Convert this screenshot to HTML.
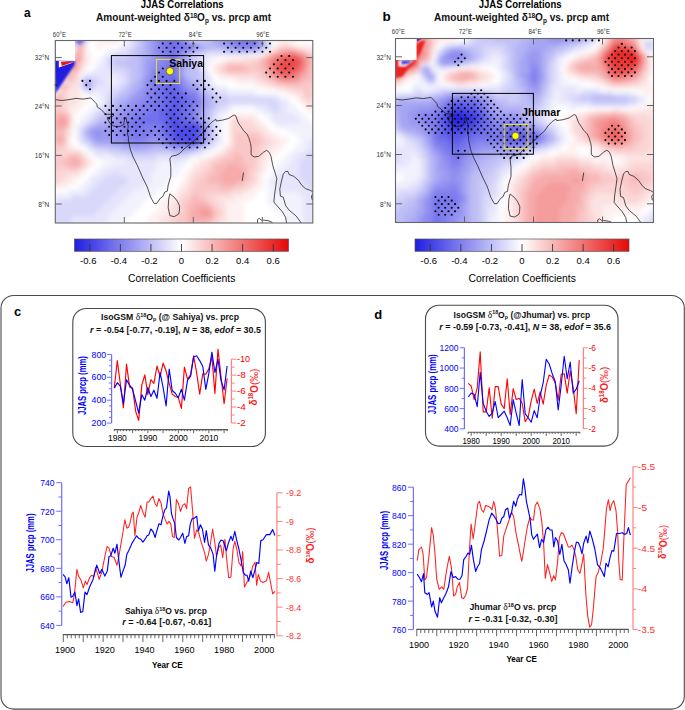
<!DOCTYPE html>
<html><head><meta charset="utf-8"><style>
html,body{margin:0;padding:0;background:#fff;}
svg{display:block;font-family:"Liberation Sans",sans-serif;}
</style></head><body>
<svg width="685" height="710" viewBox="0 0 685 710">
<defs><filter id="fb" x="-5%" y="-5%" width="110%" height="110%"><feGaussianBlur stdDeviation="2.2"/></filter><filter id="fb2" x="-20%" y="-20%" width="140%" height="140%"><feGaussianBlur stdDeviation="1.0"/></filter></defs>
<clipPath id="ca"><rect x="55.3" y="40.5" width="257.5" height="182.5"/></clipPath>
<g clip-path="url(#ca)">
<g filter="url(#fb)">
<rect x="51.3" y="36.5" width="4.6" height="4.6" fill="#211ee1"/>
<rect x="55.3" y="36.5" width="4.6" height="4.6" fill="#2724e2"/>
<rect x="59.3" y="36.5" width="4.6" height="4.6" fill="#5a58e9"/>
<rect x="63.3" y="36.5" width="4.6" height="4.6" fill="#7372ec"/>
<rect x="67.3" y="36.5" width="4.6" height="4.6" fill="#9a98f1"/>
<rect x="71.3" y="36.5" width="4.6" height="4.6" fill="#b3b2f5"/>
<rect x="75.3" y="36.5" width="8.6" height="4.6" fill="#a6a5f3"/>
<rect x="83.3" y="36.5" width="4.6" height="4.6" fill="#d9d8fa"/>
<rect x="87.3" y="36.5" width="4.6" height="4.6" fill="#f2f2fd"/>
<rect x="95.3" y="36.5" width="8.6" height="4.6" fill="#fef1f1"/>
<rect x="103.3" y="36.5" width="16.6" height="4.6" fill="#fce3e3"/>
<rect x="127.3" y="36.5" width="4.6" height="4.6" fill="#e6e5fc"/>
<rect x="131.3" y="36.5" width="4.6" height="4.6" fill="#d9d8fa"/>
<rect x="135.3" y="36.5" width="4.6" height="4.6" fill="#ccccf8"/>
<rect x="139.3" y="36.5" width="4.6" height="4.6" fill="#c0bff6"/>
<rect x="143.3" y="36.5" width="4.6" height="4.6" fill="#b3b2f5"/>
<rect x="147.3" y="36.5" width="4.6" height="4.6" fill="#a6a5f3"/>
<rect x="151.3" y="36.5" width="4.6" height="4.6" fill="#9a98f1"/>
<rect x="155.3" y="36.5" width="4.6" height="4.6" fill="#8d8bf0"/>
<rect x="159.3" y="36.5" width="8.6" height="4.6" fill="#807eee"/>
<rect x="167.3" y="36.5" width="4.6" height="4.6" fill="#7372ec"/>
<rect x="171.3" y="36.5" width="4.6" height="4.6" fill="#6765ea"/>
<rect x="175.3" y="36.5" width="4.6" height="4.6" fill="#7372ec"/>
<rect x="179.3" y="36.5" width="4.6" height="4.6" fill="#8d8bf0"/>
<rect x="183.3" y="36.5" width="4.6" height="4.6" fill="#a6a5f3"/>
<rect x="187.3" y="36.5" width="4.6" height="4.6" fill="#c0bff6"/>
<rect x="191.3" y="36.5" width="8.6" height="4.6" fill="#d9d8fa"/>
<rect x="199.3" y="36.5" width="8.6" height="4.6" fill="#ccccf8"/>
<rect x="207.3" y="36.5" width="4.6" height="4.6" fill="#c0bff6"/>
<rect x="211.3" y="36.5" width="4.6" height="4.6" fill="#b3b2f5"/>
<rect x="215.3" y="36.5" width="4.6" height="4.6" fill="#a6a5f3"/>
<rect x="219.3" y="36.5" width="4.6" height="4.6" fill="#9a98f1"/>
<rect x="223.3" y="36.5" width="8.6" height="4.6" fill="#8d8bf0"/>
<rect x="231.3" y="36.5" width="4.6" height="4.6" fill="#807eee"/>
<rect x="235.3" y="36.5" width="8.6" height="4.6" fill="#7372ec"/>
<rect x="243.3" y="36.5" width="8.6" height="4.6" fill="#6765ea"/>
<rect x="251.3" y="36.5" width="4.6" height="4.6" fill="#5a58e9"/>
<rect x="255.3" y="36.5" width="4.6" height="4.6" fill="#7372ec"/>
<rect x="259.3" y="36.5" width="4.6" height="4.6" fill="#a6a5f3"/>
<rect x="263.3" y="36.5" width="4.6" height="4.6" fill="#ccccf8"/>
<rect x="267.3" y="36.5" width="4.6" height="4.6" fill="#e6e5fc"/>
<rect x="275.3" y="36.5" width="32.6" height="4.6" fill="#fef1f1"/>
<rect x="51.3" y="40.5" width="4.6" height="4.6" fill="#211ee1"/>
<rect x="55.3" y="40.5" width="4.6" height="4.6" fill="#2724e2"/>
<rect x="59.3" y="40.5" width="4.6" height="4.6" fill="#4d4be7"/>
<rect x="63.3" y="40.5" width="4.6" height="4.6" fill="#807eee"/>
<rect x="67.3" y="40.5" width="4.6" height="4.6" fill="#a6a5f3"/>
<rect x="71.3" y="40.5" width="4.6" height="4.6" fill="#c0bff6"/>
<rect x="75.3" y="40.5" width="4.6" height="4.6" fill="#a6a5f3"/>
<rect x="79.3" y="40.5" width="4.6" height="4.6" fill="#9a98f1"/>
<rect x="83.3" y="40.5" width="4.6" height="4.6" fill="#d9d8fa"/>
<rect x="95.3" y="40.5" width="24.6" height="4.6" fill="#fef1f1"/>
<rect x="123.3" y="40.5" width="4.6" height="4.6" fill="#f2f2fd"/>
<rect x="127.3" y="40.5" width="4.6" height="4.6" fill="#e6e5fc"/>
<rect x="131.3" y="40.5" width="4.6" height="4.6" fill="#d9d8fa"/>
<rect x="135.3" y="40.5" width="4.6" height="4.6" fill="#ccccf8"/>
<rect x="139.3" y="40.5" width="4.6" height="4.6" fill="#c0bff6"/>
<rect x="143.3" y="40.5" width="4.6" height="4.6" fill="#b3b2f5"/>
<rect x="147.3" y="40.5" width="4.6" height="4.6" fill="#a6a5f3"/>
<rect x="151.3" y="40.5" width="4.6" height="4.6" fill="#9a98f1"/>
<rect x="155.3" y="40.5" width="4.6" height="4.6" fill="#8d8bf0"/>
<rect x="159.3" y="40.5" width="8.6" height="4.6" fill="#807eee"/>
<rect x="167.3" y="40.5" width="12.6" height="4.6" fill="#7372ec"/>
<rect x="179.3" y="40.5" width="4.6" height="4.6" fill="#807eee"/>
<rect x="183.3" y="40.5" width="4.6" height="4.6" fill="#8d8bf0"/>
<rect x="187.3" y="40.5" width="4.6" height="4.6" fill="#a6a5f3"/>
<rect x="191.3" y="40.5" width="4.6" height="4.6" fill="#b3b2f5"/>
<rect x="195.3" y="40.5" width="16.6" height="4.6" fill="#c0bff6"/>
<rect x="211.3" y="40.5" width="4.6" height="4.6" fill="#b3b2f5"/>
<rect x="215.3" y="40.5" width="8.6" height="4.6" fill="#a6a5f3"/>
<rect x="223.3" y="40.5" width="4.6" height="4.6" fill="#9a98f1"/>
<rect x="227.3" y="40.5" width="8.6" height="4.6" fill="#8d8bf0"/>
<rect x="235.3" y="40.5" width="20.6" height="4.6" fill="#807eee"/>
<rect x="255.3" y="40.5" width="4.6" height="4.6" fill="#8d8bf0"/>
<rect x="259.3" y="40.5" width="4.6" height="4.6" fill="#a6a5f3"/>
<rect x="263.3" y="40.5" width="4.6" height="4.6" fill="#ccccf8"/>
<rect x="267.3" y="40.5" width="4.6" height="4.6" fill="#e6e5fc"/>
<rect x="275.3" y="40.5" width="8.6" height="4.6" fill="#fef1f1"/>
<rect x="283.3" y="40.5" width="4.6" height="4.6" fill="#fce3e3"/>
<rect x="287.3" y="40.5" width="8.6" height="4.6" fill="#fef1f1"/>
<rect x="51.3" y="44.5" width="8.6" height="4.6" fill="#211ee1"/>
<rect x="59.3" y="44.5" width="4.6" height="4.6" fill="#4d4be7"/>
<rect x="63.3" y="44.5" width="4.6" height="4.6" fill="#807eee"/>
<rect x="67.3" y="44.5" width="4.6" height="4.6" fill="#b3b2f5"/>
<rect x="71.3" y="44.5" width="4.6" height="4.6" fill="#f2f2fd"/>
<rect x="75.3" y="44.5" width="4.6" height="4.6" fill="#f9c7c7"/>
<rect x="79.3" y="44.5" width="4.6" height="4.6" fill="#f6aaaa"/>
<rect x="83.3" y="44.5" width="4.6" height="4.6" fill="#fce3e3"/>
<rect x="95.3" y="44.5" width="8.6" height="4.6" fill="#fef1f1"/>
<rect x="119.3" y="44.5" width="4.6" height="4.6" fill="#f2f2fd"/>
<rect x="123.3" y="44.5" width="8.6" height="4.6" fill="#e6e5fc"/>
<rect x="131.3" y="44.5" width="4.6" height="4.6" fill="#d9d8fa"/>
<rect x="135.3" y="44.5" width="4.6" height="4.6" fill="#ccccf8"/>
<rect x="139.3" y="44.5" width="4.6" height="4.6" fill="#c0bff6"/>
<rect x="143.3" y="44.5" width="4.6" height="4.6" fill="#b3b2f5"/>
<rect x="147.3" y="44.5" width="4.6" height="4.6" fill="#a6a5f3"/>
<rect x="151.3" y="44.5" width="4.6" height="4.6" fill="#9a98f1"/>
<rect x="155.3" y="44.5" width="4.6" height="4.6" fill="#8d8bf0"/>
<rect x="159.3" y="44.5" width="4.6" height="4.6" fill="#807eee"/>
<rect x="163.3" y="44.5" width="28.6" height="4.6" fill="#7372ec"/>
<rect x="191.3" y="44.5" width="4.6" height="4.6" fill="#807eee"/>
<rect x="195.3" y="44.5" width="4.6" height="4.6" fill="#8d8bf0"/>
<rect x="199.3" y="44.5" width="4.6" height="4.6" fill="#a6a5f3"/>
<rect x="203.3" y="44.5" width="16.6" height="4.6" fill="#b3b2f5"/>
<rect x="219.3" y="44.5" width="8.6" height="4.6" fill="#a6a5f3"/>
<rect x="227.3" y="44.5" width="4.6" height="4.6" fill="#9a98f1"/>
<rect x="231.3" y="44.5" width="4.6" height="4.6" fill="#8d8bf0"/>
<rect x="235.3" y="44.5" width="20.6" height="4.6" fill="#807eee"/>
<rect x="255.3" y="44.5" width="4.6" height="4.6" fill="#8d8bf0"/>
<rect x="259.3" y="44.5" width="4.6" height="4.6" fill="#a6a5f3"/>
<rect x="263.3" y="44.5" width="4.6" height="4.6" fill="#c0bff6"/>
<rect x="267.3" y="44.5" width="4.6" height="4.6" fill="#d9d8fa"/>
<rect x="275.3" y="44.5" width="4.6" height="4.6" fill="#fce3e3"/>
<rect x="279.3" y="44.5" width="12.6" height="4.6" fill="#fbd5d5"/>
<rect x="291.3" y="44.5" width="4.6" height="4.6" fill="#fce3e3"/>
<rect x="295.3" y="44.5" width="24.6" height="4.6" fill="#fef1f1"/>
<rect x="51.3" y="48.5" width="8.6" height="4.6" fill="#211ee1"/>
<rect x="59.3" y="48.5" width="4.6" height="4.6" fill="#4d4be7"/>
<rect x="63.3" y="48.5" width="4.6" height="4.6" fill="#8d8bf0"/>
<rect x="67.3" y="48.5" width="4.6" height="4.6" fill="#c0bff6"/>
<rect x="75.3" y="48.5" width="8.6" height="4.6" fill="#f8b8b8"/>
<rect x="83.3" y="48.5" width="4.6" height="4.6" fill="#fce3e3"/>
<rect x="107.3" y="48.5" width="12.6" height="4.6" fill="#f2f2fd"/>
<rect x="119.3" y="48.5" width="8.6" height="4.6" fill="#e6e5fc"/>
<rect x="127.3" y="48.5" width="4.6" height="4.6" fill="#d9d8fa"/>
<rect x="131.3" y="48.5" width="4.6" height="4.6" fill="#ccccf8"/>
<rect x="135.3" y="48.5" width="8.6" height="4.6" fill="#c0bff6"/>
<rect x="143.3" y="48.5" width="4.6" height="4.6" fill="#b3b2f5"/>
<rect x="147.3" y="48.5" width="4.6" height="4.6" fill="#a6a5f3"/>
<rect x="151.3" y="48.5" width="4.6" height="4.6" fill="#9a98f1"/>
<rect x="155.3" y="48.5" width="4.6" height="4.6" fill="#8d8bf0"/>
<rect x="159.3" y="48.5" width="8.6" height="4.6" fill="#807eee"/>
<rect x="167.3" y="48.5" width="12.6" height="4.6" fill="#7372ec"/>
<rect x="179.3" y="48.5" width="4.6" height="4.6" fill="#807eee"/>
<rect x="183.3" y="48.5" width="8.6" height="4.6" fill="#8d8bf0"/>
<rect x="191.3" y="48.5" width="4.6" height="4.6" fill="#a6a5f3"/>
<rect x="195.3" y="48.5" width="8.6" height="4.6" fill="#b3b2f5"/>
<rect x="203.3" y="48.5" width="4.6" height="4.6" fill="#c0bff6"/>
<rect x="207.3" y="48.5" width="16.6" height="4.6" fill="#ccccf8"/>
<rect x="223.3" y="48.5" width="4.6" height="4.6" fill="#c0bff6"/>
<rect x="227.3" y="48.5" width="8.6" height="4.6" fill="#b3b2f5"/>
<rect x="235.3" y="48.5" width="8.6" height="4.6" fill="#a6a5f3"/>
<rect x="243.3" y="48.5" width="4.6" height="4.6" fill="#9a98f1"/>
<rect x="247.3" y="48.5" width="8.6" height="4.6" fill="#a6a5f3"/>
<rect x="255.3" y="48.5" width="4.6" height="4.6" fill="#b3b2f5"/>
<rect x="259.3" y="48.5" width="4.6" height="4.6" fill="#ccccf8"/>
<rect x="263.3" y="48.5" width="4.6" height="4.6" fill="#e6e5fc"/>
<rect x="271.3" y="48.5" width="4.6" height="4.6" fill="#fce3e3"/>
<rect x="275.3" y="48.5" width="4.6" height="4.6" fill="#f9c7c7"/>
<rect x="279.3" y="48.5" width="4.6" height="4.6" fill="#f8b8b8"/>
<rect x="283.3" y="48.5" width="12.6" height="4.6" fill="#f6aaaa"/>
<rect x="295.3" y="48.5" width="4.6" height="4.6" fill="#f8b8b8"/>
<rect x="299.3" y="48.5" width="4.6" height="4.6" fill="#f9c7c7"/>
<rect x="303.3" y="48.5" width="4.6" height="4.6" fill="#fbd5d5"/>
<rect x="307.3" y="48.5" width="8.6" height="4.6" fill="#fce3e3"/>
<rect x="315.3" y="48.5" width="4.6" height="4.6" fill="#fef1f1"/>
<rect x="51.3" y="52.5" width="8.6" height="4.6" fill="#211ee1"/>
<rect x="59.3" y="52.5" width="4.6" height="4.6" fill="#413ee5"/>
<rect x="63.3" y="52.5" width="4.6" height="4.6" fill="#9a98f1"/>
<rect x="67.3" y="52.5" width="4.6" height="4.6" fill="#d9d8fa"/>
<rect x="71.3" y="52.5" width="4.6" height="4.6" fill="#fce3e3"/>
<rect x="75.3" y="52.5" width="4.6" height="4.6" fill="#f6aaaa"/>
<rect x="79.3" y="52.5" width="4.6" height="4.6" fill="#f8b8b8"/>
<rect x="83.3" y="52.5" width="4.6" height="4.6" fill="#fce3e3"/>
<rect x="87.3" y="52.5" width="4.6" height="4.6" fill="#fef1f1"/>
<rect x="103.3" y="52.5" width="8.6" height="4.6" fill="#f2f2fd"/>
<rect x="111.3" y="52.5" width="4.6" height="4.6" fill="#e6e5fc"/>
<rect x="115.3" y="52.5" width="12.6" height="4.6" fill="#d9d8fa"/>
<rect x="127.3" y="52.5" width="8.6" height="4.6" fill="#ccccf8"/>
<rect x="135.3" y="52.5" width="4.6" height="4.6" fill="#c0bff6"/>
<rect x="139.3" y="52.5" width="8.6" height="4.6" fill="#b3b2f5"/>
<rect x="147.3" y="52.5" width="4.6" height="4.6" fill="#a6a5f3"/>
<rect x="151.3" y="52.5" width="4.6" height="4.6" fill="#9a98f1"/>
<rect x="155.3" y="52.5" width="8.6" height="4.6" fill="#8d8bf0"/>
<rect x="163.3" y="52.5" width="8.6" height="4.6" fill="#807eee"/>
<rect x="171.3" y="52.5" width="4.6" height="4.6" fill="#7372ec"/>
<rect x="175.3" y="52.5" width="4.6" height="4.6" fill="#807eee"/>
<rect x="179.3" y="52.5" width="4.6" height="4.6" fill="#8d8bf0"/>
<rect x="183.3" y="52.5" width="4.6" height="4.6" fill="#a6a5f3"/>
<rect x="187.3" y="52.5" width="4.6" height="4.6" fill="#b3b2f5"/>
<rect x="191.3" y="52.5" width="8.6" height="4.6" fill="#ccccf8"/>
<rect x="199.3" y="52.5" width="8.6" height="4.6" fill="#d9d8fa"/>
<rect x="207.3" y="52.5" width="40.6" height="4.6" fill="#e6e5fc"/>
<rect x="247.3" y="52.5" width="12.6" height="4.6" fill="#f2f2fd"/>
<rect x="263.3" y="52.5" width="4.6" height="4.6" fill="#fce3e3"/>
<rect x="267.3" y="52.5" width="4.6" height="4.6" fill="#f9c7c7"/>
<rect x="271.3" y="52.5" width="4.6" height="4.6" fill="#f6aaaa"/>
<rect x="275.3" y="52.5" width="4.6" height="4.6" fill="#f59c9c"/>
<rect x="279.3" y="52.5" width="4.6" height="4.6" fill="#f48e8e"/>
<rect x="283.3" y="52.5" width="4.6" height="4.6" fill="#f28080"/>
<rect x="287.3" y="52.5" width="8.6" height="4.6" fill="#f17272"/>
<rect x="295.3" y="52.5" width="4.6" height="4.6" fill="#f28080"/>
<rect x="299.3" y="52.5" width="4.6" height="4.6" fill="#f59c9c"/>
<rect x="303.3" y="52.5" width="4.6" height="4.6" fill="#f6aaaa"/>
<rect x="307.3" y="52.5" width="4.6" height="4.6" fill="#f9c7c7"/>
<rect x="311.3" y="52.5" width="4.6" height="4.6" fill="#fbd5d5"/>
<rect x="315.3" y="52.5" width="4.6" height="4.6" fill="#fce3e3"/>
<rect x="51.3" y="56.5" width="8.6" height="4.6" fill="#211ee1"/>
<rect x="59.3" y="56.5" width="4.6" height="4.6" fill="#413ee5"/>
<rect x="63.3" y="56.5" width="4.6" height="4.6" fill="#9a98f1"/>
<rect x="67.3" y="56.5" width="4.6" height="4.6" fill="#e6e5fc"/>
<rect x="71.3" y="56.5" width="4.6" height="4.6" fill="#f9c7c7"/>
<rect x="75.3" y="56.5" width="4.6" height="4.6" fill="#f59c9c"/>
<rect x="79.3" y="56.5" width="4.6" height="4.6" fill="#f8b8b8"/>
<rect x="83.3" y="56.5" width="4.6" height="4.6" fill="#fce3e3"/>
<rect x="87.3" y="56.5" width="4.6" height="4.6" fill="#fef1f1"/>
<rect x="99.3" y="56.5" width="4.6" height="4.6" fill="#f2f2fd"/>
<rect x="103.3" y="56.5" width="4.6" height="4.6" fill="#e6e5fc"/>
<rect x="107.3" y="56.5" width="4.6" height="4.6" fill="#d9d8fa"/>
<rect x="111.3" y="56.5" width="16.6" height="4.6" fill="#ccccf8"/>
<rect x="127.3" y="56.5" width="12.6" height="4.6" fill="#c0bff6"/>
<rect x="139.3" y="56.5" width="4.6" height="4.6" fill="#b3b2f5"/>
<rect x="143.3" y="56.5" width="8.6" height="4.6" fill="#a6a5f3"/>
<rect x="151.3" y="56.5" width="4.6" height="4.6" fill="#9a98f1"/>
<rect x="155.3" y="56.5" width="8.6" height="4.6" fill="#8d8bf0"/>
<rect x="163.3" y="56.5" width="8.6" height="4.6" fill="#807eee"/>
<rect x="171.3" y="56.5" width="4.6" height="4.6" fill="#7372ec"/>
<rect x="175.3" y="56.5" width="4.6" height="4.6" fill="#807eee"/>
<rect x="179.3" y="56.5" width="4.6" height="4.6" fill="#9a98f1"/>
<rect x="183.3" y="56.5" width="4.6" height="4.6" fill="#a6a5f3"/>
<rect x="187.3" y="56.5" width="4.6" height="4.6" fill="#c0bff6"/>
<rect x="191.3" y="56.5" width="4.6" height="4.6" fill="#ccccf8"/>
<rect x="195.3" y="56.5" width="4.6" height="4.6" fill="#d9d8fa"/>
<rect x="199.3" y="56.5" width="8.6" height="4.6" fill="#e6e5fc"/>
<rect x="207.3" y="56.5" width="8.6" height="4.6" fill="#f2f2fd"/>
<rect x="227.3" y="56.5" width="16.6" height="4.6" fill="#fef1f1"/>
<rect x="243.3" y="56.5" width="16.6" height="4.6" fill="#fce3e3"/>
<rect x="259.3" y="56.5" width="4.6" height="4.6" fill="#f9c7c7"/>
<rect x="263.3" y="56.5" width="4.6" height="4.6" fill="#f8b8b8"/>
<rect x="267.3" y="56.5" width="4.6" height="4.6" fill="#f59c9c"/>
<rect x="271.3" y="56.5" width="4.6" height="4.6" fill="#f48e8e"/>
<rect x="275.3" y="56.5" width="4.6" height="4.6" fill="#f17272"/>
<rect x="279.3" y="56.5" width="4.6" height="4.6" fill="#ef6464"/>
<rect x="283.3" y="56.5" width="8.6" height="4.6" fill="#ee5656"/>
<rect x="291.3" y="56.5" width="4.6" height="4.6" fill="#ec4848"/>
<rect x="295.3" y="56.5" width="4.6" height="4.6" fill="#ee5656"/>
<rect x="299.3" y="56.5" width="4.6" height="4.6" fill="#f17272"/>
<rect x="303.3" y="56.5" width="4.6" height="4.6" fill="#f48e8e"/>
<rect x="307.3" y="56.5" width="4.6" height="4.6" fill="#f6aaaa"/>
<rect x="311.3" y="56.5" width="4.6" height="4.6" fill="#f9c7c7"/>
<rect x="315.3" y="56.5" width="4.6" height="4.6" fill="#fbd5d5"/>
<rect x="51.3" y="60.5" width="8.6" height="4.6" fill="#211ee1"/>
<rect x="59.3" y="60.5" width="4.6" height="4.6" fill="#4d4be7"/>
<rect x="63.3" y="60.5" width="4.6" height="4.6" fill="#a6a5f3"/>
<rect x="71.3" y="60.5" width="4.6" height="4.6" fill="#f8b8b8"/>
<rect x="75.3" y="60.5" width="4.6" height="4.6" fill="#f6aaaa"/>
<rect x="79.3" y="60.5" width="4.6" height="4.6" fill="#f9c7c7"/>
<rect x="83.3" y="60.5" width="4.6" height="4.6" fill="#fce3e3"/>
<rect x="87.3" y="60.5" width="4.6" height="4.6" fill="#fef1f1"/>
<rect x="95.3" y="60.5" width="8.6" height="4.6" fill="#f2f2fd"/>
<rect x="103.3" y="60.5" width="4.6" height="4.6" fill="#e6e5fc"/>
<rect x="107.3" y="60.5" width="4.6" height="4.6" fill="#d9d8fa"/>
<rect x="111.3" y="60.5" width="4.6" height="4.6" fill="#ccccf8"/>
<rect x="115.3" y="60.5" width="24.6" height="4.6" fill="#c0bff6"/>
<rect x="139.3" y="60.5" width="4.6" height="4.6" fill="#b3b2f5"/>
<rect x="143.3" y="60.5" width="4.6" height="4.6" fill="#a6a5f3"/>
<rect x="147.3" y="60.5" width="8.6" height="4.6" fill="#9a98f1"/>
<rect x="155.3" y="60.5" width="8.6" height="4.6" fill="#8d8bf0"/>
<rect x="163.3" y="60.5" width="8.6" height="4.6" fill="#807eee"/>
<rect x="171.3" y="60.5" width="4.6" height="4.6" fill="#7372ec"/>
<rect x="175.3" y="60.5" width="4.6" height="4.6" fill="#807eee"/>
<rect x="179.3" y="60.5" width="4.6" height="4.6" fill="#9a98f1"/>
<rect x="183.3" y="60.5" width="4.6" height="4.6" fill="#a6a5f3"/>
<rect x="187.3" y="60.5" width="4.6" height="4.6" fill="#c0bff6"/>
<rect x="191.3" y="60.5" width="8.6" height="4.6" fill="#ccccf8"/>
<rect x="199.3" y="60.5" width="4.6" height="4.6" fill="#d9d8fa"/>
<rect x="203.3" y="60.5" width="4.6" height="4.6" fill="#e6e5fc"/>
<rect x="207.3" y="60.5" width="4.6" height="4.6" fill="#f2f2fd"/>
<rect x="215.3" y="60.5" width="8.6" height="4.6" fill="#fef1f1"/>
<rect x="223.3" y="60.5" width="4.6" height="4.6" fill="#fce3e3"/>
<rect x="227.3" y="60.5" width="24.6" height="4.6" fill="#fbd5d5"/>
<rect x="251.3" y="60.5" width="8.6" height="4.6" fill="#f9c7c7"/>
<rect x="259.3" y="60.5" width="4.6" height="4.6" fill="#f8b8b8"/>
<rect x="263.3" y="60.5" width="4.6" height="4.6" fill="#f6aaaa"/>
<rect x="267.3" y="60.5" width="4.6" height="4.6" fill="#f48e8e"/>
<rect x="271.3" y="60.5" width="4.6" height="4.6" fill="#f17272"/>
<rect x="275.3" y="60.5" width="4.6" height="4.6" fill="#ef6464"/>
<rect x="279.3" y="60.5" width="4.6" height="4.6" fill="#ee5656"/>
<rect x="283.3" y="60.5" width="16.6" height="4.6" fill="#ec4848"/>
<rect x="299.3" y="60.5" width="4.6" height="4.6" fill="#ef6464"/>
<rect x="303.3" y="60.5" width="4.6" height="4.6" fill="#f48e8e"/>
<rect x="307.3" y="60.5" width="4.6" height="4.6" fill="#f6aaaa"/>
<rect x="311.3" y="60.5" width="4.6" height="4.6" fill="#f9c7c7"/>
<rect x="315.3" y="60.5" width="4.6" height="4.6" fill="#fbd5d5"/>
<rect x="51.3" y="64.5" width="8.6" height="4.6" fill="#211ee1"/>
<rect x="59.3" y="64.5" width="4.6" height="4.6" fill="#5a58e9"/>
<rect x="63.3" y="64.5" width="4.6" height="4.6" fill="#b3b2f5"/>
<rect x="67.3" y="64.5" width="4.6" height="4.6" fill="#fce3e3"/>
<rect x="71.3" y="64.5" width="4.6" height="4.6" fill="#f59c9c"/>
<rect x="75.3" y="64.5" width="4.6" height="4.6" fill="#f6aaaa"/>
<rect x="79.3" y="64.5" width="4.6" height="4.6" fill="#fbd5d5"/>
<rect x="83.3" y="64.5" width="4.6" height="4.6" fill="#fef1f1"/>
<rect x="95.3" y="64.5" width="4.6" height="4.6" fill="#f2f2fd"/>
<rect x="99.3" y="64.5" width="8.6" height="4.6" fill="#e6e5fc"/>
<rect x="107.3" y="64.5" width="8.6" height="4.6" fill="#d9d8fa"/>
<rect x="115.3" y="64.5" width="12.6" height="4.6" fill="#ccccf8"/>
<rect x="127.3" y="64.5" width="12.6" height="4.6" fill="#c0bff6"/>
<rect x="139.3" y="64.5" width="4.6" height="4.6" fill="#b3b2f5"/>
<rect x="143.3" y="64.5" width="4.6" height="4.6" fill="#a6a5f3"/>
<rect x="147.3" y="64.5" width="4.6" height="4.6" fill="#9a98f1"/>
<rect x="151.3" y="64.5" width="8.6" height="4.6" fill="#8d8bf0"/>
<rect x="159.3" y="64.5" width="8.6" height="4.6" fill="#807eee"/>
<rect x="167.3" y="64.5" width="8.6" height="4.6" fill="#7372ec"/>
<rect x="175.3" y="64.5" width="4.6" height="4.6" fill="#807eee"/>
<rect x="179.3" y="64.5" width="4.6" height="4.6" fill="#9a98f1"/>
<rect x="183.3" y="64.5" width="4.6" height="4.6" fill="#a6a5f3"/>
<rect x="187.3" y="64.5" width="4.6" height="4.6" fill="#b3b2f5"/>
<rect x="191.3" y="64.5" width="4.6" height="4.6" fill="#c0bff6"/>
<rect x="195.3" y="64.5" width="4.6" height="4.6" fill="#ccccf8"/>
<rect x="199.3" y="64.5" width="4.6" height="4.6" fill="#d9d8fa"/>
<rect x="203.3" y="64.5" width="4.6" height="4.6" fill="#e6e5fc"/>
<rect x="211.3" y="64.5" width="4.6" height="4.6" fill="#fef1f1"/>
<rect x="215.3" y="64.5" width="4.6" height="4.6" fill="#fce3e3"/>
<rect x="219.3" y="64.5" width="4.6" height="4.6" fill="#fbd5d5"/>
<rect x="223.3" y="64.5" width="4.6" height="4.6" fill="#f9c7c7"/>
<rect x="227.3" y="64.5" width="16.6" height="4.6" fill="#f8b8b8"/>
<rect x="243.3" y="64.5" width="16.6" height="4.6" fill="#f9c7c7"/>
<rect x="259.3" y="64.5" width="4.6" height="4.6" fill="#f8b8b8"/>
<rect x="263.3" y="64.5" width="4.6" height="4.6" fill="#f6aaaa"/>
<rect x="267.3" y="64.5" width="4.6" height="4.6" fill="#f48e8e"/>
<rect x="271.3" y="64.5" width="4.6" height="4.6" fill="#f17272"/>
<rect x="275.3" y="64.5" width="4.6" height="4.6" fill="#ee5656"/>
<rect x="279.3" y="64.5" width="16.6" height="4.6" fill="#ec4848"/>
<rect x="295.3" y="64.5" width="4.6" height="4.6" fill="#ee5656"/>
<rect x="299.3" y="64.5" width="4.6" height="4.6" fill="#f17272"/>
<rect x="303.3" y="64.5" width="4.6" height="4.6" fill="#f48e8e"/>
<rect x="307.3" y="64.5" width="4.6" height="4.6" fill="#f6aaaa"/>
<rect x="311.3" y="64.5" width="4.6" height="4.6" fill="#f9c7c7"/>
<rect x="315.3" y="64.5" width="4.6" height="4.6" fill="#fbd5d5"/>
<rect x="51.3" y="68.5" width="8.6" height="4.6" fill="#211ee1"/>
<rect x="59.3" y="68.5" width="4.6" height="4.6" fill="#7372ec"/>
<rect x="63.3" y="68.5" width="4.6" height="4.6" fill="#d9d8fa"/>
<rect x="67.3" y="68.5" width="4.6" height="4.6" fill="#fbd5d5"/>
<rect x="71.3" y="68.5" width="4.6" height="4.6" fill="#f6aaaa"/>
<rect x="75.3" y="68.5" width="4.6" height="4.6" fill="#f8b8b8"/>
<rect x="79.3" y="68.5" width="4.6" height="4.6" fill="#fce3e3"/>
<rect x="83.3" y="68.5" width="4.6" height="4.6" fill="#fef1f1"/>
<rect x="91.3" y="68.5" width="4.6" height="4.6" fill="#f2f2fd"/>
<rect x="95.3" y="68.5" width="16.6" height="4.6" fill="#e6e5fc"/>
<rect x="111.3" y="68.5" width="12.6" height="4.6" fill="#d9d8fa"/>
<rect x="123.3" y="68.5" width="8.6" height="4.6" fill="#ccccf8"/>
<rect x="131.3" y="68.5" width="8.6" height="4.6" fill="#c0bff6"/>
<rect x="139.3" y="68.5" width="4.6" height="4.6" fill="#b3b2f5"/>
<rect x="143.3" y="68.5" width="4.6" height="4.6" fill="#a6a5f3"/>
<rect x="147.3" y="68.5" width="4.6" height="4.6" fill="#9a98f1"/>
<rect x="151.3" y="68.5" width="4.6" height="4.6" fill="#8d8bf0"/>
<rect x="155.3" y="68.5" width="12.6" height="4.6" fill="#807eee"/>
<rect x="167.3" y="68.5" width="8.6" height="4.6" fill="#7372ec"/>
<rect x="175.3" y="68.5" width="4.6" height="4.6" fill="#807eee"/>
<rect x="179.3" y="68.5" width="4.6" height="4.6" fill="#9a98f1"/>
<rect x="183.3" y="68.5" width="4.6" height="4.6" fill="#b3b2f5"/>
<rect x="187.3" y="68.5" width="12.6" height="4.6" fill="#c0bff6"/>
<rect x="199.3" y="68.5" width="4.6" height="4.6" fill="#d9d8fa"/>
<rect x="203.3" y="68.5" width="4.6" height="4.6" fill="#e6e5fc"/>
<rect x="211.3" y="68.5" width="4.6" height="4.6" fill="#fef1f1"/>
<rect x="215.3" y="68.5" width="4.6" height="4.6" fill="#fce3e3"/>
<rect x="219.3" y="68.5" width="4.6" height="4.6" fill="#fbd5d5"/>
<rect x="223.3" y="68.5" width="4.6" height="4.6" fill="#f9c7c7"/>
<rect x="227.3" y="68.5" width="20.6" height="4.6" fill="#f8b8b8"/>
<rect x="247.3" y="68.5" width="16.6" height="4.6" fill="#f9c7c7"/>
<rect x="263.3" y="68.5" width="4.6" height="4.6" fill="#f8b8b8"/>
<rect x="267.3" y="68.5" width="4.6" height="4.6" fill="#f59c9c"/>
<rect x="271.3" y="68.5" width="4.6" height="4.6" fill="#f28080"/>
<rect x="275.3" y="68.5" width="4.6" height="4.6" fill="#ef6464"/>
<rect x="279.3" y="68.5" width="4.6" height="4.6" fill="#ee5656"/>
<rect x="283.3" y="68.5" width="4.6" height="4.6" fill="#ec4848"/>
<rect x="287.3" y="68.5" width="8.6" height="4.6" fill="#ee5656"/>
<rect x="295.3" y="68.5" width="4.6" height="4.6" fill="#ef6464"/>
<rect x="299.3" y="68.5" width="4.6" height="4.6" fill="#f28080"/>
<rect x="303.3" y="68.5" width="4.6" height="4.6" fill="#f59c9c"/>
<rect x="307.3" y="68.5" width="4.6" height="4.6" fill="#f8b8b8"/>
<rect x="311.3" y="68.5" width="4.6" height="4.6" fill="#f9c7c7"/>
<rect x="315.3" y="68.5" width="4.6" height="4.6" fill="#fbd5d5"/>
<rect x="51.3" y="72.5" width="4.6" height="4.6" fill="#211ee1"/>
<rect x="55.3" y="72.5" width="4.6" height="4.6" fill="#2724e2"/>
<rect x="59.3" y="72.5" width="4.6" height="4.6" fill="#8d8bf0"/>
<rect x="63.3" y="72.5" width="4.6" height="4.6" fill="#fef1f1"/>
<rect x="67.3" y="72.5" width="4.6" height="4.6" fill="#f6aaaa"/>
<rect x="71.3" y="72.5" width="4.6" height="4.6" fill="#f9c7c7"/>
<rect x="75.3" y="72.5" width="4.6" height="4.6" fill="#fbd5d5"/>
<rect x="79.3" y="72.5" width="4.6" height="4.6" fill="#fef1f1"/>
<rect x="83.3" y="72.5" width="4.6" height="4.6" fill="#f2f2fd"/>
<rect x="87.3" y="72.5" width="32.6" height="4.6" fill="#e6e5fc"/>
<rect x="119.3" y="72.5" width="8.6" height="4.6" fill="#d9d8fa"/>
<rect x="127.3" y="72.5" width="4.6" height="4.6" fill="#ccccf8"/>
<rect x="131.3" y="72.5" width="8.6" height="4.6" fill="#c0bff6"/>
<rect x="139.3" y="72.5" width="4.6" height="4.6" fill="#b3b2f5"/>
<rect x="143.3" y="72.5" width="4.6" height="4.6" fill="#a6a5f3"/>
<rect x="147.3" y="72.5" width="4.6" height="4.6" fill="#9a98f1"/>
<rect x="151.3" y="72.5" width="8.6" height="4.6" fill="#807eee"/>
<rect x="159.3" y="72.5" width="16.6" height="4.6" fill="#7372ec"/>
<rect x="175.3" y="72.5" width="4.6" height="4.6" fill="#807eee"/>
<rect x="179.3" y="72.5" width="4.6" height="4.6" fill="#9a98f1"/>
<rect x="183.3" y="72.5" width="4.6" height="4.6" fill="#b3b2f5"/>
<rect x="187.3" y="72.5" width="12.6" height="4.6" fill="#c0bff6"/>
<rect x="199.3" y="72.5" width="4.6" height="4.6" fill="#ccccf8"/>
<rect x="203.3" y="72.5" width="4.6" height="4.6" fill="#d9d8fa"/>
<rect x="207.3" y="72.5" width="4.6" height="4.6" fill="#f2f2fd"/>
<rect x="215.3" y="72.5" width="4.6" height="4.6" fill="#fef1f1"/>
<rect x="219.3" y="72.5" width="8.6" height="4.6" fill="#fce3e3"/>
<rect x="227.3" y="72.5" width="32.6" height="4.6" fill="#fbd5d5"/>
<rect x="259.3" y="72.5" width="4.6" height="4.6" fill="#f9c7c7"/>
<rect x="263.3" y="72.5" width="4.6" height="4.6" fill="#f8b8b8"/>
<rect x="267.3" y="72.5" width="4.6" height="4.6" fill="#f6aaaa"/>
<rect x="271.3" y="72.5" width="4.6" height="4.6" fill="#f48e8e"/>
<rect x="275.3" y="72.5" width="4.6" height="4.6" fill="#f28080"/>
<rect x="279.3" y="72.5" width="12.6" height="4.6" fill="#ef6464"/>
<rect x="291.3" y="72.5" width="4.6" height="4.6" fill="#f17272"/>
<rect x="295.3" y="72.5" width="4.6" height="4.6" fill="#f28080"/>
<rect x="299.3" y="72.5" width="4.6" height="4.6" fill="#f59c9c"/>
<rect x="303.3" y="72.5" width="4.6" height="4.6" fill="#f6aaaa"/>
<rect x="307.3" y="72.5" width="4.6" height="4.6" fill="#f8b8b8"/>
<rect x="311.3" y="72.5" width="4.6" height="4.6" fill="#f9c7c7"/>
<rect x="315.3" y="72.5" width="4.6" height="4.6" fill="#fbd5d5"/>
<rect x="51.3" y="76.5" width="4.6" height="4.6" fill="#211ee1"/>
<rect x="55.3" y="76.5" width="4.6" height="4.6" fill="#413ee5"/>
<rect x="59.3" y="76.5" width="4.6" height="4.6" fill="#a6a5f3"/>
<rect x="63.3" y="76.5" width="4.6" height="4.6" fill="#fce3e3"/>
<rect x="67.3" y="76.5" width="4.6" height="4.6" fill="#f6aaaa"/>
<rect x="71.3" y="76.5" width="4.6" height="4.6" fill="#f9c7c7"/>
<rect x="75.3" y="76.5" width="4.6" height="4.6" fill="#fbd5d5"/>
<rect x="79.3" y="76.5" width="4.6" height="4.6" fill="#f2f2fd"/>
<rect x="83.3" y="76.5" width="8.6" height="4.6" fill="#ccccf8"/>
<rect x="91.3" y="76.5" width="8.6" height="4.6" fill="#d9d8fa"/>
<rect x="99.3" y="76.5" width="12.6" height="4.6" fill="#e6e5fc"/>
<rect x="111.3" y="76.5" width="4.6" height="4.6" fill="#f2f2fd"/>
<rect x="115.3" y="76.5" width="8.6" height="4.6" fill="#e6e5fc"/>
<rect x="123.3" y="76.5" width="4.6" height="4.6" fill="#d9d8fa"/>
<rect x="127.3" y="76.5" width="4.6" height="4.6" fill="#ccccf8"/>
<rect x="131.3" y="76.5" width="8.6" height="4.6" fill="#c0bff6"/>
<rect x="139.3" y="76.5" width="4.6" height="4.6" fill="#b3b2f5"/>
<rect x="143.3" y="76.5" width="4.6" height="4.6" fill="#9a98f1"/>
<rect x="147.3" y="76.5" width="4.6" height="4.6" fill="#8d8bf0"/>
<rect x="151.3" y="76.5" width="4.6" height="4.6" fill="#807eee"/>
<rect x="155.3" y="76.5" width="16.6" height="4.6" fill="#7372ec"/>
<rect x="171.3" y="76.5" width="4.6" height="4.6" fill="#6765ea"/>
<rect x="175.3" y="76.5" width="4.6" height="4.6" fill="#7372ec"/>
<rect x="179.3" y="76.5" width="4.6" height="4.6" fill="#8d8bf0"/>
<rect x="183.3" y="76.5" width="4.6" height="4.6" fill="#a6a5f3"/>
<rect x="187.3" y="76.5" width="4.6" height="4.6" fill="#b3b2f5"/>
<rect x="191.3" y="76.5" width="8.6" height="4.6" fill="#c0bff6"/>
<rect x="199.3" y="76.5" width="4.6" height="4.6" fill="#ccccf8"/>
<rect x="203.3" y="76.5" width="4.6" height="4.6" fill="#d9d8fa"/>
<rect x="207.3" y="76.5" width="4.6" height="4.6" fill="#e6e5fc"/>
<rect x="219.3" y="76.5" width="16.6" height="4.6" fill="#fef1f1"/>
<rect x="235.3" y="76.5" width="20.6" height="4.6" fill="#fce3e3"/>
<rect x="255.3" y="76.5" width="8.6" height="4.6" fill="#fbd5d5"/>
<rect x="263.3" y="76.5" width="4.6" height="4.6" fill="#f9c7c7"/>
<rect x="267.3" y="76.5" width="4.6" height="4.6" fill="#f8b8b8"/>
<rect x="271.3" y="76.5" width="4.6" height="4.6" fill="#f6aaaa"/>
<rect x="275.3" y="76.5" width="4.6" height="4.6" fill="#f59c9c"/>
<rect x="279.3" y="76.5" width="4.6" height="4.6" fill="#f48e8e"/>
<rect x="283.3" y="76.5" width="8.6" height="4.6" fill="#f28080"/>
<rect x="291.3" y="76.5" width="8.6" height="4.6" fill="#f48e8e"/>
<rect x="299.3" y="76.5" width="4.6" height="4.6" fill="#f6aaaa"/>
<rect x="303.3" y="76.5" width="8.6" height="4.6" fill="#f8b8b8"/>
<rect x="311.3" y="76.5" width="8.6" height="4.6" fill="#f9c7c7"/>
<rect x="51.3" y="80.5" width="4.6" height="4.6" fill="#413ee5"/>
<rect x="55.3" y="80.5" width="4.6" height="4.6" fill="#807eee"/>
<rect x="59.3" y="80.5" width="4.6" height="4.6" fill="#f2f2fd"/>
<rect x="63.3" y="80.5" width="12.6" height="4.6" fill="#fbd5d5"/>
<rect x="75.3" y="80.5" width="4.6" height="4.6" fill="#fce3e3"/>
<rect x="79.3" y="80.5" width="4.6" height="4.6" fill="#e6e5fc"/>
<rect x="83.3" y="80.5" width="8.6" height="4.6" fill="#a6a5f3"/>
<rect x="91.3" y="80.5" width="4.6" height="4.6" fill="#ccccf8"/>
<rect x="95.3" y="80.5" width="8.6" height="4.6" fill="#d9d8fa"/>
<rect x="103.3" y="80.5" width="8.6" height="4.6" fill="#e6e5fc"/>
<rect x="111.3" y="80.5" width="4.6" height="4.6" fill="#f2f2fd"/>
<rect x="115.3" y="80.5" width="8.6" height="4.6" fill="#e6e5fc"/>
<rect x="123.3" y="80.5" width="4.6" height="4.6" fill="#d9d8fa"/>
<rect x="127.3" y="80.5" width="4.6" height="4.6" fill="#ccccf8"/>
<rect x="131.3" y="80.5" width="4.6" height="4.6" fill="#c0bff6"/>
<rect x="135.3" y="80.5" width="4.6" height="4.6" fill="#b3b2f5"/>
<rect x="139.3" y="80.5" width="4.6" height="4.6" fill="#a6a5f3"/>
<rect x="143.3" y="80.5" width="4.6" height="4.6" fill="#9a98f1"/>
<rect x="147.3" y="80.5" width="4.6" height="4.6" fill="#8d8bf0"/>
<rect x="151.3" y="80.5" width="4.6" height="4.6" fill="#807eee"/>
<rect x="155.3" y="80.5" width="12.6" height="4.6" fill="#7372ec"/>
<rect x="167.3" y="80.5" width="8.6" height="4.6" fill="#6765ea"/>
<rect x="175.3" y="80.5" width="4.6" height="4.6" fill="#7372ec"/>
<rect x="179.3" y="80.5" width="4.6" height="4.6" fill="#807eee"/>
<rect x="183.3" y="80.5" width="4.6" height="4.6" fill="#9a98f1"/>
<rect x="187.3" y="80.5" width="4.6" height="4.6" fill="#a6a5f3"/>
<rect x="191.3" y="80.5" width="8.6" height="4.6" fill="#b3b2f5"/>
<rect x="199.3" y="80.5" width="4.6" height="4.6" fill="#c0bff6"/>
<rect x="203.3" y="80.5" width="4.6" height="4.6" fill="#d9d8fa"/>
<rect x="207.3" y="80.5" width="4.6" height="4.6" fill="#e6e5fc"/>
<rect x="211.3" y="80.5" width="4.6" height="4.6" fill="#f2f2fd"/>
<rect x="235.3" y="80.5" width="20.6" height="4.6" fill="#fef1f1"/>
<rect x="255.3" y="80.5" width="8.6" height="4.6" fill="#fce3e3"/>
<rect x="263.3" y="80.5" width="8.6" height="4.6" fill="#fbd5d5"/>
<rect x="271.3" y="80.5" width="4.6" height="4.6" fill="#f9c7c7"/>
<rect x="275.3" y="80.5" width="4.6" height="4.6" fill="#f8b8b8"/>
<rect x="279.3" y="80.5" width="20.6" height="4.6" fill="#f6aaaa"/>
<rect x="299.3" y="80.5" width="4.6" height="4.6" fill="#f8b8b8"/>
<rect x="303.3" y="80.5" width="12.6" height="4.6" fill="#f9c7c7"/>
<rect x="315.3" y="80.5" width="4.6" height="4.6" fill="#fbd5d5"/>
<rect x="51.3" y="84.5" width="4.6" height="4.6" fill="#9a98f1"/>
<rect x="55.3" y="84.5" width="4.6" height="4.6" fill="#ccccf8"/>
<rect x="59.3" y="84.5" width="4.6" height="4.6" fill="#f9c7c7"/>
<rect x="63.3" y="84.5" width="4.6" height="4.6" fill="#f6aaaa"/>
<rect x="67.3" y="84.5" width="4.6" height="4.6" fill="#fbd5d5"/>
<rect x="71.3" y="84.5" width="8.6" height="4.6" fill="#fce3e3"/>
<rect x="79.3" y="84.5" width="4.6" height="4.6" fill="#e6e5fc"/>
<rect x="83.3" y="84.5" width="8.6" height="4.6" fill="#b3b2f5"/>
<rect x="91.3" y="84.5" width="4.6" height="4.6" fill="#ccccf8"/>
<rect x="95.3" y="84.5" width="24.6" height="4.6" fill="#e6e5fc"/>
<rect x="119.3" y="84.5" width="4.6" height="4.6" fill="#d9d8fa"/>
<rect x="123.3" y="84.5" width="4.6" height="4.6" fill="#ccccf8"/>
<rect x="127.3" y="84.5" width="4.6" height="4.6" fill="#c0bff6"/>
<rect x="131.3" y="84.5" width="8.6" height="4.6" fill="#b3b2f5"/>
<rect x="139.3" y="84.5" width="4.6" height="4.6" fill="#a6a5f3"/>
<rect x="143.3" y="84.5" width="4.6" height="4.6" fill="#9a98f1"/>
<rect x="147.3" y="84.5" width="4.6" height="4.6" fill="#8d8bf0"/>
<rect x="151.3" y="84.5" width="4.6" height="4.6" fill="#807eee"/>
<rect x="155.3" y="84.5" width="8.6" height="4.6" fill="#7372ec"/>
<rect x="163.3" y="84.5" width="16.6" height="4.6" fill="#6765ea"/>
<rect x="179.3" y="84.5" width="4.6" height="4.6" fill="#807eee"/>
<rect x="183.3" y="84.5" width="4.6" height="4.6" fill="#8d8bf0"/>
<rect x="187.3" y="84.5" width="4.6" height="4.6" fill="#9a98f1"/>
<rect x="191.3" y="84.5" width="8.6" height="4.6" fill="#a6a5f3"/>
<rect x="199.3" y="84.5" width="4.6" height="4.6" fill="#c0bff6"/>
<rect x="203.3" y="84.5" width="4.6" height="4.6" fill="#ccccf8"/>
<rect x="207.3" y="84.5" width="4.6" height="4.6" fill="#d9d8fa"/>
<rect x="211.3" y="84.5" width="4.6" height="4.6" fill="#e6e5fc"/>
<rect x="215.3" y="84.5" width="12.6" height="4.6" fill="#f2f2fd"/>
<rect x="255.3" y="84.5" width="12.6" height="4.6" fill="#fef1f1"/>
<rect x="267.3" y="84.5" width="8.6" height="4.6" fill="#fce3e3"/>
<rect x="275.3" y="84.5" width="12.6" height="4.6" fill="#fbd5d5"/>
<rect x="287.3" y="84.5" width="24.6" height="4.6" fill="#f9c7c7"/>
<rect x="311.3" y="84.5" width="8.6" height="4.6" fill="#fbd5d5"/>
<rect x="51.3" y="88.5" width="4.6" height="4.6" fill="#d9d8fa"/>
<rect x="59.3" y="88.5" width="4.6" height="4.6" fill="#fbd5d5"/>
<rect x="63.3" y="88.5" width="4.6" height="4.6" fill="#f9c7c7"/>
<rect x="67.3" y="88.5" width="12.6" height="4.6" fill="#fce3e3"/>
<rect x="83.3" y="88.5" width="8.6" height="4.6" fill="#d9d8fa"/>
<rect x="91.3" y="88.5" width="20.6" height="4.6" fill="#e6e5fc"/>
<rect x="111.3" y="88.5" width="8.6" height="4.6" fill="#d9d8fa"/>
<rect x="119.3" y="88.5" width="4.6" height="4.6" fill="#ccccf8"/>
<rect x="123.3" y="88.5" width="8.6" height="4.6" fill="#c0bff6"/>
<rect x="131.3" y="88.5" width="4.6" height="4.6" fill="#b3b2f5"/>
<rect x="135.3" y="88.5" width="4.6" height="4.6" fill="#a6a5f3"/>
<rect x="139.3" y="88.5" width="4.6" height="4.6" fill="#9a98f1"/>
<rect x="143.3" y="88.5" width="8.6" height="4.6" fill="#8d8bf0"/>
<rect x="151.3" y="88.5" width="4.6" height="4.6" fill="#807eee"/>
<rect x="155.3" y="88.5" width="8.6" height="4.6" fill="#7372ec"/>
<rect x="163.3" y="88.5" width="16.6" height="4.6" fill="#6765ea"/>
<rect x="179.3" y="88.5" width="4.6" height="4.6" fill="#7372ec"/>
<rect x="183.3" y="88.5" width="4.6" height="4.6" fill="#807eee"/>
<rect x="187.3" y="88.5" width="8.6" height="4.6" fill="#8d8bf0"/>
<rect x="195.3" y="88.5" width="4.6" height="4.6" fill="#9a98f1"/>
<rect x="199.3" y="88.5" width="4.6" height="4.6" fill="#b3b2f5"/>
<rect x="203.3" y="88.5" width="4.6" height="4.6" fill="#c0bff6"/>
<rect x="207.3" y="88.5" width="4.6" height="4.6" fill="#ccccf8"/>
<rect x="211.3" y="88.5" width="4.6" height="4.6" fill="#d9d8fa"/>
<rect x="215.3" y="88.5" width="12.6" height="4.6" fill="#e6e5fc"/>
<rect x="227.3" y="88.5" width="28.6" height="4.6" fill="#f2f2fd"/>
<rect x="275.3" y="88.5" width="8.6" height="4.6" fill="#fef1f1"/>
<rect x="283.3" y="88.5" width="8.6" height="4.6" fill="#fce3e3"/>
<rect x="291.3" y="88.5" width="12.6" height="4.6" fill="#fbd5d5"/>
<rect x="303.3" y="88.5" width="8.6" height="4.6" fill="#f9c7c7"/>
<rect x="311.3" y="88.5" width="4.6" height="4.6" fill="#fbd5d5"/>
<rect x="315.3" y="88.5" width="4.6" height="4.6" fill="#fce3e3"/>
<rect x="51.3" y="92.5" width="4.6" height="4.6" fill="#fef1f1"/>
<rect x="55.3" y="92.5" width="8.6" height="4.6" fill="#f9c7c7"/>
<rect x="63.3" y="92.5" width="4.6" height="4.6" fill="#fbd5d5"/>
<rect x="67.3" y="92.5" width="12.6" height="4.6" fill="#fce3e3"/>
<rect x="79.3" y="92.5" width="4.6" height="4.6" fill="#fef1f1"/>
<rect x="87.3" y="92.5" width="12.6" height="4.6" fill="#f2f2fd"/>
<rect x="99.3" y="92.5" width="8.6" height="4.6" fill="#e6e5fc"/>
<rect x="107.3" y="92.5" width="8.6" height="4.6" fill="#d9d8fa"/>
<rect x="115.3" y="92.5" width="4.6" height="4.6" fill="#ccccf8"/>
<rect x="119.3" y="92.5" width="8.6" height="4.6" fill="#c0bff6"/>
<rect x="127.3" y="92.5" width="4.6" height="4.6" fill="#b3b2f5"/>
<rect x="131.3" y="92.5" width="4.6" height="4.6" fill="#a6a5f3"/>
<rect x="135.3" y="92.5" width="8.6" height="4.6" fill="#9a98f1"/>
<rect x="143.3" y="92.5" width="4.6" height="4.6" fill="#8d8bf0"/>
<rect x="147.3" y="92.5" width="8.6" height="4.6" fill="#807eee"/>
<rect x="155.3" y="92.5" width="8.6" height="4.6" fill="#7372ec"/>
<rect x="163.3" y="92.5" width="8.6" height="4.6" fill="#6765ea"/>
<rect x="171.3" y="92.5" width="4.6" height="4.6" fill="#5a58e9"/>
<rect x="175.3" y="92.5" width="8.6" height="4.6" fill="#6765ea"/>
<rect x="183.3" y="92.5" width="4.6" height="4.6" fill="#7372ec"/>
<rect x="187.3" y="92.5" width="8.6" height="4.6" fill="#807eee"/>
<rect x="195.3" y="92.5" width="4.6" height="4.6" fill="#8d8bf0"/>
<rect x="199.3" y="92.5" width="4.6" height="4.6" fill="#a6a5f3"/>
<rect x="203.3" y="92.5" width="4.6" height="4.6" fill="#b3b2f5"/>
<rect x="207.3" y="92.5" width="4.6" height="4.6" fill="#c0bff6"/>
<rect x="211.3" y="92.5" width="4.6" height="4.6" fill="#ccccf8"/>
<rect x="215.3" y="92.5" width="12.6" height="4.6" fill="#d9d8fa"/>
<rect x="227.3" y="92.5" width="28.6" height="4.6" fill="#e6e5fc"/>
<rect x="255.3" y="92.5" width="24.6" height="4.6" fill="#f2f2fd"/>
<rect x="287.3" y="92.5" width="8.6" height="4.6" fill="#fef1f1"/>
<rect x="295.3" y="92.5" width="8.6" height="4.6" fill="#fce3e3"/>
<rect x="303.3" y="92.5" width="8.6" height="4.6" fill="#f9c7c7"/>
<rect x="311.3" y="92.5" width="4.6" height="4.6" fill="#fbd5d5"/>
<rect x="315.3" y="92.5" width="4.6" height="4.6" fill="#fce3e3"/>
<rect x="51.3" y="96.5" width="4.6" height="4.6" fill="#fbd5d5"/>
<rect x="55.3" y="96.5" width="8.6" height="4.6" fill="#f8b8b8"/>
<rect x="63.3" y="96.5" width="4.6" height="4.6" fill="#fbd5d5"/>
<rect x="67.3" y="96.5" width="12.6" height="4.6" fill="#fce3e3"/>
<rect x="79.3" y="96.5" width="8.6" height="4.6" fill="#fef1f1"/>
<rect x="95.3" y="96.5" width="8.6" height="4.6" fill="#f2f2fd"/>
<rect x="103.3" y="96.5" width="4.6" height="4.6" fill="#e6e5fc"/>
<rect x="107.3" y="96.5" width="4.6" height="4.6" fill="#d9d8fa"/>
<rect x="111.3" y="96.5" width="4.6" height="4.6" fill="#ccccf8"/>
<rect x="115.3" y="96.5" width="4.6" height="4.6" fill="#c0bff6"/>
<rect x="119.3" y="96.5" width="8.6" height="4.6" fill="#b3b2f5"/>
<rect x="127.3" y="96.5" width="4.6" height="4.6" fill="#a6a5f3"/>
<rect x="131.3" y="96.5" width="8.6" height="4.6" fill="#9a98f1"/>
<rect x="139.3" y="96.5" width="8.6" height="4.6" fill="#8d8bf0"/>
<rect x="147.3" y="96.5" width="8.6" height="4.6" fill="#807eee"/>
<rect x="155.3" y="96.5" width="8.6" height="4.6" fill="#7372ec"/>
<rect x="163.3" y="96.5" width="8.6" height="4.6" fill="#6765ea"/>
<rect x="171.3" y="96.5" width="8.6" height="4.6" fill="#5a58e9"/>
<rect x="179.3" y="96.5" width="8.6" height="4.6" fill="#6765ea"/>
<rect x="187.3" y="96.5" width="8.6" height="4.6" fill="#7372ec"/>
<rect x="195.3" y="96.5" width="4.6" height="4.6" fill="#807eee"/>
<rect x="199.3" y="96.5" width="4.6" height="4.6" fill="#9a98f1"/>
<rect x="203.3" y="96.5" width="4.6" height="4.6" fill="#a6a5f3"/>
<rect x="207.3" y="96.5" width="4.6" height="4.6" fill="#b3b2f5"/>
<rect x="211.3" y="96.5" width="4.6" height="4.6" fill="#c0bff6"/>
<rect x="215.3" y="96.5" width="12.6" height="4.6" fill="#ccccf8"/>
<rect x="227.3" y="96.5" width="48.6" height="4.6" fill="#d9d8fa"/>
<rect x="275.3" y="96.5" width="4.6" height="4.6" fill="#e6e5fc"/>
<rect x="279.3" y="96.5" width="8.6" height="4.6" fill="#f2f2fd"/>
<rect x="295.3" y="96.5" width="4.6" height="4.6" fill="#fef1f1"/>
<rect x="299.3" y="96.5" width="4.6" height="4.6" fill="#fce3e3"/>
<rect x="303.3" y="96.5" width="4.6" height="4.6" fill="#fbd5d5"/>
<rect x="307.3" y="96.5" width="4.6" height="4.6" fill="#f9c7c7"/>
<rect x="311.3" y="96.5" width="4.6" height="4.6" fill="#fce3e3"/>
<rect x="315.3" y="96.5" width="4.6" height="4.6" fill="#fef1f1"/>
<rect x="51.3" y="100.5" width="12.6" height="4.6" fill="#f9c7c7"/>
<rect x="63.3" y="100.5" width="4.6" height="4.6" fill="#fbd5d5"/>
<rect x="67.3" y="100.5" width="12.6" height="4.6" fill="#fce3e3"/>
<rect x="79.3" y="100.5" width="8.6" height="4.6" fill="#fef1f1"/>
<rect x="95.3" y="100.5" width="8.6" height="4.6" fill="#f2f2fd"/>
<rect x="103.3" y="100.5" width="4.6" height="4.6" fill="#e6e5fc"/>
<rect x="107.3" y="100.5" width="4.6" height="4.6" fill="#ccccf8"/>
<rect x="111.3" y="100.5" width="4.6" height="4.6" fill="#c0bff6"/>
<rect x="115.3" y="100.5" width="8.6" height="4.6" fill="#b3b2f5"/>
<rect x="123.3" y="100.5" width="4.6" height="4.6" fill="#a6a5f3"/>
<rect x="127.3" y="100.5" width="8.6" height="4.6" fill="#9a98f1"/>
<rect x="135.3" y="100.5" width="8.6" height="4.6" fill="#8d8bf0"/>
<rect x="143.3" y="100.5" width="8.6" height="4.6" fill="#807eee"/>
<rect x="151.3" y="100.5" width="12.6" height="4.6" fill="#7372ec"/>
<rect x="163.3" y="100.5" width="8.6" height="4.6" fill="#6765ea"/>
<rect x="171.3" y="100.5" width="8.6" height="4.6" fill="#5a58e9"/>
<rect x="179.3" y="100.5" width="8.6" height="4.6" fill="#6765ea"/>
<rect x="187.3" y="100.5" width="8.6" height="4.6" fill="#7372ec"/>
<rect x="195.3" y="100.5" width="4.6" height="4.6" fill="#807eee"/>
<rect x="199.3" y="100.5" width="4.6" height="4.6" fill="#8d8bf0"/>
<rect x="203.3" y="100.5" width="4.6" height="4.6" fill="#a6a5f3"/>
<rect x="207.3" y="100.5" width="4.6" height="4.6" fill="#b3b2f5"/>
<rect x="211.3" y="100.5" width="4.6" height="4.6" fill="#c0bff6"/>
<rect x="215.3" y="100.5" width="12.6" height="4.6" fill="#ccccf8"/>
<rect x="227.3" y="100.5" width="52.6" height="4.6" fill="#d9d8fa"/>
<rect x="279.3" y="100.5" width="8.6" height="4.6" fill="#e6e5fc"/>
<rect x="287.3" y="100.5" width="4.6" height="4.6" fill="#f2f2fd"/>
<rect x="299.3" y="100.5" width="4.6" height="4.6" fill="#fef1f1"/>
<rect x="303.3" y="100.5" width="4.6" height="4.6" fill="#fce3e3"/>
<rect x="307.3" y="100.5" width="4.6" height="4.6" fill="#fbd5d5"/>
<rect x="311.3" y="100.5" width="4.6" height="4.6" fill="#fce3e3"/>
<rect x="315.3" y="100.5" width="4.6" height="4.6" fill="#fef1f1"/>
<rect x="51.3" y="104.5" width="8.6" height="4.6" fill="#f9c7c7"/>
<rect x="59.3" y="104.5" width="8.6" height="4.6" fill="#fbd5d5"/>
<rect x="67.3" y="104.5" width="8.6" height="4.6" fill="#fce3e3"/>
<rect x="75.3" y="104.5" width="8.6" height="4.6" fill="#fef1f1"/>
<rect x="91.3" y="104.5" width="8.6" height="4.6" fill="#f2f2fd"/>
<rect x="99.3" y="104.5" width="4.6" height="4.6" fill="#e6e5fc"/>
<rect x="103.3" y="104.5" width="4.6" height="4.6" fill="#d9d8fa"/>
<rect x="107.3" y="104.5" width="4.6" height="4.6" fill="#ccccf8"/>
<rect x="111.3" y="104.5" width="4.6" height="4.6" fill="#c0bff6"/>
<rect x="115.3" y="104.5" width="4.6" height="4.6" fill="#b3b2f5"/>
<rect x="119.3" y="104.5" width="4.6" height="4.6" fill="#a6a5f3"/>
<rect x="123.3" y="104.5" width="8.6" height="4.6" fill="#9a98f1"/>
<rect x="131.3" y="104.5" width="8.6" height="4.6" fill="#8d8bf0"/>
<rect x="139.3" y="104.5" width="12.6" height="4.6" fill="#807eee"/>
<rect x="151.3" y="104.5" width="12.6" height="4.6" fill="#7372ec"/>
<rect x="163.3" y="104.5" width="8.6" height="4.6" fill="#6765ea"/>
<rect x="171.3" y="104.5" width="8.6" height="4.6" fill="#5a58e9"/>
<rect x="179.3" y="104.5" width="8.6" height="4.6" fill="#6765ea"/>
<rect x="187.3" y="104.5" width="4.6" height="4.6" fill="#7372ec"/>
<rect x="191.3" y="104.5" width="4.6" height="4.6" fill="#807eee"/>
<rect x="195.3" y="104.5" width="4.6" height="4.6" fill="#8d8bf0"/>
<rect x="199.3" y="104.5" width="4.6" height="4.6" fill="#9a98f1"/>
<rect x="203.3" y="104.5" width="4.6" height="4.6" fill="#a6a5f3"/>
<rect x="207.3" y="104.5" width="4.6" height="4.6" fill="#b3b2f5"/>
<rect x="211.3" y="104.5" width="4.6" height="4.6" fill="#c0bff6"/>
<rect x="215.3" y="104.5" width="4.6" height="4.6" fill="#ccccf8"/>
<rect x="219.3" y="104.5" width="8.6" height="4.6" fill="#d9d8fa"/>
<rect x="227.3" y="104.5" width="4.6" height="4.6" fill="#e6e5fc"/>
<rect x="231.3" y="104.5" width="24.6" height="4.6" fill="#f2f2fd"/>
<rect x="255.3" y="104.5" width="12.6" height="4.6" fill="#e6e5fc"/>
<rect x="267.3" y="104.5" width="12.6" height="4.6" fill="#d9d8fa"/>
<rect x="279.3" y="104.5" width="8.6" height="4.6" fill="#e6e5fc"/>
<rect x="287.3" y="104.5" width="8.6" height="4.6" fill="#f2f2fd"/>
<rect x="303.3" y="104.5" width="4.6" height="4.6" fill="#fef1f1"/>
<rect x="307.3" y="104.5" width="4.6" height="4.6" fill="#fce3e3"/>
<rect x="311.3" y="104.5" width="8.6" height="4.6" fill="#fef1f1"/>
<rect x="51.3" y="108.5" width="12.6" height="4.6" fill="#f9c7c7"/>
<rect x="63.3" y="108.5" width="4.6" height="4.6" fill="#fbd5d5"/>
<rect x="67.3" y="108.5" width="4.6" height="4.6" fill="#fce3e3"/>
<rect x="71.3" y="108.5" width="8.6" height="4.6" fill="#fef1f1"/>
<rect x="87.3" y="108.5" width="8.6" height="4.6" fill="#f2f2fd"/>
<rect x="95.3" y="108.5" width="4.6" height="4.6" fill="#e6e5fc"/>
<rect x="99.3" y="108.5" width="4.6" height="4.6" fill="#d9d8fa"/>
<rect x="103.3" y="108.5" width="4.6" height="4.6" fill="#ccccf8"/>
<rect x="107.3" y="108.5" width="4.6" height="4.6" fill="#c0bff6"/>
<rect x="111.3" y="108.5" width="4.6" height="4.6" fill="#b3b2f5"/>
<rect x="115.3" y="108.5" width="4.6" height="4.6" fill="#a6a5f3"/>
<rect x="119.3" y="108.5" width="8.6" height="4.6" fill="#9a98f1"/>
<rect x="127.3" y="108.5" width="8.6" height="4.6" fill="#8d8bf0"/>
<rect x="135.3" y="108.5" width="16.6" height="4.6" fill="#807eee"/>
<rect x="151.3" y="108.5" width="8.6" height="4.6" fill="#7372ec"/>
<rect x="159.3" y="108.5" width="8.6" height="4.6" fill="#6765ea"/>
<rect x="167.3" y="108.5" width="12.6" height="4.6" fill="#5a58e9"/>
<rect x="179.3" y="108.5" width="4.6" height="4.6" fill="#6765ea"/>
<rect x="183.3" y="108.5" width="8.6" height="4.6" fill="#7372ec"/>
<rect x="191.3" y="108.5" width="4.6" height="4.6" fill="#807eee"/>
<rect x="195.3" y="108.5" width="4.6" height="4.6" fill="#8d8bf0"/>
<rect x="199.3" y="108.5" width="4.6" height="4.6" fill="#9a98f1"/>
<rect x="203.3" y="108.5" width="4.6" height="4.6" fill="#b3b2f5"/>
<rect x="207.3" y="108.5" width="4.6" height="4.6" fill="#c0bff6"/>
<rect x="211.3" y="108.5" width="4.6" height="4.6" fill="#ccccf8"/>
<rect x="215.3" y="108.5" width="4.6" height="4.6" fill="#d9d8fa"/>
<rect x="219.3" y="108.5" width="8.6" height="4.6" fill="#e6e5fc"/>
<rect x="227.3" y="108.5" width="4.6" height="4.6" fill="#f2f2fd"/>
<rect x="255.3" y="108.5" width="8.6" height="4.6" fill="#f2f2fd"/>
<rect x="263.3" y="108.5" width="8.6" height="4.6" fill="#e6e5fc"/>
<rect x="271.3" y="108.5" width="8.6" height="4.6" fill="#d9d8fa"/>
<rect x="279.3" y="108.5" width="8.6" height="4.6" fill="#e6e5fc"/>
<rect x="287.3" y="108.5" width="12.6" height="4.6" fill="#f2f2fd"/>
<rect x="307.3" y="108.5" width="12.6" height="4.6" fill="#fef1f1"/>
<rect x="51.3" y="112.5" width="4.6" height="4.6" fill="#f9c7c7"/>
<rect x="55.3" y="112.5" width="12.6" height="4.6" fill="#f8b8b8"/>
<rect x="67.3" y="112.5" width="4.6" height="4.6" fill="#fbd5d5"/>
<rect x="71.3" y="112.5" width="4.6" height="4.6" fill="#fef1f1"/>
<rect x="83.3" y="112.5" width="8.6" height="4.6" fill="#f2f2fd"/>
<rect x="91.3" y="112.5" width="4.6" height="4.6" fill="#e6e5fc"/>
<rect x="95.3" y="112.5" width="4.6" height="4.6" fill="#d9d8fa"/>
<rect x="99.3" y="112.5" width="4.6" height="4.6" fill="#ccccf8"/>
<rect x="103.3" y="112.5" width="4.6" height="4.6" fill="#c0bff6"/>
<rect x="107.3" y="112.5" width="4.6" height="4.6" fill="#b3b2f5"/>
<rect x="111.3" y="112.5" width="4.6" height="4.6" fill="#a6a5f3"/>
<rect x="115.3" y="112.5" width="8.6" height="4.6" fill="#9a98f1"/>
<rect x="123.3" y="112.5" width="8.6" height="4.6" fill="#8d8bf0"/>
<rect x="131.3" y="112.5" width="16.6" height="4.6" fill="#807eee"/>
<rect x="147.3" y="112.5" width="12.6" height="4.6" fill="#7372ec"/>
<rect x="159.3" y="112.5" width="8.6" height="4.6" fill="#6765ea"/>
<rect x="167.3" y="112.5" width="12.6" height="4.6" fill="#5a58e9"/>
<rect x="179.3" y="112.5" width="4.6" height="4.6" fill="#6765ea"/>
<rect x="183.3" y="112.5" width="8.6" height="4.6" fill="#7372ec"/>
<rect x="191.3" y="112.5" width="4.6" height="4.6" fill="#807eee"/>
<rect x="195.3" y="112.5" width="4.6" height="4.6" fill="#8d8bf0"/>
<rect x="199.3" y="112.5" width="4.6" height="4.6" fill="#a6a5f3"/>
<rect x="203.3" y="112.5" width="4.6" height="4.6" fill="#b3b2f5"/>
<rect x="207.3" y="112.5" width="4.6" height="4.6" fill="#c0bff6"/>
<rect x="211.3" y="112.5" width="4.6" height="4.6" fill="#d9d8fa"/>
<rect x="215.3" y="112.5" width="4.6" height="4.6" fill="#e6e5fc"/>
<rect x="219.3" y="112.5" width="8.6" height="4.6" fill="#f2f2fd"/>
<rect x="231.3" y="112.5" width="24.6" height="4.6" fill="#fef1f1"/>
<rect x="263.3" y="112.5" width="8.6" height="4.6" fill="#f2f2fd"/>
<rect x="271.3" y="112.5" width="24.6" height="4.6" fill="#e6e5fc"/>
<rect x="295.3" y="112.5" width="8.6" height="4.6" fill="#f2f2fd"/>
<rect x="51.3" y="116.5" width="4.6" height="4.6" fill="#f8b8b8"/>
<rect x="55.3" y="116.5" width="4.6" height="4.6" fill="#f6aaaa"/>
<rect x="59.3" y="116.5" width="4.6" height="4.6" fill="#f59c9c"/>
<rect x="63.3" y="116.5" width="4.6" height="4.6" fill="#f6aaaa"/>
<rect x="67.3" y="116.5" width="4.6" height="4.6" fill="#f9c7c7"/>
<rect x="71.3" y="116.5" width="4.6" height="4.6" fill="#fef1f1"/>
<rect x="79.3" y="116.5" width="8.6" height="4.6" fill="#f2f2fd"/>
<rect x="87.3" y="116.5" width="4.6" height="4.6" fill="#e6e5fc"/>
<rect x="91.3" y="116.5" width="4.6" height="4.6" fill="#d9d8fa"/>
<rect x="95.3" y="116.5" width="4.6" height="4.6" fill="#ccccf8"/>
<rect x="99.3" y="116.5" width="8.6" height="4.6" fill="#c0bff6"/>
<rect x="107.3" y="116.5" width="4.6" height="4.6" fill="#a6a5f3"/>
<rect x="111.3" y="116.5" width="8.6" height="4.6" fill="#9a98f1"/>
<rect x="119.3" y="116.5" width="8.6" height="4.6" fill="#8d8bf0"/>
<rect x="127.3" y="116.5" width="8.6" height="4.6" fill="#807eee"/>
<rect x="135.3" y="116.5" width="24.6" height="4.6" fill="#7372ec"/>
<rect x="159.3" y="116.5" width="8.6" height="4.6" fill="#6765ea"/>
<rect x="167.3" y="116.5" width="4.6" height="4.6" fill="#5a58e9"/>
<rect x="171.3" y="116.5" width="4.6" height="4.6" fill="#4d4be7"/>
<rect x="175.3" y="116.5" width="4.6" height="4.6" fill="#5a58e9"/>
<rect x="179.3" y="116.5" width="8.6" height="4.6" fill="#6765ea"/>
<rect x="187.3" y="116.5" width="4.6" height="4.6" fill="#7372ec"/>
<rect x="191.3" y="116.5" width="4.6" height="4.6" fill="#807eee"/>
<rect x="195.3" y="116.5" width="4.6" height="4.6" fill="#8d8bf0"/>
<rect x="199.3" y="116.5" width="4.6" height="4.6" fill="#a6a5f3"/>
<rect x="203.3" y="116.5" width="4.6" height="4.6" fill="#b3b2f5"/>
<rect x="207.3" y="116.5" width="4.6" height="4.6" fill="#ccccf8"/>
<rect x="211.3" y="116.5" width="4.6" height="4.6" fill="#d9d8fa"/>
<rect x="215.3" y="116.5" width="4.6" height="4.6" fill="#e6e5fc"/>
<rect x="219.3" y="116.5" width="4.6" height="4.6" fill="#f2f2fd"/>
<rect x="227.3" y="116.5" width="4.6" height="4.6" fill="#fef1f1"/>
<rect x="231.3" y="116.5" width="4.6" height="4.6" fill="#fce3e3"/>
<rect x="235.3" y="116.5" width="4.6" height="4.6" fill="#fbd5d5"/>
<rect x="239.3" y="116.5" width="16.6" height="4.6" fill="#fce3e3"/>
<rect x="255.3" y="116.5" width="4.6" height="4.6" fill="#fef1f1"/>
<rect x="267.3" y="116.5" width="4.6" height="4.6" fill="#f2f2fd"/>
<rect x="271.3" y="116.5" width="28.6" height="4.6" fill="#e6e5fc"/>
<rect x="299.3" y="116.5" width="8.6" height="4.6" fill="#f2f2fd"/>
<rect x="51.3" y="120.5" width="4.6" height="4.6" fill="#f8b8b8"/>
<rect x="55.3" y="120.5" width="4.6" height="4.6" fill="#f6aaaa"/>
<rect x="59.3" y="120.5" width="8.6" height="4.6" fill="#f59c9c"/>
<rect x="67.3" y="120.5" width="4.6" height="4.6" fill="#f9c7c7"/>
<rect x="71.3" y="120.5" width="4.6" height="4.6" fill="#fef1f1"/>
<rect x="79.3" y="120.5" width="4.6" height="4.6" fill="#f2f2fd"/>
<rect x="83.3" y="120.5" width="4.6" height="4.6" fill="#e6e5fc"/>
<rect x="87.3" y="120.5" width="4.6" height="4.6" fill="#d9d8fa"/>
<rect x="91.3" y="120.5" width="4.6" height="4.6" fill="#ccccf8"/>
<rect x="95.3" y="120.5" width="4.6" height="4.6" fill="#c0bff6"/>
<rect x="99.3" y="120.5" width="8.6" height="4.6" fill="#b3b2f5"/>
<rect x="107.3" y="120.5" width="4.6" height="4.6" fill="#a6a5f3"/>
<rect x="111.3" y="120.5" width="4.6" height="4.6" fill="#9a98f1"/>
<rect x="115.3" y="120.5" width="8.6" height="4.6" fill="#8d8bf0"/>
<rect x="123.3" y="120.5" width="8.6" height="4.6" fill="#807eee"/>
<rect x="131.3" y="120.5" width="32.6" height="4.6" fill="#7372ec"/>
<rect x="163.3" y="120.5" width="4.6" height="4.6" fill="#6765ea"/>
<rect x="167.3" y="120.5" width="4.6" height="4.6" fill="#5a58e9"/>
<rect x="171.3" y="120.5" width="8.6" height="4.6" fill="#4d4be7"/>
<rect x="179.3" y="120.5" width="4.6" height="4.6" fill="#5a58e9"/>
<rect x="183.3" y="120.5" width="12.6" height="4.6" fill="#6765ea"/>
<rect x="195.3" y="120.5" width="4.6" height="4.6" fill="#7372ec"/>
<rect x="199.3" y="120.5" width="4.6" height="4.6" fill="#8d8bf0"/>
<rect x="203.3" y="120.5" width="4.6" height="4.6" fill="#a6a5f3"/>
<rect x="207.3" y="120.5" width="4.6" height="4.6" fill="#c0bff6"/>
<rect x="211.3" y="120.5" width="4.6" height="4.6" fill="#d9d8fa"/>
<rect x="215.3" y="120.5" width="4.6" height="4.6" fill="#e6e5fc"/>
<rect x="219.3" y="120.5" width="4.6" height="4.6" fill="#f2f2fd"/>
<rect x="227.3" y="120.5" width="4.6" height="4.6" fill="#fef1f1"/>
<rect x="231.3" y="120.5" width="20.6" height="4.6" fill="#fbd5d5"/>
<rect x="251.3" y="120.5" width="8.6" height="4.6" fill="#fce3e3"/>
<rect x="259.3" y="120.5" width="4.6" height="4.6" fill="#fef1f1"/>
<rect x="271.3" y="120.5" width="4.6" height="4.6" fill="#f2f2fd"/>
<rect x="275.3" y="120.5" width="24.6" height="4.6" fill="#e6e5fc"/>
<rect x="299.3" y="120.5" width="12.6" height="4.6" fill="#f2f2fd"/>
<rect x="51.3" y="124.5" width="4.6" height="4.6" fill="#f8b8b8"/>
<rect x="55.3" y="124.5" width="12.6" height="4.6" fill="#f6aaaa"/>
<rect x="67.3" y="124.5" width="4.6" height="4.6" fill="#fbd5d5"/>
<rect x="71.3" y="124.5" width="4.6" height="4.6" fill="#fef1f1"/>
<rect x="75.3" y="124.5" width="4.6" height="4.6" fill="#f2f2fd"/>
<rect x="79.3" y="124.5" width="4.6" height="4.6" fill="#e6e5fc"/>
<rect x="83.3" y="124.5" width="4.6" height="4.6" fill="#d9d8fa"/>
<rect x="87.3" y="124.5" width="4.6" height="4.6" fill="#c0bff6"/>
<rect x="91.3" y="124.5" width="4.6" height="4.6" fill="#b3b2f5"/>
<rect x="95.3" y="124.5" width="12.6" height="4.6" fill="#a6a5f3"/>
<rect x="107.3" y="124.5" width="8.6" height="4.6" fill="#9a98f1"/>
<rect x="115.3" y="124.5" width="8.6" height="4.6" fill="#8d8bf0"/>
<rect x="123.3" y="124.5" width="8.6" height="4.6" fill="#807eee"/>
<rect x="131.3" y="124.5" width="12.6" height="4.6" fill="#7372ec"/>
<rect x="143.3" y="124.5" width="16.6" height="4.6" fill="#807eee"/>
<rect x="159.3" y="124.5" width="4.6" height="4.6" fill="#7372ec"/>
<rect x="163.3" y="124.5" width="4.6" height="4.6" fill="#6765ea"/>
<rect x="167.3" y="124.5" width="4.6" height="4.6" fill="#5a58e9"/>
<rect x="171.3" y="124.5" width="8.6" height="4.6" fill="#4d4be7"/>
<rect x="179.3" y="124.5" width="4.6" height="4.6" fill="#5a58e9"/>
<rect x="183.3" y="124.5" width="16.6" height="4.6" fill="#4d4be7"/>
<rect x="199.3" y="124.5" width="4.6" height="4.6" fill="#7372ec"/>
<rect x="203.3" y="124.5" width="4.6" height="4.6" fill="#9a98f1"/>
<rect x="207.3" y="124.5" width="4.6" height="4.6" fill="#b3b2f5"/>
<rect x="211.3" y="124.5" width="4.6" height="4.6" fill="#d9d8fa"/>
<rect x="215.3" y="124.5" width="4.6" height="4.6" fill="#e6e5fc"/>
<rect x="219.3" y="124.5" width="4.6" height="4.6" fill="#f2f2fd"/>
<rect x="227.3" y="124.5" width="4.6" height="4.6" fill="#fef1f1"/>
<rect x="231.3" y="124.5" width="24.6" height="4.6" fill="#fbd5d5"/>
<rect x="255.3" y="124.5" width="8.6" height="4.6" fill="#fce3e3"/>
<rect x="263.3" y="124.5" width="4.6" height="4.6" fill="#fef1f1"/>
<rect x="275.3" y="124.5" width="44.6" height="4.6" fill="#f2f2fd"/>
<rect x="51.3" y="128.5" width="4.6" height="4.6" fill="#f9c7c7"/>
<rect x="55.3" y="128.5" width="8.6" height="4.6" fill="#f8b8b8"/>
<rect x="63.3" y="128.5" width="4.6" height="4.6" fill="#f9c7c7"/>
<rect x="67.3" y="128.5" width="4.6" height="4.6" fill="#fce3e3"/>
<rect x="75.3" y="128.5" width="4.6" height="4.6" fill="#f2f2fd"/>
<rect x="79.3" y="128.5" width="4.6" height="4.6" fill="#d9d8fa"/>
<rect x="83.3" y="128.5" width="4.6" height="4.6" fill="#c0bff6"/>
<rect x="87.3" y="128.5" width="4.6" height="4.6" fill="#a6a5f3"/>
<rect x="91.3" y="128.5" width="24.6" height="4.6" fill="#9a98f1"/>
<rect x="115.3" y="128.5" width="8.6" height="4.6" fill="#8d8bf0"/>
<rect x="123.3" y="128.5" width="12.6" height="4.6" fill="#807eee"/>
<rect x="135.3" y="128.5" width="4.6" height="4.6" fill="#7372ec"/>
<rect x="139.3" y="128.5" width="20.6" height="4.6" fill="#807eee"/>
<rect x="159.3" y="128.5" width="4.6" height="4.6" fill="#7372ec"/>
<rect x="163.3" y="128.5" width="8.6" height="4.6" fill="#6765ea"/>
<rect x="171.3" y="128.5" width="4.6" height="4.6" fill="#5a58e9"/>
<rect x="175.3" y="128.5" width="24.6" height="4.6" fill="#4d4be7"/>
<rect x="199.3" y="128.5" width="4.6" height="4.6" fill="#6765ea"/>
<rect x="203.3" y="128.5" width="4.6" height="4.6" fill="#8d8bf0"/>
<rect x="207.3" y="128.5" width="4.6" height="4.6" fill="#b3b2f5"/>
<rect x="211.3" y="128.5" width="4.6" height="4.6" fill="#ccccf8"/>
<rect x="215.3" y="128.5" width="4.6" height="4.6" fill="#e6e5fc"/>
<rect x="219.3" y="128.5" width="4.6" height="4.6" fill="#f2f2fd"/>
<rect x="227.3" y="128.5" width="4.6" height="4.6" fill="#fef1f1"/>
<rect x="231.3" y="128.5" width="28.6" height="4.6" fill="#fbd5d5"/>
<rect x="259.3" y="128.5" width="8.6" height="4.6" fill="#fce3e3"/>
<rect x="267.3" y="128.5" width="4.6" height="4.6" fill="#fef1f1"/>
<rect x="287.3" y="128.5" width="32.6" height="4.6" fill="#f2f2fd"/>
<rect x="51.3" y="132.5" width="4.6" height="4.6" fill="#f9c7c7"/>
<rect x="55.3" y="132.5" width="8.6" height="4.6" fill="#f8b8b8"/>
<rect x="63.3" y="132.5" width="4.6" height="4.6" fill="#f9c7c7"/>
<rect x="67.3" y="132.5" width="4.6" height="4.6" fill="#fce3e3"/>
<rect x="75.3" y="132.5" width="4.6" height="4.6" fill="#f2f2fd"/>
<rect x="79.3" y="132.5" width="4.6" height="4.6" fill="#d9d8fa"/>
<rect x="83.3" y="132.5" width="4.6" height="4.6" fill="#c0bff6"/>
<rect x="87.3" y="132.5" width="4.6" height="4.6" fill="#a6a5f3"/>
<rect x="91.3" y="132.5" width="4.6" height="4.6" fill="#9a98f1"/>
<rect x="95.3" y="132.5" width="4.6" height="4.6" fill="#8d8bf0"/>
<rect x="99.3" y="132.5" width="16.6" height="4.6" fill="#9a98f1"/>
<rect x="115.3" y="132.5" width="8.6" height="4.6" fill="#8d8bf0"/>
<rect x="123.3" y="132.5" width="12.6" height="4.6" fill="#807eee"/>
<rect x="135.3" y="132.5" width="4.6" height="4.6" fill="#7372ec"/>
<rect x="139.3" y="132.5" width="12.6" height="4.6" fill="#807eee"/>
<rect x="151.3" y="132.5" width="8.6" height="4.6" fill="#8d8bf0"/>
<rect x="159.3" y="132.5" width="4.6" height="4.6" fill="#807eee"/>
<rect x="163.3" y="132.5" width="4.6" height="4.6" fill="#7372ec"/>
<rect x="167.3" y="132.5" width="4.6" height="4.6" fill="#6765ea"/>
<rect x="171.3" y="132.5" width="4.6" height="4.6" fill="#5a58e9"/>
<rect x="175.3" y="132.5" width="20.6" height="4.6" fill="#4d4be7"/>
<rect x="195.3" y="132.5" width="4.6" height="4.6" fill="#5a58e9"/>
<rect x="199.3" y="132.5" width="4.6" height="4.6" fill="#7372ec"/>
<rect x="203.3" y="132.5" width="4.6" height="4.6" fill="#9a98f1"/>
<rect x="207.3" y="132.5" width="4.6" height="4.6" fill="#b3b2f5"/>
<rect x="211.3" y="132.5" width="4.6" height="4.6" fill="#ccccf8"/>
<rect x="215.3" y="132.5" width="4.6" height="4.6" fill="#e6e5fc"/>
<rect x="219.3" y="132.5" width="4.6" height="4.6" fill="#f2f2fd"/>
<rect x="227.3" y="132.5" width="4.6" height="4.6" fill="#fef1f1"/>
<rect x="231.3" y="132.5" width="4.6" height="4.6" fill="#fbd5d5"/>
<rect x="235.3" y="132.5" width="24.6" height="4.6" fill="#f9c7c7"/>
<rect x="259.3" y="132.5" width="4.6" height="4.6" fill="#fbd5d5"/>
<rect x="263.3" y="132.5" width="8.6" height="4.6" fill="#fce3e3"/>
<rect x="271.3" y="132.5" width="8.6" height="4.6" fill="#fef1f1"/>
<rect x="295.3" y="132.5" width="24.6" height="4.6" fill="#f2f2fd"/>
<rect x="51.3" y="136.5" width="4.6" height="4.6" fill="#f9c7c7"/>
<rect x="55.3" y="136.5" width="8.6" height="4.6" fill="#f6aaaa"/>
<rect x="63.3" y="136.5" width="4.6" height="4.6" fill="#f9c7c7"/>
<rect x="67.3" y="136.5" width="4.6" height="4.6" fill="#fef1f1"/>
<rect x="75.3" y="136.5" width="4.6" height="4.6" fill="#f2f2fd"/>
<rect x="79.3" y="136.5" width="4.6" height="4.6" fill="#d9d8fa"/>
<rect x="83.3" y="136.5" width="4.6" height="4.6" fill="#ccccf8"/>
<rect x="87.3" y="136.5" width="4.6" height="4.6" fill="#b3b2f5"/>
<rect x="91.3" y="136.5" width="4.6" height="4.6" fill="#a6a5f3"/>
<rect x="95.3" y="136.5" width="20.6" height="4.6" fill="#9a98f1"/>
<rect x="115.3" y="136.5" width="8.6" height="4.6" fill="#8d8bf0"/>
<rect x="123.3" y="136.5" width="12.6" height="4.6" fill="#807eee"/>
<rect x="135.3" y="136.5" width="4.6" height="4.6" fill="#7372ec"/>
<rect x="139.3" y="136.5" width="8.6" height="4.6" fill="#807eee"/>
<rect x="147.3" y="136.5" width="12.6" height="4.6" fill="#8d8bf0"/>
<rect x="159.3" y="136.5" width="4.6" height="4.6" fill="#807eee"/>
<rect x="163.3" y="136.5" width="4.6" height="4.6" fill="#7372ec"/>
<rect x="167.3" y="136.5" width="4.6" height="4.6" fill="#6765ea"/>
<rect x="171.3" y="136.5" width="4.6" height="4.6" fill="#5a58e9"/>
<rect x="175.3" y="136.5" width="16.6" height="4.6" fill="#4d4be7"/>
<rect x="191.3" y="136.5" width="4.6" height="4.6" fill="#413ee5"/>
<rect x="195.3" y="136.5" width="4.6" height="4.6" fill="#5a58e9"/>
<rect x="199.3" y="136.5" width="4.6" height="4.6" fill="#7372ec"/>
<rect x="203.3" y="136.5" width="4.6" height="4.6" fill="#9a98f1"/>
<rect x="207.3" y="136.5" width="4.6" height="4.6" fill="#b3b2f5"/>
<rect x="211.3" y="136.5" width="4.6" height="4.6" fill="#ccccf8"/>
<rect x="215.3" y="136.5" width="4.6" height="4.6" fill="#d9d8fa"/>
<rect x="219.3" y="136.5" width="4.6" height="4.6" fill="#f2f2fd"/>
<rect x="227.3" y="136.5" width="4.6" height="4.6" fill="#fef1f1"/>
<rect x="231.3" y="136.5" width="4.6" height="4.6" fill="#fbd5d5"/>
<rect x="235.3" y="136.5" width="16.6" height="4.6" fill="#f9c7c7"/>
<rect x="251.3" y="136.5" width="4.6" height="4.6" fill="#f8b8b8"/>
<rect x="255.3" y="136.5" width="8.6" height="4.6" fill="#f9c7c7"/>
<rect x="263.3" y="136.5" width="4.6" height="4.6" fill="#fbd5d5"/>
<rect x="267.3" y="136.5" width="8.6" height="4.6" fill="#fce3e3"/>
<rect x="275.3" y="136.5" width="12.6" height="4.6" fill="#fef1f1"/>
<rect x="299.3" y="136.5" width="12.6" height="4.6" fill="#f2f2fd"/>
<rect x="311.3" y="136.5" width="8.6" height="4.6" fill="#e6e5fc"/>
<rect x="51.3" y="140.5" width="4.6" height="4.6" fill="#f9c7c7"/>
<rect x="55.3" y="140.5" width="4.6" height="4.6" fill="#f8b8b8"/>
<rect x="59.3" y="140.5" width="4.6" height="4.6" fill="#f6aaaa"/>
<rect x="63.3" y="140.5" width="4.6" height="4.6" fill="#f9c7c7"/>
<rect x="67.3" y="140.5" width="4.6" height="4.6" fill="#fef1f1"/>
<rect x="79.3" y="140.5" width="4.6" height="4.6" fill="#e6e5fc"/>
<rect x="83.3" y="140.5" width="4.6" height="4.6" fill="#d9d8fa"/>
<rect x="87.3" y="140.5" width="4.6" height="4.6" fill="#ccccf8"/>
<rect x="91.3" y="140.5" width="4.6" height="4.6" fill="#b3b2f5"/>
<rect x="95.3" y="140.5" width="16.6" height="4.6" fill="#a6a5f3"/>
<rect x="111.3" y="140.5" width="12.6" height="4.6" fill="#9a98f1"/>
<rect x="123.3" y="140.5" width="24.6" height="4.6" fill="#8d8bf0"/>
<rect x="147.3" y="140.5" width="16.6" height="4.6" fill="#9a98f1"/>
<rect x="163.3" y="140.5" width="4.6" height="4.6" fill="#8d8bf0"/>
<rect x="167.3" y="140.5" width="4.6" height="4.6" fill="#807eee"/>
<rect x="171.3" y="140.5" width="4.6" height="4.6" fill="#7372ec"/>
<rect x="175.3" y="140.5" width="8.6" height="4.6" fill="#6765ea"/>
<rect x="183.3" y="140.5" width="12.6" height="4.6" fill="#5a58e9"/>
<rect x="195.3" y="140.5" width="4.6" height="4.6" fill="#6765ea"/>
<rect x="199.3" y="140.5" width="4.6" height="4.6" fill="#8d8bf0"/>
<rect x="203.3" y="140.5" width="4.6" height="4.6" fill="#a6a5f3"/>
<rect x="207.3" y="140.5" width="4.6" height="4.6" fill="#c0bff6"/>
<rect x="211.3" y="140.5" width="4.6" height="4.6" fill="#d9d8fa"/>
<rect x="215.3" y="140.5" width="4.6" height="4.6" fill="#e6e5fc"/>
<rect x="219.3" y="140.5" width="4.6" height="4.6" fill="#f2f2fd"/>
<rect x="227.3" y="140.5" width="4.6" height="4.6" fill="#fef1f1"/>
<rect x="231.3" y="140.5" width="4.6" height="4.6" fill="#fbd5d5"/>
<rect x="235.3" y="140.5" width="16.6" height="4.6" fill="#f9c7c7"/>
<rect x="251.3" y="140.5" width="8.6" height="4.6" fill="#f8b8b8"/>
<rect x="259.3" y="140.5" width="4.6" height="4.6" fill="#f9c7c7"/>
<rect x="263.3" y="140.5" width="8.6" height="4.6" fill="#fbd5d5"/>
<rect x="271.3" y="140.5" width="8.6" height="4.6" fill="#fce3e3"/>
<rect x="279.3" y="140.5" width="8.6" height="4.6" fill="#fef1f1"/>
<rect x="299.3" y="140.5" width="8.6" height="4.6" fill="#f2f2fd"/>
<rect x="307.3" y="140.5" width="12.6" height="4.6" fill="#e6e5fc"/>
<rect x="51.3" y="144.5" width="12.6" height="4.6" fill="#f9c7c7"/>
<rect x="63.3" y="144.5" width="4.6" height="4.6" fill="#fbd5d5"/>
<rect x="67.3" y="144.5" width="4.6" height="4.6" fill="#fce3e3"/>
<rect x="71.3" y="144.5" width="4.6" height="4.6" fill="#fef1f1"/>
<rect x="83.3" y="144.5" width="4.6" height="4.6" fill="#f2f2fd"/>
<rect x="87.3" y="144.5" width="4.6" height="4.6" fill="#d9d8fa"/>
<rect x="91.3" y="144.5" width="4.6" height="4.6" fill="#ccccf8"/>
<rect x="95.3" y="144.5" width="16.6" height="4.6" fill="#c0bff6"/>
<rect x="111.3" y="144.5" width="12.6" height="4.6" fill="#b3b2f5"/>
<rect x="123.3" y="144.5" width="12.6" height="4.6" fill="#a6a5f3"/>
<rect x="135.3" y="144.5" width="4.6" height="4.6" fill="#9a98f1"/>
<rect x="139.3" y="144.5" width="12.6" height="4.6" fill="#a6a5f3"/>
<rect x="151.3" y="144.5" width="12.6" height="4.6" fill="#b3b2f5"/>
<rect x="163.3" y="144.5" width="4.6" height="4.6" fill="#a6a5f3"/>
<rect x="167.3" y="144.5" width="4.6" height="4.6" fill="#9a98f1"/>
<rect x="171.3" y="144.5" width="24.6" height="4.6" fill="#8d8bf0"/>
<rect x="195.3" y="144.5" width="4.6" height="4.6" fill="#9a98f1"/>
<rect x="199.3" y="144.5" width="4.6" height="4.6" fill="#b3b2f5"/>
<rect x="203.3" y="144.5" width="4.6" height="4.6" fill="#ccccf8"/>
<rect x="207.3" y="144.5" width="4.6" height="4.6" fill="#d9d8fa"/>
<rect x="211.3" y="144.5" width="4.6" height="4.6" fill="#e6e5fc"/>
<rect x="215.3" y="144.5" width="4.6" height="4.6" fill="#f2f2fd"/>
<rect x="223.3" y="144.5" width="4.6" height="4.6" fill="#fef1f1"/>
<rect x="227.3" y="144.5" width="4.6" height="4.6" fill="#fce3e3"/>
<rect x="231.3" y="144.5" width="4.6" height="4.6" fill="#fbd5d5"/>
<rect x="235.3" y="144.5" width="24.6" height="4.6" fill="#f9c7c7"/>
<rect x="259.3" y="144.5" width="8.6" height="4.6" fill="#fbd5d5"/>
<rect x="267.3" y="144.5" width="8.6" height="4.6" fill="#fce3e3"/>
<rect x="275.3" y="144.5" width="8.6" height="4.6" fill="#fef1f1"/>
<rect x="295.3" y="144.5" width="12.6" height="4.6" fill="#f2f2fd"/>
<rect x="307.3" y="144.5" width="8.6" height="4.6" fill="#e6e5fc"/>
<rect x="315.3" y="144.5" width="4.6" height="4.6" fill="#d9d8fa"/>
<rect x="51.3" y="148.5" width="8.6" height="4.6" fill="#f9c7c7"/>
<rect x="59.3" y="148.5" width="8.6" height="4.6" fill="#fbd5d5"/>
<rect x="67.3" y="148.5" width="12.6" height="4.6" fill="#fce3e3"/>
<rect x="79.3" y="148.5" width="4.6" height="4.6" fill="#fef1f1"/>
<rect x="87.3" y="148.5" width="4.6" height="4.6" fill="#f2f2fd"/>
<rect x="91.3" y="148.5" width="4.6" height="4.6" fill="#e6e5fc"/>
<rect x="95.3" y="148.5" width="12.6" height="4.6" fill="#d9d8fa"/>
<rect x="107.3" y="148.5" width="12.6" height="4.6" fill="#ccccf8"/>
<rect x="119.3" y="148.5" width="12.6" height="4.6" fill="#c0bff6"/>
<rect x="131.3" y="148.5" width="16.6" height="4.6" fill="#b3b2f5"/>
<rect x="147.3" y="148.5" width="24.6" height="4.6" fill="#c0bff6"/>
<rect x="171.3" y="148.5" width="4.6" height="4.6" fill="#b3b2f5"/>
<rect x="175.3" y="148.5" width="4.6" height="4.6" fill="#a6a5f3"/>
<rect x="179.3" y="148.5" width="12.6" height="4.6" fill="#b3b2f5"/>
<rect x="191.3" y="148.5" width="4.6" height="4.6" fill="#c0bff6"/>
<rect x="195.3" y="148.5" width="4.6" height="4.6" fill="#ccccf8"/>
<rect x="199.3" y="148.5" width="4.6" height="4.6" fill="#d9d8fa"/>
<rect x="203.3" y="148.5" width="4.6" height="4.6" fill="#e6e5fc"/>
<rect x="207.3" y="148.5" width="4.6" height="4.6" fill="#f2f2fd"/>
<rect x="219.3" y="148.5" width="4.6" height="4.6" fill="#fef1f1"/>
<rect x="223.3" y="148.5" width="4.6" height="4.6" fill="#fce3e3"/>
<rect x="227.3" y="148.5" width="4.6" height="4.6" fill="#fbd5d5"/>
<rect x="231.3" y="148.5" width="28.6" height="4.6" fill="#f9c7c7"/>
<rect x="259.3" y="148.5" width="4.6" height="4.6" fill="#fbd5d5"/>
<rect x="263.3" y="148.5" width="8.6" height="4.6" fill="#fce3e3"/>
<rect x="271.3" y="148.5" width="8.6" height="4.6" fill="#fef1f1"/>
<rect x="291.3" y="148.5" width="12.6" height="4.6" fill="#f2f2fd"/>
<rect x="303.3" y="148.5" width="8.6" height="4.6" fill="#e6e5fc"/>
<rect x="311.3" y="148.5" width="8.6" height="4.6" fill="#d9d8fa"/>
<rect x="51.3" y="152.5" width="4.6" height="4.6" fill="#f9c7c7"/>
<rect x="55.3" y="152.5" width="12.6" height="4.6" fill="#fbd5d5"/>
<rect x="67.3" y="152.5" width="12.6" height="4.6" fill="#f9c7c7"/>
<rect x="79.3" y="152.5" width="4.6" height="4.6" fill="#fbd5d5"/>
<rect x="83.3" y="152.5" width="4.6" height="4.6" fill="#fef1f1"/>
<rect x="91.3" y="152.5" width="4.6" height="4.6" fill="#f2f2fd"/>
<rect x="95.3" y="152.5" width="16.6" height="4.6" fill="#e6e5fc"/>
<rect x="111.3" y="152.5" width="16.6" height="4.6" fill="#d9d8fa"/>
<rect x="127.3" y="152.5" width="28.6" height="4.6" fill="#ccccf8"/>
<rect x="155.3" y="152.5" width="16.6" height="4.6" fill="#d9d8fa"/>
<rect x="171.3" y="152.5" width="16.6" height="4.6" fill="#ccccf8"/>
<rect x="187.3" y="152.5" width="4.6" height="4.6" fill="#d9d8fa"/>
<rect x="191.3" y="152.5" width="8.6" height="4.6" fill="#e6e5fc"/>
<rect x="199.3" y="152.5" width="4.6" height="4.6" fill="#f2f2fd"/>
<rect x="211.3" y="152.5" width="4.6" height="4.6" fill="#fef1f1"/>
<rect x="215.3" y="152.5" width="8.6" height="4.6" fill="#fce3e3"/>
<rect x="223.3" y="152.5" width="4.6" height="4.6" fill="#fbd5d5"/>
<rect x="227.3" y="152.5" width="8.6" height="4.6" fill="#f9c7c7"/>
<rect x="235.3" y="152.5" width="4.6" height="4.6" fill="#f8b8b8"/>
<rect x="239.3" y="152.5" width="20.6" height="4.6" fill="#f9c7c7"/>
<rect x="259.3" y="152.5" width="4.6" height="4.6" fill="#fbd5d5"/>
<rect x="263.3" y="152.5" width="4.6" height="4.6" fill="#fce3e3"/>
<rect x="267.3" y="152.5" width="8.6" height="4.6" fill="#fef1f1"/>
<rect x="287.3" y="152.5" width="8.6" height="4.6" fill="#f2f2fd"/>
<rect x="295.3" y="152.5" width="12.6" height="4.6" fill="#e6e5fc"/>
<rect x="307.3" y="152.5" width="12.6" height="4.6" fill="#d9d8fa"/>
<rect x="51.3" y="156.5" width="16.6" height="4.6" fill="#f9c7c7"/>
<rect x="67.3" y="156.5" width="4.6" height="4.6" fill="#f8b8b8"/>
<rect x="71.3" y="156.5" width="4.6" height="4.6" fill="#f6aaaa"/>
<rect x="75.3" y="156.5" width="4.6" height="4.6" fill="#f8b8b8"/>
<rect x="79.3" y="156.5" width="4.6" height="4.6" fill="#f9c7c7"/>
<rect x="83.3" y="156.5" width="4.6" height="4.6" fill="#fbd5d5"/>
<rect x="87.3" y="156.5" width="4.6" height="4.6" fill="#fef1f1"/>
<rect x="99.3" y="156.5" width="16.6" height="4.6" fill="#f2f2fd"/>
<rect x="115.3" y="156.5" width="16.6" height="4.6" fill="#e6e5fc"/>
<rect x="131.3" y="156.5" width="24.6" height="4.6" fill="#d9d8fa"/>
<rect x="155.3" y="156.5" width="20.6" height="4.6" fill="#e6e5fc"/>
<rect x="175.3" y="156.5" width="4.6" height="4.6" fill="#d9d8fa"/>
<rect x="179.3" y="156.5" width="8.6" height="4.6" fill="#e6e5fc"/>
<rect x="187.3" y="156.5" width="4.6" height="4.6" fill="#f2f2fd"/>
<rect x="199.3" y="156.5" width="8.6" height="4.6" fill="#fef1f1"/>
<rect x="207.3" y="156.5" width="8.6" height="4.6" fill="#fce3e3"/>
<rect x="215.3" y="156.5" width="4.6" height="4.6" fill="#fbd5d5"/>
<rect x="219.3" y="156.5" width="12.6" height="4.6" fill="#f9c7c7"/>
<rect x="231.3" y="156.5" width="12.6" height="4.6" fill="#f8b8b8"/>
<rect x="243.3" y="156.5" width="12.6" height="4.6" fill="#f9c7c7"/>
<rect x="255.3" y="156.5" width="4.6" height="4.6" fill="#fbd5d5"/>
<rect x="259.3" y="156.5" width="8.6" height="4.6" fill="#fce3e3"/>
<rect x="267.3" y="156.5" width="4.6" height="4.6" fill="#fef1f1"/>
<rect x="283.3" y="156.5" width="8.6" height="4.6" fill="#f2f2fd"/>
<rect x="291.3" y="156.5" width="12.6" height="4.6" fill="#e6e5fc"/>
<rect x="303.3" y="156.5" width="16.6" height="4.6" fill="#d9d8fa"/>
<rect x="51.3" y="160.5" width="12.6" height="4.6" fill="#f9c7c7"/>
<rect x="63.3" y="160.5" width="8.6" height="4.6" fill="#f8b8b8"/>
<rect x="71.3" y="160.5" width="8.6" height="4.6" fill="#f6aaaa"/>
<rect x="79.3" y="160.5" width="4.6" height="4.6" fill="#f8b8b8"/>
<rect x="83.3" y="160.5" width="4.6" height="4.6" fill="#fbd5d5"/>
<rect x="87.3" y="160.5" width="4.6" height="4.6" fill="#fce3e3"/>
<rect x="91.3" y="160.5" width="4.6" height="4.6" fill="#fef1f1"/>
<rect x="103.3" y="160.5" width="20.6" height="4.6" fill="#f2f2fd"/>
<rect x="123.3" y="160.5" width="36.6" height="4.6" fill="#e6e5fc"/>
<rect x="159.3" y="160.5" width="12.6" height="4.6" fill="#f2f2fd"/>
<rect x="171.3" y="160.5" width="8.6" height="4.6" fill="#e6e5fc"/>
<rect x="179.3" y="160.5" width="8.6" height="4.6" fill="#f2f2fd"/>
<rect x="191.3" y="160.5" width="8.6" height="4.6" fill="#fef1f1"/>
<rect x="199.3" y="160.5" width="8.6" height="4.6" fill="#fce3e3"/>
<rect x="207.3" y="160.5" width="4.6" height="4.6" fill="#fbd5d5"/>
<rect x="211.3" y="160.5" width="12.6" height="4.6" fill="#f9c7c7"/>
<rect x="223.3" y="160.5" width="20.6" height="4.6" fill="#f8b8b8"/>
<rect x="243.3" y="160.5" width="12.6" height="4.6" fill="#f9c7c7"/>
<rect x="255.3" y="160.5" width="4.6" height="4.6" fill="#fbd5d5"/>
<rect x="259.3" y="160.5" width="4.6" height="4.6" fill="#fce3e3"/>
<rect x="263.3" y="160.5" width="8.6" height="4.6" fill="#fef1f1"/>
<rect x="279.3" y="160.5" width="12.6" height="4.6" fill="#f2f2fd"/>
<rect x="291.3" y="160.5" width="8.6" height="4.6" fill="#e6e5fc"/>
<rect x="299.3" y="160.5" width="20.6" height="4.6" fill="#d9d8fa"/>
<rect x="51.3" y="164.5" width="16.6" height="4.6" fill="#f9c7c7"/>
<rect x="67.3" y="164.5" width="12.6" height="4.6" fill="#f8b8b8"/>
<rect x="79.3" y="164.5" width="4.6" height="4.6" fill="#f9c7c7"/>
<rect x="83.3" y="164.5" width="4.6" height="4.6" fill="#fbd5d5"/>
<rect x="87.3" y="164.5" width="4.6" height="4.6" fill="#fef1f1"/>
<rect x="99.3" y="164.5" width="12.6" height="4.6" fill="#f2f2fd"/>
<rect x="111.3" y="164.5" width="44.6" height="4.6" fill="#e6e5fc"/>
<rect x="155.3" y="164.5" width="28.6" height="4.6" fill="#f2f2fd"/>
<rect x="191.3" y="164.5" width="4.6" height="4.6" fill="#fef1f1"/>
<rect x="195.3" y="164.5" width="8.6" height="4.6" fill="#fce3e3"/>
<rect x="203.3" y="164.5" width="8.6" height="4.6" fill="#fbd5d5"/>
<rect x="211.3" y="164.5" width="4.6" height="4.6" fill="#f9c7c7"/>
<rect x="215.3" y="164.5" width="12.6" height="4.6" fill="#f8b8b8"/>
<rect x="227.3" y="164.5" width="12.6" height="4.6" fill="#f6aaaa"/>
<rect x="239.3" y="164.5" width="8.6" height="4.6" fill="#f8b8b8"/>
<rect x="247.3" y="164.5" width="8.6" height="4.6" fill="#f9c7c7"/>
<rect x="255.3" y="164.5" width="4.6" height="4.6" fill="#fbd5d5"/>
<rect x="259.3" y="164.5" width="4.6" height="4.6" fill="#fce3e3"/>
<rect x="263.3" y="164.5" width="4.6" height="4.6" fill="#fef1f1"/>
<rect x="275.3" y="164.5" width="12.6" height="4.6" fill="#f2f2fd"/>
<rect x="287.3" y="164.5" width="12.6" height="4.6" fill="#e6e5fc"/>
<rect x="299.3" y="164.5" width="20.6" height="4.6" fill="#d9d8fa"/>
<rect x="51.3" y="168.5" width="4.6" height="4.6" fill="#f9c7c7"/>
<rect x="55.3" y="168.5" width="16.6" height="4.6" fill="#fbd5d5"/>
<rect x="71.3" y="168.5" width="4.6" height="4.6" fill="#f9c7c7"/>
<rect x="75.3" y="168.5" width="4.6" height="4.6" fill="#fbd5d5"/>
<rect x="79.3" y="168.5" width="4.6" height="4.6" fill="#fce3e3"/>
<rect x="83.3" y="168.5" width="4.6" height="4.6" fill="#fef1f1"/>
<rect x="95.3" y="168.5" width="8.6" height="4.6" fill="#f2f2fd"/>
<rect x="103.3" y="168.5" width="52.6" height="4.6" fill="#e6e5fc"/>
<rect x="155.3" y="168.5" width="24.6" height="4.6" fill="#f2f2fd"/>
<rect x="187.3" y="168.5" width="4.6" height="4.6" fill="#fef1f1"/>
<rect x="191.3" y="168.5" width="8.6" height="4.6" fill="#fce3e3"/>
<rect x="199.3" y="168.5" width="8.6" height="4.6" fill="#fbd5d5"/>
<rect x="207.3" y="168.5" width="8.6" height="4.6" fill="#f9c7c7"/>
<rect x="215.3" y="168.5" width="8.6" height="4.6" fill="#f8b8b8"/>
<rect x="223.3" y="168.5" width="20.6" height="4.6" fill="#f6aaaa"/>
<rect x="243.3" y="168.5" width="4.6" height="4.6" fill="#f8b8b8"/>
<rect x="247.3" y="168.5" width="4.6" height="4.6" fill="#f9c7c7"/>
<rect x="251.3" y="168.5" width="8.6" height="4.6" fill="#fbd5d5"/>
<rect x="259.3" y="168.5" width="4.6" height="4.6" fill="#fce3e3"/>
<rect x="263.3" y="168.5" width="4.6" height="4.6" fill="#fef1f1"/>
<rect x="271.3" y="168.5" width="12.6" height="4.6" fill="#f2f2fd"/>
<rect x="283.3" y="168.5" width="16.6" height="4.6" fill="#e6e5fc"/>
<rect x="299.3" y="168.5" width="20.6" height="4.6" fill="#d9d8fa"/>
<rect x="51.3" y="172.5" width="16.6" height="4.6" fill="#fbd5d5"/>
<rect x="67.3" y="172.5" width="12.6" height="4.6" fill="#fce3e3"/>
<rect x="79.3" y="172.5" width="4.6" height="4.6" fill="#fef1f1"/>
<rect x="91.3" y="172.5" width="8.6" height="4.6" fill="#f2f2fd"/>
<rect x="99.3" y="172.5" width="12.6" height="4.6" fill="#e6e5fc"/>
<rect x="111.3" y="172.5" width="8.6" height="4.6" fill="#d9d8fa"/>
<rect x="119.3" y="172.5" width="32.6" height="4.6" fill="#e6e5fc"/>
<rect x="151.3" y="172.5" width="28.6" height="4.6" fill="#f2f2fd"/>
<rect x="183.3" y="172.5" width="8.6" height="4.6" fill="#fef1f1"/>
<rect x="191.3" y="172.5" width="4.6" height="4.6" fill="#fce3e3"/>
<rect x="195.3" y="172.5" width="8.6" height="4.6" fill="#fbd5d5"/>
<rect x="203.3" y="172.5" width="8.6" height="4.6" fill="#f9c7c7"/>
<rect x="211.3" y="172.5" width="8.6" height="4.6" fill="#f8b8b8"/>
<rect x="219.3" y="172.5" width="24.6" height="4.6" fill="#f6aaaa"/>
<rect x="243.3" y="172.5" width="4.6" height="4.6" fill="#f8b8b8"/>
<rect x="247.3" y="172.5" width="4.6" height="4.6" fill="#f9c7c7"/>
<rect x="251.3" y="172.5" width="4.6" height="4.6" fill="#fbd5d5"/>
<rect x="255.3" y="172.5" width="4.6" height="4.6" fill="#fce3e3"/>
<rect x="259.3" y="172.5" width="4.6" height="4.6" fill="#fef1f1"/>
<rect x="271.3" y="172.5" width="8.6" height="4.6" fill="#f2f2fd"/>
<rect x="279.3" y="172.5" width="20.6" height="4.6" fill="#e6e5fc"/>
<rect x="299.3" y="172.5" width="20.6" height="4.6" fill="#d9d8fa"/>
<rect x="51.3" y="176.5" width="12.6" height="4.6" fill="#fbd5d5"/>
<rect x="63.3" y="176.5" width="8.6" height="4.6" fill="#fce3e3"/>
<rect x="71.3" y="176.5" width="8.6" height="4.6" fill="#fef1f1"/>
<rect x="87.3" y="176.5" width="4.6" height="4.6" fill="#f2f2fd"/>
<rect x="91.3" y="176.5" width="12.6" height="4.6" fill="#e6e5fc"/>
<rect x="103.3" y="176.5" width="24.6" height="4.6" fill="#d9d8fa"/>
<rect x="127.3" y="176.5" width="24.6" height="4.6" fill="#e6e5fc"/>
<rect x="151.3" y="176.5" width="20.6" height="4.6" fill="#f2f2fd"/>
<rect x="183.3" y="176.5" width="4.6" height="4.6" fill="#fef1f1"/>
<rect x="187.3" y="176.5" width="4.6" height="4.6" fill="#fce3e3"/>
<rect x="191.3" y="176.5" width="8.6" height="4.6" fill="#fbd5d5"/>
<rect x="199.3" y="176.5" width="8.6" height="4.6" fill="#f9c7c7"/>
<rect x="207.3" y="176.5" width="12.6" height="4.6" fill="#f8b8b8"/>
<rect x="219.3" y="176.5" width="24.6" height="4.6" fill="#f6aaaa"/>
<rect x="243.3" y="176.5" width="4.6" height="4.6" fill="#f8b8b8"/>
<rect x="247.3" y="176.5" width="4.6" height="4.6" fill="#f9c7c7"/>
<rect x="251.3" y="176.5" width="4.6" height="4.6" fill="#fbd5d5"/>
<rect x="255.3" y="176.5" width="4.6" height="4.6" fill="#fce3e3"/>
<rect x="259.3" y="176.5" width="4.6" height="4.6" fill="#fef1f1"/>
<rect x="267.3" y="176.5" width="8.6" height="4.6" fill="#f2f2fd"/>
<rect x="275.3" y="176.5" width="24.6" height="4.6" fill="#e6e5fc"/>
<rect x="299.3" y="176.5" width="20.6" height="4.6" fill="#d9d8fa"/>
<rect x="51.3" y="180.5" width="8.6" height="4.6" fill="#fbd5d5"/>
<rect x="59.3" y="180.5" width="8.6" height="4.6" fill="#fce3e3"/>
<rect x="67.3" y="180.5" width="8.6" height="4.6" fill="#fef1f1"/>
<rect x="83.3" y="180.5" width="8.6" height="4.6" fill="#f2f2fd"/>
<rect x="91.3" y="180.5" width="8.6" height="4.6" fill="#e6e5fc"/>
<rect x="99.3" y="180.5" width="28.6" height="4.6" fill="#d9d8fa"/>
<rect x="127.3" y="180.5" width="24.6" height="4.6" fill="#e6e5fc"/>
<rect x="151.3" y="180.5" width="16.6" height="4.6" fill="#f2f2fd"/>
<rect x="179.3" y="180.5" width="8.6" height="4.6" fill="#fef1f1"/>
<rect x="187.3" y="180.5" width="4.6" height="4.6" fill="#fce3e3"/>
<rect x="191.3" y="180.5" width="4.6" height="4.6" fill="#fbd5d5"/>
<rect x="195.3" y="180.5" width="12.6" height="4.6" fill="#f9c7c7"/>
<rect x="207.3" y="180.5" width="16.6" height="4.6" fill="#f8b8b8"/>
<rect x="223.3" y="180.5" width="12.6" height="4.6" fill="#f6aaaa"/>
<rect x="235.3" y="180.5" width="8.6" height="4.6" fill="#f8b8b8"/>
<rect x="243.3" y="180.5" width="4.6" height="4.6" fill="#f9c7c7"/>
<rect x="247.3" y="180.5" width="8.6" height="4.6" fill="#fbd5d5"/>
<rect x="255.3" y="180.5" width="4.6" height="4.6" fill="#fce3e3"/>
<rect x="259.3" y="180.5" width="4.6" height="4.6" fill="#fef1f1"/>
<rect x="267.3" y="180.5" width="4.6" height="4.6" fill="#f2f2fd"/>
<rect x="271.3" y="180.5" width="32.6" height="4.6" fill="#e6e5fc"/>
<rect x="303.3" y="180.5" width="16.6" height="4.6" fill="#d9d8fa"/>
<rect x="51.3" y="184.5" width="4.6" height="4.6" fill="#fce3e3"/>
<rect x="55.3" y="184.5" width="12.6" height="4.6" fill="#fef1f1"/>
<rect x="79.3" y="184.5" width="8.6" height="4.6" fill="#f2f2fd"/>
<rect x="87.3" y="184.5" width="8.6" height="4.6" fill="#e6e5fc"/>
<rect x="95.3" y="184.5" width="28.6" height="4.6" fill="#d9d8fa"/>
<rect x="123.3" y="184.5" width="20.6" height="4.6" fill="#e6e5fc"/>
<rect x="143.3" y="184.5" width="20.6" height="4.6" fill="#f2f2fd"/>
<rect x="179.3" y="184.5" width="4.6" height="4.6" fill="#fef1f1"/>
<rect x="183.3" y="184.5" width="4.6" height="4.6" fill="#fce3e3"/>
<rect x="187.3" y="184.5" width="8.6" height="4.6" fill="#fbd5d5"/>
<rect x="195.3" y="184.5" width="24.6" height="4.6" fill="#f9c7c7"/>
<rect x="219.3" y="184.5" width="16.6" height="4.6" fill="#f8b8b8"/>
<rect x="235.3" y="184.5" width="8.6" height="4.6" fill="#f9c7c7"/>
<rect x="243.3" y="184.5" width="8.6" height="4.6" fill="#fbd5d5"/>
<rect x="251.3" y="184.5" width="4.6" height="4.6" fill="#fce3e3"/>
<rect x="255.3" y="184.5" width="8.6" height="4.6" fill="#fef1f1"/>
<rect x="267.3" y="184.5" width="8.6" height="4.6" fill="#f2f2fd"/>
<rect x="275.3" y="184.5" width="32.6" height="4.6" fill="#e6e5fc"/>
<rect x="307.3" y="184.5" width="12.6" height="4.6" fill="#d9d8fa"/>
<rect x="67.3" y="188.5" width="16.6" height="4.6" fill="#f2f2fd"/>
<rect x="83.3" y="188.5" width="8.6" height="4.6" fill="#e6e5fc"/>
<rect x="91.3" y="188.5" width="28.6" height="4.6" fill="#d9d8fa"/>
<rect x="119.3" y="188.5" width="16.6" height="4.6" fill="#e6e5fc"/>
<rect x="135.3" y="188.5" width="24.6" height="4.6" fill="#f2f2fd"/>
<rect x="175.3" y="188.5" width="4.6" height="4.6" fill="#fef1f1"/>
<rect x="179.3" y="188.5" width="8.6" height="4.6" fill="#fce3e3"/>
<rect x="187.3" y="188.5" width="4.6" height="4.6" fill="#fbd5d5"/>
<rect x="191.3" y="188.5" width="40.6" height="4.6" fill="#f9c7c7"/>
<rect x="231.3" y="188.5" width="12.6" height="4.6" fill="#fbd5d5"/>
<rect x="243.3" y="188.5" width="8.6" height="4.6" fill="#fce3e3"/>
<rect x="251.3" y="188.5" width="8.6" height="4.6" fill="#fef1f1"/>
<rect x="267.3" y="188.5" width="8.6" height="4.6" fill="#f2f2fd"/>
<rect x="275.3" y="188.5" width="36.6" height="4.6" fill="#e6e5fc"/>
<rect x="311.3" y="188.5" width="8.6" height="4.6" fill="#d9d8fa"/>
<rect x="55.3" y="192.5" width="16.6" height="4.6" fill="#f2f2fd"/>
<rect x="71.3" y="192.5" width="16.6" height="4.6" fill="#e6e5fc"/>
<rect x="87.3" y="192.5" width="28.6" height="4.6" fill="#d9d8fa"/>
<rect x="115.3" y="192.5" width="16.6" height="4.6" fill="#e6e5fc"/>
<rect x="131.3" y="192.5" width="24.6" height="4.6" fill="#f2f2fd"/>
<rect x="171.3" y="192.5" width="8.6" height="4.6" fill="#fef1f1"/>
<rect x="179.3" y="192.5" width="4.6" height="4.6" fill="#fce3e3"/>
<rect x="183.3" y="192.5" width="8.6" height="4.6" fill="#fbd5d5"/>
<rect x="191.3" y="192.5" width="16.6" height="4.6" fill="#f9c7c7"/>
<rect x="207.3" y="192.5" width="24.6" height="4.6" fill="#fbd5d5"/>
<rect x="231.3" y="192.5" width="12.6" height="4.6" fill="#fce3e3"/>
<rect x="243.3" y="192.5" width="12.6" height="4.6" fill="#fef1f1"/>
<rect x="267.3" y="192.5" width="32.6" height="4.6" fill="#f2f2fd"/>
<rect x="299.3" y="192.5" width="16.6" height="4.6" fill="#e6e5fc"/>
<rect x="315.3" y="192.5" width="4.6" height="4.6" fill="#d9d8fa"/>
<rect x="51.3" y="196.5" width="20.6" height="4.6" fill="#e6e5fc"/>
<rect x="71.3" y="196.5" width="40.6" height="4.6" fill="#d9d8fa"/>
<rect x="111.3" y="196.5" width="16.6" height="4.6" fill="#e6e5fc"/>
<rect x="127.3" y="196.5" width="20.6" height="4.6" fill="#f2f2fd"/>
<rect x="163.3" y="196.5" width="12.6" height="4.6" fill="#fef1f1"/>
<rect x="175.3" y="196.5" width="4.6" height="4.6" fill="#fce3e3"/>
<rect x="179.3" y="196.5" width="8.6" height="4.6" fill="#fbd5d5"/>
<rect x="187.3" y="196.5" width="4.6" height="4.6" fill="#f9c7c7"/>
<rect x="191.3" y="196.5" width="8.6" height="4.6" fill="#f8b8b8"/>
<rect x="199.3" y="196.5" width="8.6" height="4.6" fill="#f9c7c7"/>
<rect x="207.3" y="196.5" width="8.6" height="4.6" fill="#fbd5d5"/>
<rect x="215.3" y="196.5" width="20.6" height="4.6" fill="#fce3e3"/>
<rect x="235.3" y="196.5" width="16.6" height="4.6" fill="#fef1f1"/>
<rect x="267.3" y="196.5" width="36.6" height="4.6" fill="#f2f2fd"/>
<rect x="303.3" y="196.5" width="16.6" height="4.6" fill="#e6e5fc"/>
<rect x="51.3" y="200.5" width="8.6" height="4.6" fill="#e6e5fc"/>
<rect x="59.3" y="200.5" width="48.6" height="4.6" fill="#d9d8fa"/>
<rect x="107.3" y="200.5" width="16.6" height="4.6" fill="#e6e5fc"/>
<rect x="123.3" y="200.5" width="20.6" height="4.6" fill="#f2f2fd"/>
<rect x="159.3" y="200.5" width="12.6" height="4.6" fill="#fef1f1"/>
<rect x="171.3" y="200.5" width="8.6" height="4.6" fill="#fce3e3"/>
<rect x="179.3" y="200.5" width="4.6" height="4.6" fill="#fbd5d5"/>
<rect x="183.3" y="200.5" width="8.6" height="4.6" fill="#f9c7c7"/>
<rect x="191.3" y="200.5" width="16.6" height="4.6" fill="#f8b8b8"/>
<rect x="207.3" y="200.5" width="4.6" height="4.6" fill="#f9c7c7"/>
<rect x="211.3" y="200.5" width="8.6" height="4.6" fill="#fbd5d5"/>
<rect x="219.3" y="200.5" width="8.6" height="4.6" fill="#fce3e3"/>
<rect x="227.3" y="200.5" width="16.6" height="4.6" fill="#fef1f1"/>
<rect x="267.3" y="200.5" width="36.6" height="4.6" fill="#f2f2fd"/>
<rect x="303.3" y="200.5" width="16.6" height="4.6" fill="#e6e5fc"/>
<rect x="51.3" y="204.5" width="52.6" height="4.6" fill="#d9d8fa"/>
<rect x="103.3" y="204.5" width="16.6" height="4.6" fill="#e6e5fc"/>
<rect x="119.3" y="204.5" width="20.6" height="4.6" fill="#f2f2fd"/>
<rect x="159.3" y="204.5" width="8.6" height="4.6" fill="#fef1f1"/>
<rect x="167.3" y="204.5" width="8.6" height="4.6" fill="#fce3e3"/>
<rect x="175.3" y="204.5" width="8.6" height="4.6" fill="#fbd5d5"/>
<rect x="183.3" y="204.5" width="4.6" height="4.6" fill="#f9c7c7"/>
<rect x="187.3" y="204.5" width="8.6" height="4.6" fill="#f8b8b8"/>
<rect x="195.3" y="204.5" width="12.6" height="4.6" fill="#f6aaaa"/>
<rect x="207.3" y="204.5" width="4.6" height="4.6" fill="#f8b8b8"/>
<rect x="211.3" y="204.5" width="4.6" height="4.6" fill="#f9c7c7"/>
<rect x="215.3" y="204.5" width="4.6" height="4.6" fill="#fbd5d5"/>
<rect x="219.3" y="204.5" width="8.6" height="4.6" fill="#fce3e3"/>
<rect x="227.3" y="204.5" width="16.6" height="4.6" fill="#fef1f1"/>
<rect x="271.3" y="204.5" width="32.6" height="4.6" fill="#f2f2fd"/>
<rect x="303.3" y="204.5" width="16.6" height="4.6" fill="#e6e5fc"/>
<rect x="51.3" y="208.5" width="48.6" height="4.6" fill="#d9d8fa"/>
<rect x="99.3" y="208.5" width="16.6" height="4.6" fill="#e6e5fc"/>
<rect x="115.3" y="208.5" width="20.6" height="4.6" fill="#f2f2fd"/>
<rect x="155.3" y="208.5" width="12.6" height="4.6" fill="#fef1f1"/>
<rect x="167.3" y="208.5" width="8.6" height="4.6" fill="#fce3e3"/>
<rect x="175.3" y="208.5" width="8.6" height="4.6" fill="#fbd5d5"/>
<rect x="183.3" y="208.5" width="4.6" height="4.6" fill="#f9c7c7"/>
<rect x="187.3" y="208.5" width="4.6" height="4.6" fill="#f8b8b8"/>
<rect x="191.3" y="208.5" width="8.6" height="4.6" fill="#f6aaaa"/>
<rect x="199.3" y="208.5" width="12.6" height="4.6" fill="#f59c9c"/>
<rect x="211.3" y="208.5" width="4.6" height="4.6" fill="#f8b8b8"/>
<rect x="215.3" y="208.5" width="4.6" height="4.6" fill="#f9c7c7"/>
<rect x="219.3" y="208.5" width="4.6" height="4.6" fill="#fbd5d5"/>
<rect x="223.3" y="208.5" width="4.6" height="4.6" fill="#fce3e3"/>
<rect x="227.3" y="208.5" width="16.6" height="4.6" fill="#fef1f1"/>
<rect x="275.3" y="208.5" width="28.6" height="4.6" fill="#f2f2fd"/>
<rect x="303.3" y="208.5" width="16.6" height="4.6" fill="#e6e5fc"/>
<rect x="51.3" y="212.5" width="44.6" height="4.6" fill="#d9d8fa"/>
<rect x="95.3" y="212.5" width="16.6" height="4.6" fill="#e6e5fc"/>
<rect x="111.3" y="212.5" width="20.6" height="4.6" fill="#f2f2fd"/>
<rect x="151.3" y="212.5" width="12.6" height="4.6" fill="#fef1f1"/>
<rect x="163.3" y="212.5" width="8.6" height="4.6" fill="#fce3e3"/>
<rect x="171.3" y="212.5" width="8.6" height="4.6" fill="#fbd5d5"/>
<rect x="179.3" y="212.5" width="8.6" height="4.6" fill="#f9c7c7"/>
<rect x="187.3" y="212.5" width="4.6" height="4.6" fill="#f8b8b8"/>
<rect x="191.3" y="212.5" width="8.6" height="4.6" fill="#f6aaaa"/>
<rect x="199.3" y="212.5" width="12.6" height="4.6" fill="#f59c9c"/>
<rect x="211.3" y="212.5" width="4.6" height="4.6" fill="#f8b8b8"/>
<rect x="215.3" y="212.5" width="4.6" height="4.6" fill="#f9c7c7"/>
<rect x="219.3" y="212.5" width="4.6" height="4.6" fill="#fbd5d5"/>
<rect x="223.3" y="212.5" width="4.6" height="4.6" fill="#fce3e3"/>
<rect x="227.3" y="212.5" width="16.6" height="4.6" fill="#fef1f1"/>
<rect x="283.3" y="212.5" width="20.6" height="4.6" fill="#f2f2fd"/>
<rect x="303.3" y="212.5" width="16.6" height="4.6" fill="#e6e5fc"/>
<rect x="51.3" y="216.5" width="20.6" height="4.6" fill="#d9d8fa"/>
<rect x="71.3" y="216.5" width="36.6" height="4.6" fill="#e6e5fc"/>
<rect x="107.3" y="216.5" width="20.6" height="4.6" fill="#f2f2fd"/>
<rect x="147.3" y="216.5" width="12.6" height="4.6" fill="#fef1f1"/>
<rect x="159.3" y="216.5" width="12.6" height="4.6" fill="#fce3e3"/>
<rect x="171.3" y="216.5" width="8.6" height="4.6" fill="#fbd5d5"/>
<rect x="179.3" y="216.5" width="8.6" height="4.6" fill="#f9c7c7"/>
<rect x="187.3" y="216.5" width="4.6" height="4.6" fill="#f8b8b8"/>
<rect x="191.3" y="216.5" width="20.6" height="4.6" fill="#f6aaaa"/>
<rect x="211.3" y="216.5" width="4.6" height="4.6" fill="#f8b8b8"/>
<rect x="215.3" y="216.5" width="4.6" height="4.6" fill="#fbd5d5"/>
<rect x="219.3" y="216.5" width="8.6" height="4.6" fill="#fce3e3"/>
<rect x="227.3" y="216.5" width="16.6" height="4.6" fill="#fef1f1"/>
<rect x="283.3" y="216.5" width="20.6" height="4.6" fill="#f2f2fd"/>
<rect x="303.3" y="216.5" width="16.6" height="4.6" fill="#e6e5fc"/>
<rect x="51.3" y="220.5" width="20.6" height="4.6" fill="#d9d8fa"/>
<rect x="71.3" y="220.5" width="36.6" height="4.6" fill="#e6e5fc"/>
<rect x="107.3" y="220.5" width="16.6" height="4.6" fill="#f2f2fd"/>
<rect x="147.3" y="220.5" width="12.6" height="4.6" fill="#fef1f1"/>
<rect x="159.3" y="220.5" width="8.6" height="4.6" fill="#fce3e3"/>
<rect x="167.3" y="220.5" width="8.6" height="4.6" fill="#fbd5d5"/>
<rect x="175.3" y="220.5" width="12.6" height="4.6" fill="#f9c7c7"/>
<rect x="187.3" y="220.5" width="20.6" height="4.6" fill="#f8b8b8"/>
<rect x="207.3" y="220.5" width="4.6" height="4.6" fill="#f9c7c7"/>
<rect x="211.3" y="220.5" width="8.6" height="4.6" fill="#fbd5d5"/>
<rect x="219.3" y="220.5" width="8.6" height="4.6" fill="#fce3e3"/>
<rect x="227.3" y="220.5" width="16.6" height="4.6" fill="#fef1f1"/>
<rect x="287.3" y="220.5" width="16.6" height="4.6" fill="#f2f2fd"/>
<rect x="303.3" y="220.5" width="16.6" height="4.6" fill="#e6e5fc"/>
<rect x="51.3" y="224.5" width="20.6" height="4.6" fill="#d9d8fa"/>
<rect x="71.3" y="224.5" width="36.6" height="4.6" fill="#e6e5fc"/>
<rect x="107.3" y="224.5" width="16.6" height="4.6" fill="#f2f2fd"/>
<rect x="147.3" y="224.5" width="12.6" height="4.6" fill="#fef1f1"/>
<rect x="159.3" y="224.5" width="8.6" height="4.6" fill="#fce3e3"/>
<rect x="167.3" y="224.5" width="8.6" height="4.6" fill="#fbd5d5"/>
<rect x="175.3" y="224.5" width="12.6" height="4.6" fill="#f9c7c7"/>
<rect x="187.3" y="224.5" width="12.6" height="4.6" fill="#f8b8b8"/>
<rect x="199.3" y="224.5" width="8.6" height="4.6" fill="#f9c7c7"/>
<rect x="207.3" y="224.5" width="8.6" height="4.6" fill="#fbd5d5"/>
<rect x="215.3" y="224.5" width="12.6" height="4.6" fill="#fce3e3"/>
<rect x="227.3" y="224.5" width="16.6" height="4.6" fill="#fef1f1"/>
<rect x="287.3" y="224.5" width="16.6" height="4.6" fill="#f2f2fd"/>
<rect x="303.3" y="224.5" width="16.6" height="4.6" fill="#e6e5fc"/>
</g>
<polygon points="55.3,61 75.3,61 74.3,65.5 55.3,93.5" fill="#211ee1" filter="url(#fb2)"/>
<polygon points="58.8,60.8 58.8,67.5 73.3,62.5" fill="#ffffff"/>
<polygon points="60.8,61.8 73.8,61.8 61.8,66" fill="#e81a1a"/>
<polygon points="75.3,40.5 85.3,40.5 79.3,44.5" fill="#706eec" filter="url(#fb2)"/>
<rect x="55.3" y="40.5" width="19.7" height="20.2" fill="#fff"/>
</g>
<clipPath id="cb"><rect x="395.5" y="38.5" width="258" height="184"/></clipPath>
<g clip-path="url(#cb)">
<g filter="url(#fb)">
<rect x="391.5" y="34.5" width="24.6" height="4.6" fill="#f28080"/>
<rect x="415.5" y="34.5" width="4.6" height="4.6" fill="#f48e8e"/>
<rect x="419.5" y="34.5" width="4.6" height="4.6" fill="#f59c9c"/>
<rect x="423.5" y="34.5" width="4.6" height="4.6" fill="#f6aaaa"/>
<rect x="427.5" y="34.5" width="4.6" height="4.6" fill="#f9c7c7"/>
<rect x="431.5" y="34.5" width="4.6" height="4.6" fill="#fbd5d5"/>
<rect x="435.5" y="34.5" width="20.6" height="4.6" fill="#fce3e3"/>
<rect x="455.5" y="34.5" width="4.6" height="4.6" fill="#fef1f1"/>
<rect x="467.5" y="34.5" width="4.6" height="4.6" fill="#e6e5fc"/>
<rect x="471.5" y="34.5" width="4.6" height="4.6" fill="#d9d8fa"/>
<rect x="475.5" y="34.5" width="12.6" height="4.6" fill="#ccccf8"/>
<rect x="487.5" y="34.5" width="36.6" height="4.6" fill="#c0bff6"/>
<rect x="523.5" y="34.5" width="8.6" height="4.6" fill="#b3b2f5"/>
<rect x="531.5" y="34.5" width="12.6" height="4.6" fill="#a6a5f3"/>
<rect x="543.5" y="34.5" width="12.6" height="4.6" fill="#9a98f1"/>
<rect x="555.5" y="34.5" width="20.6" height="4.6" fill="#8d8bf0"/>
<rect x="575.5" y="34.5" width="4.6" height="4.6" fill="#9a98f1"/>
<rect x="579.5" y="34.5" width="4.6" height="4.6" fill="#a6a5f3"/>
<rect x="583.5" y="34.5" width="4.6" height="4.6" fill="#b3b2f5"/>
<rect x="587.5" y="34.5" width="4.6" height="4.6" fill="#c0bff6"/>
<rect x="591.5" y="34.5" width="4.6" height="4.6" fill="#ccccf8"/>
<rect x="595.5" y="34.5" width="4.6" height="4.6" fill="#e6e5fc"/>
<rect x="603.5" y="34.5" width="4.6" height="4.6" fill="#fce3e3"/>
<rect x="607.5" y="34.5" width="4.6" height="4.6" fill="#f9c7c7"/>
<rect x="611.5" y="34.5" width="4.6" height="4.6" fill="#f59c9c"/>
<rect x="615.5" y="34.5" width="8.6" height="4.6" fill="#f48e8e"/>
<rect x="623.5" y="34.5" width="4.6" height="4.6" fill="#f59c9c"/>
<rect x="627.5" y="34.5" width="4.6" height="4.6" fill="#f6aaaa"/>
<rect x="631.5" y="34.5" width="4.6" height="4.6" fill="#f8b8b8"/>
<rect x="635.5" y="34.5" width="4.6" height="4.6" fill="#f9c7c7"/>
<rect x="639.5" y="34.5" width="4.6" height="4.6" fill="#fce3e3"/>
<rect x="391.5" y="38.5" width="8.6" height="4.6" fill="#f28080"/>
<rect x="399.5" y="38.5" width="16.6" height="4.6" fill="#f17272"/>
<rect x="415.5" y="38.5" width="4.6" height="4.6" fill="#f28080"/>
<rect x="419.5" y="38.5" width="8.6" height="4.6" fill="#f59c9c"/>
<rect x="427.5" y="38.5" width="4.6" height="4.6" fill="#f8b8b8"/>
<rect x="431.5" y="38.5" width="4.6" height="4.6" fill="#fbd5d5"/>
<rect x="435.5" y="38.5" width="4.6" height="4.6" fill="#fce3e3"/>
<rect x="439.5" y="38.5" width="16.6" height="4.6" fill="#fef1f1"/>
<rect x="463.5" y="38.5" width="4.6" height="4.6" fill="#f2f2fd"/>
<rect x="467.5" y="38.5" width="4.6" height="4.6" fill="#e6e5fc"/>
<rect x="471.5" y="38.5" width="4.6" height="4.6" fill="#d9d8fa"/>
<rect x="475.5" y="38.5" width="20.6" height="4.6" fill="#ccccf8"/>
<rect x="495.5" y="38.5" width="24.6" height="4.6" fill="#c0bff6"/>
<rect x="519.5" y="38.5" width="12.6" height="4.6" fill="#b3b2f5"/>
<rect x="531.5" y="38.5" width="16.6" height="4.6" fill="#a6a5f3"/>
<rect x="547.5" y="38.5" width="20.6" height="4.6" fill="#9a98f1"/>
<rect x="567.5" y="38.5" width="12.6" height="4.6" fill="#a6a5f3"/>
<rect x="579.5" y="38.5" width="4.6" height="4.6" fill="#b3b2f5"/>
<rect x="583.5" y="38.5" width="4.6" height="4.6" fill="#c0bff6"/>
<rect x="587.5" y="38.5" width="4.6" height="4.6" fill="#ccccf8"/>
<rect x="591.5" y="38.5" width="4.6" height="4.6" fill="#d9d8fa"/>
<rect x="595.5" y="38.5" width="4.6" height="4.6" fill="#f2f2fd"/>
<rect x="603.5" y="38.5" width="4.6" height="4.6" fill="#fce3e3"/>
<rect x="607.5" y="38.5" width="4.6" height="4.6" fill="#f8b8b8"/>
<rect x="611.5" y="38.5" width="4.6" height="4.6" fill="#f48e8e"/>
<rect x="615.5" y="38.5" width="8.6" height="4.6" fill="#f28080"/>
<rect x="623.5" y="38.5" width="4.6" height="4.6" fill="#f48e8e"/>
<rect x="627.5" y="38.5" width="4.6" height="4.6" fill="#f59c9c"/>
<rect x="631.5" y="38.5" width="4.6" height="4.6" fill="#f6aaaa"/>
<rect x="635.5" y="38.5" width="4.6" height="4.6" fill="#f9c7c7"/>
<rect x="639.5" y="38.5" width="4.6" height="4.6" fill="#fef1f1"/>
<rect x="643.5" y="38.5" width="12.6" height="4.6" fill="#e6e5fc"/>
<rect x="655.5" y="38.5" width="4.6" height="4.6" fill="#f2f2fd"/>
<rect x="391.5" y="42.5" width="8.6" height="4.6" fill="#ef6464"/>
<rect x="399.5" y="42.5" width="16.6" height="4.6" fill="#ee5656"/>
<rect x="415.5" y="42.5" width="4.6" height="4.6" fill="#f17272"/>
<rect x="419.5" y="42.5" width="4.6" height="4.6" fill="#f48e8e"/>
<rect x="423.5" y="42.5" width="4.6" height="4.6" fill="#f59c9c"/>
<rect x="427.5" y="42.5" width="4.6" height="4.6" fill="#f6aaaa"/>
<rect x="431.5" y="42.5" width="4.6" height="4.6" fill="#fbd5d5"/>
<rect x="435.5" y="42.5" width="4.6" height="4.6" fill="#fef1f1"/>
<rect x="443.5" y="42.5" width="4.6" height="4.6" fill="#f2f2fd"/>
<rect x="447.5" y="42.5" width="12.6" height="4.6" fill="#e6e5fc"/>
<rect x="459.5" y="42.5" width="12.6" height="4.6" fill="#d9d8fa"/>
<rect x="471.5" y="42.5" width="36.6" height="4.6" fill="#ccccf8"/>
<rect x="507.5" y="42.5" width="12.6" height="4.6" fill="#c0bff6"/>
<rect x="519.5" y="42.5" width="8.6" height="4.6" fill="#b3b2f5"/>
<rect x="527.5" y="42.5" width="32.6" height="4.6" fill="#a6a5f3"/>
<rect x="559.5" y="42.5" width="8.6" height="4.6" fill="#b3b2f5"/>
<rect x="567.5" y="42.5" width="8.6" height="4.6" fill="#c0bff6"/>
<rect x="575.5" y="42.5" width="4.6" height="4.6" fill="#ccccf8"/>
<rect x="579.5" y="42.5" width="8.6" height="4.6" fill="#d9d8fa"/>
<rect x="587.5" y="42.5" width="4.6" height="4.6" fill="#e6e5fc"/>
<rect x="591.5" y="42.5" width="4.6" height="4.6" fill="#f2f2fd"/>
<rect x="599.5" y="42.5" width="4.6" height="4.6" fill="#fce3e3"/>
<rect x="603.5" y="42.5" width="4.6" height="4.6" fill="#f9c7c7"/>
<rect x="607.5" y="42.5" width="4.6" height="4.6" fill="#f59c9c"/>
<rect x="611.5" y="42.5" width="4.6" height="4.6" fill="#f17272"/>
<rect x="615.5" y="42.5" width="4.6" height="4.6" fill="#ee5656"/>
<rect x="619.5" y="42.5" width="4.6" height="4.6" fill="#ef6464"/>
<rect x="623.5" y="42.5" width="4.6" height="4.6" fill="#f17272"/>
<rect x="627.5" y="42.5" width="4.6" height="4.6" fill="#f28080"/>
<rect x="631.5" y="42.5" width="4.6" height="4.6" fill="#f48e8e"/>
<rect x="635.5" y="42.5" width="4.6" height="4.6" fill="#f8b8b8"/>
<rect x="639.5" y="42.5" width="4.6" height="4.6" fill="#fef1f1"/>
<rect x="643.5" y="42.5" width="4.6" height="4.6" fill="#d9d8fa"/>
<rect x="647.5" y="42.5" width="4.6" height="4.6" fill="#ccccf8"/>
<rect x="651.5" y="42.5" width="4.6" height="4.6" fill="#e6e5fc"/>
<rect x="655.5" y="42.5" width="4.6" height="4.6" fill="#f2f2fd"/>
<rect x="391.5" y="46.5" width="8.6" height="4.6" fill="#ec4848"/>
<rect x="399.5" y="46.5" width="8.6" height="4.6" fill="#eb3939"/>
<rect x="407.5" y="46.5" width="8.6" height="4.6" fill="#ea2b2b"/>
<rect x="415.5" y="46.5" width="4.6" height="4.6" fill="#ee5656"/>
<rect x="419.5" y="46.5" width="4.6" height="4.6" fill="#f48e8e"/>
<rect x="423.5" y="46.5" width="4.6" height="4.6" fill="#f59c9c"/>
<rect x="427.5" y="46.5" width="4.6" height="4.6" fill="#f8b8b8"/>
<rect x="431.5" y="46.5" width="4.6" height="4.6" fill="#fce3e3"/>
<rect x="439.5" y="46.5" width="4.6" height="4.6" fill="#e6e5fc"/>
<rect x="443.5" y="46.5" width="4.6" height="4.6" fill="#ccccf8"/>
<rect x="447.5" y="46.5" width="4.6" height="4.6" fill="#c0bff6"/>
<rect x="451.5" y="46.5" width="12.6" height="4.6" fill="#b3b2f5"/>
<rect x="463.5" y="46.5" width="12.6" height="4.6" fill="#c0bff6"/>
<rect x="475.5" y="46.5" width="8.6" height="4.6" fill="#ccccf8"/>
<rect x="483.5" y="46.5" width="20.6" height="4.6" fill="#d9d8fa"/>
<rect x="503.5" y="46.5" width="4.6" height="4.6" fill="#ccccf8"/>
<rect x="507.5" y="46.5" width="8.6" height="4.6" fill="#c0bff6"/>
<rect x="515.5" y="46.5" width="12.6" height="4.6" fill="#b3b2f5"/>
<rect x="527.5" y="46.5" width="20.6" height="4.6" fill="#a6a5f3"/>
<rect x="547.5" y="46.5" width="8.6" height="4.6" fill="#b3b2f5"/>
<rect x="555.5" y="46.5" width="8.6" height="4.6" fill="#c0bff6"/>
<rect x="563.5" y="46.5" width="8.6" height="4.6" fill="#ccccf8"/>
<rect x="571.5" y="46.5" width="4.6" height="4.6" fill="#d9d8fa"/>
<rect x="575.5" y="46.5" width="8.6" height="4.6" fill="#e6e5fc"/>
<rect x="583.5" y="46.5" width="4.6" height="4.6" fill="#f2f2fd"/>
<rect x="595.5" y="46.5" width="4.6" height="4.6" fill="#fef1f1"/>
<rect x="599.5" y="46.5" width="4.6" height="4.6" fill="#f9c7c7"/>
<rect x="603.5" y="46.5" width="4.6" height="4.6" fill="#f6aaaa"/>
<rect x="607.5" y="46.5" width="4.6" height="4.6" fill="#f28080"/>
<rect x="611.5" y="46.5" width="4.6" height="4.6" fill="#ec4848"/>
<rect x="615.5" y="46.5" width="4.6" height="4.6" fill="#eb3939"/>
<rect x="619.5" y="46.5" width="8.6" height="4.6" fill="#ec4848"/>
<rect x="627.5" y="46.5" width="4.6" height="4.6" fill="#ee5656"/>
<rect x="631.5" y="46.5" width="4.6" height="4.6" fill="#ef6464"/>
<rect x="635.5" y="46.5" width="4.6" height="4.6" fill="#f59c9c"/>
<rect x="639.5" y="46.5" width="4.6" height="4.6" fill="#fce3e3"/>
<rect x="643.5" y="46.5" width="4.6" height="4.6" fill="#e6e5fc"/>
<rect x="647.5" y="46.5" width="4.6" height="4.6" fill="#d9d8fa"/>
<rect x="651.5" y="46.5" width="4.6" height="4.6" fill="#e6e5fc"/>
<rect x="655.5" y="46.5" width="4.6" height="4.6" fill="#f2f2fd"/>
<rect x="391.5" y="50.5" width="8.6" height="4.6" fill="#ea2b2b"/>
<rect x="399.5" y="50.5" width="4.6" height="4.6" fill="#e81d1d"/>
<rect x="403.5" y="50.5" width="12.6" height="4.6" fill="#e70f0f"/>
<rect x="415.5" y="50.5" width="4.6" height="4.6" fill="#ee5656"/>
<rect x="419.5" y="50.5" width="4.6" height="4.6" fill="#f28080"/>
<rect x="423.5" y="50.5" width="4.6" height="4.6" fill="#f59c9c"/>
<rect x="427.5" y="50.5" width="4.6" height="4.6" fill="#f8b8b8"/>
<rect x="431.5" y="50.5" width="4.6" height="4.6" fill="#fef1f1"/>
<rect x="435.5" y="50.5" width="4.6" height="4.6" fill="#e6e5fc"/>
<rect x="439.5" y="50.5" width="4.6" height="4.6" fill="#ccccf8"/>
<rect x="443.5" y="50.5" width="4.6" height="4.6" fill="#b3b2f5"/>
<rect x="447.5" y="50.5" width="4.6" height="4.6" fill="#9a98f1"/>
<rect x="451.5" y="50.5" width="8.6" height="4.6" fill="#8d8bf0"/>
<rect x="459.5" y="50.5" width="4.6" height="4.6" fill="#9a98f1"/>
<rect x="463.5" y="50.5" width="4.6" height="4.6" fill="#a6a5f3"/>
<rect x="467.5" y="50.5" width="4.6" height="4.6" fill="#b3b2f5"/>
<rect x="471.5" y="50.5" width="8.6" height="4.6" fill="#c0bff6"/>
<rect x="479.5" y="50.5" width="4.6" height="4.6" fill="#ccccf8"/>
<rect x="483.5" y="50.5" width="8.6" height="4.6" fill="#d9d8fa"/>
<rect x="491.5" y="50.5" width="8.6" height="4.6" fill="#e6e5fc"/>
<rect x="499.5" y="50.5" width="4.6" height="4.6" fill="#d9d8fa"/>
<rect x="503.5" y="50.5" width="8.6" height="4.6" fill="#ccccf8"/>
<rect x="511.5" y="50.5" width="4.6" height="4.6" fill="#c0bff6"/>
<rect x="515.5" y="50.5" width="8.6" height="4.6" fill="#b3b2f5"/>
<rect x="523.5" y="50.5" width="8.6" height="4.6" fill="#a6a5f3"/>
<rect x="531.5" y="50.5" width="8.6" height="4.6" fill="#9a98f1"/>
<rect x="539.5" y="50.5" width="4.6" height="4.6" fill="#a6a5f3"/>
<rect x="543.5" y="50.5" width="8.6" height="4.6" fill="#b3b2f5"/>
<rect x="551.5" y="50.5" width="4.6" height="4.6" fill="#c0bff6"/>
<rect x="555.5" y="50.5" width="8.6" height="4.6" fill="#ccccf8"/>
<rect x="563.5" y="50.5" width="4.6" height="4.6" fill="#d9d8fa"/>
<rect x="567.5" y="50.5" width="4.6" height="4.6" fill="#e6e5fc"/>
<rect x="571.5" y="50.5" width="8.6" height="4.6" fill="#f2f2fd"/>
<rect x="583.5" y="50.5" width="8.6" height="4.6" fill="#fef1f1"/>
<rect x="591.5" y="50.5" width="4.6" height="4.6" fill="#fce3e3"/>
<rect x="595.5" y="50.5" width="4.6" height="4.6" fill="#fbd5d5"/>
<rect x="599.5" y="50.5" width="4.6" height="4.6" fill="#f6aaaa"/>
<rect x="603.5" y="50.5" width="4.6" height="4.6" fill="#f28080"/>
<rect x="607.5" y="50.5" width="4.6" height="4.6" fill="#ee5656"/>
<rect x="611.5" y="50.5" width="4.6" height="4.6" fill="#eb3939"/>
<rect x="615.5" y="50.5" width="12.6" height="4.6" fill="#ea2b2b"/>
<rect x="627.5" y="50.5" width="8.6" height="4.6" fill="#eb3939"/>
<rect x="635.5" y="50.5" width="4.6" height="4.6" fill="#f17272"/>
<rect x="639.5" y="50.5" width="4.6" height="4.6" fill="#f8b8b8"/>
<rect x="643.5" y="50.5" width="4.6" height="4.6" fill="#fce3e3"/>
<rect x="651.5" y="50.5" width="8.6" height="4.6" fill="#f2f2fd"/>
<rect x="391.5" y="54.5" width="4.6" height="4.6" fill="#e70f0f"/>
<rect x="395.5" y="54.5" width="16.6" height="4.6" fill="#e60808"/>
<rect x="411.5" y="54.5" width="4.6" height="4.6" fill="#e70f0f"/>
<rect x="415.5" y="54.5" width="4.6" height="4.6" fill="#f28080"/>
<rect x="419.5" y="54.5" width="8.6" height="4.6" fill="#f59c9c"/>
<rect x="427.5" y="54.5" width="4.6" height="4.6" fill="#f9c7c7"/>
<rect x="435.5" y="54.5" width="4.6" height="4.6" fill="#d9d8fa"/>
<rect x="439.5" y="54.5" width="4.6" height="4.6" fill="#b3b2f5"/>
<rect x="443.5" y="54.5" width="4.6" height="4.6" fill="#9a98f1"/>
<rect x="447.5" y="54.5" width="16.6" height="4.6" fill="#8d8bf0"/>
<rect x="463.5" y="54.5" width="4.6" height="4.6" fill="#9a98f1"/>
<rect x="467.5" y="54.5" width="4.6" height="4.6" fill="#a6a5f3"/>
<rect x="471.5" y="54.5" width="4.6" height="4.6" fill="#b3b2f5"/>
<rect x="475.5" y="54.5" width="4.6" height="4.6" fill="#c0bff6"/>
<rect x="479.5" y="54.5" width="4.6" height="4.6" fill="#ccccf8"/>
<rect x="483.5" y="54.5" width="4.6" height="4.6" fill="#d9d8fa"/>
<rect x="487.5" y="54.5" width="16.6" height="4.6" fill="#e6e5fc"/>
<rect x="503.5" y="54.5" width="4.6" height="4.6" fill="#d9d8fa"/>
<rect x="507.5" y="54.5" width="4.6" height="4.6" fill="#ccccf8"/>
<rect x="511.5" y="54.5" width="4.6" height="4.6" fill="#c0bff6"/>
<rect x="515.5" y="54.5" width="8.6" height="4.6" fill="#b3b2f5"/>
<rect x="523.5" y="54.5" width="4.6" height="4.6" fill="#a6a5f3"/>
<rect x="527.5" y="54.5" width="12.6" height="4.6" fill="#9a98f1"/>
<rect x="539.5" y="54.5" width="4.6" height="4.6" fill="#a6a5f3"/>
<rect x="543.5" y="54.5" width="4.6" height="4.6" fill="#b3b2f5"/>
<rect x="547.5" y="54.5" width="4.6" height="4.6" fill="#c0bff6"/>
<rect x="551.5" y="54.5" width="4.6" height="4.6" fill="#ccccf8"/>
<rect x="555.5" y="54.5" width="4.6" height="4.6" fill="#d9d8fa"/>
<rect x="559.5" y="54.5" width="4.6" height="4.6" fill="#e6e5fc"/>
<rect x="563.5" y="54.5" width="4.6" height="4.6" fill="#f2f2fd"/>
<rect x="575.5" y="54.5" width="4.6" height="4.6" fill="#fef1f1"/>
<rect x="579.5" y="54.5" width="8.6" height="4.6" fill="#fce3e3"/>
<rect x="587.5" y="54.5" width="4.6" height="4.6" fill="#fbd5d5"/>
<rect x="591.5" y="54.5" width="4.6" height="4.6" fill="#f9c7c7"/>
<rect x="595.5" y="54.5" width="4.6" height="4.6" fill="#f8b8b8"/>
<rect x="599.5" y="54.5" width="4.6" height="4.6" fill="#f48e8e"/>
<rect x="603.5" y="54.5" width="4.6" height="4.6" fill="#ef6464"/>
<rect x="607.5" y="54.5" width="4.6" height="4.6" fill="#eb3939"/>
<rect x="611.5" y="54.5" width="16.6" height="4.6" fill="#ea2b2b"/>
<rect x="627.5" y="54.5" width="8.6" height="4.6" fill="#e81d1d"/>
<rect x="635.5" y="54.5" width="4.6" height="4.6" fill="#ec4848"/>
<rect x="639.5" y="54.5" width="4.6" height="4.6" fill="#f28080"/>
<rect x="643.5" y="54.5" width="4.6" height="4.6" fill="#f8b8b8"/>
<rect x="647.5" y="54.5" width="4.6" height="4.6" fill="#fce3e3"/>
<rect x="655.5" y="54.5" width="4.6" height="4.6" fill="#f2f2fd"/>
<rect x="391.5" y="58.5" width="8.6" height="4.6" fill="#e70f0f"/>
<rect x="399.5" y="58.5" width="12.6" height="4.6" fill="#e60808"/>
<rect x="411.5" y="58.5" width="4.6" height="4.6" fill="#e81d1d"/>
<rect x="415.5" y="58.5" width="4.6" height="4.6" fill="#f28080"/>
<rect x="419.5" y="58.5" width="4.6" height="4.6" fill="#f6aaaa"/>
<rect x="423.5" y="58.5" width="4.6" height="4.6" fill="#f8b8b8"/>
<rect x="427.5" y="58.5" width="4.6" height="4.6" fill="#fbd5d5"/>
<rect x="431.5" y="58.5" width="4.6" height="4.6" fill="#f2f2fd"/>
<rect x="435.5" y="58.5" width="4.6" height="4.6" fill="#ccccf8"/>
<rect x="439.5" y="58.5" width="12.6" height="4.6" fill="#9a98f1"/>
<rect x="451.5" y="58.5" width="8.6" height="4.6" fill="#8d8bf0"/>
<rect x="459.5" y="58.5" width="4.6" height="4.6" fill="#9a98f1"/>
<rect x="463.5" y="58.5" width="4.6" height="4.6" fill="#a6a5f3"/>
<rect x="467.5" y="58.5" width="4.6" height="4.6" fill="#b3b2f5"/>
<rect x="471.5" y="58.5" width="4.6" height="4.6" fill="#c0bff6"/>
<rect x="475.5" y="58.5" width="4.6" height="4.6" fill="#ccccf8"/>
<rect x="479.5" y="58.5" width="4.6" height="4.6" fill="#d9d8fa"/>
<rect x="483.5" y="58.5" width="8.6" height="4.6" fill="#e6e5fc"/>
<rect x="491.5" y="58.5" width="8.6" height="4.6" fill="#f2f2fd"/>
<rect x="499.5" y="58.5" width="4.6" height="4.6" fill="#e6e5fc"/>
<rect x="503.5" y="58.5" width="4.6" height="4.6" fill="#d9d8fa"/>
<rect x="507.5" y="58.5" width="4.6" height="4.6" fill="#ccccf8"/>
<rect x="511.5" y="58.5" width="4.6" height="4.6" fill="#c0bff6"/>
<rect x="515.5" y="58.5" width="4.6" height="4.6" fill="#b3b2f5"/>
<rect x="519.5" y="58.5" width="8.6" height="4.6" fill="#a6a5f3"/>
<rect x="527.5" y="58.5" width="12.6" height="4.6" fill="#9a98f1"/>
<rect x="539.5" y="58.5" width="4.6" height="4.6" fill="#a6a5f3"/>
<rect x="543.5" y="58.5" width="4.6" height="4.6" fill="#b3b2f5"/>
<rect x="547.5" y="58.5" width="4.6" height="4.6" fill="#c0bff6"/>
<rect x="551.5" y="58.5" width="4.6" height="4.6" fill="#ccccf8"/>
<rect x="555.5" y="58.5" width="4.6" height="4.6" fill="#e6e5fc"/>
<rect x="559.5" y="58.5" width="4.6" height="4.6" fill="#f2f2fd"/>
<rect x="567.5" y="58.5" width="4.6" height="4.6" fill="#fef1f1"/>
<rect x="571.5" y="58.5" width="4.6" height="4.6" fill="#fce3e3"/>
<rect x="575.5" y="58.5" width="4.6" height="4.6" fill="#fbd5d5"/>
<rect x="579.5" y="58.5" width="8.6" height="4.6" fill="#f9c7c7"/>
<rect x="587.5" y="58.5" width="8.6" height="4.6" fill="#f8b8b8"/>
<rect x="595.5" y="58.5" width="4.6" height="4.6" fill="#f6aaaa"/>
<rect x="599.5" y="58.5" width="4.6" height="4.6" fill="#f48e8e"/>
<rect x="603.5" y="58.5" width="4.6" height="4.6" fill="#ef6464"/>
<rect x="607.5" y="58.5" width="4.6" height="4.6" fill="#ec4848"/>
<rect x="611.5" y="58.5" width="4.6" height="4.6" fill="#ea2b2b"/>
<rect x="615.5" y="58.5" width="12.6" height="4.6" fill="#eb3939"/>
<rect x="627.5" y="58.5" width="4.6" height="4.6" fill="#ea2b2b"/>
<rect x="631.5" y="58.5" width="4.6" height="4.6" fill="#e81d1d"/>
<rect x="635.5" y="58.5" width="4.6" height="4.6" fill="#eb3939"/>
<rect x="639.5" y="58.5" width="4.6" height="4.6" fill="#f28080"/>
<rect x="643.5" y="58.5" width="4.6" height="4.6" fill="#f8b8b8"/>
<rect x="647.5" y="58.5" width="4.6" height="4.6" fill="#fce3e3"/>
<rect x="655.5" y="58.5" width="4.6" height="4.6" fill="#f2f2fd"/>
<rect x="391.5" y="62.5" width="8.6" height="4.6" fill="#ea2b2b"/>
<rect x="399.5" y="62.5" width="12.6" height="4.6" fill="#eb3939"/>
<rect x="411.5" y="62.5" width="4.6" height="4.6" fill="#ec4848"/>
<rect x="415.5" y="62.5" width="4.6" height="4.6" fill="#f28080"/>
<rect x="419.5" y="62.5" width="4.6" height="4.6" fill="#fce3e3"/>
<rect x="423.5" y="62.5" width="4.6" height="4.6" fill="#d9d8fa"/>
<rect x="427.5" y="62.5" width="8.6" height="4.6" fill="#f2f2fd"/>
<rect x="435.5" y="62.5" width="4.6" height="4.6" fill="#ccccf8"/>
<rect x="439.5" y="62.5" width="4.6" height="4.6" fill="#b3b2f5"/>
<rect x="443.5" y="62.5" width="8.6" height="4.6" fill="#a6a5f3"/>
<rect x="451.5" y="62.5" width="4.6" height="4.6" fill="#b3b2f5"/>
<rect x="455.5" y="62.5" width="4.6" height="4.6" fill="#c0bff6"/>
<rect x="459.5" y="62.5" width="4.6" height="4.6" fill="#ccccf8"/>
<rect x="463.5" y="62.5" width="8.6" height="4.6" fill="#d9d8fa"/>
<rect x="471.5" y="62.5" width="8.6" height="4.6" fill="#e6e5fc"/>
<rect x="479.5" y="62.5" width="20.6" height="4.6" fill="#f2f2fd"/>
<rect x="499.5" y="62.5" width="4.6" height="4.6" fill="#e6e5fc"/>
<rect x="503.5" y="62.5" width="4.6" height="4.6" fill="#d9d8fa"/>
<rect x="507.5" y="62.5" width="4.6" height="4.6" fill="#ccccf8"/>
<rect x="511.5" y="62.5" width="4.6" height="4.6" fill="#c0bff6"/>
<rect x="515.5" y="62.5" width="4.6" height="4.6" fill="#b3b2f5"/>
<rect x="519.5" y="62.5" width="8.6" height="4.6" fill="#a6a5f3"/>
<rect x="527.5" y="62.5" width="4.6" height="4.6" fill="#9a98f1"/>
<rect x="531.5" y="62.5" width="4.6" height="4.6" fill="#8d8bf0"/>
<rect x="535.5" y="62.5" width="4.6" height="4.6" fill="#9a98f1"/>
<rect x="539.5" y="62.5" width="4.6" height="4.6" fill="#a6a5f3"/>
<rect x="543.5" y="62.5" width="4.6" height="4.6" fill="#b3b2f5"/>
<rect x="547.5" y="62.5" width="4.6" height="4.6" fill="#ccccf8"/>
<rect x="551.5" y="62.5" width="4.6" height="4.6" fill="#d9d8fa"/>
<rect x="555.5" y="62.5" width="4.6" height="4.6" fill="#e6e5fc"/>
<rect x="559.5" y="62.5" width="4.6" height="4.6" fill="#f2f2fd"/>
<rect x="563.5" y="62.5" width="4.6" height="4.6" fill="#fef1f1"/>
<rect x="567.5" y="62.5" width="4.6" height="4.6" fill="#fce3e3"/>
<rect x="571.5" y="62.5" width="4.6" height="4.6" fill="#f9c7c7"/>
<rect x="575.5" y="62.5" width="8.6" height="4.6" fill="#f8b8b8"/>
<rect x="583.5" y="62.5" width="8.6" height="4.6" fill="#f6aaaa"/>
<rect x="591.5" y="62.5" width="4.6" height="4.6" fill="#f8b8b8"/>
<rect x="595.5" y="62.5" width="4.6" height="4.6" fill="#f6aaaa"/>
<rect x="599.5" y="62.5" width="4.6" height="4.6" fill="#f59c9c"/>
<rect x="603.5" y="62.5" width="4.6" height="4.6" fill="#f17272"/>
<rect x="607.5" y="62.5" width="4.6" height="4.6" fill="#ee5656"/>
<rect x="611.5" y="62.5" width="24.6" height="4.6" fill="#eb3939"/>
<rect x="635.5" y="62.5" width="4.6" height="4.6" fill="#ee5656"/>
<rect x="639.5" y="62.5" width="4.6" height="4.6" fill="#f48e8e"/>
<rect x="643.5" y="62.5" width="4.6" height="4.6" fill="#f8b8b8"/>
<rect x="647.5" y="62.5" width="4.6" height="4.6" fill="#fce3e3"/>
<rect x="655.5" y="62.5" width="4.6" height="4.6" fill="#f2f2fd"/>
<rect x="391.5" y="66.5" width="4.6" height="4.6" fill="#ec4848"/>
<rect x="395.5" y="66.5" width="4.6" height="4.6" fill="#ee5656"/>
<rect x="399.5" y="66.5" width="4.6" height="4.6" fill="#ef6464"/>
<rect x="403.5" y="66.5" width="4.6" height="4.6" fill="#f17272"/>
<rect x="407.5" y="66.5" width="4.6" height="4.6" fill="#f28080"/>
<rect x="411.5" y="66.5" width="4.6" height="4.6" fill="#f48e8e"/>
<rect x="415.5" y="66.5" width="4.6" height="4.6" fill="#f8b8b8"/>
<rect x="419.5" y="66.5" width="4.6" height="4.6" fill="#ccccf8"/>
<rect x="423.5" y="66.5" width="4.6" height="4.6" fill="#a6a5f3"/>
<rect x="427.5" y="66.5" width="4.6" height="4.6" fill="#c0bff6"/>
<rect x="431.5" y="66.5" width="8.6" height="4.6" fill="#f2f2fd"/>
<rect x="439.5" y="66.5" width="8.6" height="4.6" fill="#e6e5fc"/>
<rect x="447.5" y="66.5" width="4.6" height="4.6" fill="#f2f2fd"/>
<rect x="459.5" y="66.5" width="20.6" height="4.6" fill="#fef1f1"/>
<rect x="495.5" y="66.5" width="4.6" height="4.6" fill="#f2f2fd"/>
<rect x="499.5" y="66.5" width="4.6" height="4.6" fill="#e6e5fc"/>
<rect x="503.5" y="66.5" width="4.6" height="4.6" fill="#d9d8fa"/>
<rect x="507.5" y="66.5" width="4.6" height="4.6" fill="#ccccf8"/>
<rect x="511.5" y="66.5" width="4.6" height="4.6" fill="#c0bff6"/>
<rect x="515.5" y="66.5" width="4.6" height="4.6" fill="#b3b2f5"/>
<rect x="519.5" y="66.5" width="8.6" height="4.6" fill="#a6a5f3"/>
<rect x="527.5" y="66.5" width="4.6" height="4.6" fill="#9a98f1"/>
<rect x="531.5" y="66.5" width="8.6" height="4.6" fill="#8d8bf0"/>
<rect x="539.5" y="66.5" width="4.6" height="4.6" fill="#a6a5f3"/>
<rect x="543.5" y="66.5" width="4.6" height="4.6" fill="#b3b2f5"/>
<rect x="547.5" y="66.5" width="4.6" height="4.6" fill="#ccccf8"/>
<rect x="551.5" y="66.5" width="4.6" height="4.6" fill="#d9d8fa"/>
<rect x="555.5" y="66.5" width="4.6" height="4.6" fill="#e6e5fc"/>
<rect x="563.5" y="66.5" width="4.6" height="4.6" fill="#fef1f1"/>
<rect x="567.5" y="66.5" width="4.6" height="4.6" fill="#fbd5d5"/>
<rect x="571.5" y="66.5" width="4.6" height="4.6" fill="#f9c7c7"/>
<rect x="575.5" y="66.5" width="4.6" height="4.6" fill="#f8b8b8"/>
<rect x="579.5" y="66.5" width="20.6" height="4.6" fill="#f6aaaa"/>
<rect x="599.5" y="66.5" width="4.6" height="4.6" fill="#f59c9c"/>
<rect x="603.5" y="66.5" width="4.6" height="4.6" fill="#f48e8e"/>
<rect x="607.5" y="66.5" width="4.6" height="4.6" fill="#ef6464"/>
<rect x="611.5" y="66.5" width="8.6" height="4.6" fill="#ec4848"/>
<rect x="619.5" y="66.5" width="4.6" height="4.6" fill="#eb3939"/>
<rect x="623.5" y="66.5" width="8.6" height="4.6" fill="#ec4848"/>
<rect x="631.5" y="66.5" width="4.6" height="4.6" fill="#ee5656"/>
<rect x="635.5" y="66.5" width="4.6" height="4.6" fill="#f17272"/>
<rect x="639.5" y="66.5" width="4.6" height="4.6" fill="#f59c9c"/>
<rect x="643.5" y="66.5" width="4.6" height="4.6" fill="#f9c7c7"/>
<rect x="647.5" y="66.5" width="4.6" height="4.6" fill="#fce3e3"/>
<rect x="391.5" y="70.5" width="4.6" height="4.6" fill="#ef6464"/>
<rect x="395.5" y="70.5" width="4.6" height="4.6" fill="#f17272"/>
<rect x="399.5" y="70.5" width="4.6" height="4.6" fill="#f48e8e"/>
<rect x="403.5" y="70.5" width="4.6" height="4.6" fill="#f59c9c"/>
<rect x="407.5" y="70.5" width="4.6" height="4.6" fill="#f8b8b8"/>
<rect x="411.5" y="70.5" width="4.6" height="4.6" fill="#f9c7c7"/>
<rect x="415.5" y="70.5" width="4.6" height="4.6" fill="#fce3e3"/>
<rect x="419.5" y="70.5" width="4.6" height="4.6" fill="#ccccf8"/>
<rect x="423.5" y="70.5" width="4.6" height="4.6" fill="#a6a5f3"/>
<rect x="427.5" y="70.5" width="4.6" height="4.6" fill="#b3b2f5"/>
<rect x="431.5" y="70.5" width="4.6" height="4.6" fill="#d9d8fa"/>
<rect x="435.5" y="70.5" width="4.6" height="4.6" fill="#f2f2fd"/>
<rect x="443.5" y="70.5" width="4.6" height="4.6" fill="#fef1f1"/>
<rect x="447.5" y="70.5" width="4.6" height="4.6" fill="#fce3e3"/>
<rect x="451.5" y="70.5" width="4.6" height="4.6" fill="#fbd5d5"/>
<rect x="455.5" y="70.5" width="4.6" height="4.6" fill="#f9c7c7"/>
<rect x="459.5" y="70.5" width="12.6" height="4.6" fill="#f8b8b8"/>
<rect x="471.5" y="70.5" width="4.6" height="4.6" fill="#f9c7c7"/>
<rect x="475.5" y="70.5" width="4.6" height="4.6" fill="#fbd5d5"/>
<rect x="479.5" y="70.5" width="8.6" height="4.6" fill="#fce3e3"/>
<rect x="487.5" y="70.5" width="4.6" height="4.6" fill="#fef1f1"/>
<rect x="499.5" y="70.5" width="4.6" height="4.6" fill="#f2f2fd"/>
<rect x="503.5" y="70.5" width="4.6" height="4.6" fill="#e6e5fc"/>
<rect x="507.5" y="70.5" width="4.6" height="4.6" fill="#d9d8fa"/>
<rect x="511.5" y="70.5" width="4.6" height="4.6" fill="#c0bff6"/>
<rect x="515.5" y="70.5" width="4.6" height="4.6" fill="#b3b2f5"/>
<rect x="519.5" y="70.5" width="8.6" height="4.6" fill="#a6a5f3"/>
<rect x="527.5" y="70.5" width="4.6" height="4.6" fill="#9a98f1"/>
<rect x="531.5" y="70.5" width="4.6" height="4.6" fill="#807eee"/>
<rect x="535.5" y="70.5" width="4.6" height="4.6" fill="#8d8bf0"/>
<rect x="539.5" y="70.5" width="4.6" height="4.6" fill="#a6a5f3"/>
<rect x="543.5" y="70.5" width="4.6" height="4.6" fill="#b3b2f5"/>
<rect x="547.5" y="70.5" width="4.6" height="4.6" fill="#ccccf8"/>
<rect x="551.5" y="70.5" width="4.6" height="4.6" fill="#d9d8fa"/>
<rect x="555.5" y="70.5" width="4.6" height="4.6" fill="#e6e5fc"/>
<rect x="559.5" y="70.5" width="4.6" height="4.6" fill="#f2f2fd"/>
<rect x="563.5" y="70.5" width="4.6" height="4.6" fill="#fef1f1"/>
<rect x="567.5" y="70.5" width="4.6" height="4.6" fill="#fce3e3"/>
<rect x="571.5" y="70.5" width="4.6" height="4.6" fill="#fbd5d5"/>
<rect x="575.5" y="70.5" width="4.6" height="4.6" fill="#f9c7c7"/>
<rect x="579.5" y="70.5" width="20.6" height="4.6" fill="#f8b8b8"/>
<rect x="599.5" y="70.5" width="4.6" height="4.6" fill="#f6aaaa"/>
<rect x="603.5" y="70.5" width="4.6" height="4.6" fill="#f59c9c"/>
<rect x="607.5" y="70.5" width="4.6" height="4.6" fill="#f17272"/>
<rect x="611.5" y="70.5" width="16.6" height="4.6" fill="#ee5656"/>
<rect x="627.5" y="70.5" width="4.6" height="4.6" fill="#ef6464"/>
<rect x="631.5" y="70.5" width="4.6" height="4.6" fill="#f17272"/>
<rect x="635.5" y="70.5" width="4.6" height="4.6" fill="#f48e8e"/>
<rect x="639.5" y="70.5" width="4.6" height="4.6" fill="#f8b8b8"/>
<rect x="643.5" y="70.5" width="4.6" height="4.6" fill="#fbd5d5"/>
<rect x="647.5" y="70.5" width="4.6" height="4.6" fill="#fce3e3"/>
<rect x="391.5" y="74.5" width="4.6" height="4.6" fill="#f28080"/>
<rect x="395.5" y="74.5" width="4.6" height="4.6" fill="#f48e8e"/>
<rect x="399.5" y="74.5" width="4.6" height="4.6" fill="#f6aaaa"/>
<rect x="403.5" y="74.5" width="4.6" height="4.6" fill="#f9c7c7"/>
<rect x="407.5" y="74.5" width="4.6" height="4.6" fill="#fce3e3"/>
<rect x="411.5" y="74.5" width="4.6" height="4.6" fill="#fef1f1"/>
<rect x="419.5" y="74.5" width="4.6" height="4.6" fill="#e6e5fc"/>
<rect x="423.5" y="74.5" width="4.6" height="4.6" fill="#c0bff6"/>
<rect x="427.5" y="74.5" width="4.6" height="4.6" fill="#a6a5f3"/>
<rect x="431.5" y="74.5" width="4.6" height="4.6" fill="#b3b2f5"/>
<rect x="435.5" y="74.5" width="4.6" height="4.6" fill="#f2f2fd"/>
<rect x="439.5" y="74.5" width="4.6" height="4.6" fill="#fef1f1"/>
<rect x="443.5" y="74.5" width="4.6" height="4.6" fill="#fce3e3"/>
<rect x="447.5" y="74.5" width="4.6" height="4.6" fill="#f9c7c7"/>
<rect x="451.5" y="74.5" width="8.6" height="4.6" fill="#f8b8b8"/>
<rect x="459.5" y="74.5" width="12.6" height="4.6" fill="#f6aaaa"/>
<rect x="471.5" y="74.5" width="4.6" height="4.6" fill="#f8b8b8"/>
<rect x="475.5" y="74.5" width="4.6" height="4.6" fill="#f9c7c7"/>
<rect x="479.5" y="74.5" width="4.6" height="4.6" fill="#fbd5d5"/>
<rect x="483.5" y="74.5" width="8.6" height="4.6" fill="#fce3e3"/>
<rect x="491.5" y="74.5" width="4.6" height="4.6" fill="#fef1f1"/>
<rect x="499.5" y="74.5" width="4.6" height="4.6" fill="#f2f2fd"/>
<rect x="503.5" y="74.5" width="4.6" height="4.6" fill="#e6e5fc"/>
<rect x="507.5" y="74.5" width="4.6" height="4.6" fill="#d9d8fa"/>
<rect x="511.5" y="74.5" width="4.6" height="4.6" fill="#ccccf8"/>
<rect x="515.5" y="74.5" width="4.6" height="4.6" fill="#b3b2f5"/>
<rect x="519.5" y="74.5" width="4.6" height="4.6" fill="#a6a5f3"/>
<rect x="523.5" y="74.5" width="4.6" height="4.6" fill="#9a98f1"/>
<rect x="527.5" y="74.5" width="4.6" height="4.6" fill="#8d8bf0"/>
<rect x="531.5" y="74.5" width="4.6" height="4.6" fill="#807eee"/>
<rect x="535.5" y="74.5" width="4.6" height="4.6" fill="#8d8bf0"/>
<rect x="539.5" y="74.5" width="4.6" height="4.6" fill="#9a98f1"/>
<rect x="543.5" y="74.5" width="4.6" height="4.6" fill="#b3b2f5"/>
<rect x="547.5" y="74.5" width="4.6" height="4.6" fill="#ccccf8"/>
<rect x="551.5" y="74.5" width="4.6" height="4.6" fill="#d9d8fa"/>
<rect x="555.5" y="74.5" width="4.6" height="4.6" fill="#e6e5fc"/>
<rect x="559.5" y="74.5" width="4.6" height="4.6" fill="#f2f2fd"/>
<rect x="567.5" y="74.5" width="8.6" height="4.6" fill="#fef1f1"/>
<rect x="575.5" y="74.5" width="8.6" height="4.6" fill="#fce3e3"/>
<rect x="583.5" y="74.5" width="12.6" height="4.6" fill="#fbd5d5"/>
<rect x="595.5" y="74.5" width="4.6" height="4.6" fill="#f9c7c7"/>
<rect x="599.5" y="74.5" width="4.6" height="4.6" fill="#f8b8b8"/>
<rect x="603.5" y="74.5" width="4.6" height="4.6" fill="#f6aaaa"/>
<rect x="607.5" y="74.5" width="4.6" height="4.6" fill="#f48e8e"/>
<rect x="611.5" y="74.5" width="12.6" height="4.6" fill="#f17272"/>
<rect x="623.5" y="74.5" width="4.6" height="4.6" fill="#f28080"/>
<rect x="627.5" y="74.5" width="4.6" height="4.6" fill="#f48e8e"/>
<rect x="631.5" y="74.5" width="4.6" height="4.6" fill="#f59c9c"/>
<rect x="635.5" y="74.5" width="4.6" height="4.6" fill="#f6aaaa"/>
<rect x="639.5" y="74.5" width="4.6" height="4.6" fill="#f9c7c7"/>
<rect x="643.5" y="74.5" width="4.6" height="4.6" fill="#fbd5d5"/>
<rect x="647.5" y="74.5" width="4.6" height="4.6" fill="#fef1f1"/>
<rect x="391.5" y="78.5" width="4.6" height="4.6" fill="#f6aaaa"/>
<rect x="395.5" y="78.5" width="4.6" height="4.6" fill="#f8b8b8"/>
<rect x="399.5" y="78.5" width="4.6" height="4.6" fill="#fbd5d5"/>
<rect x="403.5" y="78.5" width="4.6" height="4.6" fill="#fef1f1"/>
<rect x="415.5" y="78.5" width="8.6" height="4.6" fill="#f2f2fd"/>
<rect x="423.5" y="78.5" width="4.6" height="4.6" fill="#d9d8fa"/>
<rect x="427.5" y="78.5" width="4.6" height="4.6" fill="#b3b2f5"/>
<rect x="431.5" y="78.5" width="4.6" height="4.6" fill="#c0bff6"/>
<rect x="435.5" y="78.5" width="4.6" height="4.6" fill="#f2f2fd"/>
<rect x="443.5" y="78.5" width="4.6" height="4.6" fill="#fce3e3"/>
<rect x="447.5" y="78.5" width="4.6" height="4.6" fill="#fbd5d5"/>
<rect x="451.5" y="78.5" width="4.6" height="4.6" fill="#f9c7c7"/>
<rect x="455.5" y="78.5" width="12.6" height="4.6" fill="#f8b8b8"/>
<rect x="467.5" y="78.5" width="8.6" height="4.6" fill="#f9c7c7"/>
<rect x="475.5" y="78.5" width="4.6" height="4.6" fill="#fbd5d5"/>
<rect x="479.5" y="78.5" width="8.6" height="4.6" fill="#fce3e3"/>
<rect x="487.5" y="78.5" width="4.6" height="4.6" fill="#fef1f1"/>
<rect x="499.5" y="78.5" width="4.6" height="4.6" fill="#f2f2fd"/>
<rect x="503.5" y="78.5" width="4.6" height="4.6" fill="#e6e5fc"/>
<rect x="507.5" y="78.5" width="4.6" height="4.6" fill="#d9d8fa"/>
<rect x="511.5" y="78.5" width="4.6" height="4.6" fill="#ccccf8"/>
<rect x="515.5" y="78.5" width="4.6" height="4.6" fill="#c0bff6"/>
<rect x="519.5" y="78.5" width="4.6" height="4.6" fill="#b3b2f5"/>
<rect x="523.5" y="78.5" width="4.6" height="4.6" fill="#a6a5f3"/>
<rect x="527.5" y="78.5" width="4.6" height="4.6" fill="#9a98f1"/>
<rect x="531.5" y="78.5" width="4.6" height="4.6" fill="#807eee"/>
<rect x="535.5" y="78.5" width="4.6" height="4.6" fill="#8d8bf0"/>
<rect x="539.5" y="78.5" width="4.6" height="4.6" fill="#a6a5f3"/>
<rect x="543.5" y="78.5" width="4.6" height="4.6" fill="#b3b2f5"/>
<rect x="547.5" y="78.5" width="4.6" height="4.6" fill="#ccccf8"/>
<rect x="551.5" y="78.5" width="4.6" height="4.6" fill="#d9d8fa"/>
<rect x="555.5" y="78.5" width="4.6" height="4.6" fill="#e6e5fc"/>
<rect x="559.5" y="78.5" width="8.6" height="4.6" fill="#f2f2fd"/>
<rect x="579.5" y="78.5" width="12.6" height="4.6" fill="#fef1f1"/>
<rect x="591.5" y="78.5" width="8.6" height="4.6" fill="#fce3e3"/>
<rect x="599.5" y="78.5" width="4.6" height="4.6" fill="#fbd5d5"/>
<rect x="603.5" y="78.5" width="4.6" height="4.6" fill="#f9c7c7"/>
<rect x="607.5" y="78.5" width="4.6" height="4.6" fill="#f8b8b8"/>
<rect x="611.5" y="78.5" width="12.6" height="4.6" fill="#f59c9c"/>
<rect x="623.5" y="78.5" width="8.6" height="4.6" fill="#f6aaaa"/>
<rect x="631.5" y="78.5" width="4.6" height="4.6" fill="#f8b8b8"/>
<rect x="635.5" y="78.5" width="4.6" height="4.6" fill="#f9c7c7"/>
<rect x="639.5" y="78.5" width="4.6" height="4.6" fill="#fbd5d5"/>
<rect x="643.5" y="78.5" width="4.6" height="4.6" fill="#fce3e3"/>
<rect x="647.5" y="78.5" width="4.6" height="4.6" fill="#fef1f1"/>
<rect x="391.5" y="82.5" width="4.6" height="4.6" fill="#fbd5d5"/>
<rect x="395.5" y="82.5" width="4.6" height="4.6" fill="#fce3e3"/>
<rect x="399.5" y="82.5" width="4.6" height="4.6" fill="#fef1f1"/>
<rect x="411.5" y="82.5" width="16.6" height="4.6" fill="#f2f2fd"/>
<rect x="427.5" y="82.5" width="8.6" height="4.6" fill="#e6e5fc"/>
<rect x="435.5" y="82.5" width="8.6" height="4.6" fill="#f2f2fd"/>
<rect x="451.5" y="82.5" width="4.6" height="4.6" fill="#fef1f1"/>
<rect x="455.5" y="82.5" width="12.6" height="4.6" fill="#fce3e3"/>
<rect x="467.5" y="82.5" width="12.6" height="4.6" fill="#fef1f1"/>
<rect x="487.5" y="82.5" width="12.6" height="4.6" fill="#f2f2fd"/>
<rect x="499.5" y="82.5" width="4.6" height="4.6" fill="#e6e5fc"/>
<rect x="503.5" y="82.5" width="8.6" height="4.6" fill="#d9d8fa"/>
<rect x="511.5" y="82.5" width="4.6" height="4.6" fill="#ccccf8"/>
<rect x="515.5" y="82.5" width="4.6" height="4.6" fill="#c0bff6"/>
<rect x="519.5" y="82.5" width="4.6" height="4.6" fill="#b3b2f5"/>
<rect x="523.5" y="82.5" width="4.6" height="4.6" fill="#a6a5f3"/>
<rect x="527.5" y="82.5" width="4.6" height="4.6" fill="#9a98f1"/>
<rect x="531.5" y="82.5" width="4.6" height="4.6" fill="#8d8bf0"/>
<rect x="535.5" y="82.5" width="4.6" height="4.6" fill="#9a98f1"/>
<rect x="539.5" y="82.5" width="4.6" height="4.6" fill="#a6a5f3"/>
<rect x="543.5" y="82.5" width="4.6" height="4.6" fill="#c0bff6"/>
<rect x="547.5" y="82.5" width="4.6" height="4.6" fill="#ccccf8"/>
<rect x="551.5" y="82.5" width="8.6" height="4.6" fill="#e6e5fc"/>
<rect x="559.5" y="82.5" width="20.6" height="4.6" fill="#f2f2fd"/>
<rect x="595.5" y="82.5" width="8.6" height="4.6" fill="#fef1f1"/>
<rect x="603.5" y="82.5" width="4.6" height="4.6" fill="#fce3e3"/>
<rect x="607.5" y="82.5" width="4.6" height="4.6" fill="#fbd5d5"/>
<rect x="611.5" y="82.5" width="16.6" height="4.6" fill="#f9c7c7"/>
<rect x="627.5" y="82.5" width="12.6" height="4.6" fill="#fbd5d5"/>
<rect x="639.5" y="82.5" width="8.6" height="4.6" fill="#fce3e3"/>
<rect x="647.5" y="82.5" width="12.6" height="4.6" fill="#fef1f1"/>
<rect x="391.5" y="86.5" width="4.6" height="4.6" fill="#fef1f1"/>
<rect x="411.5" y="86.5" width="4.6" height="4.6" fill="#f2f2fd"/>
<rect x="415.5" y="86.5" width="4.6" height="4.6" fill="#e6e5fc"/>
<rect x="419.5" y="86.5" width="16.6" height="4.6" fill="#f2f2fd"/>
<rect x="435.5" y="86.5" width="64.6" height="4.6" fill="#e6e5fc"/>
<rect x="499.5" y="86.5" width="8.6" height="4.6" fill="#d9d8fa"/>
<rect x="507.5" y="86.5" width="8.6" height="4.6" fill="#ccccf8"/>
<rect x="515.5" y="86.5" width="8.6" height="4.6" fill="#c0bff6"/>
<rect x="523.5" y="86.5" width="4.6" height="4.6" fill="#b3b2f5"/>
<rect x="527.5" y="86.5" width="4.6" height="4.6" fill="#a6a5f3"/>
<rect x="531.5" y="86.5" width="8.6" height="4.6" fill="#9a98f1"/>
<rect x="539.5" y="86.5" width="4.6" height="4.6" fill="#b3b2f5"/>
<rect x="543.5" y="86.5" width="4.6" height="4.6" fill="#c0bff6"/>
<rect x="547.5" y="86.5" width="4.6" height="4.6" fill="#d9d8fa"/>
<rect x="551.5" y="86.5" width="24.6" height="4.6" fill="#e6e5fc"/>
<rect x="575.5" y="86.5" width="24.6" height="4.6" fill="#f2f2fd"/>
<rect x="607.5" y="86.5" width="52.6" height="4.6" fill="#fef1f1"/>
<rect x="391.5" y="90.5" width="20.6" height="4.6" fill="#f2f2fd"/>
<rect x="411.5" y="90.5" width="4.6" height="4.6" fill="#e6e5fc"/>
<rect x="415.5" y="90.5" width="8.6" height="4.6" fill="#d9d8fa"/>
<rect x="423.5" y="90.5" width="8.6" height="4.6" fill="#e6e5fc"/>
<rect x="431.5" y="90.5" width="8.6" height="4.6" fill="#d9d8fa"/>
<rect x="439.5" y="90.5" width="4.6" height="4.6" fill="#ccccf8"/>
<rect x="443.5" y="90.5" width="40.6" height="4.6" fill="#c0bff6"/>
<rect x="483.5" y="90.5" width="8.6" height="4.6" fill="#ccccf8"/>
<rect x="491.5" y="90.5" width="12.6" height="4.6" fill="#d9d8fa"/>
<rect x="503.5" y="90.5" width="16.6" height="4.6" fill="#ccccf8"/>
<rect x="519.5" y="90.5" width="4.6" height="4.6" fill="#c0bff6"/>
<rect x="523.5" y="90.5" width="4.6" height="4.6" fill="#b3b2f5"/>
<rect x="527.5" y="90.5" width="12.6" height="4.6" fill="#a6a5f3"/>
<rect x="539.5" y="90.5" width="4.6" height="4.6" fill="#b3b2f5"/>
<rect x="543.5" y="90.5" width="4.6" height="4.6" fill="#ccccf8"/>
<rect x="547.5" y="90.5" width="4.6" height="4.6" fill="#d9d8fa"/>
<rect x="551.5" y="90.5" width="4.6" height="4.6" fill="#e6e5fc"/>
<rect x="555.5" y="90.5" width="4.6" height="4.6" fill="#f2f2fd"/>
<rect x="559.5" y="90.5" width="24.6" height="4.6" fill="#e6e5fc"/>
<rect x="583.5" y="90.5" width="16.6" height="4.6" fill="#d9d8fa"/>
<rect x="599.5" y="90.5" width="12.6" height="4.6" fill="#e6e5fc"/>
<rect x="611.5" y="90.5" width="20.6" height="4.6" fill="#f2f2fd"/>
<rect x="643.5" y="90.5" width="16.6" height="4.6" fill="#fef1f1"/>
<rect x="391.5" y="94.5" width="8.6" height="4.6" fill="#d9d8fa"/>
<rect x="399.5" y="94.5" width="28.6" height="4.6" fill="#ccccf8"/>
<rect x="427.5" y="94.5" width="8.6" height="4.6" fill="#c0bff6"/>
<rect x="435.5" y="94.5" width="8.6" height="4.6" fill="#b3b2f5"/>
<rect x="443.5" y="94.5" width="4.6" height="4.6" fill="#a6a5f3"/>
<rect x="447.5" y="94.5" width="8.6" height="4.6" fill="#9a98f1"/>
<rect x="455.5" y="94.5" width="20.6" height="4.6" fill="#8d8bf0"/>
<rect x="475.5" y="94.5" width="4.6" height="4.6" fill="#9a98f1"/>
<rect x="479.5" y="94.5" width="4.6" height="4.6" fill="#a6a5f3"/>
<rect x="483.5" y="94.5" width="8.6" height="4.6" fill="#b3b2f5"/>
<rect x="491.5" y="94.5" width="4.6" height="4.6" fill="#c0bff6"/>
<rect x="495.5" y="94.5" width="24.6" height="4.6" fill="#ccccf8"/>
<rect x="519.5" y="94.5" width="8.6" height="4.6" fill="#c0bff6"/>
<rect x="527.5" y="94.5" width="4.6" height="4.6" fill="#b3b2f5"/>
<rect x="531.5" y="94.5" width="4.6" height="4.6" fill="#a6a5f3"/>
<rect x="535.5" y="94.5" width="4.6" height="4.6" fill="#b3b2f5"/>
<rect x="539.5" y="94.5" width="4.6" height="4.6" fill="#c0bff6"/>
<rect x="543.5" y="94.5" width="4.6" height="4.6" fill="#ccccf8"/>
<rect x="547.5" y="94.5" width="4.6" height="4.6" fill="#d9d8fa"/>
<rect x="551.5" y="94.5" width="4.6" height="4.6" fill="#e6e5fc"/>
<rect x="555.5" y="94.5" width="4.6" height="4.6" fill="#f2f2fd"/>
<rect x="559.5" y="94.5" width="8.6" height="4.6" fill="#e6e5fc"/>
<rect x="567.5" y="94.5" width="12.6" height="4.6" fill="#d9d8fa"/>
<rect x="579.5" y="94.5" width="12.6" height="4.6" fill="#ccccf8"/>
<rect x="591.5" y="94.5" width="24.6" height="4.6" fill="#c0bff6"/>
<rect x="615.5" y="94.5" width="12.6" height="4.6" fill="#ccccf8"/>
<rect x="627.5" y="94.5" width="8.6" height="4.6" fill="#d9d8fa"/>
<rect x="635.5" y="94.5" width="4.6" height="4.6" fill="#e6e5fc"/>
<rect x="639.5" y="94.5" width="8.6" height="4.6" fill="#f2f2fd"/>
<rect x="651.5" y="94.5" width="8.6" height="4.6" fill="#fef1f1"/>
<rect x="391.5" y="98.5" width="4.6" height="4.6" fill="#c0bff6"/>
<rect x="395.5" y="98.5" width="36.6" height="4.6" fill="#b3b2f5"/>
<rect x="431.5" y="98.5" width="8.6" height="4.6" fill="#a6a5f3"/>
<rect x="439.5" y="98.5" width="4.6" height="4.6" fill="#9a98f1"/>
<rect x="443.5" y="98.5" width="4.6" height="4.6" fill="#8d8bf0"/>
<rect x="447.5" y="98.5" width="4.6" height="4.6" fill="#807eee"/>
<rect x="451.5" y="98.5" width="28.6" height="4.6" fill="#7372ec"/>
<rect x="479.5" y="98.5" width="4.6" height="4.6" fill="#8d8bf0"/>
<rect x="483.5" y="98.5" width="4.6" height="4.6" fill="#9a98f1"/>
<rect x="487.5" y="98.5" width="4.6" height="4.6" fill="#a6a5f3"/>
<rect x="491.5" y="98.5" width="4.6" height="4.6" fill="#b3b2f5"/>
<rect x="495.5" y="98.5" width="12.6" height="4.6" fill="#c0bff6"/>
<rect x="507.5" y="98.5" width="12.6" height="4.6" fill="#ccccf8"/>
<rect x="519.5" y="98.5" width="8.6" height="4.6" fill="#c0bff6"/>
<rect x="527.5" y="98.5" width="12.6" height="4.6" fill="#b3b2f5"/>
<rect x="539.5" y="98.5" width="4.6" height="4.6" fill="#ccccf8"/>
<rect x="543.5" y="98.5" width="4.6" height="4.6" fill="#d9d8fa"/>
<rect x="547.5" y="98.5" width="4.6" height="4.6" fill="#e6e5fc"/>
<rect x="551.5" y="98.5" width="8.6" height="4.6" fill="#f2f2fd"/>
<rect x="559.5" y="98.5" width="12.6" height="4.6" fill="#e6e5fc"/>
<rect x="571.5" y="98.5" width="8.6" height="4.6" fill="#d9d8fa"/>
<rect x="579.5" y="98.5" width="12.6" height="4.6" fill="#ccccf8"/>
<rect x="591.5" y="98.5" width="36.6" height="4.6" fill="#c0bff6"/>
<rect x="627.5" y="98.5" width="8.6" height="4.6" fill="#ccccf8"/>
<rect x="635.5" y="98.5" width="4.6" height="4.6" fill="#d9d8fa"/>
<rect x="639.5" y="98.5" width="4.6" height="4.6" fill="#e6e5fc"/>
<rect x="643.5" y="98.5" width="4.6" height="4.6" fill="#f2f2fd"/>
<rect x="651.5" y="98.5" width="8.6" height="4.6" fill="#fef1f1"/>
<rect x="391.5" y="102.5" width="8.6" height="4.6" fill="#b3b2f5"/>
<rect x="399.5" y="102.5" width="32.6" height="4.6" fill="#a6a5f3"/>
<rect x="431.5" y="102.5" width="8.6" height="4.6" fill="#9a98f1"/>
<rect x="439.5" y="102.5" width="4.6" height="4.6" fill="#8d8bf0"/>
<rect x="443.5" y="102.5" width="4.6" height="4.6" fill="#807eee"/>
<rect x="447.5" y="102.5" width="4.6" height="4.6" fill="#7372ec"/>
<rect x="451.5" y="102.5" width="4.6" height="4.6" fill="#6765ea"/>
<rect x="455.5" y="102.5" width="8.6" height="4.6" fill="#5a58e9"/>
<rect x="463.5" y="102.5" width="12.6" height="4.6" fill="#6765ea"/>
<rect x="475.5" y="102.5" width="4.6" height="4.6" fill="#7372ec"/>
<rect x="479.5" y="102.5" width="4.6" height="4.6" fill="#807eee"/>
<rect x="483.5" y="102.5" width="4.6" height="4.6" fill="#8d8bf0"/>
<rect x="487.5" y="102.5" width="4.6" height="4.6" fill="#9a98f1"/>
<rect x="491.5" y="102.5" width="4.6" height="4.6" fill="#a6a5f3"/>
<rect x="495.5" y="102.5" width="8.6" height="4.6" fill="#b3b2f5"/>
<rect x="503.5" y="102.5" width="28.6" height="4.6" fill="#c0bff6"/>
<rect x="531.5" y="102.5" width="4.6" height="4.6" fill="#b3b2f5"/>
<rect x="535.5" y="102.5" width="4.6" height="4.6" fill="#c0bff6"/>
<rect x="539.5" y="102.5" width="4.6" height="4.6" fill="#ccccf8"/>
<rect x="543.5" y="102.5" width="4.6" height="4.6" fill="#d9d8fa"/>
<rect x="547.5" y="102.5" width="4.6" height="4.6" fill="#e6e5fc"/>
<rect x="551.5" y="102.5" width="20.6" height="4.6" fill="#f2f2fd"/>
<rect x="571.5" y="102.5" width="20.6" height="4.6" fill="#e6e5fc"/>
<rect x="591.5" y="102.5" width="36.6" height="4.6" fill="#d9d8fa"/>
<rect x="627.5" y="102.5" width="8.6" height="4.6" fill="#e6e5fc"/>
<rect x="635.5" y="102.5" width="8.6" height="4.6" fill="#f2f2fd"/>
<rect x="647.5" y="102.5" width="8.6" height="4.6" fill="#fef1f1"/>
<rect x="655.5" y="102.5" width="4.6" height="4.6" fill="#fce3e3"/>
<rect x="391.5" y="106.5" width="4.6" height="4.6" fill="#b3b2f5"/>
<rect x="395.5" y="106.5" width="20.6" height="4.6" fill="#a6a5f3"/>
<rect x="415.5" y="106.5" width="16.6" height="4.6" fill="#9a98f1"/>
<rect x="431.5" y="106.5" width="8.6" height="4.6" fill="#8d8bf0"/>
<rect x="439.5" y="106.5" width="4.6" height="4.6" fill="#807eee"/>
<rect x="443.5" y="106.5" width="4.6" height="4.6" fill="#7372ec"/>
<rect x="447.5" y="106.5" width="4.6" height="4.6" fill="#6765ea"/>
<rect x="451.5" y="106.5" width="16.6" height="4.6" fill="#4d4be7"/>
<rect x="467.5" y="106.5" width="8.6" height="4.6" fill="#5a58e9"/>
<rect x="475.5" y="106.5" width="4.6" height="4.6" fill="#6765ea"/>
<rect x="479.5" y="106.5" width="4.6" height="4.6" fill="#7372ec"/>
<rect x="483.5" y="106.5" width="4.6" height="4.6" fill="#807eee"/>
<rect x="487.5" y="106.5" width="4.6" height="4.6" fill="#9a98f1"/>
<rect x="491.5" y="106.5" width="8.6" height="4.6" fill="#a6a5f3"/>
<rect x="499.5" y="106.5" width="24.6" height="4.6" fill="#b3b2f5"/>
<rect x="523.5" y="106.5" width="12.6" height="4.6" fill="#c0bff6"/>
<rect x="535.5" y="106.5" width="4.6" height="4.6" fill="#ccccf8"/>
<rect x="539.5" y="106.5" width="4.6" height="4.6" fill="#d9d8fa"/>
<rect x="543.5" y="106.5" width="8.6" height="4.6" fill="#e6e5fc"/>
<rect x="551.5" y="106.5" width="4.6" height="4.6" fill="#f2f2fd"/>
<rect x="567.5" y="106.5" width="8.6" height="4.6" fill="#f2f2fd"/>
<rect x="615.5" y="106.5" width="4.6" height="4.6" fill="#fef1f1"/>
<rect x="635.5" y="106.5" width="12.6" height="4.6" fill="#fef1f1"/>
<rect x="647.5" y="106.5" width="12.6" height="4.6" fill="#fce3e3"/>
<rect x="391.5" y="110.5" width="8.6" height="4.6" fill="#b3b2f5"/>
<rect x="399.5" y="110.5" width="8.6" height="4.6" fill="#a6a5f3"/>
<rect x="407.5" y="110.5" width="12.6" height="4.6" fill="#9a98f1"/>
<rect x="419.5" y="110.5" width="16.6" height="4.6" fill="#8d8bf0"/>
<rect x="435.5" y="110.5" width="4.6" height="4.6" fill="#807eee"/>
<rect x="439.5" y="110.5" width="4.6" height="4.6" fill="#7372ec"/>
<rect x="443.5" y="110.5" width="4.6" height="4.6" fill="#6765ea"/>
<rect x="447.5" y="110.5" width="4.6" height="4.6" fill="#4d4be7"/>
<rect x="451.5" y="110.5" width="4.6" height="4.6" fill="#413ee5"/>
<rect x="455.5" y="110.5" width="4.6" height="4.6" fill="#3431e4"/>
<rect x="459.5" y="110.5" width="8.6" height="4.6" fill="#413ee5"/>
<rect x="467.5" y="110.5" width="8.6" height="4.6" fill="#4d4be7"/>
<rect x="475.5" y="110.5" width="4.6" height="4.6" fill="#5a58e9"/>
<rect x="479.5" y="110.5" width="4.6" height="4.6" fill="#6765ea"/>
<rect x="483.5" y="110.5" width="4.6" height="4.6" fill="#7372ec"/>
<rect x="487.5" y="110.5" width="4.6" height="4.6" fill="#8d8bf0"/>
<rect x="491.5" y="110.5" width="4.6" height="4.6" fill="#9a98f1"/>
<rect x="495.5" y="110.5" width="24.6" height="4.6" fill="#a6a5f3"/>
<rect x="519.5" y="110.5" width="8.6" height="4.6" fill="#b3b2f5"/>
<rect x="527.5" y="110.5" width="8.6" height="4.6" fill="#c0bff6"/>
<rect x="535.5" y="110.5" width="4.6" height="4.6" fill="#ccccf8"/>
<rect x="539.5" y="110.5" width="4.6" height="4.6" fill="#d9d8fa"/>
<rect x="543.5" y="110.5" width="4.6" height="4.6" fill="#e6e5fc"/>
<rect x="547.5" y="110.5" width="8.6" height="4.6" fill="#f2f2fd"/>
<rect x="575.5" y="110.5" width="12.6" height="4.6" fill="#fef1f1"/>
<rect x="587.5" y="110.5" width="8.6" height="4.6" fill="#fce3e3"/>
<rect x="595.5" y="110.5" width="16.6" height="4.6" fill="#fbd5d5"/>
<rect x="611.5" y="110.5" width="8.6" height="4.6" fill="#f9c7c7"/>
<rect x="619.5" y="110.5" width="8.6" height="4.6" fill="#fbd5d5"/>
<rect x="627.5" y="110.5" width="32.6" height="4.6" fill="#fce3e3"/>
<rect x="391.5" y="114.5" width="4.6" height="4.6" fill="#c0bff6"/>
<rect x="395.5" y="114.5" width="4.6" height="4.6" fill="#b3b2f5"/>
<rect x="399.5" y="114.5" width="8.6" height="4.6" fill="#a6a5f3"/>
<rect x="407.5" y="114.5" width="8.6" height="4.6" fill="#9a98f1"/>
<rect x="415.5" y="114.5" width="8.6" height="4.6" fill="#8d8bf0"/>
<rect x="423.5" y="114.5" width="12.6" height="4.6" fill="#807eee"/>
<rect x="435.5" y="114.5" width="4.6" height="4.6" fill="#7372ec"/>
<rect x="439.5" y="114.5" width="4.6" height="4.6" fill="#6765ea"/>
<rect x="443.5" y="114.5" width="4.6" height="4.6" fill="#4d4be7"/>
<rect x="447.5" y="114.5" width="4.6" height="4.6" fill="#413ee5"/>
<rect x="451.5" y="114.5" width="12.6" height="4.6" fill="#2724e2"/>
<rect x="463.5" y="114.5" width="8.6" height="4.6" fill="#3431e4"/>
<rect x="471.5" y="114.5" width="4.6" height="4.6" fill="#413ee5"/>
<rect x="475.5" y="114.5" width="4.6" height="4.6" fill="#4d4be7"/>
<rect x="479.5" y="114.5" width="4.6" height="4.6" fill="#5a58e9"/>
<rect x="483.5" y="114.5" width="4.6" height="4.6" fill="#7372ec"/>
<rect x="487.5" y="114.5" width="4.6" height="4.6" fill="#807eee"/>
<rect x="491.5" y="114.5" width="4.6" height="4.6" fill="#8d8bf0"/>
<rect x="495.5" y="114.5" width="24.6" height="4.6" fill="#9a98f1"/>
<rect x="519.5" y="114.5" width="4.6" height="4.6" fill="#a6a5f3"/>
<rect x="523.5" y="114.5" width="4.6" height="4.6" fill="#b3b2f5"/>
<rect x="527.5" y="114.5" width="4.6" height="4.6" fill="#c0bff6"/>
<rect x="531.5" y="114.5" width="4.6" height="4.6" fill="#ccccf8"/>
<rect x="535.5" y="114.5" width="4.6" height="4.6" fill="#d9d8fa"/>
<rect x="539.5" y="114.5" width="8.6" height="4.6" fill="#e6e5fc"/>
<rect x="547.5" y="114.5" width="4.6" height="4.6" fill="#f2f2fd"/>
<rect x="563.5" y="114.5" width="12.6" height="4.6" fill="#fef1f1"/>
<rect x="575.5" y="114.5" width="8.6" height="4.6" fill="#fce3e3"/>
<rect x="583.5" y="114.5" width="4.6" height="4.6" fill="#fbd5d5"/>
<rect x="587.5" y="114.5" width="4.6" height="4.6" fill="#f9c7c7"/>
<rect x="591.5" y="114.5" width="8.6" height="4.6" fill="#f8b8b8"/>
<rect x="599.5" y="114.5" width="12.6" height="4.6" fill="#f6aaaa"/>
<rect x="611.5" y="114.5" width="4.6" height="4.6" fill="#f59c9c"/>
<rect x="615.5" y="114.5" width="8.6" height="4.6" fill="#f6aaaa"/>
<rect x="623.5" y="114.5" width="4.6" height="4.6" fill="#f8b8b8"/>
<rect x="627.5" y="114.5" width="4.6" height="4.6" fill="#f9c7c7"/>
<rect x="631.5" y="114.5" width="16.6" height="4.6" fill="#fbd5d5"/>
<rect x="647.5" y="114.5" width="12.6" height="4.6" fill="#fce3e3"/>
<rect x="391.5" y="118.5" width="4.6" height="4.6" fill="#c0bff6"/>
<rect x="395.5" y="118.5" width="4.6" height="4.6" fill="#b3b2f5"/>
<rect x="399.5" y="118.5" width="8.6" height="4.6" fill="#a6a5f3"/>
<rect x="407.5" y="118.5" width="12.6" height="4.6" fill="#9a98f1"/>
<rect x="419.5" y="118.5" width="4.6" height="4.6" fill="#8d8bf0"/>
<rect x="423.5" y="118.5" width="12.6" height="4.6" fill="#807eee"/>
<rect x="435.5" y="118.5" width="4.6" height="4.6" fill="#7372ec"/>
<rect x="439.5" y="118.5" width="4.6" height="4.6" fill="#5a58e9"/>
<rect x="443.5" y="118.5" width="4.6" height="4.6" fill="#4d4be7"/>
<rect x="447.5" y="118.5" width="4.6" height="4.6" fill="#413ee5"/>
<rect x="451.5" y="118.5" width="12.6" height="4.6" fill="#2724e2"/>
<rect x="463.5" y="118.5" width="8.6" height="4.6" fill="#3431e4"/>
<rect x="471.5" y="118.5" width="4.6" height="4.6" fill="#413ee5"/>
<rect x="475.5" y="118.5" width="4.6" height="4.6" fill="#4d4be7"/>
<rect x="479.5" y="118.5" width="4.6" height="4.6" fill="#5a58e9"/>
<rect x="483.5" y="118.5" width="4.6" height="4.6" fill="#6765ea"/>
<rect x="487.5" y="118.5" width="4.6" height="4.6" fill="#7372ec"/>
<rect x="491.5" y="118.5" width="28.6" height="4.6" fill="#8d8bf0"/>
<rect x="519.5" y="118.5" width="4.6" height="4.6" fill="#a6a5f3"/>
<rect x="523.5" y="118.5" width="8.6" height="4.6" fill="#b3b2f5"/>
<rect x="531.5" y="118.5" width="4.6" height="4.6" fill="#c0bff6"/>
<rect x="535.5" y="118.5" width="4.6" height="4.6" fill="#ccccf8"/>
<rect x="539.5" y="118.5" width="4.6" height="4.6" fill="#d9d8fa"/>
<rect x="543.5" y="118.5" width="4.6" height="4.6" fill="#e6e5fc"/>
<rect x="547.5" y="118.5" width="8.6" height="4.6" fill="#f2f2fd"/>
<rect x="563.5" y="118.5" width="8.6" height="4.6" fill="#fef1f1"/>
<rect x="571.5" y="118.5" width="4.6" height="4.6" fill="#fce3e3"/>
<rect x="575.5" y="118.5" width="8.6" height="4.6" fill="#fbd5d5"/>
<rect x="583.5" y="118.5" width="4.6" height="4.6" fill="#f9c7c7"/>
<rect x="587.5" y="118.5" width="4.6" height="4.6" fill="#f8b8b8"/>
<rect x="591.5" y="118.5" width="4.6" height="4.6" fill="#f6aaaa"/>
<rect x="595.5" y="118.5" width="8.6" height="4.6" fill="#f59c9c"/>
<rect x="603.5" y="118.5" width="8.6" height="4.6" fill="#f48e8e"/>
<rect x="611.5" y="118.5" width="4.6" height="4.6" fill="#f28080"/>
<rect x="615.5" y="118.5" width="4.6" height="4.6" fill="#f48e8e"/>
<rect x="619.5" y="118.5" width="4.6" height="4.6" fill="#f59c9c"/>
<rect x="623.5" y="118.5" width="4.6" height="4.6" fill="#f6aaaa"/>
<rect x="627.5" y="118.5" width="4.6" height="4.6" fill="#f8b8b8"/>
<rect x="631.5" y="118.5" width="4.6" height="4.6" fill="#f9c7c7"/>
<rect x="635.5" y="118.5" width="16.6" height="4.6" fill="#fbd5d5"/>
<rect x="651.5" y="118.5" width="8.6" height="4.6" fill="#fce3e3"/>
<rect x="391.5" y="122.5" width="4.6" height="4.6" fill="#ccccf8"/>
<rect x="395.5" y="122.5" width="4.6" height="4.6" fill="#c0bff6"/>
<rect x="399.5" y="122.5" width="12.6" height="4.6" fill="#a6a5f3"/>
<rect x="411.5" y="122.5" width="12.6" height="4.6" fill="#9a98f1"/>
<rect x="423.5" y="122.5" width="4.6" height="4.6" fill="#8d8bf0"/>
<rect x="427.5" y="122.5" width="8.6" height="4.6" fill="#807eee"/>
<rect x="435.5" y="122.5" width="4.6" height="4.6" fill="#7372ec"/>
<rect x="439.5" y="122.5" width="4.6" height="4.6" fill="#6765ea"/>
<rect x="443.5" y="122.5" width="4.6" height="4.6" fill="#5a58e9"/>
<rect x="447.5" y="122.5" width="4.6" height="4.6" fill="#413ee5"/>
<rect x="451.5" y="122.5" width="12.6" height="4.6" fill="#3431e4"/>
<rect x="463.5" y="122.5" width="8.6" height="4.6" fill="#413ee5"/>
<rect x="471.5" y="122.5" width="4.6" height="4.6" fill="#4d4be7"/>
<rect x="475.5" y="122.5" width="4.6" height="4.6" fill="#5a58e9"/>
<rect x="479.5" y="122.5" width="4.6" height="4.6" fill="#6765ea"/>
<rect x="483.5" y="122.5" width="8.6" height="4.6" fill="#7372ec"/>
<rect x="491.5" y="122.5" width="4.6" height="4.6" fill="#807eee"/>
<rect x="495.5" y="122.5" width="8.6" height="4.6" fill="#8d8bf0"/>
<rect x="503.5" y="122.5" width="16.6" height="4.6" fill="#807eee"/>
<rect x="519.5" y="122.5" width="4.6" height="4.6" fill="#8d8bf0"/>
<rect x="523.5" y="122.5" width="4.6" height="4.6" fill="#9a98f1"/>
<rect x="527.5" y="122.5" width="4.6" height="4.6" fill="#a6a5f3"/>
<rect x="531.5" y="122.5" width="4.6" height="4.6" fill="#b3b2f5"/>
<rect x="535.5" y="122.5" width="4.6" height="4.6" fill="#c0bff6"/>
<rect x="539.5" y="122.5" width="4.6" height="4.6" fill="#ccccf8"/>
<rect x="543.5" y="122.5" width="4.6" height="4.6" fill="#d9d8fa"/>
<rect x="547.5" y="122.5" width="8.6" height="4.6" fill="#e6e5fc"/>
<rect x="555.5" y="122.5" width="4.6" height="4.6" fill="#f2f2fd"/>
<rect x="567.5" y="122.5" width="4.6" height="4.6" fill="#fef1f1"/>
<rect x="571.5" y="122.5" width="4.6" height="4.6" fill="#fce3e3"/>
<rect x="575.5" y="122.5" width="8.6" height="4.6" fill="#fbd5d5"/>
<rect x="583.5" y="122.5" width="4.6" height="4.6" fill="#f9c7c7"/>
<rect x="587.5" y="122.5" width="4.6" height="4.6" fill="#f8b8b8"/>
<rect x="591.5" y="122.5" width="4.6" height="4.6" fill="#f6aaaa"/>
<rect x="595.5" y="122.5" width="4.6" height="4.6" fill="#f59c9c"/>
<rect x="599.5" y="122.5" width="8.6" height="4.6" fill="#f48e8e"/>
<rect x="607.5" y="122.5" width="4.6" height="4.6" fill="#f28080"/>
<rect x="611.5" y="122.5" width="4.6" height="4.6" fill="#f17272"/>
<rect x="615.5" y="122.5" width="4.6" height="4.6" fill="#f28080"/>
<rect x="619.5" y="122.5" width="4.6" height="4.6" fill="#f48e8e"/>
<rect x="623.5" y="122.5" width="4.6" height="4.6" fill="#f59c9c"/>
<rect x="627.5" y="122.5" width="4.6" height="4.6" fill="#f8b8b8"/>
<rect x="631.5" y="122.5" width="8.6" height="4.6" fill="#f9c7c7"/>
<rect x="639.5" y="122.5" width="12.6" height="4.6" fill="#fbd5d5"/>
<rect x="651.5" y="122.5" width="8.6" height="4.6" fill="#fce3e3"/>
<rect x="391.5" y="126.5" width="4.6" height="4.6" fill="#d9d8fa"/>
<rect x="395.5" y="126.5" width="4.6" height="4.6" fill="#c0bff6"/>
<rect x="399.5" y="126.5" width="4.6" height="4.6" fill="#b3b2f5"/>
<rect x="403.5" y="126.5" width="16.6" height="4.6" fill="#a6a5f3"/>
<rect x="419.5" y="126.5" width="8.6" height="4.6" fill="#9a98f1"/>
<rect x="427.5" y="126.5" width="4.6" height="4.6" fill="#8d8bf0"/>
<rect x="431.5" y="126.5" width="4.6" height="4.6" fill="#807eee"/>
<rect x="435.5" y="126.5" width="4.6" height="4.6" fill="#7372ec"/>
<rect x="439.5" y="126.5" width="4.6" height="4.6" fill="#6765ea"/>
<rect x="443.5" y="126.5" width="4.6" height="4.6" fill="#5a58e9"/>
<rect x="447.5" y="126.5" width="4.6" height="4.6" fill="#4d4be7"/>
<rect x="451.5" y="126.5" width="12.6" height="4.6" fill="#413ee5"/>
<rect x="463.5" y="126.5" width="8.6" height="4.6" fill="#4d4be7"/>
<rect x="471.5" y="126.5" width="8.6" height="4.6" fill="#5a58e9"/>
<rect x="479.5" y="126.5" width="4.6" height="4.6" fill="#6765ea"/>
<rect x="483.5" y="126.5" width="8.6" height="4.6" fill="#7372ec"/>
<rect x="491.5" y="126.5" width="16.6" height="4.6" fill="#807eee"/>
<rect x="507.5" y="126.5" width="12.6" height="4.6" fill="#7372ec"/>
<rect x="519.5" y="126.5" width="4.6" height="4.6" fill="#807eee"/>
<rect x="523.5" y="126.5" width="8.6" height="4.6" fill="#8d8bf0"/>
<rect x="531.5" y="126.5" width="4.6" height="4.6" fill="#9a98f1"/>
<rect x="535.5" y="126.5" width="4.6" height="4.6" fill="#a6a5f3"/>
<rect x="539.5" y="126.5" width="4.6" height="4.6" fill="#b3b2f5"/>
<rect x="543.5" y="126.5" width="4.6" height="4.6" fill="#c0bff6"/>
<rect x="547.5" y="126.5" width="4.6" height="4.6" fill="#ccccf8"/>
<rect x="551.5" y="126.5" width="4.6" height="4.6" fill="#d9d8fa"/>
<rect x="555.5" y="126.5" width="4.6" height="4.6" fill="#e6e5fc"/>
<rect x="559.5" y="126.5" width="4.6" height="4.6" fill="#f2f2fd"/>
<rect x="567.5" y="126.5" width="4.6" height="4.6" fill="#fef1f1"/>
<rect x="571.5" y="126.5" width="4.6" height="4.6" fill="#fce3e3"/>
<rect x="575.5" y="126.5" width="8.6" height="4.6" fill="#fbd5d5"/>
<rect x="583.5" y="126.5" width="4.6" height="4.6" fill="#f9c7c7"/>
<rect x="587.5" y="126.5" width="4.6" height="4.6" fill="#f8b8b8"/>
<rect x="591.5" y="126.5" width="4.6" height="4.6" fill="#f6aaaa"/>
<rect x="595.5" y="126.5" width="4.6" height="4.6" fill="#f59c9c"/>
<rect x="599.5" y="126.5" width="4.6" height="4.6" fill="#f48e8e"/>
<rect x="603.5" y="126.5" width="8.6" height="4.6" fill="#f28080"/>
<rect x="611.5" y="126.5" width="8.6" height="4.6" fill="#f17272"/>
<rect x="619.5" y="126.5" width="4.6" height="4.6" fill="#f28080"/>
<rect x="623.5" y="126.5" width="4.6" height="4.6" fill="#f59c9c"/>
<rect x="627.5" y="126.5" width="4.6" height="4.6" fill="#f6aaaa"/>
<rect x="631.5" y="126.5" width="4.6" height="4.6" fill="#f8b8b8"/>
<rect x="635.5" y="126.5" width="8.6" height="4.6" fill="#f9c7c7"/>
<rect x="643.5" y="126.5" width="8.6" height="4.6" fill="#fbd5d5"/>
<rect x="651.5" y="126.5" width="8.6" height="4.6" fill="#fce3e3"/>
<rect x="391.5" y="130.5" width="4.6" height="4.6" fill="#e6e5fc"/>
<rect x="395.5" y="130.5" width="4.6" height="4.6" fill="#d9d8fa"/>
<rect x="399.5" y="130.5" width="4.6" height="4.6" fill="#ccccf8"/>
<rect x="403.5" y="130.5" width="4.6" height="4.6" fill="#c0bff6"/>
<rect x="407.5" y="130.5" width="8.6" height="4.6" fill="#b3b2f5"/>
<rect x="415.5" y="130.5" width="8.6" height="4.6" fill="#a6a5f3"/>
<rect x="423.5" y="130.5" width="4.6" height="4.6" fill="#9a98f1"/>
<rect x="427.5" y="130.5" width="4.6" height="4.6" fill="#8d8bf0"/>
<rect x="431.5" y="130.5" width="4.6" height="4.6" fill="#807eee"/>
<rect x="435.5" y="130.5" width="4.6" height="4.6" fill="#7372ec"/>
<rect x="439.5" y="130.5" width="4.6" height="4.6" fill="#6765ea"/>
<rect x="443.5" y="130.5" width="8.6" height="4.6" fill="#5a58e9"/>
<rect x="451.5" y="130.5" width="12.6" height="4.6" fill="#4d4be7"/>
<rect x="463.5" y="130.5" width="8.6" height="4.6" fill="#5a58e9"/>
<rect x="471.5" y="130.5" width="8.6" height="4.6" fill="#6765ea"/>
<rect x="479.5" y="130.5" width="12.6" height="4.6" fill="#7372ec"/>
<rect x="491.5" y="130.5" width="8.6" height="4.6" fill="#807eee"/>
<rect x="499.5" y="130.5" width="8.6" height="4.6" fill="#7372ec"/>
<rect x="507.5" y="130.5" width="12.6" height="4.6" fill="#6765ea"/>
<rect x="519.5" y="130.5" width="8.6" height="4.6" fill="#7372ec"/>
<rect x="527.5" y="130.5" width="8.6" height="4.6" fill="#807eee"/>
<rect x="535.5" y="130.5" width="4.6" height="4.6" fill="#8d8bf0"/>
<rect x="539.5" y="130.5" width="4.6" height="4.6" fill="#a6a5f3"/>
<rect x="543.5" y="130.5" width="4.6" height="4.6" fill="#b3b2f5"/>
<rect x="547.5" y="130.5" width="4.6" height="4.6" fill="#c0bff6"/>
<rect x="551.5" y="130.5" width="4.6" height="4.6" fill="#ccccf8"/>
<rect x="555.5" y="130.5" width="4.6" height="4.6" fill="#e6e5fc"/>
<rect x="559.5" y="130.5" width="4.6" height="4.6" fill="#f2f2fd"/>
<rect x="567.5" y="130.5" width="4.6" height="4.6" fill="#fef1f1"/>
<rect x="571.5" y="130.5" width="4.6" height="4.6" fill="#fce3e3"/>
<rect x="575.5" y="130.5" width="8.6" height="4.6" fill="#fbd5d5"/>
<rect x="583.5" y="130.5" width="4.6" height="4.6" fill="#f9c7c7"/>
<rect x="587.5" y="130.5" width="4.6" height="4.6" fill="#f8b8b8"/>
<rect x="591.5" y="130.5" width="4.6" height="4.6" fill="#f6aaaa"/>
<rect x="595.5" y="130.5" width="4.6" height="4.6" fill="#f59c9c"/>
<rect x="599.5" y="130.5" width="4.6" height="4.6" fill="#f48e8e"/>
<rect x="603.5" y="130.5" width="4.6" height="4.6" fill="#f28080"/>
<rect x="607.5" y="130.5" width="4.6" height="4.6" fill="#f17272"/>
<rect x="611.5" y="130.5" width="8.6" height="4.6" fill="#ef6464"/>
<rect x="619.5" y="130.5" width="4.6" height="4.6" fill="#f28080"/>
<rect x="623.5" y="130.5" width="4.6" height="4.6" fill="#f48e8e"/>
<rect x="627.5" y="130.5" width="4.6" height="4.6" fill="#f6aaaa"/>
<rect x="631.5" y="130.5" width="4.6" height="4.6" fill="#f8b8b8"/>
<rect x="635.5" y="130.5" width="8.6" height="4.6" fill="#f9c7c7"/>
<rect x="643.5" y="130.5" width="8.6" height="4.6" fill="#fbd5d5"/>
<rect x="651.5" y="130.5" width="8.6" height="4.6" fill="#fce3e3"/>
<rect x="391.5" y="134.5" width="8.6" height="4.6" fill="#f2f2fd"/>
<rect x="399.5" y="134.5" width="4.6" height="4.6" fill="#e6e5fc"/>
<rect x="403.5" y="134.5" width="4.6" height="4.6" fill="#d9d8fa"/>
<rect x="407.5" y="134.5" width="4.6" height="4.6" fill="#ccccf8"/>
<rect x="411.5" y="134.5" width="8.6" height="4.6" fill="#c0bff6"/>
<rect x="419.5" y="134.5" width="4.6" height="4.6" fill="#b3b2f5"/>
<rect x="423.5" y="134.5" width="4.6" height="4.6" fill="#a6a5f3"/>
<rect x="427.5" y="134.5" width="4.6" height="4.6" fill="#9a98f1"/>
<rect x="431.5" y="134.5" width="4.6" height="4.6" fill="#807eee"/>
<rect x="435.5" y="134.5" width="4.6" height="4.6" fill="#7372ec"/>
<rect x="439.5" y="134.5" width="8.6" height="4.6" fill="#6765ea"/>
<rect x="447.5" y="134.5" width="16.6" height="4.6" fill="#5a58e9"/>
<rect x="463.5" y="134.5" width="8.6" height="4.6" fill="#6765ea"/>
<rect x="471.5" y="134.5" width="32.6" height="4.6" fill="#7372ec"/>
<rect x="503.5" y="134.5" width="8.6" height="4.6" fill="#6765ea"/>
<rect x="511.5" y="134.5" width="16.6" height="4.6" fill="#5a58e9"/>
<rect x="527.5" y="134.5" width="8.6" height="4.6" fill="#6765ea"/>
<rect x="535.5" y="134.5" width="4.6" height="4.6" fill="#7372ec"/>
<rect x="539.5" y="134.5" width="4.6" height="4.6" fill="#8d8bf0"/>
<rect x="543.5" y="134.5" width="4.6" height="4.6" fill="#9a98f1"/>
<rect x="547.5" y="134.5" width="4.6" height="4.6" fill="#b3b2f5"/>
<rect x="551.5" y="134.5" width="4.6" height="4.6" fill="#c0bff6"/>
<rect x="555.5" y="134.5" width="4.6" height="4.6" fill="#d9d8fa"/>
<rect x="559.5" y="134.5" width="4.6" height="4.6" fill="#e6e5fc"/>
<rect x="563.5" y="134.5" width="4.6" height="4.6" fill="#f2f2fd"/>
<rect x="571.5" y="134.5" width="4.6" height="4.6" fill="#fef1f1"/>
<rect x="575.5" y="134.5" width="4.6" height="4.6" fill="#fce3e3"/>
<rect x="579.5" y="134.5" width="4.6" height="4.6" fill="#fbd5d5"/>
<rect x="583.5" y="134.5" width="4.6" height="4.6" fill="#f9c7c7"/>
<rect x="587.5" y="134.5" width="4.6" height="4.6" fill="#f8b8b8"/>
<rect x="591.5" y="134.5" width="4.6" height="4.6" fill="#f6aaaa"/>
<rect x="595.5" y="134.5" width="4.6" height="4.6" fill="#f59c9c"/>
<rect x="599.5" y="134.5" width="4.6" height="4.6" fill="#f48e8e"/>
<rect x="603.5" y="134.5" width="4.6" height="4.6" fill="#f28080"/>
<rect x="607.5" y="134.5" width="4.6" height="4.6" fill="#ef6464"/>
<rect x="611.5" y="134.5" width="8.6" height="4.6" fill="#ee5656"/>
<rect x="619.5" y="134.5" width="4.6" height="4.6" fill="#f17272"/>
<rect x="623.5" y="134.5" width="4.6" height="4.6" fill="#f48e8e"/>
<rect x="627.5" y="134.5" width="4.6" height="4.6" fill="#f59c9c"/>
<rect x="631.5" y="134.5" width="8.6" height="4.6" fill="#f8b8b8"/>
<rect x="639.5" y="134.5" width="4.6" height="4.6" fill="#f9c7c7"/>
<rect x="643.5" y="134.5" width="8.6" height="4.6" fill="#fbd5d5"/>
<rect x="651.5" y="134.5" width="8.6" height="4.6" fill="#fce3e3"/>
<rect x="395.5" y="138.5" width="8.6" height="4.6" fill="#f2f2fd"/>
<rect x="403.5" y="138.5" width="4.6" height="4.6" fill="#e6e5fc"/>
<rect x="407.5" y="138.5" width="8.6" height="4.6" fill="#d9d8fa"/>
<rect x="415.5" y="138.5" width="4.6" height="4.6" fill="#ccccf8"/>
<rect x="419.5" y="138.5" width="4.6" height="4.6" fill="#c0bff6"/>
<rect x="423.5" y="138.5" width="4.6" height="4.6" fill="#b3b2f5"/>
<rect x="427.5" y="138.5" width="4.6" height="4.6" fill="#9a98f1"/>
<rect x="431.5" y="138.5" width="4.6" height="4.6" fill="#8d8bf0"/>
<rect x="435.5" y="138.5" width="12.6" height="4.6" fill="#7372ec"/>
<rect x="447.5" y="138.5" width="4.6" height="4.6" fill="#6765ea"/>
<rect x="451.5" y="138.5" width="8.6" height="4.6" fill="#5a58e9"/>
<rect x="459.5" y="138.5" width="4.6" height="4.6" fill="#6765ea"/>
<rect x="463.5" y="138.5" width="12.6" height="4.6" fill="#7372ec"/>
<rect x="475.5" y="138.5" width="24.6" height="4.6" fill="#807eee"/>
<rect x="499.5" y="138.5" width="8.6" height="4.6" fill="#7372ec"/>
<rect x="507.5" y="138.5" width="8.6" height="4.6" fill="#6765ea"/>
<rect x="515.5" y="138.5" width="4.6" height="4.6" fill="#5a58e9"/>
<rect x="519.5" y="138.5" width="8.6" height="4.6" fill="#6765ea"/>
<rect x="527.5" y="138.5" width="8.6" height="4.6" fill="#7372ec"/>
<rect x="535.5" y="138.5" width="4.6" height="4.6" fill="#807eee"/>
<rect x="539.5" y="138.5" width="4.6" height="4.6" fill="#8d8bf0"/>
<rect x="543.5" y="138.5" width="4.6" height="4.6" fill="#a6a5f3"/>
<rect x="547.5" y="138.5" width="4.6" height="4.6" fill="#b3b2f5"/>
<rect x="551.5" y="138.5" width="4.6" height="4.6" fill="#c0bff6"/>
<rect x="555.5" y="138.5" width="4.6" height="4.6" fill="#d9d8fa"/>
<rect x="559.5" y="138.5" width="4.6" height="4.6" fill="#e6e5fc"/>
<rect x="563.5" y="138.5" width="4.6" height="4.6" fill="#f2f2fd"/>
<rect x="571.5" y="138.5" width="4.6" height="4.6" fill="#fef1f1"/>
<rect x="575.5" y="138.5" width="8.6" height="4.6" fill="#fce3e3"/>
<rect x="583.5" y="138.5" width="4.6" height="4.6" fill="#fbd5d5"/>
<rect x="587.5" y="138.5" width="8.6" height="4.6" fill="#f9c7c7"/>
<rect x="595.5" y="138.5" width="4.6" height="4.6" fill="#f8b8b8"/>
<rect x="599.5" y="138.5" width="4.6" height="4.6" fill="#f59c9c"/>
<rect x="603.5" y="138.5" width="4.6" height="4.6" fill="#f48e8e"/>
<rect x="607.5" y="138.5" width="4.6" height="4.6" fill="#f28080"/>
<rect x="611.5" y="138.5" width="8.6" height="4.6" fill="#f17272"/>
<rect x="619.5" y="138.5" width="4.6" height="4.6" fill="#f28080"/>
<rect x="623.5" y="138.5" width="4.6" height="4.6" fill="#f48e8e"/>
<rect x="627.5" y="138.5" width="4.6" height="4.6" fill="#f6aaaa"/>
<rect x="631.5" y="138.5" width="4.6" height="4.6" fill="#f8b8b8"/>
<rect x="635.5" y="138.5" width="8.6" height="4.6" fill="#f9c7c7"/>
<rect x="643.5" y="138.5" width="8.6" height="4.6" fill="#fbd5d5"/>
<rect x="651.5" y="138.5" width="8.6" height="4.6" fill="#fce3e3"/>
<rect x="391.5" y="142.5" width="12.6" height="4.6" fill="#f2f2fd"/>
<rect x="403.5" y="142.5" width="8.6" height="4.6" fill="#e6e5fc"/>
<rect x="411.5" y="142.5" width="8.6" height="4.6" fill="#d9d8fa"/>
<rect x="419.5" y="142.5" width="4.6" height="4.6" fill="#ccccf8"/>
<rect x="423.5" y="142.5" width="4.6" height="4.6" fill="#b3b2f5"/>
<rect x="427.5" y="142.5" width="4.6" height="4.6" fill="#a6a5f3"/>
<rect x="431.5" y="142.5" width="4.6" height="4.6" fill="#8d8bf0"/>
<rect x="435.5" y="142.5" width="8.6" height="4.6" fill="#807eee"/>
<rect x="443.5" y="142.5" width="8.6" height="4.6" fill="#7372ec"/>
<rect x="451.5" y="142.5" width="8.6" height="4.6" fill="#6765ea"/>
<rect x="459.5" y="142.5" width="8.6" height="4.6" fill="#7372ec"/>
<rect x="467.5" y="142.5" width="8.6" height="4.6" fill="#807eee"/>
<rect x="475.5" y="142.5" width="28.6" height="4.6" fill="#8d8bf0"/>
<rect x="503.5" y="142.5" width="20.6" height="4.6" fill="#807eee"/>
<rect x="523.5" y="142.5" width="4.6" height="4.6" fill="#8d8bf0"/>
<rect x="527.5" y="142.5" width="8.6" height="4.6" fill="#9a98f1"/>
<rect x="535.5" y="142.5" width="4.6" height="4.6" fill="#a6a5f3"/>
<rect x="539.5" y="142.5" width="4.6" height="4.6" fill="#b3b2f5"/>
<rect x="543.5" y="142.5" width="4.6" height="4.6" fill="#c0bff6"/>
<rect x="547.5" y="142.5" width="4.6" height="4.6" fill="#ccccf8"/>
<rect x="551.5" y="142.5" width="4.6" height="4.6" fill="#d9d8fa"/>
<rect x="555.5" y="142.5" width="4.6" height="4.6" fill="#e6e5fc"/>
<rect x="559.5" y="142.5" width="4.6" height="4.6" fill="#f2f2fd"/>
<rect x="567.5" y="142.5" width="20.6" height="4.6" fill="#fef1f1"/>
<rect x="587.5" y="142.5" width="8.6" height="4.6" fill="#fce3e3"/>
<rect x="595.5" y="142.5" width="4.6" height="4.6" fill="#fbd5d5"/>
<rect x="599.5" y="142.5" width="4.6" height="4.6" fill="#f9c7c7"/>
<rect x="603.5" y="142.5" width="4.6" height="4.6" fill="#f8b8b8"/>
<rect x="607.5" y="142.5" width="4.6" height="4.6" fill="#f6aaaa"/>
<rect x="611.5" y="142.5" width="12.6" height="4.6" fill="#f59c9c"/>
<rect x="623.5" y="142.5" width="4.6" height="4.6" fill="#f6aaaa"/>
<rect x="627.5" y="142.5" width="4.6" height="4.6" fill="#f8b8b8"/>
<rect x="631.5" y="142.5" width="8.6" height="4.6" fill="#f9c7c7"/>
<rect x="639.5" y="142.5" width="12.6" height="4.6" fill="#fbd5d5"/>
<rect x="651.5" y="142.5" width="8.6" height="4.6" fill="#fce3e3"/>
<rect x="391.5" y="146.5" width="24.6" height="4.6" fill="#e6e5fc"/>
<rect x="415.5" y="146.5" width="4.6" height="4.6" fill="#d9d8fa"/>
<rect x="419.5" y="146.5" width="4.6" height="4.6" fill="#ccccf8"/>
<rect x="423.5" y="146.5" width="4.6" height="4.6" fill="#c0bff6"/>
<rect x="427.5" y="146.5" width="4.6" height="4.6" fill="#b3b2f5"/>
<rect x="431.5" y="146.5" width="4.6" height="4.6" fill="#9a98f1"/>
<rect x="435.5" y="146.5" width="4.6" height="4.6" fill="#8d8bf0"/>
<rect x="439.5" y="146.5" width="8.6" height="4.6" fill="#807eee"/>
<rect x="447.5" y="146.5" width="16.6" height="4.6" fill="#7372ec"/>
<rect x="463.5" y="146.5" width="8.6" height="4.6" fill="#807eee"/>
<rect x="471.5" y="146.5" width="8.6" height="4.6" fill="#8d8bf0"/>
<rect x="479.5" y="146.5" width="40.6" height="4.6" fill="#9a98f1"/>
<rect x="519.5" y="146.5" width="4.6" height="4.6" fill="#a6a5f3"/>
<rect x="523.5" y="146.5" width="8.6" height="4.6" fill="#b3b2f5"/>
<rect x="531.5" y="146.5" width="4.6" height="4.6" fill="#c0bff6"/>
<rect x="535.5" y="146.5" width="4.6" height="4.6" fill="#ccccf8"/>
<rect x="539.5" y="146.5" width="8.6" height="4.6" fill="#d9d8fa"/>
<rect x="547.5" y="146.5" width="4.6" height="4.6" fill="#e6e5fc"/>
<rect x="551.5" y="146.5" width="8.6" height="4.6" fill="#f2f2fd"/>
<rect x="567.5" y="146.5" width="8.6" height="4.6" fill="#fef1f1"/>
<rect x="591.5" y="146.5" width="8.6" height="4.6" fill="#fef1f1"/>
<rect x="599.5" y="146.5" width="4.6" height="4.6" fill="#fce3e3"/>
<rect x="603.5" y="146.5" width="4.6" height="4.6" fill="#fbd5d5"/>
<rect x="607.5" y="146.5" width="8.6" height="4.6" fill="#f9c7c7"/>
<rect x="615.5" y="146.5" width="4.6" height="4.6" fill="#f8b8b8"/>
<rect x="619.5" y="146.5" width="16.6" height="4.6" fill="#f9c7c7"/>
<rect x="635.5" y="146.5" width="16.6" height="4.6" fill="#fbd5d5"/>
<rect x="651.5" y="146.5" width="8.6" height="4.6" fill="#fce3e3"/>
<rect x="391.5" y="150.5" width="28.6" height="4.6" fill="#e6e5fc"/>
<rect x="419.5" y="150.5" width="4.6" height="4.6" fill="#d9d8fa"/>
<rect x="423.5" y="150.5" width="4.6" height="4.6" fill="#ccccf8"/>
<rect x="427.5" y="150.5" width="4.6" height="4.6" fill="#b3b2f5"/>
<rect x="431.5" y="150.5" width="4.6" height="4.6" fill="#a6a5f3"/>
<rect x="435.5" y="150.5" width="4.6" height="4.6" fill="#9a98f1"/>
<rect x="439.5" y="150.5" width="4.6" height="4.6" fill="#8d8bf0"/>
<rect x="443.5" y="150.5" width="8.6" height="4.6" fill="#807eee"/>
<rect x="451.5" y="150.5" width="8.6" height="4.6" fill="#7372ec"/>
<rect x="459.5" y="150.5" width="8.6" height="4.6" fill="#807eee"/>
<rect x="467.5" y="150.5" width="4.6" height="4.6" fill="#8d8bf0"/>
<rect x="471.5" y="150.5" width="8.6" height="4.6" fill="#9a98f1"/>
<rect x="479.5" y="150.5" width="36.6" height="4.6" fill="#a6a5f3"/>
<rect x="515.5" y="150.5" width="4.6" height="4.6" fill="#b3b2f5"/>
<rect x="519.5" y="150.5" width="4.6" height="4.6" fill="#c0bff6"/>
<rect x="523.5" y="150.5" width="4.6" height="4.6" fill="#ccccf8"/>
<rect x="527.5" y="150.5" width="4.6" height="4.6" fill="#d9d8fa"/>
<rect x="531.5" y="150.5" width="8.6" height="4.6" fill="#e6e5fc"/>
<rect x="539.5" y="150.5" width="8.6" height="4.6" fill="#f2f2fd"/>
<rect x="559.5" y="150.5" width="20.6" height="4.6" fill="#fef1f1"/>
<rect x="591.5" y="150.5" width="8.6" height="4.6" fill="#fef1f1"/>
<rect x="599.5" y="150.5" width="16.6" height="4.6" fill="#fce3e3"/>
<rect x="615.5" y="150.5" width="32.6" height="4.6" fill="#fbd5d5"/>
<rect x="647.5" y="150.5" width="12.6" height="4.6" fill="#fce3e3"/>
<rect x="391.5" y="154.5" width="8.6" height="4.6" fill="#d9d8fa"/>
<rect x="399.5" y="154.5" width="12.6" height="4.6" fill="#e6e5fc"/>
<rect x="411.5" y="154.5" width="4.6" height="4.6" fill="#f2f2fd"/>
<rect x="415.5" y="154.5" width="4.6" height="4.6" fill="#e6e5fc"/>
<rect x="419.5" y="154.5" width="4.6" height="4.6" fill="#d9d8fa"/>
<rect x="423.5" y="154.5" width="4.6" height="4.6" fill="#ccccf8"/>
<rect x="427.5" y="154.5" width="4.6" height="4.6" fill="#c0bff6"/>
<rect x="431.5" y="154.5" width="4.6" height="4.6" fill="#b3b2f5"/>
<rect x="435.5" y="154.5" width="4.6" height="4.6" fill="#a6a5f3"/>
<rect x="439.5" y="154.5" width="4.6" height="4.6" fill="#9a98f1"/>
<rect x="443.5" y="154.5" width="4.6" height="4.6" fill="#8d8bf0"/>
<rect x="447.5" y="154.5" width="4.6" height="4.6" fill="#807eee"/>
<rect x="451.5" y="154.5" width="8.6" height="4.6" fill="#7372ec"/>
<rect x="459.5" y="154.5" width="4.6" height="4.6" fill="#807eee"/>
<rect x="463.5" y="154.5" width="4.6" height="4.6" fill="#8d8bf0"/>
<rect x="467.5" y="154.5" width="4.6" height="4.6" fill="#9a98f1"/>
<rect x="471.5" y="154.5" width="12.6" height="4.6" fill="#a6a5f3"/>
<rect x="483.5" y="154.5" width="12.6" height="4.6" fill="#b3b2f5"/>
<rect x="495.5" y="154.5" width="20.6" height="4.6" fill="#c0bff6"/>
<rect x="515.5" y="154.5" width="4.6" height="4.6" fill="#ccccf8"/>
<rect x="519.5" y="154.5" width="4.6" height="4.6" fill="#d9d8fa"/>
<rect x="523.5" y="154.5" width="4.6" height="4.6" fill="#e6e5fc"/>
<rect x="527.5" y="154.5" width="4.6" height="4.6" fill="#f2f2fd"/>
<rect x="539.5" y="154.5" width="16.6" height="4.6" fill="#fef1f1"/>
<rect x="555.5" y="154.5" width="20.6" height="4.6" fill="#fce3e3"/>
<rect x="575.5" y="154.5" width="48.6" height="4.6" fill="#fef1f1"/>
<rect x="623.5" y="154.5" width="36.6" height="4.6" fill="#fce3e3"/>
<rect x="391.5" y="158.5" width="8.6" height="4.6" fill="#d9d8fa"/>
<rect x="399.5" y="158.5" width="12.6" height="4.6" fill="#e6e5fc"/>
<rect x="411.5" y="158.5" width="8.6" height="4.6" fill="#f2f2fd"/>
<rect x="419.5" y="158.5" width="4.6" height="4.6" fill="#e6e5fc"/>
<rect x="423.5" y="158.5" width="4.6" height="4.6" fill="#d9d8fa"/>
<rect x="427.5" y="158.5" width="4.6" height="4.6" fill="#c0bff6"/>
<rect x="431.5" y="158.5" width="4.6" height="4.6" fill="#b3b2f5"/>
<rect x="435.5" y="158.5" width="4.6" height="4.6" fill="#a6a5f3"/>
<rect x="439.5" y="158.5" width="4.6" height="4.6" fill="#9a98f1"/>
<rect x="443.5" y="158.5" width="8.6" height="4.6" fill="#8d8bf0"/>
<rect x="451.5" y="158.5" width="8.6" height="4.6" fill="#807eee"/>
<rect x="459.5" y="158.5" width="4.6" height="4.6" fill="#8d8bf0"/>
<rect x="463.5" y="158.5" width="8.6" height="4.6" fill="#9a98f1"/>
<rect x="471.5" y="158.5" width="4.6" height="4.6" fill="#a6a5f3"/>
<rect x="475.5" y="158.5" width="12.6" height="4.6" fill="#b3b2f5"/>
<rect x="487.5" y="158.5" width="12.6" height="4.6" fill="#c0bff6"/>
<rect x="499.5" y="158.5" width="12.6" height="4.6" fill="#ccccf8"/>
<rect x="511.5" y="158.5" width="8.6" height="4.6" fill="#d9d8fa"/>
<rect x="519.5" y="158.5" width="4.6" height="4.6" fill="#e6e5fc"/>
<rect x="523.5" y="158.5" width="4.6" height="4.6" fill="#f2f2fd"/>
<rect x="531.5" y="158.5" width="8.6" height="4.6" fill="#fef1f1"/>
<rect x="539.5" y="158.5" width="16.6" height="4.6" fill="#fce3e3"/>
<rect x="555.5" y="158.5" width="24.6" height="4.6" fill="#fbd5d5"/>
<rect x="579.5" y="158.5" width="12.6" height="4.6" fill="#fce3e3"/>
<rect x="591.5" y="158.5" width="20.6" height="4.6" fill="#fef1f1"/>
<rect x="619.5" y="158.5" width="8.6" height="4.6" fill="#fef1f1"/>
<rect x="627.5" y="158.5" width="32.6" height="4.6" fill="#fce3e3"/>
<rect x="391.5" y="162.5" width="16.6" height="4.6" fill="#e6e5fc"/>
<rect x="407.5" y="162.5" width="12.6" height="4.6" fill="#f2f2fd"/>
<rect x="419.5" y="162.5" width="4.6" height="4.6" fill="#e6e5fc"/>
<rect x="423.5" y="162.5" width="4.6" height="4.6" fill="#d9d8fa"/>
<rect x="427.5" y="162.5" width="4.6" height="4.6" fill="#c0bff6"/>
<rect x="431.5" y="162.5" width="4.6" height="4.6" fill="#b3b2f5"/>
<rect x="435.5" y="162.5" width="4.6" height="4.6" fill="#a6a5f3"/>
<rect x="439.5" y="162.5" width="8.6" height="4.6" fill="#9a98f1"/>
<rect x="447.5" y="162.5" width="4.6" height="4.6" fill="#8d8bf0"/>
<rect x="451.5" y="162.5" width="8.6" height="4.6" fill="#807eee"/>
<rect x="459.5" y="162.5" width="4.6" height="4.6" fill="#8d8bf0"/>
<rect x="463.5" y="162.5" width="4.6" height="4.6" fill="#9a98f1"/>
<rect x="467.5" y="162.5" width="8.6" height="4.6" fill="#a6a5f3"/>
<rect x="475.5" y="162.5" width="8.6" height="4.6" fill="#b3b2f5"/>
<rect x="483.5" y="162.5" width="12.6" height="4.6" fill="#c0bff6"/>
<rect x="495.5" y="162.5" width="8.6" height="4.6" fill="#ccccf8"/>
<rect x="503.5" y="162.5" width="8.6" height="4.6" fill="#d9d8fa"/>
<rect x="511.5" y="162.5" width="4.6" height="4.6" fill="#e6e5fc"/>
<rect x="515.5" y="162.5" width="4.6" height="4.6" fill="#f2f2fd"/>
<rect x="527.5" y="162.5" width="4.6" height="4.6" fill="#fef1f1"/>
<rect x="531.5" y="162.5" width="8.6" height="4.6" fill="#fce3e3"/>
<rect x="539.5" y="162.5" width="16.6" height="4.6" fill="#fbd5d5"/>
<rect x="555.5" y="162.5" width="24.6" height="4.6" fill="#f9c7c7"/>
<rect x="579.5" y="162.5" width="12.6" height="4.6" fill="#fbd5d5"/>
<rect x="591.5" y="162.5" width="16.6" height="4.6" fill="#fce3e3"/>
<rect x="607.5" y="162.5" width="16.6" height="4.6" fill="#fef1f1"/>
<rect x="623.5" y="162.5" width="8.6" height="4.6" fill="#fce3e3"/>
<rect x="631.5" y="162.5" width="28.6" height="4.6" fill="#fbd5d5"/>
<rect x="391.5" y="166.5" width="4.6" height="4.6" fill="#e6e5fc"/>
<rect x="395.5" y="166.5" width="24.6" height="4.6" fill="#f2f2fd"/>
<rect x="419.5" y="166.5" width="4.6" height="4.6" fill="#e6e5fc"/>
<rect x="423.5" y="166.5" width="4.6" height="4.6" fill="#d9d8fa"/>
<rect x="427.5" y="166.5" width="4.6" height="4.6" fill="#c0bff6"/>
<rect x="431.5" y="166.5" width="4.6" height="4.6" fill="#b3b2f5"/>
<rect x="435.5" y="166.5" width="4.6" height="4.6" fill="#a6a5f3"/>
<rect x="439.5" y="166.5" width="8.6" height="4.6" fill="#9a98f1"/>
<rect x="447.5" y="166.5" width="12.6" height="4.6" fill="#8d8bf0"/>
<rect x="459.5" y="166.5" width="8.6" height="4.6" fill="#9a98f1"/>
<rect x="467.5" y="166.5" width="4.6" height="4.6" fill="#a6a5f3"/>
<rect x="471.5" y="166.5" width="8.6" height="4.6" fill="#b3b2f5"/>
<rect x="479.5" y="166.5" width="12.6" height="4.6" fill="#c0bff6"/>
<rect x="491.5" y="166.5" width="8.6" height="4.6" fill="#ccccf8"/>
<rect x="499.5" y="166.5" width="4.6" height="4.6" fill="#d9d8fa"/>
<rect x="503.5" y="166.5" width="8.6" height="4.6" fill="#e6e5fc"/>
<rect x="511.5" y="166.5" width="4.6" height="4.6" fill="#f2f2fd"/>
<rect x="519.5" y="166.5" width="8.6" height="4.6" fill="#fef1f1"/>
<rect x="527.5" y="166.5" width="4.6" height="4.6" fill="#fce3e3"/>
<rect x="531.5" y="166.5" width="8.6" height="4.6" fill="#fbd5d5"/>
<rect x="539.5" y="166.5" width="20.6" height="4.6" fill="#f9c7c7"/>
<rect x="559.5" y="166.5" width="20.6" height="4.6" fill="#f8b8b8"/>
<rect x="579.5" y="166.5" width="12.6" height="4.6" fill="#f9c7c7"/>
<rect x="591.5" y="166.5" width="12.6" height="4.6" fill="#fbd5d5"/>
<rect x="603.5" y="166.5" width="24.6" height="4.6" fill="#fce3e3"/>
<rect x="627.5" y="166.5" width="32.6" height="4.6" fill="#fbd5d5"/>
<rect x="391.5" y="170.5" width="28.6" height="4.6" fill="#f2f2fd"/>
<rect x="419.5" y="170.5" width="4.6" height="4.6" fill="#e6e5fc"/>
<rect x="423.5" y="170.5" width="4.6" height="4.6" fill="#d9d8fa"/>
<rect x="427.5" y="170.5" width="4.6" height="4.6" fill="#c0bff6"/>
<rect x="431.5" y="170.5" width="4.6" height="4.6" fill="#b3b2f5"/>
<rect x="435.5" y="170.5" width="8.6" height="4.6" fill="#a6a5f3"/>
<rect x="443.5" y="170.5" width="8.6" height="4.6" fill="#9a98f1"/>
<rect x="451.5" y="170.5" width="8.6" height="4.6" fill="#8d8bf0"/>
<rect x="459.5" y="170.5" width="4.6" height="4.6" fill="#9a98f1"/>
<rect x="463.5" y="170.5" width="8.6" height="4.6" fill="#a6a5f3"/>
<rect x="471.5" y="170.5" width="4.6" height="4.6" fill="#b3b2f5"/>
<rect x="475.5" y="170.5" width="12.6" height="4.6" fill="#c0bff6"/>
<rect x="487.5" y="170.5" width="8.6" height="4.6" fill="#ccccf8"/>
<rect x="495.5" y="170.5" width="4.6" height="4.6" fill="#d9d8fa"/>
<rect x="499.5" y="170.5" width="8.6" height="4.6" fill="#e6e5fc"/>
<rect x="507.5" y="170.5" width="4.6" height="4.6" fill="#f2f2fd"/>
<rect x="515.5" y="170.5" width="8.6" height="4.6" fill="#fef1f1"/>
<rect x="523.5" y="170.5" width="4.6" height="4.6" fill="#fce3e3"/>
<rect x="527.5" y="170.5" width="4.6" height="4.6" fill="#fbd5d5"/>
<rect x="531.5" y="170.5" width="8.6" height="4.6" fill="#f9c7c7"/>
<rect x="539.5" y="170.5" width="28.6" height="4.6" fill="#f8b8b8"/>
<rect x="567.5" y="170.5" width="12.6" height="4.6" fill="#f6aaaa"/>
<rect x="579.5" y="170.5" width="8.6" height="4.6" fill="#f8b8b8"/>
<rect x="587.5" y="170.5" width="12.6" height="4.6" fill="#f9c7c7"/>
<rect x="599.5" y="170.5" width="12.6" height="4.6" fill="#fbd5d5"/>
<rect x="611.5" y="170.5" width="8.6" height="4.6" fill="#fce3e3"/>
<rect x="619.5" y="170.5" width="12.6" height="4.6" fill="#fbd5d5"/>
<rect x="631.5" y="170.5" width="16.6" height="4.6" fill="#f9c7c7"/>
<rect x="647.5" y="170.5" width="12.6" height="4.6" fill="#fbd5d5"/>
<rect x="403.5" y="174.5" width="16.6" height="4.6" fill="#f2f2fd"/>
<rect x="419.5" y="174.5" width="4.6" height="4.6" fill="#e6e5fc"/>
<rect x="423.5" y="174.5" width="4.6" height="4.6" fill="#d9d8fa"/>
<rect x="427.5" y="174.5" width="4.6" height="4.6" fill="#c0bff6"/>
<rect x="431.5" y="174.5" width="4.6" height="4.6" fill="#b3b2f5"/>
<rect x="435.5" y="174.5" width="8.6" height="4.6" fill="#a6a5f3"/>
<rect x="443.5" y="174.5" width="8.6" height="4.6" fill="#9a98f1"/>
<rect x="451.5" y="174.5" width="4.6" height="4.6" fill="#8d8bf0"/>
<rect x="455.5" y="174.5" width="8.6" height="4.6" fill="#9a98f1"/>
<rect x="463.5" y="174.5" width="4.6" height="4.6" fill="#a6a5f3"/>
<rect x="467.5" y="174.5" width="4.6" height="4.6" fill="#b3b2f5"/>
<rect x="471.5" y="174.5" width="12.6" height="4.6" fill="#c0bff6"/>
<rect x="483.5" y="174.5" width="12.6" height="4.6" fill="#ccccf8"/>
<rect x="495.5" y="174.5" width="4.6" height="4.6" fill="#d9d8fa"/>
<rect x="499.5" y="174.5" width="4.6" height="4.6" fill="#e6e5fc"/>
<rect x="503.5" y="174.5" width="4.6" height="4.6" fill="#f2f2fd"/>
<rect x="511.5" y="174.5" width="4.6" height="4.6" fill="#fef1f1"/>
<rect x="515.5" y="174.5" width="8.6" height="4.6" fill="#fce3e3"/>
<rect x="523.5" y="174.5" width="4.6" height="4.6" fill="#fbd5d5"/>
<rect x="527.5" y="174.5" width="4.6" height="4.6" fill="#f9c7c7"/>
<rect x="531.5" y="174.5" width="12.6" height="4.6" fill="#f8b8b8"/>
<rect x="543.5" y="174.5" width="44.6" height="4.6" fill="#f6aaaa"/>
<rect x="587.5" y="174.5" width="12.6" height="4.6" fill="#f8b8b8"/>
<rect x="599.5" y="174.5" width="12.6" height="4.6" fill="#f9c7c7"/>
<rect x="611.5" y="174.5" width="8.6" height="4.6" fill="#fbd5d5"/>
<rect x="619.5" y="174.5" width="12.6" height="4.6" fill="#f9c7c7"/>
<rect x="631.5" y="174.5" width="8.6" height="4.6" fill="#f8b8b8"/>
<rect x="639.5" y="174.5" width="12.6" height="4.6" fill="#f9c7c7"/>
<rect x="651.5" y="174.5" width="8.6" height="4.6" fill="#fbd5d5"/>
<rect x="399.5" y="178.5" width="16.6" height="4.6" fill="#f2f2fd"/>
<rect x="415.5" y="178.5" width="4.6" height="4.6" fill="#e6e5fc"/>
<rect x="419.5" y="178.5" width="4.6" height="4.6" fill="#d9d8fa"/>
<rect x="423.5" y="178.5" width="4.6" height="4.6" fill="#ccccf8"/>
<rect x="427.5" y="178.5" width="4.6" height="4.6" fill="#c0bff6"/>
<rect x="431.5" y="178.5" width="4.6" height="4.6" fill="#b3b2f5"/>
<rect x="435.5" y="178.5" width="4.6" height="4.6" fill="#a6a5f3"/>
<rect x="439.5" y="178.5" width="12.6" height="4.6" fill="#9a98f1"/>
<rect x="451.5" y="178.5" width="4.6" height="4.6" fill="#8d8bf0"/>
<rect x="455.5" y="178.5" width="8.6" height="4.6" fill="#9a98f1"/>
<rect x="463.5" y="178.5" width="4.6" height="4.6" fill="#a6a5f3"/>
<rect x="467.5" y="178.5" width="4.6" height="4.6" fill="#b3b2f5"/>
<rect x="471.5" y="178.5" width="8.6" height="4.6" fill="#c0bff6"/>
<rect x="479.5" y="178.5" width="12.6" height="4.6" fill="#ccccf8"/>
<rect x="491.5" y="178.5" width="8.6" height="4.6" fill="#d9d8fa"/>
<rect x="499.5" y="178.5" width="4.6" height="4.6" fill="#f2f2fd"/>
<rect x="507.5" y="178.5" width="8.6" height="4.6" fill="#fef1f1"/>
<rect x="515.5" y="178.5" width="4.6" height="4.6" fill="#fce3e3"/>
<rect x="519.5" y="178.5" width="4.6" height="4.6" fill="#fbd5d5"/>
<rect x="523.5" y="178.5" width="8.6" height="4.6" fill="#f9c7c7"/>
<rect x="531.5" y="178.5" width="4.6" height="4.6" fill="#f8b8b8"/>
<rect x="535.5" y="178.5" width="36.6" height="4.6" fill="#f6aaaa"/>
<rect x="571.5" y="178.5" width="8.6" height="4.6" fill="#f59c9c"/>
<rect x="579.5" y="178.5" width="8.6" height="4.6" fill="#f6aaaa"/>
<rect x="587.5" y="178.5" width="12.6" height="4.6" fill="#f8b8b8"/>
<rect x="599.5" y="178.5" width="32.6" height="4.6" fill="#f9c7c7"/>
<rect x="631.5" y="178.5" width="8.6" height="4.6" fill="#f8b8b8"/>
<rect x="639.5" y="178.5" width="12.6" height="4.6" fill="#f9c7c7"/>
<rect x="651.5" y="178.5" width="8.6" height="4.6" fill="#fbd5d5"/>
<rect x="391.5" y="182.5" width="16.6" height="4.6" fill="#f2f2fd"/>
<rect x="407.5" y="182.5" width="12.6" height="4.6" fill="#e6e5fc"/>
<rect x="419.5" y="182.5" width="4.6" height="4.6" fill="#d9d8fa"/>
<rect x="423.5" y="182.5" width="4.6" height="4.6" fill="#c0bff6"/>
<rect x="427.5" y="182.5" width="4.6" height="4.6" fill="#b3b2f5"/>
<rect x="431.5" y="182.5" width="4.6" height="4.6" fill="#a6a5f3"/>
<rect x="435.5" y="182.5" width="8.6" height="4.6" fill="#9a98f1"/>
<rect x="443.5" y="182.5" width="16.6" height="4.6" fill="#8d8bf0"/>
<rect x="459.5" y="182.5" width="4.6" height="4.6" fill="#9a98f1"/>
<rect x="463.5" y="182.5" width="4.6" height="4.6" fill="#a6a5f3"/>
<rect x="467.5" y="182.5" width="4.6" height="4.6" fill="#b3b2f5"/>
<rect x="471.5" y="182.5" width="8.6" height="4.6" fill="#c0bff6"/>
<rect x="479.5" y="182.5" width="12.6" height="4.6" fill="#ccccf8"/>
<rect x="491.5" y="182.5" width="4.6" height="4.6" fill="#d9d8fa"/>
<rect x="495.5" y="182.5" width="4.6" height="4.6" fill="#e6e5fc"/>
<rect x="499.5" y="182.5" width="4.6" height="4.6" fill="#f2f2fd"/>
<rect x="507.5" y="182.5" width="4.6" height="4.6" fill="#fef1f1"/>
<rect x="511.5" y="182.5" width="4.6" height="4.6" fill="#fce3e3"/>
<rect x="515.5" y="182.5" width="8.6" height="4.6" fill="#fbd5d5"/>
<rect x="523.5" y="182.5" width="4.6" height="4.6" fill="#f9c7c7"/>
<rect x="527.5" y="182.5" width="4.6" height="4.6" fill="#f8b8b8"/>
<rect x="531.5" y="182.5" width="16.6" height="4.6" fill="#f6aaaa"/>
<rect x="547.5" y="182.5" width="20.6" height="4.6" fill="#f59c9c"/>
<rect x="567.5" y="182.5" width="16.6" height="4.6" fill="#f6aaaa"/>
<rect x="583.5" y="182.5" width="8.6" height="4.6" fill="#f8b8b8"/>
<rect x="591.5" y="182.5" width="16.6" height="4.6" fill="#f9c7c7"/>
<rect x="607.5" y="182.5" width="16.6" height="4.6" fill="#fbd5d5"/>
<rect x="623.5" y="182.5" width="24.6" height="4.6" fill="#f9c7c7"/>
<rect x="647.5" y="182.5" width="12.6" height="4.6" fill="#fbd5d5"/>
<rect x="391.5" y="186.5" width="20.6" height="4.6" fill="#e6e5fc"/>
<rect x="411.5" y="186.5" width="8.6" height="4.6" fill="#d9d8fa"/>
<rect x="419.5" y="186.5" width="4.6" height="4.6" fill="#ccccf8"/>
<rect x="423.5" y="186.5" width="4.6" height="4.6" fill="#c0bff6"/>
<rect x="427.5" y="186.5" width="4.6" height="4.6" fill="#a6a5f3"/>
<rect x="431.5" y="186.5" width="4.6" height="4.6" fill="#9a98f1"/>
<rect x="435.5" y="186.5" width="16.6" height="4.6" fill="#8d8bf0"/>
<rect x="451.5" y="186.5" width="4.6" height="4.6" fill="#807eee"/>
<rect x="455.5" y="186.5" width="4.6" height="4.6" fill="#8d8bf0"/>
<rect x="459.5" y="186.5" width="4.6" height="4.6" fill="#9a98f1"/>
<rect x="463.5" y="186.5" width="4.6" height="4.6" fill="#a6a5f3"/>
<rect x="467.5" y="186.5" width="4.6" height="4.6" fill="#b3b2f5"/>
<rect x="471.5" y="186.5" width="8.6" height="4.6" fill="#c0bff6"/>
<rect x="479.5" y="186.5" width="8.6" height="4.6" fill="#ccccf8"/>
<rect x="487.5" y="186.5" width="8.6" height="4.6" fill="#d9d8fa"/>
<rect x="495.5" y="186.5" width="4.6" height="4.6" fill="#e6e5fc"/>
<rect x="499.5" y="186.5" width="4.6" height="4.6" fill="#f2f2fd"/>
<rect x="507.5" y="186.5" width="4.6" height="4.6" fill="#fef1f1"/>
<rect x="511.5" y="186.5" width="4.6" height="4.6" fill="#fce3e3"/>
<rect x="515.5" y="186.5" width="4.6" height="4.6" fill="#fbd5d5"/>
<rect x="519.5" y="186.5" width="8.6" height="4.6" fill="#f9c7c7"/>
<rect x="527.5" y="186.5" width="4.6" height="4.6" fill="#f8b8b8"/>
<rect x="531.5" y="186.5" width="12.6" height="4.6" fill="#f6aaaa"/>
<rect x="543.5" y="186.5" width="28.6" height="4.6" fill="#f59c9c"/>
<rect x="571.5" y="186.5" width="12.6" height="4.6" fill="#f6aaaa"/>
<rect x="583.5" y="186.5" width="4.6" height="4.6" fill="#f8b8b8"/>
<rect x="587.5" y="186.5" width="8.6" height="4.6" fill="#f9c7c7"/>
<rect x="595.5" y="186.5" width="32.6" height="4.6" fill="#fbd5d5"/>
<rect x="627.5" y="186.5" width="16.6" height="4.6" fill="#f9c7c7"/>
<rect x="643.5" y="186.5" width="8.6" height="4.6" fill="#fbd5d5"/>
<rect x="651.5" y="186.5" width="8.6" height="4.6" fill="#fce3e3"/>
<rect x="391.5" y="190.5" width="8.6" height="4.6" fill="#e6e5fc"/>
<rect x="399.5" y="190.5" width="16.6" height="4.6" fill="#d9d8fa"/>
<rect x="415.5" y="190.5" width="4.6" height="4.6" fill="#ccccf8"/>
<rect x="419.5" y="190.5" width="4.6" height="4.6" fill="#c0bff6"/>
<rect x="423.5" y="190.5" width="4.6" height="4.6" fill="#b3b2f5"/>
<rect x="427.5" y="190.5" width="4.6" height="4.6" fill="#a6a5f3"/>
<rect x="431.5" y="190.5" width="4.6" height="4.6" fill="#8d8bf0"/>
<rect x="435.5" y="190.5" width="24.6" height="4.6" fill="#807eee"/>
<rect x="459.5" y="190.5" width="4.6" height="4.6" fill="#9a98f1"/>
<rect x="463.5" y="190.5" width="4.6" height="4.6" fill="#a6a5f3"/>
<rect x="467.5" y="190.5" width="4.6" height="4.6" fill="#b3b2f5"/>
<rect x="471.5" y="190.5" width="8.6" height="4.6" fill="#c0bff6"/>
<rect x="479.5" y="190.5" width="8.6" height="4.6" fill="#ccccf8"/>
<rect x="487.5" y="190.5" width="8.6" height="4.6" fill="#d9d8fa"/>
<rect x="495.5" y="190.5" width="4.6" height="4.6" fill="#e6e5fc"/>
<rect x="499.5" y="190.5" width="4.6" height="4.6" fill="#f2f2fd"/>
<rect x="507.5" y="190.5" width="4.6" height="4.6" fill="#fef1f1"/>
<rect x="511.5" y="190.5" width="4.6" height="4.6" fill="#fce3e3"/>
<rect x="515.5" y="190.5" width="4.6" height="4.6" fill="#fbd5d5"/>
<rect x="519.5" y="190.5" width="4.6" height="4.6" fill="#f9c7c7"/>
<rect x="523.5" y="190.5" width="4.6" height="4.6" fill="#f8b8b8"/>
<rect x="527.5" y="190.5" width="12.6" height="4.6" fill="#f6aaaa"/>
<rect x="539.5" y="190.5" width="28.6" height="4.6" fill="#f59c9c"/>
<rect x="567.5" y="190.5" width="12.6" height="4.6" fill="#f6aaaa"/>
<rect x="579.5" y="190.5" width="8.6" height="4.6" fill="#f8b8b8"/>
<rect x="587.5" y="190.5" width="4.6" height="4.6" fill="#f9c7c7"/>
<rect x="591.5" y="190.5" width="40.6" height="4.6" fill="#fbd5d5"/>
<rect x="631.5" y="190.5" width="8.6" height="4.6" fill="#f9c7c7"/>
<rect x="639.5" y="190.5" width="8.6" height="4.6" fill="#fbd5d5"/>
<rect x="647.5" y="190.5" width="12.6" height="4.6" fill="#fce3e3"/>
<rect x="391.5" y="194.5" width="12.6" height="4.6" fill="#d9d8fa"/>
<rect x="403.5" y="194.5" width="12.6" height="4.6" fill="#ccccf8"/>
<rect x="415.5" y="194.5" width="4.6" height="4.6" fill="#c0bff6"/>
<rect x="419.5" y="194.5" width="4.6" height="4.6" fill="#b3b2f5"/>
<rect x="423.5" y="194.5" width="4.6" height="4.6" fill="#a6a5f3"/>
<rect x="427.5" y="194.5" width="4.6" height="4.6" fill="#9a98f1"/>
<rect x="431.5" y="194.5" width="28.6" height="4.6" fill="#807eee"/>
<rect x="459.5" y="194.5" width="4.6" height="4.6" fill="#8d8bf0"/>
<rect x="463.5" y="194.5" width="4.6" height="4.6" fill="#9a98f1"/>
<rect x="467.5" y="194.5" width="4.6" height="4.6" fill="#b3b2f5"/>
<rect x="471.5" y="194.5" width="8.6" height="4.6" fill="#c0bff6"/>
<rect x="479.5" y="194.5" width="4.6" height="4.6" fill="#ccccf8"/>
<rect x="483.5" y="194.5" width="8.6" height="4.6" fill="#d9d8fa"/>
<rect x="491.5" y="194.5" width="8.6" height="4.6" fill="#e6e5fc"/>
<rect x="499.5" y="194.5" width="4.6" height="4.6" fill="#f2f2fd"/>
<rect x="507.5" y="194.5" width="4.6" height="4.6" fill="#fef1f1"/>
<rect x="511.5" y="194.5" width="4.6" height="4.6" fill="#fce3e3"/>
<rect x="515.5" y="194.5" width="4.6" height="4.6" fill="#fbd5d5"/>
<rect x="519.5" y="194.5" width="4.6" height="4.6" fill="#f9c7c7"/>
<rect x="523.5" y="194.5" width="4.6" height="4.6" fill="#f8b8b8"/>
<rect x="527.5" y="194.5" width="8.6" height="4.6" fill="#f6aaaa"/>
<rect x="535.5" y="194.5" width="32.6" height="4.6" fill="#f59c9c"/>
<rect x="567.5" y="194.5" width="12.6" height="4.6" fill="#f6aaaa"/>
<rect x="579.5" y="194.5" width="4.6" height="4.6" fill="#f8b8b8"/>
<rect x="583.5" y="194.5" width="4.6" height="4.6" fill="#f9c7c7"/>
<rect x="587.5" y="194.5" width="8.6" height="4.6" fill="#fbd5d5"/>
<rect x="595.5" y="194.5" width="24.6" height="4.6" fill="#fce3e3"/>
<rect x="619.5" y="194.5" width="24.6" height="4.6" fill="#fbd5d5"/>
<rect x="643.5" y="194.5" width="8.6" height="4.6" fill="#fce3e3"/>
<rect x="651.5" y="194.5" width="8.6" height="4.6" fill="#fef1f1"/>
<rect x="391.5" y="198.5" width="16.6" height="4.6" fill="#ccccf8"/>
<rect x="407.5" y="198.5" width="8.6" height="4.6" fill="#c0bff6"/>
<rect x="415.5" y="198.5" width="4.6" height="4.6" fill="#b3b2f5"/>
<rect x="419.5" y="198.5" width="4.6" height="4.6" fill="#a6a5f3"/>
<rect x="423.5" y="198.5" width="4.6" height="4.6" fill="#9a98f1"/>
<rect x="427.5" y="198.5" width="4.6" height="4.6" fill="#8d8bf0"/>
<rect x="431.5" y="198.5" width="4.6" height="4.6" fill="#807eee"/>
<rect x="435.5" y="198.5" width="20.6" height="4.6" fill="#7372ec"/>
<rect x="455.5" y="198.5" width="4.6" height="4.6" fill="#807eee"/>
<rect x="459.5" y="198.5" width="4.6" height="4.6" fill="#8d8bf0"/>
<rect x="463.5" y="198.5" width="4.6" height="4.6" fill="#9a98f1"/>
<rect x="467.5" y="198.5" width="4.6" height="4.6" fill="#b3b2f5"/>
<rect x="471.5" y="198.5" width="8.6" height="4.6" fill="#c0bff6"/>
<rect x="479.5" y="198.5" width="4.6" height="4.6" fill="#ccccf8"/>
<rect x="483.5" y="198.5" width="8.6" height="4.6" fill="#d9d8fa"/>
<rect x="491.5" y="198.5" width="4.6" height="4.6" fill="#e6e5fc"/>
<rect x="495.5" y="198.5" width="4.6" height="4.6" fill="#f2f2fd"/>
<rect x="507.5" y="198.5" width="4.6" height="4.6" fill="#fef1f1"/>
<rect x="511.5" y="198.5" width="4.6" height="4.6" fill="#fce3e3"/>
<rect x="515.5" y="198.5" width="4.6" height="4.6" fill="#fbd5d5"/>
<rect x="519.5" y="198.5" width="4.6" height="4.6" fill="#f9c7c7"/>
<rect x="523.5" y="198.5" width="4.6" height="4.6" fill="#f8b8b8"/>
<rect x="527.5" y="198.5" width="8.6" height="4.6" fill="#f6aaaa"/>
<rect x="535.5" y="198.5" width="32.6" height="4.6" fill="#f59c9c"/>
<rect x="567.5" y="198.5" width="12.6" height="4.6" fill="#f6aaaa"/>
<rect x="579.5" y="198.5" width="4.6" height="4.6" fill="#f8b8b8"/>
<rect x="583.5" y="198.5" width="4.6" height="4.6" fill="#f9c7c7"/>
<rect x="587.5" y="198.5" width="4.6" height="4.6" fill="#fbd5d5"/>
<rect x="591.5" y="198.5" width="36.6" height="4.6" fill="#fce3e3"/>
<rect x="627.5" y="198.5" width="12.6" height="4.6" fill="#fbd5d5"/>
<rect x="639.5" y="198.5" width="8.6" height="4.6" fill="#fce3e3"/>
<rect x="647.5" y="198.5" width="12.6" height="4.6" fill="#fef1f1"/>
<rect x="391.5" y="202.5" width="12.6" height="4.6" fill="#ccccf8"/>
<rect x="403.5" y="202.5" width="12.6" height="4.6" fill="#c0bff6"/>
<rect x="415.5" y="202.5" width="4.6" height="4.6" fill="#b3b2f5"/>
<rect x="419.5" y="202.5" width="4.6" height="4.6" fill="#a6a5f3"/>
<rect x="423.5" y="202.5" width="4.6" height="4.6" fill="#9a98f1"/>
<rect x="427.5" y="202.5" width="4.6" height="4.6" fill="#8d8bf0"/>
<rect x="431.5" y="202.5" width="4.6" height="4.6" fill="#807eee"/>
<rect x="435.5" y="202.5" width="8.6" height="4.6" fill="#7372ec"/>
<rect x="443.5" y="202.5" width="16.6" height="4.6" fill="#807eee"/>
<rect x="459.5" y="202.5" width="4.6" height="4.6" fill="#9a98f1"/>
<rect x="463.5" y="202.5" width="4.6" height="4.6" fill="#a6a5f3"/>
<rect x="467.5" y="202.5" width="4.6" height="4.6" fill="#b3b2f5"/>
<rect x="471.5" y="202.5" width="8.6" height="4.6" fill="#c0bff6"/>
<rect x="479.5" y="202.5" width="4.6" height="4.6" fill="#ccccf8"/>
<rect x="483.5" y="202.5" width="8.6" height="4.6" fill="#d9d8fa"/>
<rect x="491.5" y="202.5" width="4.6" height="4.6" fill="#e6e5fc"/>
<rect x="495.5" y="202.5" width="4.6" height="4.6" fill="#f2f2fd"/>
<rect x="507.5" y="202.5" width="4.6" height="4.6" fill="#fef1f1"/>
<rect x="511.5" y="202.5" width="4.6" height="4.6" fill="#fce3e3"/>
<rect x="515.5" y="202.5" width="4.6" height="4.6" fill="#fbd5d5"/>
<rect x="519.5" y="202.5" width="4.6" height="4.6" fill="#f9c7c7"/>
<rect x="523.5" y="202.5" width="4.6" height="4.6" fill="#f8b8b8"/>
<rect x="527.5" y="202.5" width="8.6" height="4.6" fill="#f6aaaa"/>
<rect x="535.5" y="202.5" width="28.6" height="4.6" fill="#f59c9c"/>
<rect x="563.5" y="202.5" width="12.6" height="4.6" fill="#f6aaaa"/>
<rect x="575.5" y="202.5" width="8.6" height="4.6" fill="#f8b8b8"/>
<rect x="583.5" y="202.5" width="4.6" height="4.6" fill="#f9c7c7"/>
<rect x="587.5" y="202.5" width="4.6" height="4.6" fill="#fbd5d5"/>
<rect x="591.5" y="202.5" width="20.6" height="4.6" fill="#fce3e3"/>
<rect x="611.5" y="202.5" width="4.6" height="4.6" fill="#fef1f1"/>
<rect x="615.5" y="202.5" width="24.6" height="4.6" fill="#fce3e3"/>
<rect x="639.5" y="202.5" width="8.6" height="4.6" fill="#fef1f1"/>
<rect x="391.5" y="206.5" width="8.6" height="4.6" fill="#ccccf8"/>
<rect x="399.5" y="206.5" width="12.6" height="4.6" fill="#c0bff6"/>
<rect x="411.5" y="206.5" width="8.6" height="4.6" fill="#b3b2f5"/>
<rect x="419.5" y="206.5" width="4.6" height="4.6" fill="#a6a5f3"/>
<rect x="423.5" y="206.5" width="4.6" height="4.6" fill="#9a98f1"/>
<rect x="427.5" y="206.5" width="4.6" height="4.6" fill="#8d8bf0"/>
<rect x="431.5" y="206.5" width="4.6" height="4.6" fill="#807eee"/>
<rect x="435.5" y="206.5" width="4.6" height="4.6" fill="#7372ec"/>
<rect x="439.5" y="206.5" width="16.6" height="4.6" fill="#807eee"/>
<rect x="455.5" y="206.5" width="4.6" height="4.6" fill="#8d8bf0"/>
<rect x="459.5" y="206.5" width="4.6" height="4.6" fill="#9a98f1"/>
<rect x="463.5" y="206.5" width="4.6" height="4.6" fill="#a6a5f3"/>
<rect x="467.5" y="206.5" width="4.6" height="4.6" fill="#b3b2f5"/>
<rect x="471.5" y="206.5" width="8.6" height="4.6" fill="#c0bff6"/>
<rect x="479.5" y="206.5" width="4.6" height="4.6" fill="#ccccf8"/>
<rect x="483.5" y="206.5" width="4.6" height="4.6" fill="#d9d8fa"/>
<rect x="487.5" y="206.5" width="8.6" height="4.6" fill="#e6e5fc"/>
<rect x="495.5" y="206.5" width="4.6" height="4.6" fill="#f2f2fd"/>
<rect x="503.5" y="206.5" width="8.6" height="4.6" fill="#fef1f1"/>
<rect x="511.5" y="206.5" width="4.6" height="4.6" fill="#fce3e3"/>
<rect x="515.5" y="206.5" width="4.6" height="4.6" fill="#fbd5d5"/>
<rect x="519.5" y="206.5" width="4.6" height="4.6" fill="#f9c7c7"/>
<rect x="523.5" y="206.5" width="4.6" height="4.6" fill="#f8b8b8"/>
<rect x="527.5" y="206.5" width="8.6" height="4.6" fill="#f6aaaa"/>
<rect x="535.5" y="206.5" width="24.6" height="4.6" fill="#f59c9c"/>
<rect x="559.5" y="206.5" width="16.6" height="4.6" fill="#f6aaaa"/>
<rect x="575.5" y="206.5" width="8.6" height="4.6" fill="#f8b8b8"/>
<rect x="583.5" y="206.5" width="4.6" height="4.6" fill="#f9c7c7"/>
<rect x="587.5" y="206.5" width="4.6" height="4.6" fill="#fbd5d5"/>
<rect x="591.5" y="206.5" width="12.6" height="4.6" fill="#fce3e3"/>
<rect x="603.5" y="206.5" width="40.6" height="4.6" fill="#fef1f1"/>
<rect x="651.5" y="206.5" width="8.6" height="4.6" fill="#f2f2fd"/>
<rect x="391.5" y="210.5" width="16.6" height="4.6" fill="#c0bff6"/>
<rect x="407.5" y="210.5" width="8.6" height="4.6" fill="#b3b2f5"/>
<rect x="415.5" y="210.5" width="8.6" height="4.6" fill="#a6a5f3"/>
<rect x="423.5" y="210.5" width="4.6" height="4.6" fill="#9a98f1"/>
<rect x="427.5" y="210.5" width="4.6" height="4.6" fill="#8d8bf0"/>
<rect x="431.5" y="210.5" width="4.6" height="4.6" fill="#807eee"/>
<rect x="435.5" y="210.5" width="4.6" height="4.6" fill="#7372ec"/>
<rect x="439.5" y="210.5" width="12.6" height="4.6" fill="#807eee"/>
<rect x="451.5" y="210.5" width="8.6" height="4.6" fill="#8d8bf0"/>
<rect x="459.5" y="210.5" width="4.6" height="4.6" fill="#9a98f1"/>
<rect x="463.5" y="210.5" width="4.6" height="4.6" fill="#a6a5f3"/>
<rect x="467.5" y="210.5" width="4.6" height="4.6" fill="#b3b2f5"/>
<rect x="471.5" y="210.5" width="8.6" height="4.6" fill="#c0bff6"/>
<rect x="479.5" y="210.5" width="4.6" height="4.6" fill="#ccccf8"/>
<rect x="483.5" y="210.5" width="4.6" height="4.6" fill="#d9d8fa"/>
<rect x="487.5" y="210.5" width="8.6" height="4.6" fill="#e6e5fc"/>
<rect x="495.5" y="210.5" width="4.6" height="4.6" fill="#f2f2fd"/>
<rect x="503.5" y="210.5" width="8.6" height="4.6" fill="#fef1f1"/>
<rect x="511.5" y="210.5" width="4.6" height="4.6" fill="#fce3e3"/>
<rect x="515.5" y="210.5" width="4.6" height="4.6" fill="#fbd5d5"/>
<rect x="519.5" y="210.5" width="4.6" height="4.6" fill="#f9c7c7"/>
<rect x="523.5" y="210.5" width="4.6" height="4.6" fill="#f8b8b8"/>
<rect x="527.5" y="210.5" width="8.6" height="4.6" fill="#f6aaaa"/>
<rect x="535.5" y="210.5" width="24.6" height="4.6" fill="#f59c9c"/>
<rect x="559.5" y="210.5" width="16.6" height="4.6" fill="#f6aaaa"/>
<rect x="575.5" y="210.5" width="4.6" height="4.6" fill="#f8b8b8"/>
<rect x="579.5" y="210.5" width="8.6" height="4.6" fill="#f9c7c7"/>
<rect x="587.5" y="210.5" width="4.6" height="4.6" fill="#fbd5d5"/>
<rect x="591.5" y="210.5" width="12.6" height="4.6" fill="#fce3e3"/>
<rect x="603.5" y="210.5" width="36.6" height="4.6" fill="#fef1f1"/>
<rect x="647.5" y="210.5" width="4.6" height="4.6" fill="#f2f2fd"/>
<rect x="651.5" y="210.5" width="8.6" height="4.6" fill="#e6e5fc"/>
<rect x="391.5" y="214.5" width="12.6" height="4.6" fill="#c0bff6"/>
<rect x="403.5" y="214.5" width="12.6" height="4.6" fill="#b3b2f5"/>
<rect x="415.5" y="214.5" width="4.6" height="4.6" fill="#a6a5f3"/>
<rect x="419.5" y="214.5" width="4.6" height="4.6" fill="#9a98f1"/>
<rect x="423.5" y="214.5" width="8.6" height="4.6" fill="#8d8bf0"/>
<rect x="431.5" y="214.5" width="4.6" height="4.6" fill="#807eee"/>
<rect x="435.5" y="214.5" width="4.6" height="4.6" fill="#7372ec"/>
<rect x="439.5" y="214.5" width="8.6" height="4.6" fill="#807eee"/>
<rect x="447.5" y="214.5" width="8.6" height="4.6" fill="#8d8bf0"/>
<rect x="455.5" y="214.5" width="8.6" height="4.6" fill="#9a98f1"/>
<rect x="463.5" y="214.5" width="4.6" height="4.6" fill="#a6a5f3"/>
<rect x="467.5" y="214.5" width="4.6" height="4.6" fill="#b3b2f5"/>
<rect x="471.5" y="214.5" width="8.6" height="4.6" fill="#c0bff6"/>
<rect x="479.5" y="214.5" width="4.6" height="4.6" fill="#ccccf8"/>
<rect x="483.5" y="214.5" width="4.6" height="4.6" fill="#d9d8fa"/>
<rect x="487.5" y="214.5" width="4.6" height="4.6" fill="#e6e5fc"/>
<rect x="491.5" y="214.5" width="8.6" height="4.6" fill="#f2f2fd"/>
<rect x="503.5" y="214.5" width="8.6" height="4.6" fill="#fef1f1"/>
<rect x="511.5" y="214.5" width="4.6" height="4.6" fill="#fce3e3"/>
<rect x="515.5" y="214.5" width="4.6" height="4.6" fill="#fbd5d5"/>
<rect x="519.5" y="214.5" width="4.6" height="4.6" fill="#f9c7c7"/>
<rect x="523.5" y="214.5" width="4.6" height="4.6" fill="#f8b8b8"/>
<rect x="527.5" y="214.5" width="8.6" height="4.6" fill="#f6aaaa"/>
<rect x="535.5" y="214.5" width="24.6" height="4.6" fill="#f59c9c"/>
<rect x="559.5" y="214.5" width="16.6" height="4.6" fill="#f6aaaa"/>
<rect x="575.5" y="214.5" width="4.6" height="4.6" fill="#f8b8b8"/>
<rect x="579.5" y="214.5" width="8.6" height="4.6" fill="#f9c7c7"/>
<rect x="587.5" y="214.5" width="8.6" height="4.6" fill="#fbd5d5"/>
<rect x="595.5" y="214.5" width="8.6" height="4.6" fill="#fce3e3"/>
<rect x="603.5" y="214.5" width="8.6" height="4.6" fill="#fef1f1"/>
<rect x="639.5" y="214.5" width="8.6" height="4.6" fill="#f2f2fd"/>
<rect x="647.5" y="214.5" width="4.6" height="4.6" fill="#e6e5fc"/>
<rect x="651.5" y="214.5" width="8.6" height="4.6" fill="#d9d8fa"/>
<rect x="391.5" y="218.5" width="12.6" height="4.6" fill="#c0bff6"/>
<rect x="403.5" y="218.5" width="8.6" height="4.6" fill="#b3b2f5"/>
<rect x="411.5" y="218.5" width="8.6" height="4.6" fill="#a6a5f3"/>
<rect x="419.5" y="218.5" width="4.6" height="4.6" fill="#9a98f1"/>
<rect x="423.5" y="218.5" width="8.6" height="4.6" fill="#8d8bf0"/>
<rect x="431.5" y="218.5" width="4.6" height="4.6" fill="#807eee"/>
<rect x="435.5" y="218.5" width="4.6" height="4.6" fill="#7372ec"/>
<rect x="439.5" y="218.5" width="8.6" height="4.6" fill="#807eee"/>
<rect x="447.5" y="218.5" width="8.6" height="4.6" fill="#8d8bf0"/>
<rect x="455.5" y="218.5" width="4.6" height="4.6" fill="#9a98f1"/>
<rect x="459.5" y="218.5" width="8.6" height="4.6" fill="#a6a5f3"/>
<rect x="467.5" y="218.5" width="4.6" height="4.6" fill="#b3b2f5"/>
<rect x="471.5" y="218.5" width="8.6" height="4.6" fill="#c0bff6"/>
<rect x="479.5" y="218.5" width="4.6" height="4.6" fill="#ccccf8"/>
<rect x="483.5" y="218.5" width="4.6" height="4.6" fill="#d9d8fa"/>
<rect x="487.5" y="218.5" width="4.6" height="4.6" fill="#e6e5fc"/>
<rect x="491.5" y="218.5" width="8.6" height="4.6" fill="#f2f2fd"/>
<rect x="503.5" y="218.5" width="4.6" height="4.6" fill="#fef1f1"/>
<rect x="507.5" y="218.5" width="8.6" height="4.6" fill="#fce3e3"/>
<rect x="515.5" y="218.5" width="4.6" height="4.6" fill="#fbd5d5"/>
<rect x="519.5" y="218.5" width="4.6" height="4.6" fill="#f9c7c7"/>
<rect x="523.5" y="218.5" width="4.6" height="4.6" fill="#f8b8b8"/>
<rect x="527.5" y="218.5" width="8.6" height="4.6" fill="#f6aaaa"/>
<rect x="535.5" y="218.5" width="24.6" height="4.6" fill="#f59c9c"/>
<rect x="559.5" y="218.5" width="12.6" height="4.6" fill="#f6aaaa"/>
<rect x="571.5" y="218.5" width="8.6" height="4.6" fill="#f8b8b8"/>
<rect x="579.5" y="218.5" width="8.6" height="4.6" fill="#f9c7c7"/>
<rect x="587.5" y="218.5" width="8.6" height="4.6" fill="#fbd5d5"/>
<rect x="595.5" y="218.5" width="8.6" height="4.6" fill="#fce3e3"/>
<rect x="603.5" y="218.5" width="8.6" height="4.6" fill="#fef1f1"/>
<rect x="639.5" y="218.5" width="4.6" height="4.6" fill="#f2f2fd"/>
<rect x="643.5" y="218.5" width="8.6" height="4.6" fill="#e6e5fc"/>
<rect x="651.5" y="218.5" width="8.6" height="4.6" fill="#d9d8fa"/>
<rect x="391.5" y="222.5" width="12.6" height="4.6" fill="#c0bff6"/>
<rect x="403.5" y="222.5" width="8.6" height="4.6" fill="#b3b2f5"/>
<rect x="411.5" y="222.5" width="8.6" height="4.6" fill="#a6a5f3"/>
<rect x="419.5" y="222.5" width="4.6" height="4.6" fill="#9a98f1"/>
<rect x="423.5" y="222.5" width="8.6" height="4.6" fill="#8d8bf0"/>
<rect x="431.5" y="222.5" width="4.6" height="4.6" fill="#807eee"/>
<rect x="435.5" y="222.5" width="4.6" height="4.6" fill="#7372ec"/>
<rect x="439.5" y="222.5" width="8.6" height="4.6" fill="#807eee"/>
<rect x="447.5" y="222.5" width="8.6" height="4.6" fill="#8d8bf0"/>
<rect x="455.5" y="222.5" width="4.6" height="4.6" fill="#9a98f1"/>
<rect x="459.5" y="222.5" width="8.6" height="4.6" fill="#a6a5f3"/>
<rect x="467.5" y="222.5" width="4.6" height="4.6" fill="#b3b2f5"/>
<rect x="471.5" y="222.5" width="8.6" height="4.6" fill="#c0bff6"/>
<rect x="479.5" y="222.5" width="4.6" height="4.6" fill="#ccccf8"/>
<rect x="483.5" y="222.5" width="4.6" height="4.6" fill="#d9d8fa"/>
<rect x="487.5" y="222.5" width="4.6" height="4.6" fill="#e6e5fc"/>
<rect x="491.5" y="222.5" width="8.6" height="4.6" fill="#f2f2fd"/>
<rect x="503.5" y="222.5" width="8.6" height="4.6" fill="#fef1f1"/>
<rect x="511.5" y="222.5" width="4.6" height="4.6" fill="#fce3e3"/>
<rect x="515.5" y="222.5" width="4.6" height="4.6" fill="#fbd5d5"/>
<rect x="519.5" y="222.5" width="4.6" height="4.6" fill="#f9c7c7"/>
<rect x="523.5" y="222.5" width="8.6" height="4.6" fill="#f8b8b8"/>
<rect x="531.5" y="222.5" width="4.6" height="4.6" fill="#f6aaaa"/>
<rect x="535.5" y="222.5" width="24.6" height="4.6" fill="#f59c9c"/>
<rect x="559.5" y="222.5" width="12.6" height="4.6" fill="#f6aaaa"/>
<rect x="571.5" y="222.5" width="8.6" height="4.6" fill="#f8b8b8"/>
<rect x="579.5" y="222.5" width="8.6" height="4.6" fill="#f9c7c7"/>
<rect x="587.5" y="222.5" width="8.6" height="4.6" fill="#fbd5d5"/>
<rect x="595.5" y="222.5" width="4.6" height="4.6" fill="#fce3e3"/>
<rect x="599.5" y="222.5" width="12.6" height="4.6" fill="#fef1f1"/>
<rect x="639.5" y="222.5" width="4.6" height="4.6" fill="#f2f2fd"/>
<rect x="643.5" y="222.5" width="8.6" height="4.6" fill="#e6e5fc"/>
<rect x="651.5" y="222.5" width="8.6" height="4.6" fill="#d9d8fa"/>
</g>
<polygon points="416.5,44.5 421.5,41 425.5,40.5 420.5,52.5 414.5,62.5 407.5,69.5 402.5,76.5 395.5,78 395.5,60 416.5,60" fill="#e92424" filter="url(#fb2)"/>
<polygon points="398.5,60 398.5,66.5 405.5,66.5 414.5,60" fill="#ffffff" filter="url(#fb2)"/>
<polygon points="401.5,60.7 412.5,60.7 408.5,63.5 401.5,64.5" fill="#312ee3" filter="url(#fb2)"/>
<polygon points="417,38.5 422.5,38.5 417,41.5" fill="#413ee5"/>
<rect x="395.5" y="38.5" width="21" height="21.5" fill="#fff"/>
</g>
<g clip-path="url(#ca)"><path d="M55 99.6 L62 100.5 L69 99.6 L76 98.4 L83 99.1 L90.9 97.9 L95 102.3 L96.8 104.1 L97.3 107 L100.8 109.3 L103.8 112.3 L105.8 114.3 L112.5 114.3 L113.7 115.5 L112.5 116.6 L107.3 117.5 L107.6 119.3 L110.2 123.4 L113.1 125.7 L116.6 126.9 L120.7 126.3 L123.6 124.5 L124.5 119.3 L124.8 117.5 L126.2 117.8 L126.5 121 L127.4 123.4 L128.3 126.3 L127.4 131 L127.7 135 L128.6 137.4 L128.3 140 L130.5 150 L133.1 157 L137.5 165.8 L142.8 178 L147.2 186.8 L150.7 197.3 L154.2 203.4 L156.8 203.4 L160.3 198.2 L162.9 196.4 L164.7 192 L167.3 191.2 L168.2 185 L170.8 176.3 L170.8 167.5 L169.9 158.8 L171.7 156.1 L176.1 155.3 L179.6 153.5 L182.2 150.9 L184 149 L192.8 142 L198.9 135.9 L204.2 131.5 L207.7 126.3 L212 121.9 L215.9 119.3 L216.4 121 L222.6 120.1 L228.7 118.4 L234 114.9 L235.7 115.8 L238.3 122.8 L243.6 130.7 L247.1 134.2 L248.8 137.7 L250.6 143.8 L251.1 147 L251.1 154.6 L254 157 L258.7 156.4 L263.4 152.3 L266.7 150.3 L269.2 152.3 L271 156.4 L272.8 165.7 L275.1 172.8 L276.8 178.6 L275.7 186.8 L274.5 195 L273.9 202 L276.8 205.5 L282.1 211.4 L285.6 217.2 L286.8 224 M169.9 193.8 L174.3 197.3 L177.5 201.5 L179.6 206.1 L179.4 211 L178.7 214 L174.3 216.6 L169.9 215.7 L168.2 207.8 L168.7 199 L169.9 193.8 M302 224 L296.2 216 L289.1 210.2 L285.6 205.5 L283.3 197.3 L280.4 196.2 L279.8 189.1 L281.5 181 L283.3 173.9 L285.6 171.4 L288 171.6 L289.1 174.5 L293.8 176.3 L298.5 180.4 L302 185.6 L305.5 188.6 L310.2 190.3 L313 192 M243.5 172.5 L242.2 181 M257.5 224 L257.5 219.5 L259.3 218.4 L261.6 220.1 L263.4 220.1 L268 220.7 L271.6 221.9 L273 224 M313 194 L311.5 196 L312 199.5 L313 200" stroke="#1a1a1a" stroke-width="0.75" fill="none" stroke-linejoin="round"/></g>
<g clip-path="url(#cb)"><path d="M395.2 99.07 L402.2 99.98 L409.2 99.07 L416.2 97.86 L423.2 98.57 L431.1 97.36 L435.2 101.79 L437 103.61 L437.5 106.53 L441 108.85 L444 111.87 L446 113.89 L452.7 113.89 L453.9 115.1 L452.7 116.21 L447.5 117.12 L447.8 118.93 L450.4 123.06 L453.3 125.38 L456.8 126.59 L460.9 125.99 L463.8 124.17 L464.7 118.93 L465 117.12 L466.4 117.42 L466.7 120.64 L467.6 123.06 L468.5 125.99 L467.6 130.72 L467.9 134.76 L468.8 137.18 L468.5 139.8 L470.7 149.88 L473.3 156.93 L477.7 165.8 L483 178.1 L487.4 186.97 L490.9 197.55 L494.4 203.7 L497 203.7 L500.5 198.46 L503.1 196.65 L504.9 192.21 L507.5 191.41 L508.4 185.16 L511 176.39 L511 167.52 L510.1 158.75 L511.9 156.02 L516.3 155.22 L519.8 153.4 L522.4 150.78 L524.2 148.87 L533 141.81 L539.1 135.66 L544.4 131.23 L547.9 125.99 L552.2 121.55 L556.1 118.93 L556.6 120.64 L562.8 119.74 L568.9 118.02 L574.2 114.5 L575.9 115.4 L578.5 122.46 L583.8 130.42 L587.3 133.95 L589 137.48 L590.8 143.63 L591.3 146.85 L591.3 154.51 L594.2 156.93 L598.9 156.33 L603.6 152.19 L606.9 150.18 L609.4 152.19 L611.2 156.33 L613 165.7 L615.3 172.86 L617 178.7 L615.9 186.97 L614.7 195.24 L614.1 202.29 L617 205.82 L622.3 211.77 L625.8 217.61 L627 224.47 M510.1 194.03 L514.5 197.55 L517.7 201.79 L519.8 206.42 L519.6 211.36 L518.9 214.39 L514.5 217.01 L510.1 216.1 L508.4 208.14 L508.9 199.27 L510.1 194.03 M642.2 224.47 L636.4 216.4 L629.3 210.56 L625.8 205.82 L623.5 197.55 L620.6 196.45 L620 189.29 L621.7 181.12 L623.5 173.97 L625.8 171.45 L628.2 171.65 L629.3 174.57 L634 176.39 L638.7 180.52 L642.2 185.76 L645.7 188.78 L650.4 190.5 L653.2 192.21 M583.7 172.56 L582.4 181.12 M597.7 224.47 L597.7 219.93 L599.5 218.82 L601.8 220.54 L603.6 220.54 L608.2 221.14 L611.8 222.35 L613.2 224.47 M653.2 194.23 L651.7 196.24 L652.2 199.77 L653.2 200.28" stroke="#1a1a1a" stroke-width="0.75" fill="none" stroke-linejoin="round"/></g>
<g fill="#000"><circle cx="162.8" cy="43.5" r="1.05"/><circle cx="170.5" cy="43.5" r="1.05"/><circle cx="178.1" cy="43.5" r="1.05"/><circle cx="185.8" cy="43.5" r="1.05"/><circle cx="193.4" cy="43.5" r="1.05"/><circle cx="224.1" cy="43.5" r="1.05"/><circle cx="231.7" cy="43.5" r="1.05"/><circle cx="239.4" cy="43.5" r="1.05"/><circle cx="247.1" cy="43.5" r="1.05"/><circle cx="254.7" cy="43.5" r="1.05"/><circle cx="262.4" cy="43.5" r="1.05"/><circle cx="270.0" cy="43.5" r="1.05"/><circle cx="159.0" cy="47.7" r="1.05"/><circle cx="166.6" cy="47.7" r="1.05"/><circle cx="174.3" cy="47.7" r="1.05"/><circle cx="182.0" cy="47.7" r="1.05"/><circle cx="189.6" cy="47.7" r="1.05"/><circle cx="197.3" cy="47.7" r="1.05"/><circle cx="227.9" cy="47.7" r="1.05"/><circle cx="235.6" cy="47.7" r="1.05"/><circle cx="243.2" cy="47.7" r="1.05"/><circle cx="250.9" cy="47.7" r="1.05"/><circle cx="258.6" cy="47.7" r="1.05"/><circle cx="266.2" cy="47.7" r="1.05"/><circle cx="162.8" cy="51.8" r="1.05"/><circle cx="170.5" cy="51.8" r="1.05"/><circle cx="178.1" cy="51.8" r="1.05"/><circle cx="185.8" cy="51.8" r="1.05"/><circle cx="193.4" cy="51.8" r="1.05"/><circle cx="224.1" cy="51.8" r="1.05"/><circle cx="231.7" cy="51.8" r="1.05"/><circle cx="239.4" cy="51.8" r="1.05"/><circle cx="247.1" cy="51.8" r="1.05"/><circle cx="254.7" cy="51.8" r="1.05"/><circle cx="262.4" cy="51.8" r="1.05"/><circle cx="270.0" cy="51.8" r="1.05"/><circle cx="189.6" cy="56.0" r="1.05"/><circle cx="281.5" cy="56.0" r="1.05"/><circle cx="289.2" cy="56.0" r="1.05"/><circle cx="277.7" cy="60.1" r="1.05"/><circle cx="285.4" cy="60.1" r="1.05"/><circle cx="293.0" cy="60.1" r="1.05"/><circle cx="273.9" cy="64.3" r="1.05"/><circle cx="281.5" cy="64.3" r="1.05"/><circle cx="289.2" cy="64.3" r="1.05"/><circle cx="162.8" cy="68.5" r="1.05"/><circle cx="270.0" cy="68.5" r="1.05"/><circle cx="277.7" cy="68.5" r="1.05"/><circle cx="285.4" cy="68.5" r="1.05"/><circle cx="293.0" cy="68.5" r="1.05"/><circle cx="159.0" cy="72.6" r="1.05"/><circle cx="266.2" cy="72.6" r="1.05"/><circle cx="273.9" cy="72.6" r="1.05"/><circle cx="281.5" cy="72.6" r="1.05"/><circle cx="289.2" cy="72.6" r="1.05"/><circle cx="155.1" cy="76.8" r="1.05"/><circle cx="162.8" cy="76.8" r="1.05"/><circle cx="270.0" cy="76.8" r="1.05"/><circle cx="277.7" cy="76.8" r="1.05"/><circle cx="285.4" cy="76.8" r="1.05"/><circle cx="293.0" cy="76.8" r="1.05"/><circle cx="82.4" cy="80.9" r="1.05"/><circle cx="90.0" cy="80.9" r="1.05"/><circle cx="151.3" cy="80.9" r="1.05"/><circle cx="159.0" cy="80.9" r="1.05"/><circle cx="166.6" cy="80.9" r="1.05"/><circle cx="174.3" cy="80.9" r="1.05"/><circle cx="197.3" cy="80.9" r="1.05"/><circle cx="204.9" cy="80.9" r="1.05"/><circle cx="55.6" cy="85.1" r="1.05"/><circle cx="86.2" cy="85.1" r="1.05"/><circle cx="147.5" cy="85.1" r="1.05"/><circle cx="155.1" cy="85.1" r="1.05"/><circle cx="162.8" cy="85.1" r="1.05"/><circle cx="170.5" cy="85.1" r="1.05"/><circle cx="193.4" cy="85.1" r="1.05"/><circle cx="201.1" cy="85.1" r="1.05"/><circle cx="208.8" cy="85.1" r="1.05"/><circle cx="90.0" cy="89.3" r="1.05"/><circle cx="151.3" cy="89.3" r="1.05"/><circle cx="159.0" cy="89.3" r="1.05"/><circle cx="166.6" cy="89.3" r="1.05"/><circle cx="174.3" cy="89.3" r="1.05"/><circle cx="197.3" cy="89.3" r="1.05"/><circle cx="204.9" cy="89.3" r="1.05"/><circle cx="212.6" cy="89.3" r="1.05"/><circle cx="147.5" cy="93.4" r="1.05"/><circle cx="155.1" cy="93.4" r="1.05"/><circle cx="162.8" cy="93.4" r="1.05"/><circle cx="170.5" cy="93.4" r="1.05"/><circle cx="178.1" cy="93.4" r="1.05"/><circle cx="185.8" cy="93.4" r="1.05"/><circle cx="216.4" cy="93.4" r="1.05"/><circle cx="151.3" cy="97.6" r="1.05"/><circle cx="159.0" cy="97.6" r="1.05"/><circle cx="166.6" cy="97.6" r="1.05"/><circle cx="174.3" cy="97.6" r="1.05"/><circle cx="182.0" cy="97.6" r="1.05"/><circle cx="212.6" cy="97.6" r="1.05"/><circle cx="220.2" cy="97.6" r="1.05"/><circle cx="147.5" cy="101.7" r="1.05"/><circle cx="155.1" cy="101.7" r="1.05"/><circle cx="162.8" cy="101.7" r="1.05"/><circle cx="170.5" cy="101.7" r="1.05"/><circle cx="178.1" cy="101.7" r="1.05"/><circle cx="185.8" cy="101.7" r="1.05"/><circle cx="193.4" cy="101.7" r="1.05"/><circle cx="216.4" cy="101.7" r="1.05"/><circle cx="105.4" cy="105.9" r="1.05"/><circle cx="113.0" cy="105.9" r="1.05"/><circle cx="120.7" cy="105.9" r="1.05"/><circle cx="128.3" cy="105.9" r="1.05"/><circle cx="136.0" cy="105.9" r="1.05"/><circle cx="143.7" cy="105.9" r="1.05"/><circle cx="151.3" cy="105.9" r="1.05"/><circle cx="159.0" cy="105.9" r="1.05"/><circle cx="166.6" cy="105.9" r="1.05"/><circle cx="174.3" cy="105.9" r="1.05"/><circle cx="182.0" cy="105.9" r="1.05"/><circle cx="189.6" cy="105.9" r="1.05"/><circle cx="197.3" cy="105.9" r="1.05"/><circle cx="109.2" cy="110.1" r="1.05"/><circle cx="116.8" cy="110.1" r="1.05"/><circle cx="124.5" cy="110.1" r="1.05"/><circle cx="132.2" cy="110.1" r="1.05"/><circle cx="139.8" cy="110.1" r="1.05"/><circle cx="147.5" cy="110.1" r="1.05"/><circle cx="155.1" cy="110.1" r="1.05"/><circle cx="162.8" cy="110.1" r="1.05"/><circle cx="170.5" cy="110.1" r="1.05"/><circle cx="178.1" cy="110.1" r="1.05"/><circle cx="185.8" cy="110.1" r="1.05"/><circle cx="193.4" cy="110.1" r="1.05"/><circle cx="105.4" cy="114.2" r="1.05"/><circle cx="113.0" cy="114.2" r="1.05"/><circle cx="120.7" cy="114.2" r="1.05"/><circle cx="128.3" cy="114.2" r="1.05"/><circle cx="136.0" cy="114.2" r="1.05"/><circle cx="143.7" cy="114.2" r="1.05"/><circle cx="166.6" cy="114.2" r="1.05"/><circle cx="174.3" cy="114.2" r="1.05"/><circle cx="182.0" cy="114.2" r="1.05"/><circle cx="189.6" cy="114.2" r="1.05"/><circle cx="197.3" cy="114.2" r="1.05"/><circle cx="109.2" cy="118.4" r="1.05"/><circle cx="116.8" cy="118.4" r="1.05"/><circle cx="124.5" cy="118.4" r="1.05"/><circle cx="132.2" cy="118.4" r="1.05"/><circle cx="139.8" cy="118.4" r="1.05"/><circle cx="170.5" cy="118.4" r="1.05"/><circle cx="178.1" cy="118.4" r="1.05"/><circle cx="185.8" cy="118.4" r="1.05"/><circle cx="193.4" cy="118.4" r="1.05"/><circle cx="201.1" cy="118.4" r="1.05"/><circle cx="208.8" cy="118.4" r="1.05"/><circle cx="105.4" cy="122.5" r="1.05"/><circle cx="113.0" cy="122.5" r="1.05"/><circle cx="120.7" cy="122.5" r="1.05"/><circle cx="128.3" cy="122.5" r="1.05"/><circle cx="136.0" cy="122.5" r="1.05"/><circle cx="143.7" cy="122.5" r="1.05"/><circle cx="166.6" cy="122.5" r="1.05"/><circle cx="174.3" cy="122.5" r="1.05"/><circle cx="182.0" cy="122.5" r="1.05"/><circle cx="189.6" cy="122.5" r="1.05"/><circle cx="197.3" cy="122.5" r="1.05"/><circle cx="204.9" cy="122.5" r="1.05"/><circle cx="109.2" cy="126.7" r="1.05"/><circle cx="116.8" cy="126.7" r="1.05"/><circle cx="124.5" cy="126.7" r="1.05"/><circle cx="132.2" cy="126.7" r="1.05"/><circle cx="139.8" cy="126.7" r="1.05"/><circle cx="155.1" cy="126.7" r="1.05"/><circle cx="162.8" cy="126.7" r="1.05"/><circle cx="170.5" cy="126.7" r="1.05"/><circle cx="178.1" cy="126.7" r="1.05"/><circle cx="185.8" cy="126.7" r="1.05"/><circle cx="193.4" cy="126.7" r="1.05"/><circle cx="201.1" cy="126.7" r="1.05"/><circle cx="208.8" cy="126.7" r="1.05"/><circle cx="216.4" cy="126.7" r="1.05"/><circle cx="105.4" cy="130.9" r="1.05"/><circle cx="113.0" cy="130.9" r="1.05"/><circle cx="120.7" cy="130.9" r="1.05"/><circle cx="128.3" cy="130.9" r="1.05"/><circle cx="136.0" cy="130.9" r="1.05"/><circle cx="143.7" cy="130.9" r="1.05"/><circle cx="151.3" cy="130.9" r="1.05"/><circle cx="159.0" cy="130.9" r="1.05"/><circle cx="166.6" cy="130.9" r="1.05"/><circle cx="174.3" cy="130.9" r="1.05"/><circle cx="182.0" cy="130.9" r="1.05"/><circle cx="189.6" cy="130.9" r="1.05"/><circle cx="197.3" cy="130.9" r="1.05"/><circle cx="204.9" cy="130.9" r="1.05"/><circle cx="212.6" cy="130.9" r="1.05"/><circle cx="220.2" cy="130.9" r="1.05"/><circle cx="109.2" cy="135.0" r="1.05"/><circle cx="116.8" cy="135.0" r="1.05"/><circle cx="124.5" cy="135.0" r="1.05"/><circle cx="132.2" cy="135.0" r="1.05"/><circle cx="139.8" cy="135.0" r="1.05"/><circle cx="147.5" cy="135.0" r="1.05"/><circle cx="155.1" cy="135.0" r="1.05"/><circle cx="162.8" cy="135.0" r="1.05"/><circle cx="170.5" cy="135.0" r="1.05"/><circle cx="178.1" cy="135.0" r="1.05"/><circle cx="185.8" cy="135.0" r="1.05"/><circle cx="193.4" cy="135.0" r="1.05"/><circle cx="201.1" cy="135.0" r="1.05"/><circle cx="208.8" cy="135.0" r="1.05"/><circle cx="216.4" cy="135.0" r="1.05"/><circle cx="159.0" cy="139.2" r="1.05"/><circle cx="166.6" cy="139.2" r="1.05"/><circle cx="174.3" cy="139.2" r="1.05"/><circle cx="182.0" cy="139.2" r="1.05"/><circle cx="189.6" cy="139.2" r="1.05"/><circle cx="197.3" cy="139.2" r="1.05"/><circle cx="204.9" cy="139.2" r="1.05"/><circle cx="212.6" cy="139.2" r="1.05"/><circle cx="162.8" cy="143.3" r="1.05"/><circle cx="170.5" cy="143.3" r="1.05"/><circle cx="178.1" cy="143.3" r="1.05"/><circle cx="185.8" cy="143.3" r="1.05"/><circle cx="193.4" cy="143.3" r="1.05"/><circle cx="201.1" cy="143.3" r="1.05"/><circle cx="208.8" cy="143.3" r="1.05"/><circle cx="166.6" cy="147.5" r="1.05"/><circle cx="174.3" cy="147.5" r="1.05"/><circle cx="182.0" cy="147.5" r="1.05"/><circle cx="189.6" cy="147.5" r="1.05"/><circle cx="197.3" cy="147.5" r="1.05"/><circle cx="204.9" cy="147.5" r="1.05"/><circle cx="566.2" cy="40.4" r="1.05"/><circle cx="572.7" cy="40.4" r="1.05"/><circle cx="579.3" cy="40.4" r="1.05"/><circle cx="585.8" cy="40.4" r="1.05"/><circle cx="592.3" cy="40.4" r="1.05"/><circle cx="598.9" cy="40.4" r="1.05"/><circle cx="621.8" cy="43.9" r="1.05"/><circle cx="618.5" cy="47.5" r="1.05"/><circle cx="625.0" cy="47.5" r="1.05"/><circle cx="631.6" cy="47.5" r="1.05"/><circle cx="615.2" cy="51.1" r="1.05"/><circle cx="621.8" cy="51.1" r="1.05"/><circle cx="628.3" cy="51.1" r="1.05"/><circle cx="634.9" cy="51.1" r="1.05"/><circle cx="461.5" cy="54.6" r="1.05"/><circle cx="612.0" cy="54.6" r="1.05"/><circle cx="618.5" cy="54.6" r="1.05"/><circle cx="625.0" cy="54.6" r="1.05"/><circle cx="631.6" cy="54.6" r="1.05"/><circle cx="458.3" cy="58.2" r="1.05"/><circle cx="464.8" cy="58.2" r="1.05"/><circle cx="608.7" cy="58.2" r="1.05"/><circle cx="615.2" cy="58.2" r="1.05"/><circle cx="621.8" cy="58.2" r="1.05"/><circle cx="628.3" cy="58.2" r="1.05"/><circle cx="634.9" cy="58.2" r="1.05"/><circle cx="455.0" cy="61.7" r="1.05"/><circle cx="461.5" cy="61.7" r="1.05"/><circle cx="605.4" cy="61.7" r="1.05"/><circle cx="612.0" cy="61.7" r="1.05"/><circle cx="618.5" cy="61.7" r="1.05"/><circle cx="625.0" cy="61.7" r="1.05"/><circle cx="631.6" cy="61.7" r="1.05"/><circle cx="458.3" cy="65.3" r="1.05"/><circle cx="608.7" cy="65.3" r="1.05"/><circle cx="615.2" cy="65.3" r="1.05"/><circle cx="621.8" cy="65.3" r="1.05"/><circle cx="628.3" cy="65.3" r="1.05"/><circle cx="634.9" cy="65.3" r="1.05"/><circle cx="612.0" cy="68.9" r="1.05"/><circle cx="618.5" cy="68.9" r="1.05"/><circle cx="625.0" cy="68.9" r="1.05"/><circle cx="631.6" cy="68.9" r="1.05"/><circle cx="608.7" cy="72.4" r="1.05"/><circle cx="615.2" cy="72.4" r="1.05"/><circle cx="621.8" cy="72.4" r="1.05"/><circle cx="628.3" cy="72.4" r="1.05"/><circle cx="634.9" cy="72.4" r="1.05"/><circle cx="612.0" cy="76.0" r="1.05"/><circle cx="618.5" cy="76.0" r="1.05"/><circle cx="625.0" cy="76.0" r="1.05"/><circle cx="631.6" cy="76.0" r="1.05"/><circle cx="474.6" cy="90.2" r="1.05"/><circle cx="481.2" cy="90.2" r="1.05"/><circle cx="471.4" cy="93.8" r="1.05"/><circle cx="477.9" cy="93.8" r="1.05"/><circle cx="484.4" cy="93.8" r="1.05"/><circle cx="461.5" cy="97.3" r="1.05"/><circle cx="468.1" cy="97.3" r="1.05"/><circle cx="474.6" cy="97.3" r="1.05"/><circle cx="481.2" cy="97.3" r="1.05"/><circle cx="487.7" cy="97.3" r="1.05"/><circle cx="451.7" cy="100.9" r="1.05"/><circle cx="458.3" cy="100.9" r="1.05"/><circle cx="464.8" cy="100.9" r="1.05"/><circle cx="471.4" cy="100.9" r="1.05"/><circle cx="477.9" cy="100.9" r="1.05"/><circle cx="484.4" cy="100.9" r="1.05"/><circle cx="491.0" cy="100.9" r="1.05"/><circle cx="448.5" cy="104.5" r="1.05"/><circle cx="455.0" cy="104.5" r="1.05"/><circle cx="461.5" cy="104.5" r="1.05"/><circle cx="468.1" cy="104.5" r="1.05"/><circle cx="474.6" cy="104.5" r="1.05"/><circle cx="481.2" cy="104.5" r="1.05"/><circle cx="487.7" cy="104.5" r="1.05"/><circle cx="494.2" cy="104.5" r="1.05"/><circle cx="445.2" cy="108.0" r="1.05"/><circle cx="451.7" cy="108.0" r="1.05"/><circle cx="458.3" cy="108.0" r="1.05"/><circle cx="464.8" cy="108.0" r="1.05"/><circle cx="471.4" cy="108.0" r="1.05"/><circle cx="477.9" cy="108.0" r="1.05"/><circle cx="484.4" cy="108.0" r="1.05"/><circle cx="491.0" cy="108.0" r="1.05"/><circle cx="497.5" cy="108.0" r="1.05"/><circle cx="435.4" cy="111.6" r="1.05"/><circle cx="441.9" cy="111.6" r="1.05"/><circle cx="448.5" cy="111.6" r="1.05"/><circle cx="455.0" cy="111.6" r="1.05"/><circle cx="461.5" cy="111.6" r="1.05"/><circle cx="468.1" cy="111.6" r="1.05"/><circle cx="474.6" cy="111.6" r="1.05"/><circle cx="481.2" cy="111.6" r="1.05"/><circle cx="487.7" cy="111.6" r="1.05"/><circle cx="494.2" cy="111.6" r="1.05"/><circle cx="500.8" cy="111.6" r="1.05"/><circle cx="419.0" cy="115.1" r="1.05"/><circle cx="425.6" cy="115.1" r="1.05"/><circle cx="432.1" cy="115.1" r="1.05"/><circle cx="438.6" cy="115.1" r="1.05"/><circle cx="445.2" cy="115.1" r="1.05"/><circle cx="451.7" cy="115.1" r="1.05"/><circle cx="458.3" cy="115.1" r="1.05"/><circle cx="464.8" cy="115.1" r="1.05"/><circle cx="471.4" cy="115.1" r="1.05"/><circle cx="477.9" cy="115.1" r="1.05"/><circle cx="484.4" cy="115.1" r="1.05"/><circle cx="491.0" cy="115.1" r="1.05"/><circle cx="497.5" cy="115.1" r="1.05"/><circle cx="504.1" cy="115.1" r="1.05"/><circle cx="510.6" cy="115.1" r="1.05"/><circle cx="517.1" cy="115.1" r="1.05"/><circle cx="523.7" cy="115.1" r="1.05"/><circle cx="415.8" cy="118.7" r="1.05"/><circle cx="422.3" cy="118.7" r="1.05"/><circle cx="428.8" cy="118.7" r="1.05"/><circle cx="435.4" cy="118.7" r="1.05"/><circle cx="441.9" cy="118.7" r="1.05"/><circle cx="448.5" cy="118.7" r="1.05"/><circle cx="455.0" cy="118.7" r="1.05"/><circle cx="461.5" cy="118.7" r="1.05"/><circle cx="468.1" cy="118.7" r="1.05"/><circle cx="474.6" cy="118.7" r="1.05"/><circle cx="481.2" cy="118.7" r="1.05"/><circle cx="487.7" cy="118.7" r="1.05"/><circle cx="494.2" cy="118.7" r="1.05"/><circle cx="500.8" cy="118.7" r="1.05"/><circle cx="507.3" cy="118.7" r="1.05"/><circle cx="513.9" cy="118.7" r="1.05"/><circle cx="520.4" cy="118.7" r="1.05"/><circle cx="526.9" cy="118.7" r="1.05"/><circle cx="419.0" cy="122.3" r="1.05"/><circle cx="425.6" cy="122.3" r="1.05"/><circle cx="432.1" cy="122.3" r="1.05"/><circle cx="438.6" cy="122.3" r="1.05"/><circle cx="445.2" cy="122.3" r="1.05"/><circle cx="451.7" cy="122.3" r="1.05"/><circle cx="458.3" cy="122.3" r="1.05"/><circle cx="464.8" cy="122.3" r="1.05"/><circle cx="471.4" cy="122.3" r="1.05"/><circle cx="477.9" cy="122.3" r="1.05"/><circle cx="484.4" cy="122.3" r="1.05"/><circle cx="491.0" cy="122.3" r="1.05"/><circle cx="497.5" cy="122.3" r="1.05"/><circle cx="504.1" cy="122.3" r="1.05"/><circle cx="510.6" cy="122.3" r="1.05"/><circle cx="517.1" cy="122.3" r="1.05"/><circle cx="523.7" cy="122.3" r="1.05"/><circle cx="530.2" cy="122.3" r="1.05"/><circle cx="422.3" cy="125.8" r="1.05"/><circle cx="428.8" cy="125.8" r="1.05"/><circle cx="435.4" cy="125.8" r="1.05"/><circle cx="441.9" cy="125.8" r="1.05"/><circle cx="448.5" cy="125.8" r="1.05"/><circle cx="455.0" cy="125.8" r="1.05"/><circle cx="461.5" cy="125.8" r="1.05"/><circle cx="468.1" cy="125.8" r="1.05"/><circle cx="474.6" cy="125.8" r="1.05"/><circle cx="481.2" cy="125.8" r="1.05"/><circle cx="487.7" cy="125.8" r="1.05"/><circle cx="494.2" cy="125.8" r="1.05"/><circle cx="500.8" cy="125.8" r="1.05"/><circle cx="507.3" cy="125.8" r="1.05"/><circle cx="513.9" cy="125.8" r="1.05"/><circle cx="520.4" cy="125.8" r="1.05"/><circle cx="526.9" cy="125.8" r="1.05"/><circle cx="533.5" cy="125.8" r="1.05"/><circle cx="612.0" cy="125.8" r="1.05"/><circle cx="618.5" cy="125.8" r="1.05"/><circle cx="425.6" cy="129.4" r="1.05"/><circle cx="432.1" cy="129.4" r="1.05"/><circle cx="438.6" cy="129.4" r="1.05"/><circle cx="445.2" cy="129.4" r="1.05"/><circle cx="451.7" cy="129.4" r="1.05"/><circle cx="458.3" cy="129.4" r="1.05"/><circle cx="464.8" cy="129.4" r="1.05"/><circle cx="471.4" cy="129.4" r="1.05"/><circle cx="477.9" cy="129.4" r="1.05"/><circle cx="484.4" cy="129.4" r="1.05"/><circle cx="491.0" cy="129.4" r="1.05"/><circle cx="497.5" cy="129.4" r="1.05"/><circle cx="504.1" cy="129.4" r="1.05"/><circle cx="510.6" cy="129.4" r="1.05"/><circle cx="517.1" cy="129.4" r="1.05"/><circle cx="523.7" cy="129.4" r="1.05"/><circle cx="530.2" cy="129.4" r="1.05"/><circle cx="608.7" cy="129.4" r="1.05"/><circle cx="615.2" cy="129.4" r="1.05"/><circle cx="621.8" cy="129.4" r="1.05"/><circle cx="428.8" cy="132.9" r="1.05"/><circle cx="435.4" cy="132.9" r="1.05"/><circle cx="441.9" cy="132.9" r="1.05"/><circle cx="448.5" cy="132.9" r="1.05"/><circle cx="455.0" cy="132.9" r="1.05"/><circle cx="461.5" cy="132.9" r="1.05"/><circle cx="468.1" cy="132.9" r="1.05"/><circle cx="474.6" cy="132.9" r="1.05"/><circle cx="481.2" cy="132.9" r="1.05"/><circle cx="487.7" cy="132.9" r="1.05"/><circle cx="494.2" cy="132.9" r="1.05"/><circle cx="500.8" cy="132.9" r="1.05"/><circle cx="507.3" cy="132.9" r="1.05"/><circle cx="520.4" cy="132.9" r="1.05"/><circle cx="526.9" cy="132.9" r="1.05"/><circle cx="533.5" cy="132.9" r="1.05"/><circle cx="605.4" cy="132.9" r="1.05"/><circle cx="612.0" cy="132.9" r="1.05"/><circle cx="618.5" cy="132.9" r="1.05"/><circle cx="625.0" cy="132.9" r="1.05"/><circle cx="491.0" cy="136.5" r="1.05"/><circle cx="497.5" cy="136.5" r="1.05"/><circle cx="504.1" cy="136.5" r="1.05"/><circle cx="510.6" cy="136.5" r="1.05"/><circle cx="523.7" cy="136.5" r="1.05"/><circle cx="530.2" cy="136.5" r="1.05"/><circle cx="536.8" cy="136.5" r="1.05"/><circle cx="608.7" cy="136.5" r="1.05"/><circle cx="615.2" cy="136.5" r="1.05"/><circle cx="621.8" cy="136.5" r="1.05"/><circle cx="487.7" cy="140.1" r="1.05"/><circle cx="494.2" cy="140.1" r="1.05"/><circle cx="500.8" cy="140.1" r="1.05"/><circle cx="507.3" cy="140.1" r="1.05"/><circle cx="513.9" cy="140.1" r="1.05"/><circle cx="520.4" cy="140.1" r="1.05"/><circle cx="526.9" cy="140.1" r="1.05"/><circle cx="533.5" cy="140.1" r="1.05"/><circle cx="605.4" cy="140.1" r="1.05"/><circle cx="612.0" cy="140.1" r="1.05"/><circle cx="618.5" cy="140.1" r="1.05"/><circle cx="625.0" cy="140.1" r="1.05"/><circle cx="491.0" cy="143.6" r="1.05"/><circle cx="497.5" cy="143.6" r="1.05"/><circle cx="504.1" cy="143.6" r="1.05"/><circle cx="510.6" cy="143.6" r="1.05"/><circle cx="517.1" cy="143.6" r="1.05"/><circle cx="523.7" cy="143.6" r="1.05"/><circle cx="530.2" cy="143.6" r="1.05"/><circle cx="536.8" cy="143.6" r="1.05"/><circle cx="608.7" cy="143.6" r="1.05"/><circle cx="615.2" cy="143.6" r="1.05"/><circle cx="621.8" cy="143.6" r="1.05"/><circle cx="494.2" cy="147.2" r="1.05"/><circle cx="500.8" cy="147.2" r="1.05"/><circle cx="507.3" cy="147.2" r="1.05"/><circle cx="513.9" cy="147.2" r="1.05"/><circle cx="520.4" cy="147.2" r="1.05"/><circle cx="526.9" cy="147.2" r="1.05"/><circle cx="533.5" cy="147.2" r="1.05"/><circle cx="458.3" cy="150.7" r="1.05"/><circle cx="464.8" cy="150.7" r="1.05"/><circle cx="497.5" cy="150.7" r="1.05"/><circle cx="504.1" cy="150.7" r="1.05"/><circle cx="510.6" cy="150.7" r="1.05"/><circle cx="517.1" cy="150.7" r="1.05"/><circle cx="523.7" cy="150.7" r="1.05"/><circle cx="530.2" cy="150.7" r="1.05"/><circle cx="500.8" cy="154.3" r="1.05"/><circle cx="507.3" cy="154.3" r="1.05"/><circle cx="513.9" cy="154.3" r="1.05"/><circle cx="520.4" cy="154.3" r="1.05"/><circle cx="526.9" cy="154.3" r="1.05"/><circle cx="458.3" cy="157.9" r="1.05"/><circle cx="504.1" cy="157.9" r="1.05"/><circle cx="510.6" cy="157.9" r="1.05"/><circle cx="517.1" cy="157.9" r="1.05"/><circle cx="523.7" cy="157.9" r="1.05"/><circle cx="435.4" cy="197.0" r="1.05"/><circle cx="441.9" cy="197.0" r="1.05"/><circle cx="448.5" cy="197.0" r="1.05"/><circle cx="438.6" cy="200.6" r="1.05"/><circle cx="445.2" cy="200.6" r="1.05"/><circle cx="451.7" cy="200.6" r="1.05"/><circle cx="435.4" cy="204.1" r="1.05"/><circle cx="441.9" cy="204.1" r="1.05"/><circle cx="448.5" cy="204.1" r="1.05"/><circle cx="455.0" cy="204.1" r="1.05"/><circle cx="438.6" cy="207.7" r="1.05"/><circle cx="445.2" cy="207.7" r="1.05"/><circle cx="451.7" cy="207.7" r="1.05"/><circle cx="458.3" cy="207.7" r="1.05"/><circle cx="435.4" cy="211.3" r="1.05"/><circle cx="441.9" cy="211.3" r="1.05"/><circle cx="448.5" cy="211.3" r="1.05"/><circle cx="455.0" cy="211.3" r="1.05"/><circle cx="438.6" cy="214.8" r="1.05"/><circle cx="445.2" cy="214.8" r="1.05"/><circle cx="451.7" cy="214.8" r="1.05"/></g>
<rect x="111.4" y="55.6" width="92.2" height="87.4" fill="none" stroke="#000" stroke-width="1"/>
<rect x="452.4" y="93.4" width="81" height="60.8" fill="none" stroke="#000" stroke-width="1"/>
<rect x="156.4" y="59.4" width="23.3" height="24.1" fill="none" stroke="#ebe61e" stroke-width="0.95"/>
<circle cx="169.9" cy="71.2" r="3.7" fill="#ffff00" stroke="#333" stroke-width="0.6"/>
<rect x="504.2" y="124.5" width="23.7" height="24.1" fill="none" stroke="#ebe61e" stroke-width="0.95"/>
<circle cx="515.5" cy="135.9" r="3.6" fill="#ffff00" stroke="#333" stroke-width="0.6"/>
<text x="169.3" y="66.5" font-size="10.5" font-weight="bold" fill="#000" textLength="33.7" lengthAdjust="spacingAndGlyphs">Sahiya</text>
<text x="522" y="116.3" font-size="10.5" font-weight="bold" fill="#000" textLength="38.3" lengthAdjust="spacingAndGlyphs">Jhumar</text>
<rect x="55.3" y="40.5" width="257.5" height="182.5" fill="none" stroke="#666" stroke-width="1.1"/>
<line x1="124.3" y1="40.5" x2="124.3" y2="46.5" stroke="#666" stroke-width="1"/>
<line x1="124.3" y1="223" x2="124.3" y2="217" stroke="#666" stroke-width="1"/>
<line x1="193.3" y1="40.5" x2="193.3" y2="46.5" stroke="#666" stroke-width="1"/>
<line x1="193.3" y1="223" x2="193.3" y2="217" stroke="#666" stroke-width="1"/>
<line x1="262.3" y1="40.5" x2="262.3" y2="46.5" stroke="#666" stroke-width="1"/>
<line x1="262.3" y1="223" x2="262.3" y2="217" stroke="#666" stroke-width="1"/>
<line x1="55.3" y1="57.6" x2="61.8" y2="57.6" stroke="#666" stroke-width="1"/>
<line x1="312.8" y1="57.6" x2="306.3" y2="57.6" stroke="#666" stroke-width="1"/>
<line x1="55.3" y1="106" x2="61.8" y2="106" stroke="#666" stroke-width="1"/>
<line x1="312.8" y1="106" x2="306.3" y2="106" stroke="#666" stroke-width="1"/>
<line x1="55.3" y1="155.4" x2="61.8" y2="155.4" stroke="#666" stroke-width="1"/>
<line x1="312.8" y1="155.4" x2="306.3" y2="155.4" stroke="#666" stroke-width="1"/>
<line x1="55.3" y1="204" x2="61.8" y2="204" stroke="#666" stroke-width="1"/>
<line x1="312.8" y1="204" x2="306.3" y2="204" stroke="#666" stroke-width="1"/>
<rect x="395.5" y="38.5" width="258" height="184" fill="none" stroke="#666" stroke-width="1.1"/>
<line x1="464.5" y1="38.5" x2="464.5" y2="44.5" stroke="#666" stroke-width="1"/>
<line x1="464.5" y1="222.5" x2="464.5" y2="216.5" stroke="#666" stroke-width="1"/>
<line x1="533.5" y1="38.5" x2="533.5" y2="44.5" stroke="#666" stroke-width="1"/>
<line x1="533.5" y1="222.5" x2="533.5" y2="216.5" stroke="#666" stroke-width="1"/>
<line x1="602.5" y1="38.5" x2="602.5" y2="44.5" stroke="#666" stroke-width="1"/>
<line x1="602.5" y1="222.5" x2="602.5" y2="216.5" stroke="#666" stroke-width="1"/>
<line x1="395.5" y1="56.8" x2="402" y2="56.8" stroke="#666" stroke-width="1"/>
<line x1="653.5" y1="56.8" x2="647" y2="56.8" stroke="#666" stroke-width="1"/>
<line x1="395.5" y1="105.5" x2="402" y2="105.5" stroke="#666" stroke-width="1"/>
<line x1="653.5" y1="105.5" x2="647" y2="105.5" stroke="#666" stroke-width="1"/>
<line x1="395.5" y1="154.5" x2="402" y2="154.5" stroke="#666" stroke-width="1"/>
<line x1="653.5" y1="154.5" x2="647" y2="154.5" stroke="#666" stroke-width="1"/>
<line x1="395.5" y1="203.8" x2="402" y2="203.8" stroke="#666" stroke-width="1"/>
<line x1="653.5" y1="203.8" x2="647" y2="203.8" stroke="#666" stroke-width="1"/>
<text x="59.4" y="36.8" font-size="7" fill="#333" text-anchor="middle" textLength="13.2" lengthAdjust="spacingAndGlyphs">60°E</text>
<text x="125.1" y="36.8" font-size="7" fill="#333" text-anchor="middle" textLength="13.2" lengthAdjust="spacingAndGlyphs">72°E</text>
<text x="195.4" y="36.8" font-size="7" fill="#333" text-anchor="middle" textLength="13.2" lengthAdjust="spacingAndGlyphs">84°E</text>
<text x="262.9" y="36.8" font-size="7" fill="#333" text-anchor="middle" textLength="13.2" lengthAdjust="spacingAndGlyphs">96°E</text>
<text x="398.4" y="33.7" font-size="7" fill="#333" text-anchor="middle" textLength="13.2" lengthAdjust="spacingAndGlyphs">60°E</text>
<text x="465.4" y="33.7" font-size="7" fill="#333" text-anchor="middle" textLength="13.2" lengthAdjust="spacingAndGlyphs">72°E</text>
<text x="535" y="33.7" font-size="7" fill="#333" text-anchor="middle" textLength="13.2" lengthAdjust="spacingAndGlyphs">84°E</text>
<text x="603.5" y="33.7" font-size="7" fill="#333" text-anchor="middle" textLength="13.2" lengthAdjust="spacingAndGlyphs">96°E</text>
<text x="49.3" y="60.3" font-size="7" fill="#333" text-anchor="end" textLength="14.5" lengthAdjust="spacingAndGlyphs">32°N</text>
<text x="49.3" y="108.7" font-size="7" fill="#333" text-anchor="end" textLength="14.5" lengthAdjust="spacingAndGlyphs">24°N</text>
<text x="49.3" y="158.1" font-size="7" fill="#333" text-anchor="end" textLength="14.5" lengthAdjust="spacingAndGlyphs">16°N</text>
<text x="49.3" y="206.7" font-size="7" fill="#333" text-anchor="end" textLength="11" lengthAdjust="spacingAndGlyphs">8°N</text>
<text x="390.9" y="59.5" font-size="7" fill="#333" text-anchor="end" textLength="14.5" lengthAdjust="spacingAndGlyphs">32°N</text>
<text x="390.9" y="108.2" font-size="7" fill="#333" text-anchor="end" textLength="14.5" lengthAdjust="spacingAndGlyphs">24°N</text>
<text x="390.9" y="157.2" font-size="7" fill="#333" text-anchor="end" textLength="14.5" lengthAdjust="spacingAndGlyphs">16°N</text>
<text x="390.9" y="206.5" font-size="7" fill="#333" text-anchor="end" textLength="11" lengthAdjust="spacingAndGlyphs">8°N</text>
<text x="24" y="16.6" font-size="13.5" font-weight="bold" fill="#000" textLength="6.6" lengthAdjust="spacingAndGlyphs">a</text>
<text x="382.4" y="21" font-size="13.5" font-weight="bold" fill="#000">b</text>
<text x="140.7" y="8" font-size="10.2" font-weight="bold" textLength="82.9" lengthAdjust="spacingAndGlyphs">JJAS Correlations</text>
<text x="96" y="21.3" font-size="10.2" font-weight="bold" fill="#111" textLength="175" lengthAdjust="spacingAndGlyphs">Amount-weighted δ<tspan font-size="6.5" dy="-3.6">18</tspan><tspan dy="3.6">O</tspan><tspan font-size="6.5" dy="1.2">p</tspan><tspan dy="-1.2"> vs. prcp amt</tspan></text>
<text x="478.7" y="8" font-size="10.2" font-weight="bold" textLength="82.9" lengthAdjust="spacingAndGlyphs">JJAS Correlations</text>
<text x="434" y="21.3" font-size="10.2" font-weight="bold" fill="#111" textLength="175" lengthAdjust="spacingAndGlyphs">Amount-weighted δ<tspan font-size="6.5" dy="-3.6">18</tspan><tspan dy="3.6">O</tspan><tspan font-size="6.5" dy="1.2">p</tspan><tspan dy="-1.2"> vs. prcp amt</tspan></text>
<defs><linearGradient id="cbg" x1="0" x2="1" y1="0" y2="0"><stop offset="0" stop-color="#211ee1"/><stop offset="0.5" stop-color="#ffffff"/><stop offset="1" stop-color="#e60808"/></linearGradient></defs>
<rect x="74.5" y="239" width="214" height="12.3" fill="url(#cbg)" stroke="#555" stroke-width="0.7"/>
<line x1="89.79" y1="244" x2="89.79" y2="251.3" stroke="#333" stroke-width="0.9"/>
<text x="88.29" y="263.6" font-size="9.5" text-anchor="middle">-0.6</text>
<line x1="120.36" y1="244" x2="120.36" y2="251.3" stroke="#333" stroke-width="0.9"/>
<text x="118.86" y="263.6" font-size="9.5" text-anchor="middle">-0.4</text>
<line x1="150.93" y1="244" x2="150.93" y2="251.3" stroke="#333" stroke-width="0.9"/>
<text x="149.43" y="263.6" font-size="9.5" text-anchor="middle">-0.2</text>
<line x1="181.5" y1="244" x2="181.5" y2="251.3" stroke="#333" stroke-width="0.9"/>
<text x="181.5" y="263.6" font-size="9.5" text-anchor="middle">0</text>
<line x1="212.07" y1="244" x2="212.07" y2="251.3" stroke="#333" stroke-width="0.9"/>
<text x="212.07" y="263.6" font-size="9.5" text-anchor="middle">0.2</text>
<line x1="242.64" y1="244" x2="242.64" y2="251.3" stroke="#333" stroke-width="0.9"/>
<text x="242.64" y="263.6" font-size="9.5" text-anchor="middle">0.4</text>
<line x1="273.21" y1="244" x2="273.21" y2="251.3" stroke="#333" stroke-width="0.9"/>
<text x="273.21" y="263.6" font-size="9.5" text-anchor="middle">0.6</text>
<text x="128" y="281.9" font-size="11" textLength="107.4" lengthAdjust="spacingAndGlyphs">Correlation Coefficients</text>
<rect x="415" y="239" width="214" height="12.3" fill="url(#cbg)" stroke="#555" stroke-width="0.7"/>
<line x1="430.29" y1="244" x2="430.29" y2="251.3" stroke="#333" stroke-width="0.9"/>
<text x="428.79" y="263.6" font-size="9.5" text-anchor="middle">-0.6</text>
<line x1="460.86" y1="244" x2="460.86" y2="251.3" stroke="#333" stroke-width="0.9"/>
<text x="459.36" y="263.6" font-size="9.5" text-anchor="middle">-0.4</text>
<line x1="491.43" y1="244" x2="491.43" y2="251.3" stroke="#333" stroke-width="0.9"/>
<text x="489.93" y="263.6" font-size="9.5" text-anchor="middle">-0.2</text>
<line x1="522" y1="244" x2="522" y2="251.3" stroke="#333" stroke-width="0.9"/>
<text x="522" y="263.6" font-size="9.5" text-anchor="middle">0</text>
<line x1="552.57" y1="244" x2="552.57" y2="251.3" stroke="#333" stroke-width="0.9"/>
<text x="552.57" y="263.6" font-size="9.5" text-anchor="middle">0.2</text>
<line x1="583.14" y1="244" x2="583.14" y2="251.3" stroke="#333" stroke-width="0.9"/>
<text x="583.14" y="263.6" font-size="9.5" text-anchor="middle">0.4</text>
<line x1="613.71" y1="244" x2="613.71" y2="251.3" stroke="#333" stroke-width="0.9"/>
<text x="613.71" y="263.6" font-size="9.5" text-anchor="middle">0.6</text>
<text x="468.5" y="281.9" font-size="11" textLength="107.4" lengthAdjust="spacingAndGlyphs">Correlation Coefficients</text>
<rect x="1" y="295.5" width="683.3" height="413.6" rx="12.5" fill="none" stroke="#4a4a4a" stroke-width="1.1"/>
<text x="14" y="315.7" font-size="13" font-weight="bold" fill="#000">c</text>
<text x="374.2" y="319.1" font-size="13" font-weight="bold" fill="#000">d</text>
<rect x="72.8" y="308.5" width="192.6" height="138" rx="13.5" fill="none" stroke="#4a4a4a" stroke-width="1.1"/>
<rect x="425.5" y="305.3" width="192.5" height="140.8" rx="13.5" fill="none" stroke="#4a4a4a" stroke-width="1.1"/>
<text x="101" y="319.8" font-size="9" font-weight="bold" fill="#111" textLength="138" lengthAdjust="spacingAndGlyphs">IsoGSM  <tspan font-family="Liberation Serif" font-weight="normal" font-size="10">δ</tspan><tspan font-size="5.6" dy="-3.2">18</tspan><tspan dy="3.2">O</tspan><tspan font-size="5.6" dy="1.3">p</tspan><tspan dy="-1.3"> (@ Sahiya) vs. prcp</tspan></text>
<text x="453.6" y="317.5" font-size="9" font-weight="bold" fill="#111" textLength="136.7" lengthAdjust="spacingAndGlyphs">IsoGSM <tspan font-family="Liberation Serif" font-weight="normal" font-size="10">δ</tspan><tspan font-size="5.6" dy="-3.2">18</tspan><tspan dy="3.2">O</tspan><tspan font-size="5.6" dy="1.3">p</tspan><tspan dy="-1.3"> (@Jhumar) vs. prcp</tspan></text>
<text x="90" y="332.6" font-size="9" font-weight="bold" fill="#111" textLength="171" lengthAdjust="spacingAndGlyphs"><tspan font-style="italic">r</tspan> = -0.54 [-0.77, -0.19], <tspan font-style="italic">N</tspan> = 38, <tspan font-style="italic">edof</tspan> = 30.5</text>
<text x="439.2" y="330" font-size="9" font-weight="bold" fill="#111" textLength="171.7" lengthAdjust="spacingAndGlyphs"><tspan font-style="italic">r</tspan> = -0.59 [-0.73, -0.41], <tspan font-style="italic">N</tspan> = 38, <tspan font-style="italic">edof</tspan> = 35.6</text>
<line x1="111.6" y1="354.4" x2="111.6" y2="423.1" stroke="#6f6fff" stroke-width="1.2"/>
<line x1="107" y1="423.1" x2="111.6" y2="423.1" stroke="#6f6fff" stroke-width="1"/>
<line x1="109" y1="417.38" x2="111.6" y2="417.38" stroke="#6f6fff" stroke-width="1"/>
<line x1="109" y1="411.65" x2="111.6" y2="411.65" stroke="#6f6fff" stroke-width="1"/>
<line x1="109" y1="405.93" x2="111.6" y2="405.93" stroke="#6f6fff" stroke-width="1"/>
<line x1="107" y1="400.2" x2="111.6" y2="400.2" stroke="#6f6fff" stroke-width="1"/>
<line x1="109" y1="394.48" x2="111.6" y2="394.48" stroke="#6f6fff" stroke-width="1"/>
<line x1="109" y1="388.75" x2="111.6" y2="388.75" stroke="#6f6fff" stroke-width="1"/>
<line x1="109" y1="383.03" x2="111.6" y2="383.03" stroke="#6f6fff" stroke-width="1"/>
<line x1="107" y1="377.3" x2="111.6" y2="377.3" stroke="#6f6fff" stroke-width="1"/>
<line x1="109" y1="371.58" x2="111.6" y2="371.58" stroke="#6f6fff" stroke-width="1"/>
<line x1="109" y1="365.85" x2="111.6" y2="365.85" stroke="#6f6fff" stroke-width="1"/>
<line x1="109" y1="360.12" x2="111.6" y2="360.12" stroke="#6f6fff" stroke-width="1"/>
<line x1="107" y1="354.4" x2="111.6" y2="354.4" stroke="#6f6fff" stroke-width="1"/>
<text x="106.2" y="357.57" font-size="8.8" fill="#0000ff" text-anchor="end" textLength="14.7" lengthAdjust="spacingAndGlyphs">800</text>
<text x="106.2" y="380.47" font-size="8.8" fill="#0000ff" text-anchor="end" textLength="14.7" lengthAdjust="spacingAndGlyphs">600</text>
<text x="106.2" y="403.37" font-size="8.8" fill="#0000ff" text-anchor="end" textLength="14.7" lengthAdjust="spacingAndGlyphs">400</text>
<text x="106.2" y="426.27" font-size="8.8" fill="#0000ff" text-anchor="end" textLength="14.7" lengthAdjust="spacingAndGlyphs">200</text>
<line x1="231.4" y1="359.2" x2="231.4" y2="423" stroke="#ff8080" stroke-width="1.2"/>
<line x1="231.4" y1="359.2" x2="236.6" y2="359.2" stroke="#ff8080" stroke-width="1"/>
<line x1="231.4" y1="367.18" x2="234.6" y2="367.18" stroke="#ff8080" stroke-width="1"/>
<line x1="231.4" y1="375.15" x2="236.6" y2="375.15" stroke="#ff8080" stroke-width="1"/>
<line x1="231.4" y1="383.12" x2="234.6" y2="383.12" stroke="#ff8080" stroke-width="1"/>
<line x1="231.4" y1="391.1" x2="236.6" y2="391.1" stroke="#ff8080" stroke-width="1"/>
<line x1="231.4" y1="399.07" x2="234.6" y2="399.07" stroke="#ff8080" stroke-width="1"/>
<line x1="231.4" y1="407.05" x2="236.6" y2="407.05" stroke="#ff8080" stroke-width="1"/>
<line x1="231.4" y1="415.02" x2="234.6" y2="415.02" stroke="#ff8080" stroke-width="1"/>
<line x1="231.4" y1="423" x2="236.6" y2="423" stroke="#ff8080" stroke-width="1"/>
<text x="237" y="362.37" font-size="8.8" fill="#ff0000" textLength="13.1" lengthAdjust="spacingAndGlyphs">-10</text>
<text x="237" y="378.32" font-size="8.8" fill="#ff0000" textLength="8.9" lengthAdjust="spacingAndGlyphs">-8</text>
<text x="237" y="394.27" font-size="8.8" fill="#ff0000" textLength="8.9" lengthAdjust="spacingAndGlyphs">-6</text>
<text x="237" y="410.22" font-size="8.8" fill="#ff0000" textLength="8.9" lengthAdjust="spacingAndGlyphs">-4</text>
<text x="237" y="426.17" font-size="8.8" fill="#ff0000" textLength="8.9" lengthAdjust="spacingAndGlyphs">-2</text>
<line x1="114" y1="429.6" x2="228" y2="429.6" stroke="#555" stroke-width="1.1"/>
<line x1="114.3" y1="429.6" x2="114.3" y2="431.2" stroke="#555" stroke-width="0.9"/>
<line x1="117.35" y1="429.6" x2="117.35" y2="433.2" stroke="#555" stroke-width="0.9"/>
<line x1="120.4" y1="429.6" x2="120.4" y2="431.2" stroke="#555" stroke-width="0.9"/>
<line x1="123.45" y1="429.6" x2="123.45" y2="431.2" stroke="#555" stroke-width="0.9"/>
<line x1="126.5" y1="429.6" x2="126.5" y2="431.2" stroke="#555" stroke-width="0.9"/>
<line x1="129.55" y1="429.6" x2="129.55" y2="431.2" stroke="#555" stroke-width="0.9"/>
<line x1="132.6" y1="429.6" x2="132.6" y2="433.2" stroke="#555" stroke-width="0.9"/>
<line x1="135.65" y1="429.6" x2="135.65" y2="431.2" stroke="#555" stroke-width="0.9"/>
<line x1="138.7" y1="429.6" x2="138.7" y2="431.2" stroke="#555" stroke-width="0.9"/>
<line x1="141.75" y1="429.6" x2="141.75" y2="431.2" stroke="#555" stroke-width="0.9"/>
<line x1="144.8" y1="429.6" x2="144.8" y2="431.2" stroke="#555" stroke-width="0.9"/>
<line x1="147.85" y1="429.6" x2="147.85" y2="433.2" stroke="#555" stroke-width="0.9"/>
<line x1="150.9" y1="429.6" x2="150.9" y2="431.2" stroke="#555" stroke-width="0.9"/>
<line x1="153.95" y1="429.6" x2="153.95" y2="431.2" stroke="#555" stroke-width="0.9"/>
<line x1="157" y1="429.6" x2="157" y2="431.2" stroke="#555" stroke-width="0.9"/>
<line x1="160.05" y1="429.6" x2="160.05" y2="431.2" stroke="#555" stroke-width="0.9"/>
<line x1="163.1" y1="429.6" x2="163.1" y2="433.2" stroke="#555" stroke-width="0.9"/>
<line x1="166.15" y1="429.6" x2="166.15" y2="431.2" stroke="#555" stroke-width="0.9"/>
<line x1="169.2" y1="429.6" x2="169.2" y2="431.2" stroke="#555" stroke-width="0.9"/>
<line x1="172.25" y1="429.6" x2="172.25" y2="431.2" stroke="#555" stroke-width="0.9"/>
<line x1="175.3" y1="429.6" x2="175.3" y2="431.2" stroke="#555" stroke-width="0.9"/>
<line x1="178.35" y1="429.6" x2="178.35" y2="433.2" stroke="#555" stroke-width="0.9"/>
<line x1="181.4" y1="429.6" x2="181.4" y2="431.2" stroke="#555" stroke-width="0.9"/>
<line x1="184.45" y1="429.6" x2="184.45" y2="431.2" stroke="#555" stroke-width="0.9"/>
<line x1="187.5" y1="429.6" x2="187.5" y2="431.2" stroke="#555" stroke-width="0.9"/>
<line x1="190.55" y1="429.6" x2="190.55" y2="431.2" stroke="#555" stroke-width="0.9"/>
<line x1="193.6" y1="429.6" x2="193.6" y2="433.2" stroke="#555" stroke-width="0.9"/>
<line x1="196.65" y1="429.6" x2="196.65" y2="431.2" stroke="#555" stroke-width="0.9"/>
<line x1="199.7" y1="429.6" x2="199.7" y2="431.2" stroke="#555" stroke-width="0.9"/>
<line x1="202.75" y1="429.6" x2="202.75" y2="431.2" stroke="#555" stroke-width="0.9"/>
<line x1="205.8" y1="429.6" x2="205.8" y2="431.2" stroke="#555" stroke-width="0.9"/>
<line x1="208.85" y1="429.6" x2="208.85" y2="433.2" stroke="#555" stroke-width="0.9"/>
<line x1="211.9" y1="429.6" x2="211.9" y2="431.2" stroke="#555" stroke-width="0.9"/>
<line x1="214.95" y1="429.6" x2="214.95" y2="431.2" stroke="#555" stroke-width="0.9"/>
<line x1="218" y1="429.6" x2="218" y2="431.2" stroke="#555" stroke-width="0.9"/>
<line x1="221.05" y1="429.6" x2="221.05" y2="431.2" stroke="#555" stroke-width="0.9"/>
<line x1="224.1" y1="429.6" x2="224.1" y2="433.2" stroke="#555" stroke-width="0.9"/>
<line x1="227.15" y1="429.6" x2="227.15" y2="431.2" stroke="#555" stroke-width="0.9"/>
<text x="117.4" y="440.9" font-size="8.6" text-anchor="middle" textLength="18.9" lengthAdjust="spacingAndGlyphs">1980</text>
<text x="147.9" y="440.9" font-size="8.6" text-anchor="middle" textLength="18.9" lengthAdjust="spacingAndGlyphs">1990</text>
<text x="178.4" y="440.9" font-size="8.6" text-anchor="middle" textLength="18.9" lengthAdjust="spacingAndGlyphs">2000</text>
<text x="208.9" y="440.9" font-size="8.6" text-anchor="middle" textLength="18.9" lengthAdjust="spacingAndGlyphs">2010</text>
<text x="82.8" y="385.6" font-size="10.2" font-weight="bold" fill="#0000ff" text-anchor="middle" textLength="59" lengthAdjust="spacingAndGlyphs" transform="rotate(-90 82.8 385.6)" dominant-baseline="central">JJAS prcp (mm)</text>
<text x="253.7" y="387.1" font-size="10.4" font-weight="bold" fill="#ff1a1a" text-anchor="middle" textLength="36.9" lengthAdjust="spacingAndGlyphs" transform="rotate(-90 253.7 387.1)" dominant-baseline="central">δ<tspan font-size="6.4" dy="-3.6">18</tspan><tspan dy="3.6">O</tspan><tspan font-weight="normal">(‰)</tspan></text>
<line x1="464.4" y1="347.8" x2="464.4" y2="428.9" stroke="#6f6fff" stroke-width="1.2"/>
<line x1="459.8" y1="428.9" x2="464.4" y2="428.9" stroke="#6f6fff" stroke-width="1"/>
<line x1="461.8" y1="418.76" x2="464.4" y2="418.76" stroke="#6f6fff" stroke-width="1"/>
<line x1="459.8" y1="408.62" x2="464.4" y2="408.62" stroke="#6f6fff" stroke-width="1"/>
<line x1="461.8" y1="398.48" x2="464.4" y2="398.48" stroke="#6f6fff" stroke-width="1"/>
<line x1="459.8" y1="388.34" x2="464.4" y2="388.34" stroke="#6f6fff" stroke-width="1"/>
<line x1="461.8" y1="378.2" x2="464.4" y2="378.2" stroke="#6f6fff" stroke-width="1"/>
<line x1="459.8" y1="368.06" x2="464.4" y2="368.06" stroke="#6f6fff" stroke-width="1"/>
<line x1="461.8" y1="357.92" x2="464.4" y2="357.92" stroke="#6f6fff" stroke-width="1"/>
<line x1="459.8" y1="347.78" x2="464.4" y2="347.78" stroke="#6f6fff" stroke-width="1"/>
<text x="458.4" y="350.97" font-size="8.8" fill="#0000ff" text-anchor="end" textLength="18.88" lengthAdjust="spacingAndGlyphs">1200</text>
<text x="458.4" y="371.27" font-size="8.8" fill="#0000ff" text-anchor="end" textLength="18.88" lengthAdjust="spacingAndGlyphs">1000</text>
<text x="458.4" y="391.57" font-size="8.8" fill="#0000ff" text-anchor="end" textLength="14.16" lengthAdjust="spacingAndGlyphs">800</text>
<text x="458.4" y="411.77" font-size="8.8" fill="#0000ff" text-anchor="end" textLength="14.16" lengthAdjust="spacingAndGlyphs">600</text>
<text x="458.4" y="432.07" font-size="8.8" fill="#0000ff" text-anchor="end" textLength="14.16" lengthAdjust="spacingAndGlyphs">400</text>
<line x1="583.4" y1="347.8" x2="583.4" y2="428.7" stroke="#ff8080" stroke-width="1.2"/>
<line x1="583.4" y1="347.8" x2="587.6" y2="347.8" stroke="#ff8080" stroke-width="1"/>
<line x1="583.4" y1="357.91" x2="586" y2="357.91" stroke="#ff8080" stroke-width="1"/>
<line x1="583.4" y1="368.02" x2="587.6" y2="368.02" stroke="#ff8080" stroke-width="1"/>
<line x1="583.4" y1="378.13" x2="586" y2="378.13" stroke="#ff8080" stroke-width="1"/>
<line x1="583.4" y1="388.24" x2="587.6" y2="388.24" stroke="#ff8080" stroke-width="1"/>
<line x1="583.4" y1="398.35" x2="586" y2="398.35" stroke="#ff8080" stroke-width="1"/>
<line x1="583.4" y1="408.46" x2="587.6" y2="408.46" stroke="#ff8080" stroke-width="1"/>
<line x1="583.4" y1="418.57" x2="586" y2="418.57" stroke="#ff8080" stroke-width="1"/>
<line x1="583.4" y1="428.68" x2="587.6" y2="428.68" stroke="#ff8080" stroke-width="1"/>
<text x="588.4" y="350.97" font-size="8.8" fill="#ff0000" textLength="7.4" lengthAdjust="spacingAndGlyphs">-6</text>
<text x="588.4" y="371.17" font-size="8.8" fill="#ff0000" textLength="7.4" lengthAdjust="spacingAndGlyphs">-5</text>
<text x="588.4" y="391.37" font-size="8.8" fill="#ff0000" textLength="7.4" lengthAdjust="spacingAndGlyphs">-4</text>
<text x="588.4" y="411.67" font-size="8.8" fill="#ff0000" textLength="7.4" lengthAdjust="spacingAndGlyphs">-3</text>
<text x="588.4" y="431.87" font-size="8.8" fill="#ff0000" textLength="7.4" lengthAdjust="spacingAndGlyphs">-2</text>
<line x1="467.8" y1="432.3" x2="580.5" y2="432.3" stroke="#555" stroke-width="1.1"/>
<line x1="468.2" y1="432.3" x2="468.2" y2="433.9" stroke="#555" stroke-width="0.9"/>
<line x1="471.2" y1="432.3" x2="471.2" y2="435.9" stroke="#555" stroke-width="0.9"/>
<line x1="474.2" y1="432.3" x2="474.2" y2="433.9" stroke="#555" stroke-width="0.9"/>
<line x1="477.2" y1="432.3" x2="477.2" y2="433.9" stroke="#555" stroke-width="0.9"/>
<line x1="480.2" y1="432.3" x2="480.2" y2="433.9" stroke="#555" stroke-width="0.9"/>
<line x1="483.2" y1="432.3" x2="483.2" y2="433.9" stroke="#555" stroke-width="0.9"/>
<line x1="486.2" y1="432.3" x2="486.2" y2="435.9" stroke="#555" stroke-width="0.9"/>
<line x1="489.2" y1="432.3" x2="489.2" y2="433.9" stroke="#555" stroke-width="0.9"/>
<line x1="492.2" y1="432.3" x2="492.2" y2="433.9" stroke="#555" stroke-width="0.9"/>
<line x1="495.2" y1="432.3" x2="495.2" y2="433.9" stroke="#555" stroke-width="0.9"/>
<line x1="498.2" y1="432.3" x2="498.2" y2="433.9" stroke="#555" stroke-width="0.9"/>
<line x1="501.2" y1="432.3" x2="501.2" y2="435.9" stroke="#555" stroke-width="0.9"/>
<line x1="504.2" y1="432.3" x2="504.2" y2="433.9" stroke="#555" stroke-width="0.9"/>
<line x1="507.2" y1="432.3" x2="507.2" y2="433.9" stroke="#555" stroke-width="0.9"/>
<line x1="510.2" y1="432.3" x2="510.2" y2="433.9" stroke="#555" stroke-width="0.9"/>
<line x1="513.2" y1="432.3" x2="513.2" y2="433.9" stroke="#555" stroke-width="0.9"/>
<line x1="516.2" y1="432.3" x2="516.2" y2="435.9" stroke="#555" stroke-width="0.9"/>
<line x1="519.2" y1="432.3" x2="519.2" y2="433.9" stroke="#555" stroke-width="0.9"/>
<line x1="522.2" y1="432.3" x2="522.2" y2="433.9" stroke="#555" stroke-width="0.9"/>
<line x1="525.2" y1="432.3" x2="525.2" y2="433.9" stroke="#555" stroke-width="0.9"/>
<line x1="528.2" y1="432.3" x2="528.2" y2="433.9" stroke="#555" stroke-width="0.9"/>
<line x1="531.2" y1="432.3" x2="531.2" y2="435.9" stroke="#555" stroke-width="0.9"/>
<line x1="534.2" y1="432.3" x2="534.2" y2="433.9" stroke="#555" stroke-width="0.9"/>
<line x1="537.2" y1="432.3" x2="537.2" y2="433.9" stroke="#555" stroke-width="0.9"/>
<line x1="540.2" y1="432.3" x2="540.2" y2="433.9" stroke="#555" stroke-width="0.9"/>
<line x1="543.2" y1="432.3" x2="543.2" y2="433.9" stroke="#555" stroke-width="0.9"/>
<line x1="546.2" y1="432.3" x2="546.2" y2="435.9" stroke="#555" stroke-width="0.9"/>
<line x1="549.2" y1="432.3" x2="549.2" y2="433.9" stroke="#555" stroke-width="0.9"/>
<line x1="552.2" y1="432.3" x2="552.2" y2="433.9" stroke="#555" stroke-width="0.9"/>
<line x1="555.2" y1="432.3" x2="555.2" y2="433.9" stroke="#555" stroke-width="0.9"/>
<line x1="558.2" y1="432.3" x2="558.2" y2="433.9" stroke="#555" stroke-width="0.9"/>
<line x1="561.2" y1="432.3" x2="561.2" y2="435.9" stroke="#555" stroke-width="0.9"/>
<line x1="564.2" y1="432.3" x2="564.2" y2="433.9" stroke="#555" stroke-width="0.9"/>
<line x1="567.2" y1="432.3" x2="567.2" y2="433.9" stroke="#555" stroke-width="0.9"/>
<line x1="570.2" y1="432.3" x2="570.2" y2="433.9" stroke="#555" stroke-width="0.9"/>
<line x1="573.2" y1="432.3" x2="573.2" y2="433.9" stroke="#555" stroke-width="0.9"/>
<line x1="576.2" y1="432.3" x2="576.2" y2="435.9" stroke="#555" stroke-width="0.9"/>
<line x1="579.2" y1="432.3" x2="579.2" y2="433.9" stroke="#555" stroke-width="0.9"/>
<text x="471.2" y="443.6" font-size="8.6" text-anchor="middle" textLength="17.5" lengthAdjust="spacingAndGlyphs">1980</text>
<text x="501.2" y="443.6" font-size="8.6" text-anchor="middle" textLength="17.5" lengthAdjust="spacingAndGlyphs">1990</text>
<text x="531.2" y="443.6" font-size="8.6" text-anchor="middle" textLength="17.5" lengthAdjust="spacingAndGlyphs">2000</text>
<text x="561.2" y="443.6" font-size="8.6" text-anchor="middle" textLength="17.5" lengthAdjust="spacingAndGlyphs">2010</text>
<text x="432.7" y="384.3" font-size="10.2" font-weight="bold" fill="#0000ff" text-anchor="middle" textLength="60" lengthAdjust="spacingAndGlyphs" transform="rotate(-90 432.7 384.3)" dominant-baseline="central">JJAS prcp (mm)</text>
<text x="604.2" y="384.9" font-size="10.4" font-weight="bold" fill="#ff1a1a" text-anchor="middle" textLength="36.3" lengthAdjust="spacingAndGlyphs" transform="rotate(-90 604.2 384.9)" dominant-baseline="central">δ<tspan font-size="6.4" dy="-3.6">18</tspan><tspan dy="3.6">O</tspan><tspan font-weight="normal">(‰)</tspan></text>
<line x1="61.7" y1="482.7" x2="61.7" y2="625.4" stroke="#6f6fff" stroke-width="1.2"/>
<line x1="56.3" y1="625.4" x2="61.7" y2="625.4" stroke="#6f6fff" stroke-width="1"/>
<line x1="58.4" y1="611.13" x2="61.7" y2="611.13" stroke="#6f6fff" stroke-width="1"/>
<line x1="56.3" y1="596.86" x2="61.7" y2="596.86" stroke="#6f6fff" stroke-width="1"/>
<line x1="58.4" y1="582.59" x2="61.7" y2="582.59" stroke="#6f6fff" stroke-width="1"/>
<line x1="56.3" y1="568.32" x2="61.7" y2="568.32" stroke="#6f6fff" stroke-width="1"/>
<line x1="58.4" y1="554.05" x2="61.7" y2="554.05" stroke="#6f6fff" stroke-width="1"/>
<line x1="56.3" y1="539.78" x2="61.7" y2="539.78" stroke="#6f6fff" stroke-width="1"/>
<line x1="58.4" y1="525.51" x2="61.7" y2="525.51" stroke="#6f6fff" stroke-width="1"/>
<line x1="56.3" y1="511.24" x2="61.7" y2="511.24" stroke="#6f6fff" stroke-width="1"/>
<line x1="58.4" y1="496.97" x2="61.7" y2="496.97" stroke="#6f6fff" stroke-width="1"/>
<line x1="56.3" y1="482.7" x2="61.7" y2="482.7" stroke="#6f6fff" stroke-width="1"/>
<text x="54.5" y="486.16" font-size="9.6" fill="#0000ff" text-anchor="end" textLength="14.25" lengthAdjust="spacingAndGlyphs">740</text>
<text x="54.5" y="514.66" font-size="9.6" fill="#0000ff" text-anchor="end" textLength="14.25" lengthAdjust="spacingAndGlyphs">720</text>
<text x="54.5" y="543.26" font-size="9.6" fill="#0000ff" text-anchor="end" textLength="14.25" lengthAdjust="spacingAndGlyphs">700</text>
<text x="54.5" y="571.76" font-size="9.6" fill="#0000ff" text-anchor="end" textLength="14.25" lengthAdjust="spacingAndGlyphs">680</text>
<text x="54.5" y="600.36" font-size="9.6" fill="#0000ff" text-anchor="end" textLength="14.25" lengthAdjust="spacingAndGlyphs">660</text>
<text x="54.5" y="628.86" font-size="9.6" fill="#0000ff" text-anchor="end" textLength="14.25" lengthAdjust="spacingAndGlyphs">640</text>
<line x1="276.9" y1="492.8" x2="276.9" y2="635.8" stroke="#ff8080" stroke-width="1.2"/>
<line x1="276.9" y1="492.8" x2="282.7" y2="492.8" stroke="#ff8080" stroke-width="1"/>
<line x1="276.9" y1="507.1" x2="280.7" y2="507.1" stroke="#ff8080" stroke-width="1"/>
<line x1="276.9" y1="521.4" x2="282.7" y2="521.4" stroke="#ff8080" stroke-width="1"/>
<line x1="276.9" y1="535.7" x2="280.7" y2="535.7" stroke="#ff8080" stroke-width="1"/>
<line x1="276.9" y1="550" x2="282.7" y2="550" stroke="#ff8080" stroke-width="1"/>
<line x1="276.9" y1="564.3" x2="280.7" y2="564.3" stroke="#ff8080" stroke-width="1"/>
<line x1="276.9" y1="578.6" x2="282.7" y2="578.6" stroke="#ff8080" stroke-width="1"/>
<line x1="276.9" y1="592.9" x2="280.7" y2="592.9" stroke="#ff8080" stroke-width="1"/>
<line x1="276.9" y1="607.2" x2="282.7" y2="607.2" stroke="#ff8080" stroke-width="1"/>
<line x1="276.9" y1="621.5" x2="280.7" y2="621.5" stroke="#ff8080" stroke-width="1"/>
<line x1="276.9" y1="635.8" x2="282.7" y2="635.8" stroke="#ff8080" stroke-width="1"/>
<text x="286" y="496.26" font-size="9.6" fill="#ff3030" textLength="15.2" lengthAdjust="spacingAndGlyphs">-9.2</text>
<text x="286" y="524.86" font-size="9.6" fill="#ff3030" textLength="7.7" lengthAdjust="spacingAndGlyphs">-9</text>
<text x="286" y="553.46" font-size="9.6" fill="#ff3030" textLength="15.2" lengthAdjust="spacingAndGlyphs">-8.8</text>
<text x="286" y="582.06" font-size="9.6" fill="#ff3030" textLength="15.2" lengthAdjust="spacingAndGlyphs">-8.6</text>
<text x="286" y="610.66" font-size="9.6" fill="#ff3030" textLength="15.2" lengthAdjust="spacingAndGlyphs">-8.4</text>
<text x="286" y="639.26" font-size="9.6" fill="#ff3030" textLength="15.2" lengthAdjust="spacingAndGlyphs">-8.2</text>
<line x1="62.8" y1="634.6" x2="274.8" y2="634.6" stroke="#555" stroke-width="1.1"/>
<line x1="63.3" y1="634.6" x2="63.3" y2="642" stroke="#555" stroke-width="0.9"/>
<line x1="67.28" y1="634.6" x2="67.28" y2="638.2" stroke="#555" stroke-width="0.9"/>
<line x1="71.26" y1="634.6" x2="71.26" y2="638.2" stroke="#555" stroke-width="0.9"/>
<line x1="75.25" y1="634.6" x2="75.25" y2="638.2" stroke="#555" stroke-width="0.9"/>
<line x1="79.23" y1="634.6" x2="79.23" y2="638.2" stroke="#555" stroke-width="0.9"/>
<line x1="83.21" y1="634.6" x2="83.21" y2="642" stroke="#555" stroke-width="0.9"/>
<line x1="87.19" y1="634.6" x2="87.19" y2="638.2" stroke="#555" stroke-width="0.9"/>
<line x1="91.17" y1="634.6" x2="91.17" y2="638.2" stroke="#555" stroke-width="0.9"/>
<line x1="95.16" y1="634.6" x2="95.16" y2="638.2" stroke="#555" stroke-width="0.9"/>
<line x1="99.14" y1="634.6" x2="99.14" y2="638.2" stroke="#555" stroke-width="0.9"/>
<line x1="103.12" y1="634.6" x2="103.12" y2="642" stroke="#555" stroke-width="0.9"/>
<line x1="107.1" y1="634.6" x2="107.1" y2="638.2" stroke="#555" stroke-width="0.9"/>
<line x1="111.08" y1="634.6" x2="111.08" y2="638.2" stroke="#555" stroke-width="0.9"/>
<line x1="115.07" y1="634.6" x2="115.07" y2="638.2" stroke="#555" stroke-width="0.9"/>
<line x1="119.05" y1="634.6" x2="119.05" y2="638.2" stroke="#555" stroke-width="0.9"/>
<line x1="123.03" y1="634.6" x2="123.03" y2="642" stroke="#555" stroke-width="0.9"/>
<line x1="127.01" y1="634.6" x2="127.01" y2="638.2" stroke="#555" stroke-width="0.9"/>
<line x1="130.99" y1="634.6" x2="130.99" y2="638.2" stroke="#555" stroke-width="0.9"/>
<line x1="134.98" y1="634.6" x2="134.98" y2="638.2" stroke="#555" stroke-width="0.9"/>
<line x1="138.96" y1="634.6" x2="138.96" y2="638.2" stroke="#555" stroke-width="0.9"/>
<line x1="142.94" y1="634.6" x2="142.94" y2="642" stroke="#555" stroke-width="0.9"/>
<line x1="146.92" y1="634.6" x2="146.92" y2="638.2" stroke="#555" stroke-width="0.9"/>
<line x1="150.9" y1="634.6" x2="150.9" y2="638.2" stroke="#555" stroke-width="0.9"/>
<line x1="154.89" y1="634.6" x2="154.89" y2="638.2" stroke="#555" stroke-width="0.9"/>
<line x1="158.87" y1="634.6" x2="158.87" y2="638.2" stroke="#555" stroke-width="0.9"/>
<line x1="162.85" y1="634.6" x2="162.85" y2="642" stroke="#555" stroke-width="0.9"/>
<line x1="166.83" y1="634.6" x2="166.83" y2="638.2" stroke="#555" stroke-width="0.9"/>
<line x1="170.81" y1="634.6" x2="170.81" y2="638.2" stroke="#555" stroke-width="0.9"/>
<line x1="174.8" y1="634.6" x2="174.8" y2="638.2" stroke="#555" stroke-width="0.9"/>
<line x1="178.78" y1="634.6" x2="178.78" y2="638.2" stroke="#555" stroke-width="0.9"/>
<line x1="182.76" y1="634.6" x2="182.76" y2="642" stroke="#555" stroke-width="0.9"/>
<line x1="186.74" y1="634.6" x2="186.74" y2="638.2" stroke="#555" stroke-width="0.9"/>
<line x1="190.72" y1="634.6" x2="190.72" y2="638.2" stroke="#555" stroke-width="0.9"/>
<line x1="194.71" y1="634.6" x2="194.71" y2="638.2" stroke="#555" stroke-width="0.9"/>
<line x1="198.69" y1="634.6" x2="198.69" y2="638.2" stroke="#555" stroke-width="0.9"/>
<line x1="202.67" y1="634.6" x2="202.67" y2="642" stroke="#555" stroke-width="0.9"/>
<line x1="206.65" y1="634.6" x2="206.65" y2="638.2" stroke="#555" stroke-width="0.9"/>
<line x1="210.63" y1="634.6" x2="210.63" y2="638.2" stroke="#555" stroke-width="0.9"/>
<line x1="214.62" y1="634.6" x2="214.62" y2="638.2" stroke="#555" stroke-width="0.9"/>
<line x1="218.6" y1="634.6" x2="218.6" y2="638.2" stroke="#555" stroke-width="0.9"/>
<line x1="222.58" y1="634.6" x2="222.58" y2="642" stroke="#555" stroke-width="0.9"/>
<line x1="226.56" y1="634.6" x2="226.56" y2="638.2" stroke="#555" stroke-width="0.9"/>
<line x1="230.54" y1="634.6" x2="230.54" y2="638.2" stroke="#555" stroke-width="0.9"/>
<line x1="234.53" y1="634.6" x2="234.53" y2="638.2" stroke="#555" stroke-width="0.9"/>
<line x1="238.51" y1="634.6" x2="238.51" y2="638.2" stroke="#555" stroke-width="0.9"/>
<line x1="242.49" y1="634.6" x2="242.49" y2="642" stroke="#555" stroke-width="0.9"/>
<line x1="246.47" y1="634.6" x2="246.47" y2="638.2" stroke="#555" stroke-width="0.9"/>
<line x1="250.45" y1="634.6" x2="250.45" y2="638.2" stroke="#555" stroke-width="0.9"/>
<line x1="254.44" y1="634.6" x2="254.44" y2="638.2" stroke="#555" stroke-width="0.9"/>
<line x1="258.42" y1="634.6" x2="258.42" y2="638.2" stroke="#555" stroke-width="0.9"/>
<line x1="262.4" y1="634.6" x2="262.4" y2="642" stroke="#555" stroke-width="0.9"/>
<line x1="266.38" y1="634.6" x2="266.38" y2="638.2" stroke="#555" stroke-width="0.9"/>
<line x1="270.36" y1="634.6" x2="270.36" y2="638.2" stroke="#555" stroke-width="0.9"/>
<line x1="274.35" y1="634.6" x2="274.35" y2="638.2" stroke="#555" stroke-width="0.9"/>
<text x="65" y="653.4" font-size="9.6" text-anchor="middle" textLength="20.2" lengthAdjust="spacingAndGlyphs">1900</text>
<text x="104.8" y="653.4" font-size="9.6" text-anchor="middle" textLength="20.2" lengthAdjust="spacingAndGlyphs">1920</text>
<text x="144.5" y="653.4" font-size="9.6" text-anchor="middle" textLength="20.2" lengthAdjust="spacingAndGlyphs">1940</text>
<text x="184.4" y="653.4" font-size="9.6" text-anchor="middle" textLength="20.2" lengthAdjust="spacingAndGlyphs">1960</text>
<text x="224.2" y="653.4" font-size="9.6" text-anchor="middle" textLength="20.2" lengthAdjust="spacingAndGlyphs">1980</text>
<text x="264.2" y="653.4" font-size="9.6" text-anchor="middle" textLength="20.2" lengthAdjust="spacingAndGlyphs">2000</text>
<text x="152" y="667.6" font-size="9.6" font-weight="bold" textLength="30.7" lengthAdjust="spacingAndGlyphs">Year CE</text>
<text x="30.5" y="543" font-size="10" font-weight="bold" fill="#0000ff" text-anchor="middle" textLength="59" lengthAdjust="spacingAndGlyphs" transform="rotate(-90 30.5 543)" dominant-baseline="central">JJAS prcp (mm)</text>
<text x="310" y="545.5" font-size="10" font-weight="bold" fill="#ff1a1a" text-anchor="middle" textLength="36" lengthAdjust="spacingAndGlyphs" transform="rotate(-90 310 545.5)" dominant-baseline="central">δ<tspan font-size="6.2" dy="-3.5">18</tspan><tspan dy="3.5">O</tspan><tspan font-weight="normal">(‰)</tspan></text>
<text x="124.9" y="614" font-size="9.6" font-weight="bold" fill="#111" textLength="82" lengthAdjust="spacingAndGlyphs">Sahiya <tspan font-family="Liberation Serif" font-weight="normal" font-size="10.6">δ</tspan><tspan font-size="6" dy="-3.4">18</tspan><tspan dy="3.4">O vs. prcp</tspan></text>
<text x="122.3" y="625.4" font-size="9.6" font-weight="bold" fill="#111" textLength="89" lengthAdjust="spacingAndGlyphs"><tspan font-style="italic">r</tspan> = -0.64 [-0.67, -0.61]</text>
<line x1="413.4" y1="487.2" x2="413.4" y2="629.6" stroke="#6f6fff" stroke-width="1.2"/>
<line x1="408" y1="629.6" x2="413.4" y2="629.6" stroke="#6f6fff" stroke-width="1"/>
<line x1="410.1" y1="615.36" x2="413.4" y2="615.36" stroke="#6f6fff" stroke-width="1"/>
<line x1="408" y1="601.12" x2="413.4" y2="601.12" stroke="#6f6fff" stroke-width="1"/>
<line x1="410.1" y1="586.88" x2="413.4" y2="586.88" stroke="#6f6fff" stroke-width="1"/>
<line x1="408" y1="572.64" x2="413.4" y2="572.64" stroke="#6f6fff" stroke-width="1"/>
<line x1="410.1" y1="558.4" x2="413.4" y2="558.4" stroke="#6f6fff" stroke-width="1"/>
<line x1="408" y1="544.16" x2="413.4" y2="544.16" stroke="#6f6fff" stroke-width="1"/>
<line x1="410.1" y1="529.92" x2="413.4" y2="529.92" stroke="#6f6fff" stroke-width="1"/>
<line x1="408" y1="515.68" x2="413.4" y2="515.68" stroke="#6f6fff" stroke-width="1"/>
<line x1="410.1" y1="501.44" x2="413.4" y2="501.44" stroke="#6f6fff" stroke-width="1"/>
<line x1="408" y1="487.2" x2="413.4" y2="487.2" stroke="#6f6fff" stroke-width="1"/>
<text x="406.3" y="490.66" font-size="9.6" fill="#0000ff" text-anchor="end" textLength="14.25" lengthAdjust="spacingAndGlyphs">860</text>
<text x="406.3" y="519.16" font-size="9.6" fill="#0000ff" text-anchor="end" textLength="14.25" lengthAdjust="spacingAndGlyphs">840</text>
<text x="406.3" y="547.66" font-size="9.6" fill="#0000ff" text-anchor="end" textLength="14.25" lengthAdjust="spacingAndGlyphs">820</text>
<text x="406.3" y="576.06" font-size="9.6" fill="#0000ff" text-anchor="end" textLength="14.25" lengthAdjust="spacingAndGlyphs">800</text>
<text x="406.3" y="604.56" font-size="9.6" fill="#0000ff" text-anchor="end" textLength="14.25" lengthAdjust="spacingAndGlyphs">780</text>
<text x="406.3" y="633.06" font-size="9.6" fill="#0000ff" text-anchor="end" textLength="14.25" lengthAdjust="spacingAndGlyphs">760</text>
<line x1="633" y1="466.7" x2="633" y2="629.6" stroke="#ff8080" stroke-width="1.2"/>
<line x1="633" y1="466.7" x2="637.8" y2="466.7" stroke="#ff8080" stroke-width="1"/>
<line x1="633" y1="487.06" x2="636" y2="487.06" stroke="#ff8080" stroke-width="1"/>
<line x1="633" y1="507.42" x2="637.8" y2="507.42" stroke="#ff8080" stroke-width="1"/>
<line x1="633" y1="527.78" x2="636" y2="527.78" stroke="#ff8080" stroke-width="1"/>
<line x1="633" y1="548.14" x2="637.8" y2="548.14" stroke="#ff8080" stroke-width="1"/>
<line x1="633" y1="568.5" x2="636" y2="568.5" stroke="#ff8080" stroke-width="1"/>
<line x1="633" y1="588.86" x2="637.8" y2="588.86" stroke="#ff8080" stroke-width="1"/>
<line x1="633" y1="609.22" x2="636" y2="609.22" stroke="#ff8080" stroke-width="1"/>
<line x1="633" y1="629.58" x2="637.8" y2="629.58" stroke="#ff8080" stroke-width="1"/>
<text x="637.8" y="470.16" font-size="9.6" fill="#ff3030" textLength="17.4" lengthAdjust="spacingAndGlyphs">-5.5</text>
<text x="637.8" y="510.86" font-size="9.6" fill="#ff3030" textLength="9.5" lengthAdjust="spacingAndGlyphs">-5</text>
<text x="637.8" y="551.56" font-size="9.6" fill="#ff3030" textLength="17.4" lengthAdjust="spacingAndGlyphs">-4.5</text>
<text x="637.8" y="592.26" font-size="9.6" fill="#ff3030" textLength="9.5" lengthAdjust="spacingAndGlyphs">-4</text>
<text x="637.8" y="633.06" font-size="9.6" fill="#ff3030" textLength="17.4" lengthAdjust="spacingAndGlyphs">-3.5</text>
<line x1="416.3" y1="629.4" x2="628.8" y2="629.4" stroke="#555" stroke-width="1.1"/>
<line x1="416.8" y1="629.4" x2="416.8" y2="636.2" stroke="#555" stroke-width="0.9"/>
<line x1="420.79" y1="629.4" x2="420.79" y2="633" stroke="#555" stroke-width="0.9"/>
<line x1="424.78" y1="629.4" x2="424.78" y2="633" stroke="#555" stroke-width="0.9"/>
<line x1="428.77" y1="629.4" x2="428.77" y2="633" stroke="#555" stroke-width="0.9"/>
<line x1="432.76" y1="629.4" x2="432.76" y2="633" stroke="#555" stroke-width="0.9"/>
<line x1="436.75" y1="629.4" x2="436.75" y2="636.2" stroke="#555" stroke-width="0.9"/>
<line x1="440.74" y1="629.4" x2="440.74" y2="633" stroke="#555" stroke-width="0.9"/>
<line x1="444.73" y1="629.4" x2="444.73" y2="633" stroke="#555" stroke-width="0.9"/>
<line x1="448.72" y1="629.4" x2="448.72" y2="633" stroke="#555" stroke-width="0.9"/>
<line x1="452.71" y1="629.4" x2="452.71" y2="633" stroke="#555" stroke-width="0.9"/>
<line x1="456.7" y1="629.4" x2="456.7" y2="636.2" stroke="#555" stroke-width="0.9"/>
<line x1="460.69" y1="629.4" x2="460.69" y2="633" stroke="#555" stroke-width="0.9"/>
<line x1="464.68" y1="629.4" x2="464.68" y2="633" stroke="#555" stroke-width="0.9"/>
<line x1="468.67" y1="629.4" x2="468.67" y2="633" stroke="#555" stroke-width="0.9"/>
<line x1="472.66" y1="629.4" x2="472.66" y2="633" stroke="#555" stroke-width="0.9"/>
<line x1="476.65" y1="629.4" x2="476.65" y2="636.2" stroke="#555" stroke-width="0.9"/>
<line x1="480.64" y1="629.4" x2="480.64" y2="633" stroke="#555" stroke-width="0.9"/>
<line x1="484.63" y1="629.4" x2="484.63" y2="633" stroke="#555" stroke-width="0.9"/>
<line x1="488.62" y1="629.4" x2="488.62" y2="633" stroke="#555" stroke-width="0.9"/>
<line x1="492.61" y1="629.4" x2="492.61" y2="633" stroke="#555" stroke-width="0.9"/>
<line x1="496.6" y1="629.4" x2="496.6" y2="636.2" stroke="#555" stroke-width="0.9"/>
<line x1="500.59" y1="629.4" x2="500.59" y2="633" stroke="#555" stroke-width="0.9"/>
<line x1="504.58" y1="629.4" x2="504.58" y2="633" stroke="#555" stroke-width="0.9"/>
<line x1="508.57" y1="629.4" x2="508.57" y2="633" stroke="#555" stroke-width="0.9"/>
<line x1="512.56" y1="629.4" x2="512.56" y2="633" stroke="#555" stroke-width="0.9"/>
<line x1="516.55" y1="629.4" x2="516.55" y2="636.2" stroke="#555" stroke-width="0.9"/>
<line x1="520.54" y1="629.4" x2="520.54" y2="633" stroke="#555" stroke-width="0.9"/>
<line x1="524.53" y1="629.4" x2="524.53" y2="633" stroke="#555" stroke-width="0.9"/>
<line x1="528.52" y1="629.4" x2="528.52" y2="633" stroke="#555" stroke-width="0.9"/>
<line x1="532.51" y1="629.4" x2="532.51" y2="633" stroke="#555" stroke-width="0.9"/>
<line x1="536.5" y1="629.4" x2="536.5" y2="636.2" stroke="#555" stroke-width="0.9"/>
<line x1="540.49" y1="629.4" x2="540.49" y2="633" stroke="#555" stroke-width="0.9"/>
<line x1="544.48" y1="629.4" x2="544.48" y2="633" stroke="#555" stroke-width="0.9"/>
<line x1="548.47" y1="629.4" x2="548.47" y2="633" stroke="#555" stroke-width="0.9"/>
<line x1="552.46" y1="629.4" x2="552.46" y2="633" stroke="#555" stroke-width="0.9"/>
<line x1="556.45" y1="629.4" x2="556.45" y2="636.2" stroke="#555" stroke-width="0.9"/>
<line x1="560.44" y1="629.4" x2="560.44" y2="633" stroke="#555" stroke-width="0.9"/>
<line x1="564.43" y1="629.4" x2="564.43" y2="633" stroke="#555" stroke-width="0.9"/>
<line x1="568.42" y1="629.4" x2="568.42" y2="633" stroke="#555" stroke-width="0.9"/>
<line x1="572.41" y1="629.4" x2="572.41" y2="633" stroke="#555" stroke-width="0.9"/>
<line x1="576.4" y1="629.4" x2="576.4" y2="636.2" stroke="#555" stroke-width="0.9"/>
<line x1="580.39" y1="629.4" x2="580.39" y2="633" stroke="#555" stroke-width="0.9"/>
<line x1="584.38" y1="629.4" x2="584.38" y2="633" stroke="#555" stroke-width="0.9"/>
<line x1="588.37" y1="629.4" x2="588.37" y2="633" stroke="#555" stroke-width="0.9"/>
<line x1="592.36" y1="629.4" x2="592.36" y2="633" stroke="#555" stroke-width="0.9"/>
<line x1="596.35" y1="629.4" x2="596.35" y2="636.2" stroke="#555" stroke-width="0.9"/>
<line x1="600.34" y1="629.4" x2="600.34" y2="633" stroke="#555" stroke-width="0.9"/>
<line x1="604.33" y1="629.4" x2="604.33" y2="633" stroke="#555" stroke-width="0.9"/>
<line x1="608.32" y1="629.4" x2="608.32" y2="633" stroke="#555" stroke-width="0.9"/>
<line x1="612.31" y1="629.4" x2="612.31" y2="633" stroke="#555" stroke-width="0.9"/>
<line x1="616.3" y1="629.4" x2="616.3" y2="636.2" stroke="#555" stroke-width="0.9"/>
<line x1="620.29" y1="629.4" x2="620.29" y2="633" stroke="#555" stroke-width="0.9"/>
<line x1="624.28" y1="629.4" x2="624.28" y2="633" stroke="#555" stroke-width="0.9"/>
<line x1="628.27" y1="629.4" x2="628.27" y2="633" stroke="#555" stroke-width="0.9"/>
<text x="419" y="647.6" font-size="9.6" text-anchor="middle" textLength="20.2" lengthAdjust="spacingAndGlyphs">1900</text>
<text x="458.6" y="647.6" font-size="9.6" text-anchor="middle" textLength="20.2" lengthAdjust="spacingAndGlyphs">1920</text>
<text x="498.6" y="647.6" font-size="9.6" text-anchor="middle" textLength="20.2" lengthAdjust="spacingAndGlyphs">1940</text>
<text x="538.5" y="647.6" font-size="9.6" text-anchor="middle" textLength="20.2" lengthAdjust="spacingAndGlyphs">1960</text>
<text x="578.4" y="647.6" font-size="9.6" text-anchor="middle" textLength="20.2" lengthAdjust="spacingAndGlyphs">1980</text>
<text x="618.3" y="647.6" font-size="9.6" text-anchor="middle" textLength="20.2" lengthAdjust="spacingAndGlyphs">2000</text>
<text x="506.4" y="662" font-size="9.6" font-weight="bold" textLength="30.5" lengthAdjust="spacingAndGlyphs">Year CE</text>
<text x="384.7" y="540.5" font-size="10" font-weight="bold" fill="#0000ff" text-anchor="middle" textLength="59" lengthAdjust="spacingAndGlyphs" transform="rotate(-90 384.7 540.5)" dominant-baseline="central">JJAS prcp (mm)</text>
<text x="662.5" y="542" font-size="10" font-weight="bold" fill="#ff1a1a" text-anchor="middle" textLength="34" lengthAdjust="spacingAndGlyphs" transform="rotate(-90 662.5 542)" dominant-baseline="central">δ<tspan font-size="6.2" dy="-3.5">18</tspan><tspan dy="3.5">O</tspan><tspan font-weight="normal">(‰)</tspan></text>
<text x="469.5" y="610.1" font-size="9.6" font-weight="bold" fill="#111" textLength="86.9" lengthAdjust="spacingAndGlyphs">Jhumar <tspan font-family="Liberation Serif" font-weight="normal" font-size="10.6">δ</tspan><tspan font-size="6" dy="-3.4">18</tspan><tspan dy="3.4">O vs. prcp</tspan></text>
<text x="468.5" y="621.5" font-size="9.6" font-weight="bold" fill="#111" textLength="89.1" lengthAdjust="spacingAndGlyphs"><tspan font-style="italic">r</tspan> = -0.31 [-0.32, -0.30]</text>
<path d="M114.3 387.5 L117.3 360.6 L120.4 384.5 L123.4 407.8 L126.5 364.2 L129.6 386.9 L132.6 388.1 L135.7 411.4 L138.7 420.4 L141.8 385.1 L144.8 374.9 L147.8 394.7 L150.9 379.7 L153.9 383.3 L157.0 366.0 L160.1 376.7 L163.1 363.0 L166.1 371.0 L169.2 383.3 L172.2 394.1 L175.3 396.5 L178.3 397.7 L181.4 408.4 L184.4 367.1 L187.5 379.1 L190.6 374.9 L193.6 355.8 L196.6 372.5 L199.7 394.1 L202.8 373.7 L205.8 374.3 L208.8 368.9 L211.9 357.0 L214.9 393.5 L218.0 349.2 L221.1 377.3 L224.1 403.7 L227.1 378.5" stroke="#ff0000" stroke-width="1.15" fill="none" stroke-linejoin="round"/>
<path d="M114.3 388.1 L117.3 382.7 L120.4 386.3 L123.4 403.7 L126.5 379.7 L129.6 385.1 L132.6 389.3 L135.7 401.3 L138.7 413.2 L141.8 394.7 L144.8 400.1 L147.8 387.5 L150.9 396.5 L153.9 390.2 L157.0 398.3 L160.1 372.5 L163.1 387.5 L166.1 406.0 L169.2 369.2 L172.2 390.5 L175.3 393.2 L178.3 397.7 L181.4 389.3 L184.4 400.1 L187.5 380.3 L190.6 376.1 L193.6 357.0 L196.6 355.8 L199.7 360.6 L202.8 366.5 L205.8 389.3 L208.8 373.7 L211.9 352.2 L214.9 372.5 L218.0 359.4 L221.1 380.9 L224.1 389.9 L227.1 366.0" stroke="#0000ff" stroke-width="1.15" fill="none" stroke-linejoin="round"/>
<path d="M468.2 383.4 L471.2 386.0 L474.2 399.6 L477.2 387.9 L480.2 351.7 L483.2 411.9 L486.2 411.9 L489.2 387.9 L492.2 418.3 L495.2 386.6 L498.2 386.6 L501.2 404.1 L504.2 408.6 L507.2 378.8 L510.2 414.5 L513.2 388.6 L516.2 399.6 L519.2 398.3 L522.2 403.4 L525.2 421.6 L528.2 417.0 L531.2 400.9 L534.2 389.2 L537.2 403.4 L540.2 391.8 L543.2 404.1 L546.2 385.3 L549.2 375.0 L552.2 376.9 L555.2 382.7 L558.2 400.2 L561.2 374.3 L564.2 373.7 L567.2 393.1 L570.2 371.1 L573.2 387.9 L576.2 413.8 L579.2 360.1" stroke="#ff0000" stroke-width="1.1" fill="none" stroke-linejoin="round"/>
<path d="M468.2 397.0 L471.2 393.1 L474.2 394.4 L477.2 406.7 L480.2 372.4 L483.2 403.4 L486.2 411.2 L489.2 416.4 L492.2 413.2 L495.2 401.5 L498.2 417.7 L501.2 414.5 L504.2 411.2 L507.2 417.7 L510.2 425.5 L513.2 399.6 L516.2 413.2 L519.2 425.5 L522.2 379.5 L525.2 413.8 L528.2 417.7 L531.2 422.2 L534.2 410.6 L537.2 417.7 L540.2 395.7 L543.2 382.7 L546.2 359.4 L549.2 364.0 L552.2 373.7 L555.2 381.4 L558.2 409.9 L561.2 385.3 L564.2 356.2 L567.2 378.8 L570.2 362.0 L573.2 393.1 L576.2 389.2 L579.2 380.8" stroke="#0000ff" stroke-width="1.1" fill="none" stroke-linejoin="round"/>
<path d="M63.0 606.5 L65.9 602.2 L69.3 601.4 L72.7 602.8 L74.4 594.6 L76.9 569.3 L78.6 576.1 L81.1 580.3 L83.3 587.9 L85.4 581.1 L87.0 584.5 L89.6 577.7 L91.8 575.2 L93.8 576.9 L95.5 567.6 L97.2 572.7 L99.2 579.4 L101.9 571.8 L104.3 559.2 L107.0 546.5 L109.0 548.2 L111.5 556.6 L114.1 557.5 L117.0 565.3 L118.7 557.7 L120.9 544.2 L123.1 531.5 L124.8 519.7 L126.8 528.2 L128.5 527.3 L130.2 522.3 L131.9 513.8 L133.3 512.1 L134.9 535.8 L137.0 517.2 L138.7 513.0 L140.7 505.4 L142.9 512.1 L145.1 517.2 L147.1 502.0 L148.8 502.0 L150.8 498.6 L153.0 496.1 L155.1 503.7 L156.9 506.2 L158.9 498.6 L161.0 502.8 L162.8 513.0 L164.9 518.9 L167.1 523.9 L169.1 521.4 L170.8 523.9 L172.5 536.6 L174.2 537.5 L176.4 499.4 L178.5 503.7 L180.5 511.3 L182.7 505.4 L184.9 503.7 L186.6 508.7 L188.6 488.5 L190.6 486.8 L192.8 513.8 L194.5 538.3 L196.7 529.9 L198.7 532.4 L200.8 540.8 L203.0 547.6 L204.6 552.7 L206.3 561.1 L208.5 554.4 L210.6 542.5 L212.6 529.0 L214.8 542.5 L216.5 556.1 L218.7 547.6 L220.7 545.1 L222.7 557.7 L224.9 539.2 L226.7 559.2 L228.7 577.7 L230.9 576.9 L233.1 549.0 L234.8 541.4 L236.8 549.0 L238.9 562.5 L241.1 565.9 L242.7 551.5 L244.4 587.0 L246.6 582.8 L248.7 579.4 L250.7 574.4 L252.9 565.9 L255.1 562.2 L256.6 585.3 L258.3 574.4 L260.5 581.1 L263.0 582.5 L266.4 580.8 L268.6 572.3 L270.6 582.8 L272.7 593.8 L274.9 591.3" stroke="#ff2020" stroke-width="1.05" fill="none" stroke-linejoin="round"/>
<path d="M63.0 574.4 L65.1 576.9 L66.8 583.7 L68.8 577.7 L71.0 597.2 L72.7 596.3 L74.9 592.1 L76.9 605.6 L78.6 598.9 L80.6 612.4 L82.8 611.5 L85.0 592.1 L87.0 594.6 L89.6 587.0 L93.0 579.4 L96.8 565.1 L99.7 573.5 L101.9 569.3 L104.8 576.1 L107.3 571.0 L109.0 556.6 L110.7 555.8 L113.2 548.2 L114.9 553.2 L117.0 544.2 L118.7 559.4 L120.9 577.2 L123.5 569.6 L125.1 565.3 L126.8 554.4 L129.4 549.3 L131.9 543.4 L134.4 539.2 L136.6 535.8 L138.7 538.3 L140.7 539.2 L142.9 542.2 L145.1 539.2 L147.1 535.8 L148.8 534.9 L150.8 529.0 L153.0 531.5 L155.1 537.5 L156.9 530.7 L158.9 523.9 L161.0 524.8 L162.8 516.3 L164.9 509.6 L166.5 507.9 L168.7 491.0 L170.0 496.9 L171.4 513.0 L173.0 518.9 L174.7 523.1 L176.4 537.5 L178.8 540.0 L180.5 537.5 L182.7 533.2 L184.9 543.4 L186.6 536.6 L188.6 535.8 L190.3 523.9 L192.0 518.9 L194.5 518.0 L196.7 516.3 L198.4 530.7 L200.4 524.8 L202.4 529.0 L204.6 542.5 L206.3 530.7 L208.5 545.1 L210.6 547.6 L213.1 554.4 L214.8 571.3 L216.5 556.1 L219.0 543.4 L221.0 540.0 L223.2 540.8 L225.0 546.5 L226.4 550.7 L228.4 543.1 L230.9 536.3 L232.6 540.6 L234.8 531.3 L236.8 540.6 L238.9 549.0 L241.1 560.0 L243.3 572.7 L245.3 575.2 L247.0 575.2 L248.7 581.1 L250.7 571.0 L252.9 577.7 L255.1 569.3 L256.8 562.5 L258.8 563.4 L260.8 540.6 L263.0 539.7 L266.4 534.6 L269.8 534.6 L272.7 529.6 L274.9 535.5" stroke="#0000ff" stroke-width="1.15" fill="none" stroke-linejoin="round"/>
<path d="M417.2 560.6 L418.9 549.6 L421.5 547.0 L423.1 553.8 L424.8 580.0 L426.5 577.5 L429.1 554.6 L431.6 527.6 L433.3 535.2 L435.0 553.8 L436.7 579.2 L439.2 589.3 L441.7 586.8 L443.8 589.3 L446.0 574.1 L447.6 564.8 L449.3 556.3 L451.5 568.2 L453.6 596.0 L455.6 594.4 L457.3 586.8 L459.5 582.5 L461.7 597.7 L463.7 598.6 L465.7 595.2 L467.6 588.0 L469.4 550.0 L471.1 524.0 L473.2 539.0 L475.6 520.7 L477.8 503.8 L479.5 501.3 L481.5 509.7 L483.5 512.3 L485.7 505.5 L487.9 506.3 L490.0 507.2 L492.0 509.7 L493.7 501.3 L495.4 508.0 L497.6 530.8 L499.6 556.2 L501.8 555.3 L503.8 535.9 L506.0 529.2 L508.6 521.5 L511.6 512.3 L513.6 516.5 L516.2 534.2 L518.7 546.1 L521.7 561.3 L523.0 554.5 L525.0 541.0 L527.2 527.5 L529.8 517.3 L531.8 519.9 L533.5 519.9 L535.2 505.5 L537.4 502.1 L539.9 508.9 L541.9 522.4 L543.6 542.7 L545.3 578.2 L547.5 564.6 L549.7 573.1 L551.7 581.5 L553.8 575.6 L555.4 579.9 L557.6 562.1 L559.3 537.6 L561.5 532.5 L563.6 534.2 L566.1 541.0 L568.3 546.9 L570.3 546.9 L572.0 545.2 L574.0 549.4 L575.7 556.2 L577.7 569.3 L579.9 573.5 L581.8 564.6 L583.7 554.1 L584.9 576.6 L586.0 596.3 L587.7 616.1 L589.8 627.3 L591.6 624.5 L593.3 609.0 L595.0 587.9 L596.1 576.6 L598.2 572.4 L600.4 563.9 L602.0 555.5 L603.2 548.6 L605.0 527.6 L606.4 509.0 L608.4 499.7 L610.1 510.7 L611.8 503.9 L613.8 500.6 L616.0 510.7 L617.7 532.7 L618.7 559.7 L620.1 579.4 L622.2 580.1 L623.6 545.0 L624.2 531.0 L626.2 484.5 L628.4 481.1 L630.4 477.7" stroke="#ff2020" stroke-width="1.05" fill="none" stroke-linejoin="round"/>
<path d="M417.2 574.1 L419.4 577.5 L421.5 581.7 L423.5 573.7 L424.8 592.7 L427.4 594.4 L429.1 592.7 L431.6 607.0 L433.3 601.1 L435.0 611.3 L437.5 617.2 L439.7 597.7 L441.4 602.8 L443.4 598.6 L446.0 593.5 L448.5 586.8 L451.0 571.5 L453.2 577.5 L455.6 576.6 L457.8 579.2 L460.0 579.2 L462.0 575.8 L463.7 559.7 L466.2 556.3 L467.9 553.0 L469.7 554.5 L471.4 545.2 L473.4 559.6 L475.6 571.4 L477.8 566.3 L479.5 563.8 L481.5 549.4 L484.1 541.0 L486.6 530.8 L489.1 519.9 L491.7 513.1 L493.7 515.6 L495.9 519.0 L498.1 523.7 L500.1 523.2 L501.8 518.2 L503.8 516.5 L505.5 509.7 L507.7 508.0 L509.4 518.2 L511.6 512.3 L513.6 501.3 L515.7 506.3 L517.3 499.6 L519.5 494.5 L521.7 495.0 L523.4 478.8 L524.7 486.9 L526.4 501.3 L528.4 510.6 L530.1 519.0 L531.8 535.1 L533.5 539.3 L535.2 536.8 L537.4 534.2 L539.6 547.7 L541.6 539.3 L543.6 542.7 L545.8 530.0 L548.0 527.1 L550.0 530.0 L552.1 530.0 L553.8 546.9 L555.4 537.6 L557.6 541.0 L559.8 554.5 L561.9 544.4 L563.9 560.4 L566.1 564.6 L568.3 569.7 L570.0 583.2 L572.3 565.5 L574.5 551.1 L576.4 542.0 L578.3 542.5 L580.0 546.5 L582.0 553.9 L583.7 543.2 L586.1 536.1 L587.8 542.8 L589.8 531.0 L592.4 539.4 L594.7 548.5 L597.5 564.6 L600.4 568.2 L602.5 572.4 L604.3 576.6 L606.0 563.2 L608.1 566.8 L610.2 556.9 L611.9 550.6 L613.7 551.3 L615.1 542.8 L616.5 533.5 L619.4 533.5 L622.3 532.7 L624.5 534.4 L626.7 533.5 L628.4 527.6 L630.4 535.2" stroke="#0000ff" stroke-width="1.15" fill="none" stroke-linejoin="round"/>
</svg></body></html>
